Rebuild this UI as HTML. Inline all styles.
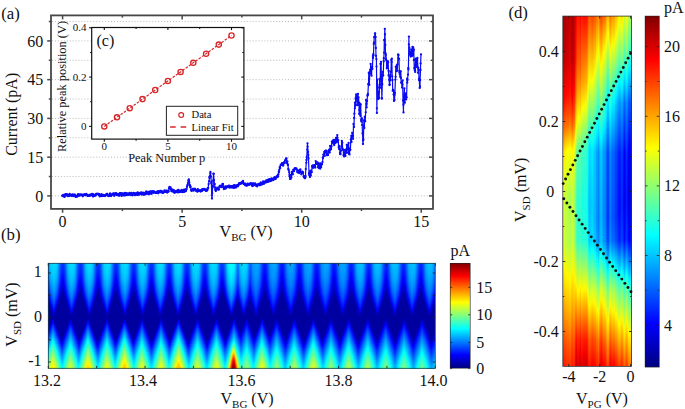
<!DOCTYPE html>
<html><head><meta charset="utf-8"><style>
html,body{margin:0;padding:0;background:#fff;}
body{width:685px;height:409px;overflow:hidden;position:relative;font-family:"Liberation Serif",serif;}
svg{position:absolute;left:0;top:0;}
svg text{font-family:"Liberation Serif",serif;fill:#111;}
</style></head><body>
<div style="position:absolute;left:48.3px;top:263.30px;width:387.0px;height:1.30px;background:linear-gradient(90deg,#006fff 0px,#00bfff 2px,#00d6ff 3px,#00dfff 7px,#00cfff 9px,#0041ff 13px,#0031ff 15px,#003aff 16px,#0079ff 18px,#00c6ff 20px,#00deff 22px,#00d9ff 26px,#00c9ff 27px,#0056ff 30px,#003cff 31px,#0033ff 33px,#003eff 34px,#00cdff 38px,#00e2ff 41px,#00d8ff 44px,#009dff 46px,#004eff 48px,#0030ff 50px,#0044ff 52px,#00d2ff 56px,#00e0ff 60px,#00d4ff 62px,#0092ff 64px,#0047ff 66px,#0030ff 68px,#004bff 70px,#00bfff 73px,#00d6ff 74px,#00dfff 78px,#00cfff 80px,#0041ff 84px,#0031ff 86px,#003aff 87px,#0079ff 89px,#00c6ff 91px,#00deff 93px,#00d9ff 97px,#00c9ff 98px,#0056ff 101px,#003cff 102px,#0033ff 104px,#003eff 105px,#00cdff 109px,#00e2ff 112px,#00d8ff 115px,#009dff 117px,#004eff 119px,#0030ff 121px,#0044ff 123px,#00d2ff 127px,#00e0ff 131px,#00d4ff 133px,#0092ff 135px,#0047ff 137px,#0030ff 139px,#004bff 141px,#00bfff 144px,#00d6ff 145px,#00dfff 149px,#00cfff 151px,#0041ff 155px,#0031ff 157px,#003aff 158px,#0079ff 160px,#00c6ff 162px,#00deff 164px,#00d9ff 168px,#00c9ff 169px,#0056ff 172px,#003cff 173px,#0051ff 176px,#009eff 178px,#00f1ff 180px,#05fffa 182px,#00fcff 186px,#00e4ff 187px,#008cff 189px,#0073ff 190px,#00c2ff 192px,#00d8ff 193px,#00dfff 197px,#00cdff 199px,#005cff 202px,#0066ff 203px,#009dff 205px,#00a7ff 209px,#009dff 211px,#0028ff 215px,#0019ff 217px,#0039ff 219px,#0097ff 222px,#00a8ff 226px,#00a1ff 228px,#0072ff 230px,#0031ff 232px,#0017ff 234px,#002fff 236px,#008fff 239px,#00a5ff 241px,#00a3ff 245px,#007dff 247px,#0022ff 250px,#001aff 252px,#0042ff 254px,#009cff 257px,#00a7ff 261px,#009eff 263px,#0029ff 267px,#0018ff 269px,#0037ff 271px,#0096ff 274px,#00a8ff 278px,#00a1ff 280px,#0073ff 282px,#0032ff 284px,#0017ff 286px,#002eff 288px,#008dff 291px,#00a5ff 293px,#00a3ff 297px,#0099ff 298px,#0023ff 302px,#0027ff 304px,#0052ff 306px,#00b6ff 309px,#00c4ff 313px,#00baff 315px,#007fff 317px,#0039ff 319px,#0025ff 321px,#0046ff 323px,#00afff 326px,#00c5ff 329px,#00bdff 332px,#008cff 334px,#0043ff 336px,#0024ff 338px,#003cff 340px,#00a5ff 343px,#00bbff 344px,#00c3ff 348px,#00b4ff 350px,#0032ff 354px,#0027ff 356px,#0050ff 358px,#00b5ff 361px,#00c4ff 365px,#00baff 367px,#0081ff 369px,#003bff 371px,#0025ff 373px,#0045ff 375px,#00aeff 378px,#00c2ff 380px,#00bdff 384px,#00aeff 385px,#007bff 387px)"></div>
<div style="position:absolute;left:48.3px;top:264.30px;width:387.0px;height:1.30px;background:linear-gradient(90deg,#006dff 0px,#00bdff 2px,#00d5ff 3px,#00deff 7px,#00cdff 9px,#003fff 13px,#002fff 15px,#0038ff 16px,#0077ff 18px,#00c4ff 20px,#00dcff 22px,#00d8ff 26px,#00c7ff 27px,#0054ff 30px,#003aff 31px,#0031ff 33px,#003cff 34px,#00cbff 38px,#00e1ff 41px,#00d6ff 44px,#009bff 46px,#004cff 48px,#002eff 50px,#0042ff 52px,#00d1ff 56px,#00dfff 60px,#00d2ff 62px,#0090ff 64px,#0045ff 66px,#002dff 68px,#0049ff 70px,#00bdff 73px,#00d5ff 74px,#00deff 78px,#00cdff 80px,#003fff 84px,#002fff 86px,#0038ff 87px,#0077ff 89px,#00c4ff 91px,#00dcff 93px,#00d8ff 97px,#00c7ff 98px,#0054ff 101px,#003aff 102px,#0031ff 104px,#003cff 105px,#00cbff 109px,#00e1ff 112px,#00d6ff 115px,#009bff 117px,#004cff 119px,#002eff 121px,#0042ff 123px,#00d1ff 127px,#00dfff 131px,#00d2ff 133px,#0090ff 135px,#0045ff 137px,#002dff 139px,#0049ff 141px,#00bdff 144px,#00d5ff 145px,#00deff 149px,#00cdff 151px,#003fff 155px,#002fff 157px,#0038ff 158px,#0077ff 160px,#00c4ff 162px,#00dcff 164px,#00d8ff 168px,#00c7ff 169px,#0054ff 172px,#003aff 173px,#004fff 176px,#009cff 178px,#00eeff 180px,#04fffb 182px,#00faff 186px,#00e2ff 187px,#0089ff 189px,#0071ff 190px,#00c0ff 192px,#00d6ff 193px,#00ddff 197px,#00cbff 199px,#005aff 202px,#0064ff 203px,#009bff 205px,#00a6ff 209px,#009bff 211px,#0027ff 215px,#0017ff 217px,#0037ff 219px,#0095ff 222px,#00a7ff 226px,#009fff 228px,#0070ff 230px,#002fff 232px,#0015ff 234px,#002eff 236px,#008dff 239px,#00a4ff 241px,#00a1ff 245px,#007bff 247px,#0021ff 250px,#0018ff 252px,#0040ff 254px,#009bff 257px,#00a6ff 261px,#009cff 263px,#0028ff 267px,#0016ff 269px,#0036ff 271px,#0094ff 274px,#00a7ff 278px,#00a0ff 280px,#0072ff 282px,#0030ff 284px,#0015ff 286px,#002cff 288px,#008cff 291px,#00a3ff 293px,#00a1ff 297px,#007dff 299px,#0022ff 302px,#0025ff 304px,#0050ff 306px,#00b5ff 309px,#00c3ff 313px,#00b8ff 315px,#007dff 317px,#0038ff 319px,#0023ff 321px,#0044ff 323px,#00adff 326px,#00c4ff 329px,#00bcff 332px,#008aff 334px,#0041ff 336px,#0022ff 338px,#003aff 340px,#00a3ff 343px,#00b9ff 344px,#00c1ff 348px,#00b3ff 350px,#0031ff 354px,#0025ff 356px,#004eff 358px,#00b4ff 361px,#00c3ff 365px,#00b9ff 367px,#007fff 369px,#0039ff 371px,#0023ff 373px,#0043ff 375px,#00acff 378px,#00c4ff 381px,#00bcff 384px,#0079ff 387px)"></div>
<div style="position:absolute;left:48.3px;top:265.30px;width:387.0px;height:1.30px;background:linear-gradient(90deg,#006bff 0px,#00bbff 2px,#00d3ff 3px,#00dcff 7px,#00ccff 9px,#003dff 13px,#002dff 15px,#0036ff 16px,#0075ff 18px,#00c2ff 20px,#00dbff 22px,#00d6ff 26px,#00c5ff 27px,#0052ff 30px,#0037ff 31px,#002eff 33px,#003aff 34px,#00c9ff 38px,#00e0ff 41px,#00d4ff 44px,#0099ff 46px,#004aff 48px,#002bff 50px,#0040ff 52px,#00cfff 56px,#00ddff 60px,#00d1ff 62px,#008eff 64px,#0043ff 66px,#002bff 68px,#0047ff 70px,#00bbff 73px,#00d3ff 74px,#00dcff 78px,#00ccff 80px,#003dff 84px,#002dff 86px,#0036ff 87px,#0075ff 89px,#00c2ff 91px,#00dbff 93px,#00d6ff 97px,#00c5ff 98px,#0052ff 101px,#0037ff 102px,#002eff 104px,#003aff 105px,#00c9ff 109px,#00e0ff 112px,#00d4ff 115px,#0099ff 117px,#004aff 119px,#002bff 121px,#0040ff 123px,#00cfff 127px,#00ddff 131px,#00d1ff 133px,#008eff 135px,#0043ff 137px,#002bff 139px,#0047ff 141px,#00bbff 144px,#00d3ff 145px,#00dcff 149px,#00ccff 151px,#003dff 155px,#002dff 157px,#0036ff 158px,#0075ff 160px,#00c2ff 162px,#00dbff 164px,#00d6ff 168px,#00c5ff 169px,#0052ff 172px,#0037ff 173px,#004dff 176px,#009aff 178px,#00ecff 180px,#02fffd 182px,#00f8ff 186px,#00e0ff 187px,#0087ff 189px,#006fff 190px,#00beff 192px,#00d4ff 193px,#00dcff 197px,#00c9ff 199px,#0058ff 202px,#0062ff 203px,#009aff 205px,#00a5ff 209px,#009aff 211px,#0025ff 215px,#0015ff 217px,#0036ff 219px,#0094ff 222px,#00a6ff 226px,#009eff 228px,#006eff 230px,#002dff 232px,#0013ff 234px,#002cff 236px,#008bff 239px,#00a2ff 241px,#00a0ff 245px,#007aff 247px,#001fff 250px,#0016ff 252px,#003fff 254px,#0099ff 257px,#00a5ff 261px,#009bff 263px,#0026ff 267px,#0014ff 269px,#0034ff 271px,#0092ff 274px,#00a6ff 278px,#009eff 280px,#0070ff 282px,#002fff 284px,#0013ff 286px,#002bff 288px,#008aff 291px,#00a2ff 293px,#00a0ff 297px,#007bff 299px,#0020ff 302px,#0023ff 304px,#004eff 306px,#00b3ff 309px,#00c1ff 313px,#00b6ff 315px,#007bff 317px,#0036ff 319px,#0021ff 321px,#0043ff 323px,#00abff 326px,#00c3ff 329px,#00baff 332px,#0088ff 334px,#003fff 336px,#0020ff 338px,#0038ff 340px,#00a2ff 343px,#00b8ff 344px,#00c0ff 348px,#00b1ff 350px,#002fff 354px,#0023ff 356px,#004cff 358px,#00b2ff 361px,#00c2ff 365px,#00b7ff 367px,#007dff 369px,#0037ff 371px,#0020ff 373px,#0041ff 375px,#00aaff 378px,#00c3ff 381px,#00baff 384px,#0077ff 387px)"></div>
<div style="position:absolute;left:48.3px;top:266.30px;width:387.0px;height:1.30px;background:linear-gradient(90deg,#0069ff 0px,#00b9ff 2px,#00d1ff 3px,#00dbff 7px,#00caff 9px,#003aff 13px,#002aff 15px,#004dff 17px,#00c0ff 20px,#00d9ff 22px,#00d4ff 26px,#00c3ff 27px,#0050ff 30px,#0035ff 31px,#002cff 33px,#0038ff 34px,#00c7ff 38px,#00dfff 41px,#00d2ff 44px,#0096ff 46px,#0048ff 48px,#0029ff 50px,#003eff 52px,#00cdff 56px,#00dcff 60px,#00cfff 62px,#008cff 64px,#0041ff 66px,#0028ff 68px,#0045ff 70px,#00b9ff 73px,#00d1ff 74px,#00dbff 78px,#00caff 80px,#003aff 84px,#002aff 86px,#004dff 88px,#00c0ff 91px,#00d9ff 93px,#00d4ff 97px,#00c3ff 98px,#0050ff 101px,#0035ff 102px,#002cff 104px,#0038ff 105px,#00c7ff 109px,#00dfff 112px,#00d2ff 115px,#0096ff 117px,#0048ff 119px,#0029ff 121px,#003eff 123px,#00cdff 127px,#00dcff 131px,#00cfff 133px,#008cff 135px,#0041ff 137px,#0028ff 139px,#0045ff 141px,#00b9ff 144px,#00d1ff 145px,#00dbff 149px,#00caff 151px,#003aff 155px,#002aff 157px,#004dff 159px,#00c0ff 162px,#00d9ff 164px,#00d4ff 168px,#00c3ff 169px,#0050ff 172px,#0035ff 173px,#003cff 175px,#004aff 176px,#0097ff 178px,#00eaff 180px,#00ffff 182px,#00f6ff 186px,#00ddff 187px,#0085ff 189px,#006dff 190px,#00bcff 192px,#00d2ff 193px,#00daff 197px,#00c7ff 199px,#0055ff 202px,#0060ff 203px,#0098ff 205px,#00a4ff 209px,#0098ff 211px,#0023ff 215px,#0013ff 217px,#0034ff 219px,#0092ff 222px,#00a5ff 226px,#009cff 228px,#006cff 230px,#002cff 232px,#0011ff 234px,#002aff 236px,#008aff 239px,#00a1ff 241px,#009eff 245px,#0078ff 247px,#001dff 250px,#0015ff 252px,#003dff 254px,#0098ff 257px,#00a4ff 261px,#0099ff 263px,#0024ff 267px,#0012ff 269px,#0032ff 271px,#0091ff 274px,#00a5ff 278px,#009dff 280px,#006eff 282px,#002dff 284px,#0011ff 286px,#0029ff 288px,#0088ff 291px,#00a1ff 293px,#009fff 297px,#007aff 299px,#001eff 302px,#0021ff 304px,#004cff 306px,#00b1ff 309px,#00c0ff 313px,#00b5ff 315px,#0079ff 317px,#0034ff 319px,#001eff 321px,#0041ff 323px,#00a9ff 326px,#00c2ff 329px,#00b8ff 332px,#0086ff 334px,#003eff 336px,#001eff 338px,#0036ff 340px,#00a0ff 343px,#00b6ff 344px,#00bfff 348px,#00afff 350px,#002dff 354px,#0020ff 356px,#004aff 358px,#00b0ff 361px,#00c0ff 365px,#00b5ff 367px,#007bff 369px,#0035ff 371px,#001eff 373px,#003fff 375px,#00a8ff 378px,#00c2ff 381px,#00b9ff 384px,#0075ff 387px)"></div>
<div style="position:absolute;left:48.3px;top:267.30px;width:387.0px;height:1.30px;background:linear-gradient(90deg,#0066ff 0px,#00b6ff 2px,#00cfff 3px,#00d9ff 7px,#00c7ff 9px,#0038ff 13px,#0027ff 15px,#004bff 17px,#00beff 20px,#00d7ff 22px,#00d2ff 26px,#00c1ff 27px,#004eff 30px,#0033ff 31px,#0029ff 33px,#0036ff 34px,#00c5ff 38px,#00ddff 41px,#00d0ff 44px,#0094ff 46px,#0046ff 48px,#0026ff 50px,#003cff 52px,#00cbff 56px,#00daff 60px,#00cdff 62px,#008aff 64px,#003fff 66px,#0025ff 68px,#0043ff 70px,#00b6ff 73px,#00cfff 74px,#00d9ff 78px,#00c7ff 80px,#0038ff 84px,#0027ff 86px,#004bff 88px,#00beff 91px,#00d7ff 93px,#00d2ff 97px,#00c1ff 98px,#004eff 101px,#0033ff 102px,#0029ff 104px,#0036ff 105px,#00c5ff 109px,#00ddff 112px,#00d0ff 115px,#0094ff 117px,#0046ff 119px,#0026ff 121px,#003cff 123px,#00cbff 127px,#00daff 131px,#00cdff 133px,#008aff 135px,#003fff 137px,#0025ff 139px,#0043ff 141px,#00b6ff 144px,#00cfff 145px,#00d9ff 149px,#00c7ff 151px,#0038ff 155px,#0027ff 157px,#004bff 159px,#00beff 162px,#00d7ff 164px,#00d2ff 168px,#00c1ff 169px,#004eff 172px,#0033ff 173px,#003aff 175px,#0048ff 176px,#0095ff 178px,#00e8ff 180px,#04fffb 183px,#00f4ff 186px,#00dbff 187px,#0082ff 189px,#006aff 190px,#00baff 192px,#00d0ff 193px,#00d8ff 197px,#00c5ff 199px,#0053ff 202px,#005fff 203px,#0097ff 205px,#00a2ff 209px,#0097ff 211px,#0021ff 215px,#0011ff 217px,#0032ff 219px,#0090ff 222px,#00a4ff 226px,#009bff 228px,#006bff 230px,#002aff 232px,#000fff 234px,#0028ff 236px,#0088ff 239px,#009fff 241px,#009dff 245px,#0076ff 247px,#001bff 250px,#0013ff 252px,#003bff 254px,#0096ff 257px,#00a3ff 261px,#0097ff 263px,#0022ff 267px,#0010ff 269px,#0031ff 271px,#008fff 274px,#00a5ff 277px,#009bff 280px,#006cff 282px,#002bff 284px,#000fff 286px,#0027ff 288px,#0086ff 291px,#009fff 293px,#009dff 297px,#0078ff 299px,#001cff 302px,#001fff 304px,#004aff 306px,#00afff 309px,#00bfff 313px,#00b3ff 315px,#0077ff 317px,#0032ff 319px,#001cff 321px,#003fff 323px,#00a7ff 326px,#00c0ff 329px,#00b7ff 332px,#0084ff 334px,#003bff 336px,#001bff 338px,#0034ff 340px,#009eff 343px,#00baff 345px,#00bdff 348px,#00adff 350px,#002bff 354px,#001eff 356px,#0048ff 358px,#00aeff 361px,#00bfff 365px,#00b3ff 367px,#0079ff 369px,#0033ff 371px,#001cff 373px,#003dff 375px,#00a6ff 378px,#00c0ff 381px,#00b7ff 384px,#0073ff 387px)"></div>
<div style="position:absolute;left:48.3px;top:268.30px;width:387.0px;height:1.30px;background:linear-gradient(90deg,#0064ff 0px,#00b4ff 2px,#00cdff 3px,#00d7ff 7px,#00c5ff 9px,#0036ff 13px,#0025ff 15px,#0048ff 17px,#00bcff 20px,#00d5ff 22px,#00d6ff 25px,#00bfff 27px,#004cff 30px,#0025ff 32px,#0034ff 34px,#00c3ff 38px,#00dcff 41px,#00ceff 44px,#0092ff 46px,#0043ff 48px,#0023ff 50px,#0039ff 52px,#00c8ff 56px,#00ddff 59px,#00caff 62px,#0087ff 64px,#003cff 66px,#0022ff 68px,#0040ff 70px,#00b4ff 73px,#00cdff 74px,#00d7ff 78px,#00c5ff 80px,#0036ff 84px,#0025ff 86px,#0048ff 88px,#00bcff 91px,#00d5ff 93px,#00d6ff 96px,#00bfff 98px,#004cff 101px,#0025ff 103px,#0034ff 105px,#00c3ff 109px,#00dcff 112px,#00ceff 115px,#0092ff 117px,#0043ff 119px,#0023ff 121px,#0039ff 123px,#00c8ff 127px,#00ddff 130px,#00caff 133px,#0087ff 135px,#003cff 137px,#0022ff 139px,#0040ff 141px,#00b4ff 144px,#00cdff 145px,#00d7ff 149px,#00c5ff 151px,#0036ff 155px,#0025ff 157px,#0048ff 159px,#00bcff 162px,#00d5ff 164px,#00d6ff 167px,#00bfff 169px,#004cff 172px,#0031ff 173px,#0037ff 175px,#0045ff 176px,#0092ff 178px,#00e5ff 180px,#02fffd 183px,#00f2ff 186px,#00d8ff 187px,#0080ff 189px,#0068ff 190px,#00b7ff 192px,#00ceff 193px,#00d7ff 197px,#00c3ff 199px,#0051ff 202px,#005dff 203px,#0095ff 205px,#00a1ff 209px,#0095ff 211px,#001fff 215px,#000eff 217px,#0030ff 219px,#008eff 222px,#00a2ff 226px,#0099ff 228px,#0069ff 230px,#0028ff 232px,#000cff 234px,#0026ff 236px,#0086ff 239px,#009eff 241px,#009bff 245px,#0074ff 247px,#0019ff 250px,#0010ff 252px,#0039ff 254px,#0094ff 257px,#00a1ff 261px,#0096ff 263px,#0020ff 267px,#000eff 269px,#002fff 271px,#008dff 274px,#00a3ff 277px,#0099ff 280px,#006aff 282px,#0029ff 284px,#000dff 286px,#0025ff 288px,#0085ff 291px,#009eff 293px,#009bff 297px,#0076ff 299px,#001aff 302px,#001cff 304px,#0048ff 306px,#00adff 309px,#00bdff 313px,#00b1ff 315px,#0075ff 317px,#0030ff 319px,#001aff 321px,#003cff 323px,#00a5ff 326px,#00bfff 329px,#00b5ff 332px,#0082ff 334px,#0039ff 336px,#0019ff 338px,#0032ff 340px,#009cff 343px,#00b9ff 345px,#00bcff 348px,#00abff 350px,#0028ff 354px,#001cff 356px,#0046ff 358px,#00acff 361px,#00bdff 365px,#00b1ff 367px,#0077ff 369px,#0031ff 371px,#0019ff 373px,#003bff 375px,#00a4ff 378px,#00bfff 381px,#00b5ff 384px,#0071ff 387px)"></div>
<div style="position:absolute;left:48.3px;top:269.30px;width:387.0px;height:1.30px;background:linear-gradient(90deg,#0061ff 0px,#00b2ff 2px,#00cbff 3px,#00d6ff 7px,#00c3ff 9px,#0033ff 13px,#0022ff 15px,#0046ff 17px,#00b9ff 20px,#00d4ff 22px,#00d4ff 25px,#00bcff 27px,#0049ff 30px,#0022ff 32px,#0031ff 34px,#00c0ff 38px,#00daff 41px,#00ccff 44px,#008fff 46px,#0041ff 48px,#0020ff 50px,#0037ff 52px,#00c6ff 56px,#00dbff 59px,#00c8ff 62px,#0085ff 64px,#003aff 66px,#001fff 68px,#003eff 70px,#00b2ff 73px,#00cbff 74px,#00d6ff 78px,#00c3ff 80px,#0033ff 84px,#0022ff 86px,#0046ff 88px,#00b9ff 91px,#00d4ff 93px,#00d4ff 96px,#00bcff 98px,#0049ff 101px,#0022ff 103px,#0031ff 105px,#00c0ff 109px,#00daff 112px,#00ccff 115px,#008fff 117px,#0041ff 119px,#0020ff 121px,#0037ff 123px,#00c6ff 127px,#00dbff 130px,#00c8ff 133px,#0085ff 135px,#003aff 137px,#001fff 139px,#003eff 141px,#00b2ff 144px,#00cbff 145px,#00d6ff 149px,#00c3ff 151px,#0033ff 155px,#0022ff 157px,#0046ff 159px,#00b9ff 162px,#00d4ff 164px,#00d4ff 167px,#00bcff 169px,#0049ff 172px,#002eff 173px,#0033ff 175px,#0042ff 176px,#008fff 178px,#00e2ff 180px,#00ffff 183px,#00efff 186px,#00d6ff 187px,#007dff 189px,#0065ff 190px,#00b5ff 192px,#00ccff 193px,#00d5ff 197px,#00c0ff 199px,#004eff 202px,#005bff 203px,#0093ff 205px,#00a0ff 209px,#0093ff 211px,#001dff 215px,#000cff 217px,#002eff 219px,#008cff 222px,#00a1ff 226px,#0097ff 228px,#0067ff 230px,#0026ff 232px,#000aff 234px,#0024ff 236px,#0084ff 239px,#009cff 241px,#0099ff 245px,#0072ff 247px,#0017ff 250px,#000eff 252px,#0037ff 254px,#0092ff 257px,#00a0ff 261px,#0094ff 263px,#001eff 267px,#000cff 269px,#002dff 271px,#008bff 274px,#00a2ff 277px,#0098ff 280px,#0068ff 282px,#0027ff 284px,#000aff 286px,#0023ff 288px,#0082ff 291px,#009cff 293px,#009aff 297px,#0074ff 299px,#0018ff 302px,#001aff 304px,#0046ff 306px,#00abff 309px,#00bcff 313px,#00afff 315px,#0072ff 317px,#002dff 319px,#0017ff 321px,#003aff 323px,#00a3ff 326px,#00beff 329px,#00b3ff 332px,#0080ff 334px,#0037ff 336px,#0016ff 338px,#0030ff 340px,#0099ff 343px,#00b7ff 345px,#00baff 348px,#00a9ff 350px,#0026ff 354px,#0019ff 356px,#0044ff 358px,#00aaff 361px,#00bcff 365px,#00afff 367px,#0074ff 369px,#002fff 371px,#0016ff 373px,#0039ff 375px,#00a2ff 378px,#00bdff 381px,#00b3ff 384px,#006fff 387px)"></div>
<div style="position:absolute;left:48.3px;top:270.30px;width:387.0px;height:1.30px;background:linear-gradient(90deg,#005fff 0px,#00afff 2px,#00c8ff 3px,#00d9ff 6px,#00c0ff 9px,#0031ff 13px,#001fff 15px,#0043ff 17px,#00b7ff 20px,#00d2ff 22px,#00d2ff 25px,#00baff 27px,#0047ff 30px,#001fff 32px,#002eff 34px,#00beff 38px,#00d8ff 41px,#00c9ff 44px,#008dff 46px,#003eff 48px,#001dff 50px,#0034ff 52px,#00c4ff 56px,#00daff 59px,#00c6ff 62px,#0082ff 64px,#0037ff 66px,#001cff 68px,#003bff 70px,#00afff 73px,#00c8ff 74px,#00d9ff 77px,#00c0ff 80px,#0031ff 84px,#001fff 86px,#0043ff 88px,#00b7ff 91px,#00d2ff 93px,#00d2ff 96px,#00baff 98px,#0047ff 101px,#001fff 103px,#002eff 105px,#00beff 109px,#00d8ff 112px,#00c9ff 115px,#008dff 117px,#003eff 119px,#001dff 121px,#0034ff 123px,#00c4ff 127px,#00daff 130px,#00c6ff 133px,#0082ff 135px,#0037ff 137px,#001cff 139px,#003bff 141px,#00afff 144px,#00c8ff 145px,#00d9ff 148px,#00c0ff 151px,#0031ff 155px,#001fff 157px,#0043ff 159px,#00b7ff 162px,#00d2ff 164px,#00d2ff 167px,#00baff 169px,#0047ff 172px,#002bff 173px,#0025ff 174px,#003fff 176px,#008cff 178px,#00e0ff 180px,#00fdff 183px,#00edff 186px,#00d3ff 187px,#007aff 189px,#0063ff 190px,#00b2ff 192px,#00c9ff 193px,#00d8ff 196px,#00beff 199px,#004cff 202px,#0058ff 203px,#0091ff 205px,#009eff 209px,#0091ff 211px,#001bff 215px,#000aff 217px,#002cff 219px,#008aff 222px,#00a0ff 226px,#0095ff 228px,#0064ff 230px,#0024ff 232px,#0007ff 234px,#0022ff 236px,#0082ff 239px,#009bff 241px,#009dff 244px,#008bff 246px,#0015ff 250px,#000cff 252px,#0035ff 254px,#0090ff 257px,#009eff 261px,#0092ff 263px,#001cff 267px,#0009ff 269px,#002aff 271px,#0089ff 274px,#00a1ff 277px,#0096ff 280px,#0066ff 282px,#0025ff 284px,#0008ff 286px,#0021ff 288px,#0080ff 291px,#009bff 293px,#009dff 296px,#008cff 298px,#0016ff 302px,#000eff 303px,#0026ff 305px,#00a9ff 309px,#00beff 312px,#00acff 315px,#0070ff 317px,#002bff 319px,#0014ff 321px,#0038ff 323px,#00a1ff 326px,#00bcff 329px,#00b1ff 332px,#007dff 334px,#0035ff 336px,#0013ff 338px,#002eff 340px,#0097ff 343px,#00b5ff 345px,#00b8ff 348px,#00a7ff 350px,#0024ff 354px,#0017ff 356px,#0042ff 358px,#00a8ff 361px,#00baff 365px,#00adff 367px,#0072ff 369px,#002cff 371px,#0014ff 373px,#0036ff 375px,#00a0ff 378px,#00bcff 381px,#00b1ff 384px,#006cff 387px)"></div>
<div style="position:absolute;left:48.3px;top:271.30px;width:387.0px;height:1.30px;background:linear-gradient(90deg,#005cff 0px,#00acff 2px,#00c6ff 3px,#00d7ff 6px,#00beff 9px,#002eff 13px,#001bff 15px,#0040ff 17px,#00b4ff 20px,#00d0ff 22px,#00d0ff 25px,#00b7ff 27px,#0044ff 30px,#001cff 32px,#002cff 34px,#00bbff 38px,#00d7ff 41px,#00c7ff 44px,#008aff 46px,#003cff 48px,#001aff 50px,#0032ff 52px,#00c1ff 56px,#00d8ff 59px,#00c3ff 62px,#007fff 64px,#0034ff 66px,#0019ff 68px,#0039ff 70px,#00acff 73px,#00c6ff 74px,#00d7ff 77px,#00beff 80px,#002eff 84px,#001bff 86px,#0040ff 88px,#00b4ff 91px,#00d0ff 93px,#00d0ff 96px,#00b7ff 98px,#0044ff 101px,#001cff 103px,#002cff 105px,#00bbff 109px,#00d7ff 112px,#00c7ff 115px,#008aff 117px,#003cff 119px,#001aff 121px,#0032ff 123px,#00c1ff 127px,#00d8ff 130px,#00c3ff 133px,#007fff 135px,#0034ff 137px,#0019ff 139px,#0039ff 141px,#00acff 144px,#00c6ff 145px,#00d7ff 148px,#00beff 151px,#002eff 155px,#001bff 157px,#0040ff 159px,#00b4ff 162px,#00d0ff 164px,#00d0ff 167px,#00b7ff 169px,#0044ff 172px,#0028ff 173px,#0021ff 174px,#003cff 176px,#0089ff 178px,#00ddff 180px,#00fbff 183px,#00eaff 186px,#00d0ff 187px,#0077ff 189px,#0060ff 190px,#00b0ff 192px,#00cfff 194px,#00d1ff 197px,#00bbff 199px,#0049ff 202px,#0056ff 203px,#008fff 205px,#009dff 209px,#008fff 211px,#0019ff 215px,#0007ff 217px,#002aff 219px,#0088ff 222px,#009eff 226px,#0093ff 228px,#0062ff 230px,#0021ff 232px,#0005ff 234px,#0020ff 236px,#007fff 239px,#0099ff 241px,#009bff 244px,#0089ff 246px,#0013ff 250px,#0009ff 252px,#0033ff 254px,#008eff 257px,#009dff 261px,#0090ff 263px,#001aff 267px,#0007ff 269px,#0028ff 271px,#0087ff 274px,#009fff 277px,#0094ff 280px,#0064ff 282px,#000eff 285px,#0005ff 286px,#001fff 288px,#007eff 291px,#0099ff 293px,#009bff 296px,#008aff 298px,#0014ff 302px,#000bff 303px,#0023ff 305px,#00a7ff 309px,#00bcff 312px,#00aaff 315px,#006dff 317px,#0028ff 319px,#0011ff 321px,#0035ff 323px,#009fff 326px,#00bbff 329px,#00aeff 332px,#007bff 334px,#0032ff 336px,#0010ff 338px,#002bff 340px,#0095ff 343px,#00b3ff 345px,#00b7ff 348px,#00a4ff 350px,#0021ff 354px,#0014ff 356px,#003fff 358px,#00a6ff 361px,#00bcff 364px,#00abff 367px,#006fff 369px,#002aff 371px,#0011ff 373px,#0034ff 375px,#009dff 378px,#00baff 381px,#00afff 384px,#006aff 387px)"></div>
<div style="position:absolute;left:48.3px;top:272.30px;width:387.0px;height:1.30px;background:linear-gradient(90deg,#0059ff 0px,#00a9ff 2px,#00c3ff 3px,#00d6ff 6px,#00bbff 9px,#002bff 13px,#0018ff 15px,#003eff 17px,#00b1ff 20px,#00cdff 22px,#00ceff 25px,#00b4ff 27px,#0041ff 30px,#0019ff 32px,#0029ff 34px,#00b9ff 38px,#00d5ff 41px,#00c4ff 44px,#0087ff 46px,#0039ff 48px,#0016ff 50px,#002fff 52px,#00beff 56px,#00d6ff 59px,#00c0ff 62px,#007cff 64px,#0031ff 66px,#0015ff 68px,#0036ff 70px,#00a9ff 73px,#00c3ff 74px,#00d6ff 77px,#00bbff 80px,#002bff 84px,#0018ff 86px,#003eff 88px,#00b1ff 91px,#00cdff 93px,#00ceff 96px,#00b4ff 98px,#0041ff 101px,#0019ff 103px,#0029ff 105px,#00b9ff 109px,#00d5ff 112px,#00c4ff 115px,#0087ff 117px,#0039ff 119px,#0016ff 121px,#002fff 123px,#00beff 127px,#00d6ff 130px,#00c0ff 133px,#007cff 135px,#0031ff 137px,#0015ff 139px,#0036ff 141px,#00a9ff 144px,#00c3ff 145px,#00d6ff 148px,#00bbff 151px,#002bff 155px,#0018ff 157px,#003eff 159px,#00b1ff 162px,#00cdff 164px,#00ceff 167px,#00b4ff 169px,#0041ff 172px,#0026ff 173px,#001dff 174px,#0039ff 176px,#0086ff 178px,#00daff 180px,#00f9ff 183px,#00e7ff 186px,#00a2ff 188px,#0073ff 189px,#005dff 190px,#00adff 192px,#00ccff 194px,#00cfff 197px,#00b9ff 199px,#0046ff 202px,#0054ff 203px,#008dff 205px,#00a0ff 208px,#008dff 211px,#0016ff 215px,#0004ff 217px,#0027ff 219px,#0086ff 222px,#009dff 226px,#0091ff 228px,#0060ff 230px,#001fff 232px,#0002ff 234px,#001eff 236px,#007dff 239px,#0097ff 241px,#0099ff 244px,#0087ff 246px,#0010ff 250px,#0007ff 252px,#0030ff 254px,#008cff 257px,#009fff 260px,#008dff 263px,#0018ff 267px,#0004ff 269px,#0026ff 271px,#0085ff 274px,#009eff 277px,#0092ff 280px,#0061ff 282px,#000cff 285px,#0002ff 286px,#001cff 288px,#007cff 291px,#0097ff 293px,#009aff 296px,#0088ff 298px,#0011ff 302px,#0008ff 303px,#0021ff 305px,#00a4ff 309px,#00bbff 312px,#00a8ff 315px,#0026ff 319px,#000eff 321px,#0033ff 323px,#009cff 326px,#00b9ff 329px,#00acff 332px,#0078ff 334px,#0030ff 336px,#000dff 338px,#0028ff 340px,#0092ff 343px,#00b1ff 345px,#00b5ff 348px,#00a2ff 350px,#001fff 354px,#0011ff 356px,#003cff 358px,#00a3ff 361px,#00baff 364px,#00a9ff 367px,#006dff 369px,#0027ff 371px,#000eff 373px,#0031ff 375px,#009bff 378px,#00b9ff 381px,#00acff 384px,#0067ff 387px)"></div>
<div style="position:absolute;left:48.3px;top:273.30px;width:387.0px;height:1.30px;background:linear-gradient(90deg,#0056ff 0px,#00a6ff 2px,#00c0ff 3px,#00d4ff 6px,#00b8ff 9px,#0028ff 13px,#0014ff 15px,#003aff 17px,#00afff 20px,#00cbff 22px,#00ccff 25px,#00b2ff 27px,#003eff 30px,#0015ff 32px,#0026ff 34px,#00b6ff 38px,#00d3ff 41px,#00c2ff 44px,#0084ff 46px,#0036ff 48px,#0013ff 50px,#002cff 52px,#00bcff 56px,#00d5ff 59px,#00beff 62px,#0079ff 64px,#002eff 66px,#0011ff 68px,#0033ff 70px,#00a6ff 73px,#00c0ff 74px,#00d4ff 77px,#00b8ff 80px,#0028ff 84px,#0014ff 86px,#003aff 88px,#00afff 91px,#00cbff 93px,#00ccff 96px,#00b2ff 98px,#003eff 101px,#0015ff 103px,#0026ff 105px,#00b6ff 109px,#00d3ff 112px,#00c2ff 115px,#0084ff 117px,#0036ff 119px,#0013ff 121px,#002cff 123px,#00bcff 127px,#00d5ff 130px,#00beff 133px,#0079ff 135px,#002eff 137px,#0011ff 139px,#0033ff 141px,#00a6ff 144px,#00c0ff 145px,#00d4ff 148px,#00b8ff 151px,#0028ff 155px,#0014ff 157px,#003aff 159px,#00afff 162px,#00cbff 164px,#00ccff 167px,#00b2ff 169px,#003eff 172px,#0022ff 173px,#0018ff 174px,#0035ff 176px,#0083ff 178px,#00d6ff 180px,#00f7ff 183px,#00e4ff 186px,#009fff 188px,#0070ff 189px,#005aff 190px,#00aaff 192px,#00caff 194px,#00cdff 197px,#00b6ff 199px,#0043ff 202px,#0051ff 203px,#008aff 205px,#009eff 208px,#008aff 211px,#0014ff 215px,#0001ff 217px,#0025ff 219px,#0083ff 222px,#009cff 225px,#008fff 228px,#005dff 230px,#001cff 232px,#0000fe 234px,#001bff 236px,#007bff 239px,#0095ff 241px,#0098ff 244px,#0084ff 246px,#000eff 250px,#0004ff 252px,#002eff 254px,#0089ff 257px,#009eff 260px,#008bff 263px,#0015ff 267px,#0001ff 269px,#0023ff 271px,#0082ff 274px,#009cff 277px,#008fff 280px,#005fff 282px,#0009ff 285px,#0007ff 287px,#0037ff 289px,#0079ff 291px,#0095ff 293px,#0098ff 296px,#0086ff 298px,#000fff 302px,#0004ff 303px,#001eff 305px,#00a2ff 309px,#00b9ff 312px,#00a5ff 315px,#0023ff 319px,#000bff 321px,#0030ff 323px,#0099ff 326px,#00b7ff 329px,#00aaff 332px,#0075ff 334px,#002dff 336px,#000aff 338px,#0026ff 340px,#008fff 343px,#00afff 345px,#00b3ff 348px,#009fff 350px,#001cff 354px,#000eff 356px,#003aff 358px,#00a0ff 361px,#00b9ff 364px,#00a6ff 367px,#006aff 369px,#0024ff 371px,#000aff 373px,#002eff 375px,#0098ff 378px,#00b7ff 381px,#00aaff 384px,#0064ff 387px)"></div>
<div style="position:absolute;left:48.3px;top:274.30px;width:387.0px;height:1.30px;background:linear-gradient(90deg,#0053ff 0px,#00a3ff 2px,#00bdff 3px,#00d2ff 6px,#00b5ff 9px,#0025ff 13px,#0010ff 15px,#0037ff 17px,#00abff 20px,#00c9ff 22px,#00c9ff 25px,#00aeff 27px,#003bff 30px,#0012ff 32px,#0022ff 34px,#00b3ff 38px,#00d1ff 41px,#00bfff 44px,#0081ff 46px,#0032ff 48px,#000fff 50px,#0028ff 52px,#00b9ff 56px,#00d3ff 59px,#00bbff 62px,#002bff 66px,#000eff 68px,#002fff 70px,#00a3ff 73px,#00bdff 74px,#00d2ff 77px,#00b5ff 80px,#0025ff 84px,#0010ff 86px,#0037ff 88px,#00abff 91px,#00c9ff 93px,#00c9ff 96px,#00aeff 98px,#003bff 101px,#0012ff 103px,#0022ff 105px,#00b3ff 109px,#00d1ff 112px,#00bfff 115px,#0081ff 117px,#0032ff 119px,#000fff 121px,#0028ff 123px,#00b9ff 127px,#00d3ff 130px,#00bbff 133px,#002bff 137px,#000eff 139px,#002fff 141px,#00a3ff 144px,#00bdff 145px,#00d2ff 148px,#00b5ff 151px,#0025ff 155px,#0010ff 157px,#0037ff 159px,#00abff 162px,#00c9ff 164px,#00c9ff 167px,#00aeff 169px,#003bff 172px,#0014ff 174px,#0032ff 176px,#007fff 178px,#00d3ff 180px,#00f5ff 183px,#00e1ff 186px,#009bff 188px,#006cff 189px,#0057ff 190px,#00a7ff 192px,#00c8ff 194px,#00caff 197px,#00b3ff 199px,#0040ff 202px,#004eff 203px,#0088ff 205px,#009dff 208px,#0088ff 211px,#0011ff 215px,#0000fd 217px,#0022ff 219px,#0081ff 222px,#009bff 225px,#008dff 228px,#005aff 230px,#001aff 232px,#0000fb 234px,#0018ff 236px,#0078ff 239px,#0093ff 241px,#0096ff 244px,#0082ff 246px,#000bff 250px,#0001ff 252px,#002bff 254px,#0087ff 257px,#009cff 260px,#0089ff 263px,#0012ff 267px,#0000fd 269px,#0021ff 271px,#0080ff 274px,#009bff 277px,#008dff 280px,#005cff 282px,#0006ff 285px,#0004ff 287px,#0035ff 289px,#0077ff 291px,#0093ff 293px,#0096ff 296px,#0083ff 298px,#000cff 302px,#0000ff 303px,#001bff 305px,#009fff 309px,#00b7ff 312px,#00a3ff 315px,#0020ff 319px,#0008ff 321px,#002dff 323px,#0096ff 326px,#00b5ff 329px,#00a7ff 332px,#0072ff 334px,#002aff 336px,#0006ff 338px,#0023ff 340px,#008cff 343px,#00adff 345px,#00b1ff 348px,#009dff 350px,#0019ff 354px,#000bff 356px,#0037ff 358px,#009eff 361px,#00b7ff 364px,#00a3ff 367px,#0067ff 369px,#0021ff 371px,#0007ff 373px,#002bff 375px,#0095ff 378px,#00b5ff 381px,#00a8ff 384px,#0061ff 387px)"></div>
<div style="position:absolute;left:48.3px;top:275.30px;width:387.0px;height:1.30px;background:linear-gradient(90deg,#004fff 0px,#00a0ff 2px,#00baff 3px,#00d0ff 6px,#00b2ff 9px,#0021ff 13px,#000dff 15px,#0034ff 17px,#00a8ff 20px,#00c6ff 22px,#00c7ff 25px,#00abff 27px,#0037ff 30px,#000eff 32px,#001fff 34px,#00afff 38px,#00cfff 41px,#00bcff 44px,#007dff 46px,#002fff 48px,#000bff 50px,#0025ff 52px,#00b6ff 56px,#00d1ff 59px,#00b8ff 62px,#0028ff 66px,#0009ff 68px,#002cff 70px,#00a0ff 73px,#00baff 74px,#00d0ff 77px,#00b2ff 80px,#0021ff 84px,#000dff 86px,#0034ff 88px,#00a8ff 91px,#00c6ff 93px,#00c7ff 96px,#00abff 98px,#0037ff 101px,#000eff 103px,#001fff 105px,#00afff 109px,#00cfff 112px,#00bcff 115px,#007dff 117px,#002fff 119px,#000bff 121px,#0025ff 123px,#00b6ff 127px,#00d1ff 130px,#00b8ff 133px,#0028ff 137px,#0009ff 139px,#002cff 141px,#00a0ff 144px,#00baff 145px,#00d0ff 148px,#00b2ff 151px,#0021ff 155px,#000dff 157px,#0034ff 159px,#00a8ff 162px,#00c6ff 164px,#00c7ff 167px,#00abff 169px,#0037ff 172px,#000fff 174px,#002eff 176px,#007bff 178px,#00cfff 180px,#00f3ff 183px,#00ddff 186px,#0097ff 188px,#0069ff 189px,#0053ff 190px,#00a3ff 192px,#00c5ff 194px,#00c8ff 197px,#00afff 199px,#003dff 202px,#004cff 203px,#0085ff 205px,#009bff 208px,#0085ff 211px,#000fff 215px,#0000fa 217px,#0007ff 218px,#007eff 222px,#0099ff 225px,#008aff 228px,#0058ff 230px,#0003ff 233px,#0002ff 235px,#0034ff 237px,#0075ff 239px,#0091ff 241px,#0094ff 244px,#007fff 246px,#0008ff 250px,#0000fd 252px,#0028ff 254px,#0084ff 257px,#009bff 260px,#0086ff 263px,#0010ff 267px,#0000fa 269px,#0007ff 270px,#007dff 274px,#0099ff 277px,#008bff 280px,#0059ff 282px,#0003ff 285px,#0001ff 287px,#0032ff 289px,#0074ff 291px,#0091ff 293px,#0094ff 296px,#0080ff 298px,#0009ff 302px,#0000fb 303px,#0018ff 305px,#009cff 309px,#00b5ff 312px,#00a0ff 315px,#001dff 319px,#0004ff 321px,#002aff 323px,#0094ff 326px,#00b3ff 329px,#00a4ff 332px,#006fff 334px,#0027ff 336px,#0003ff 338px,#0020ff 340px,#0089ff 343px,#00aaff 345px,#00afff 348px,#009aff 350px,#0016ff 354px,#0007ff 356px,#0034ff 358px,#009bff 361px,#00b5ff 364px,#00a1ff 367px,#001eff 371px,#0003ff 373px,#0028ff 375px,#0092ff 378px,#00b3ff 381px,#00a5ff 384px,#005eff 387px)"></div>
<div style="position:absolute;left:48.3px;top:276.30px;width:387.0px;height:1.30px;background:linear-gradient(90deg,#004cff 0px,#009cff 2px,#00b7ff 3px,#00cdff 6px,#00afff 9px,#001eff 13px,#0008ff 15px,#0030ff 17px,#00a5ff 20px,#00c4ff 22px,#00c4ff 25px,#00a8ff 27px,#0034ff 30px,#000aff 32px,#001bff 34px,#00acff 38px,#00cdff 41px,#00b9ff 44px,#007aff 46px,#002cff 48px,#0006ff 50px,#0022ff 52px,#00b2ff 56px,#00ceff 59px,#00b4ff 62px,#0024ff 66px,#0005ff 68px,#0029ff 70px,#009cff 73px,#00b7ff 74px,#00cdff 77px,#00afff 80px,#001eff 84px,#0008ff 86px,#0030ff 88px,#00a5ff 91px,#00c4ff 93px,#00c4ff 96px,#00a8ff 98px,#0034ff 101px,#000aff 103px,#001bff 105px,#00acff 109px,#00cdff 112px,#00b9ff 115px,#007aff 117px,#002cff 119px,#0006ff 121px,#0022ff 123px,#00b2ff 127px,#00ceff 130px,#00b4ff 133px,#0024ff 137px,#0005ff 139px,#0029ff 141px,#009cff 144px,#00b7ff 145px,#00cdff 148px,#00afff 151px,#001eff 155px,#0008ff 157px,#0030ff 159px,#00a5ff 162px,#00c4ff 164px,#00c4ff 167px,#00a8ff 169px,#0034ff 172px,#000aff 174px,#002aff 176px,#0077ff 178px,#00ccff 180px,#00f0ff 183px,#00daff 186px,#0093ff 188px,#0065ff 189px,#0050ff 190px,#00a0ff 192px,#00c2ff 194px,#00cdff 196px,#00acff 199px,#0039ff 202px,#0049ff 203px,#0083ff 205px,#0099ff 208px,#0083ff 211px,#000cff 215px,#0000f7 217px,#0004ff 218px,#007bff 222px,#0097ff 225px,#0088ff 228px,#0055ff 230px,#0014ff 232px,#0000ff 233px,#0000f4 234px,#0000fe 235px,#0031ff 237px,#0073ff 239px,#008fff 241px,#0092ff 244px,#007dff 246px,#0005ff 250px,#0000fa 252px,#000aff 253px,#0082ff 257px,#0099ff 260px,#0083ff 263px,#000dff 267px,#0000f6 269px,#0004ff 270px,#007aff 274px,#0097ff 277px,#0088ff 280px,#0056ff 282px,#0000ff 285px,#0000f4 286px,#0000fd 287px,#002fff 289px,#0086ff 292px,#0098ff 295px,#007eff 298px,#0006ff 302px,#0004ff 304px,#0032ff 306px,#0099ff 309px,#00b3ff 312px,#009dff 315px,#001aff 319px,#0000ff 321px,#0027ff 323px,#0090ff 326px,#00b1ff 329px,#00a2ff 332px,#006cff 334px,#0024ff 336px,#0000fe 338px,#001cff 340px,#0086ff 343px,#00a8ff 345px,#00b3ff 347px,#0097ff 350px,#0013ff 354px,#0003ff 355px,#0014ff 357px,#0098ff 361px,#00b3ff 364px,#009eff 367px,#001bff 371px,#0000ff 373px,#0025ff 375px,#008fff 378px,#00b1ff 381px,#00a2ff 384px,#005bff 387px)"></div>
<div style="position:absolute;left:48.3px;top:277.30px;width:387.0px;height:1.30px;background:linear-gradient(90deg,#0048ff 0px,#0099ff 2px,#00b4ff 3px,#00cbff 6px,#00abff 9px,#001aff 13px,#0004ff 15px,#002dff 17px,#00a1ff 20px,#00c1ff 22px,#00c9ff 24px,#00a4ff 27px,#0030ff 30px,#0005ff 32px,#0018ff 34px,#00a9ff 38px,#00caff 41px,#00b5ff 44px,#0076ff 46px,#0028ff 48px,#0002ff 50px,#001eff 52px,#00afff 56px,#00ccff 59px,#00b1ff 62px,#0021ff 66px,#0001ff 68px,#0025ff 70px,#0099ff 73px,#00b4ff 74px,#00cbff 77px,#00abff 80px,#001aff 84px,#0004ff 86px,#002dff 88px,#00a1ff 91px,#00c1ff 93px,#00c9ff 95px,#00a4ff 98px,#0030ff 101px,#0005ff 103px,#0018ff 105px,#00a9ff 109px,#00caff 112px,#00b5ff 115px,#0076ff 117px,#0028ff 119px,#0002ff 121px,#001eff 123px,#00afff 127px,#00ccff 130px,#00b1ff 133px,#0021ff 137px,#0001ff 139px,#0025ff 141px,#0099ff 144px,#00b4ff 145px,#00cbff 148px,#00abff 151px,#001aff 155px,#0004ff 157px,#002dff 159px,#00a1ff 162px,#00c1ff 164px,#00c9ff 166px,#00a4ff 169px,#0030ff 172px,#0005ff 174px,#0026ff 176px,#00c8ff 180px,#00eeff 183px,#00d6ff 186px,#008fff 188px,#0060ff 189px,#004cff 190px,#009cff 192px,#00bfff 194px,#00caff 196px,#00a9ff 199px,#0035ff 202px,#0046ff 203px,#0080ff 205px,#0097ff 208px,#0080ff 211px,#0009ff 215px,#0000f3 217px,#0001ff 218px,#0079ff 222px,#0095ff 225px,#0085ff 228px,#0052ff 230px,#0011ff 232px,#0000fb 233px,#0000f0 234px,#0010ff 236px,#0070ff 239px,#008dff 241px,#008fff 244px,#007aff 246px,#0002ff 250px,#0000f7 252px,#0007ff 253px,#007fff 257px,#0097ff 260px,#0081ff 263px,#000aff 267px,#0000f3 269px,#0000ff 270px,#0077ff 274px,#0095ff 277px,#0085ff 280px,#0053ff 282px,#0012ff 284px,#0000fc 285px,#0000f1 286px,#000eff 288px,#0084ff 292px,#0096ff 295px,#007bff 298px,#0003ff 302px,#0000f4 303px,#0000ff 304px,#002fff 306px,#0096ff 309px,#00b1ff 312px,#009aff 315px,#0016ff 319px,#0003ff 320px,#000aff 322px,#008dff 326px,#00afff 329px,#009fff 332px,#0068ff 334px,#0008ff 337px,#0004ff 339px,#0039ff 341px,#0083ff 343px,#00a5ff 345px,#00b1ff 347px,#0094ff 350px,#000fff 354px,#0000ff 356px,#002dff 358px,#0095ff 361px,#00b1ff 364px,#009bff 367px,#0018ff 371px,#0003ff 372px,#0009ff 374px,#008cff 378px,#00afff 381px,#009fff 384px,#0057ff 387px)"></div>
<div style="position:absolute;left:48.3px;top:278.30px;width:387.0px;height:1.30px;background:linear-gradient(90deg,#0044ff 0px,#0095ff 2px,#00b0ff 3px,#00c9ff 6px,#00a8ff 9px,#0016ff 13px,#0000fe 15px,#0029ff 17px,#009dff 20px,#00beff 22px,#00c7ff 24px,#00a0ff 27px,#002cff 30px,#0001ff 32px,#0014ff 34px,#00a5ff 38px,#00c8ff 41px,#00b2ff 44px,#0072ff 46px,#0024ff 48px,#0000fc 50px,#001aff 52px,#00abff 56px,#00caff 59px,#00adff 62px,#001dff 66px,#0000fb 68px,#0021ff 70px,#0095ff 73px,#00b0ff 74px,#00c9ff 77px,#00a8ff 80px,#0016ff 84px,#0000fe 86px,#0029ff 88px,#009dff 91px,#00beff 93px,#00c7ff 95px,#00a0ff 98px,#002cff 101px,#0001ff 103px,#0014ff 105px,#00a5ff 109px,#00c8ff 112px,#00b2ff 115px,#0072ff 117px,#0024ff 119px,#0000fc 121px,#001aff 123px,#00abff 127px,#00caff 130px,#00adff 133px,#001dff 137px,#0000fb 139px,#0021ff 141px,#0095ff 144px,#00b0ff 145px,#00c9ff 148px,#00a8ff 151px,#0016ff 155px,#0000fe 157px,#0029ff 159px,#009dff 162px,#00beff 164px,#00c7ff 166px,#00a0ff 169px,#002cff 172px,#0001ff 174px,#0021ff 176px,#00c4ff 180px,#00ebff 183px,#00d2ff 186px,#008bff 188px,#005cff 189px,#0048ff 190px,#0098ff 192px,#00bcff 194px,#00c8ff 196px,#00a5ff 199px,#0031ff 202px,#0042ff 203px,#007dff 205px,#0095ff 208px,#007dff 211px,#0005ff 215px,#0000f0 217px,#0000fd 218px,#0075ff 222px,#0093ff 225px,#0082ff 228px,#004eff 230px,#000eff 232px,#0000ec 234px,#000dff 236px,#006cff 239px,#008aff 241px,#008dff 244px,#0077ff 246px,#0000fe 250px,#0000f0 251px,#0004ff 253px,#007cff 257px,#0095ff 260px,#007eff 263px,#0006ff 267px,#0000ef 269px,#0000fc 270px,#0034ff 272px,#0074ff 274px,#0093ff 277px,#0083ff 280px,#0050ff 282px,#000fff 284px,#0000ed 286px,#000bff 288px,#0081ff 292px,#0094ff 295px,#0078ff 298px,#0000ff 302px,#0000f1 303px,#000eff 305px,#0092ff 309px,#00afff 312px,#0096ff 315px,#0013ff 319px,#0000fe 320px,#0006ff 322px,#008aff 326px,#00adff 329px,#009cff 332px,#0065ff 334px,#0004ff 337px,#0000f6 338px,#0000ff 339px,#0036ff 341px,#0098ff 344px,#00afff 347px,#0090ff 350px,#000cff 354px,#0000fb 356px,#000dff 357px,#0091ff 361px,#00afff 364px,#0097ff 367px,#0014ff 371px,#0000ff 372px,#0000f7 373px,#0005ff 374px,#0088ff 378px,#00acff 381px,#009cff 384px,#0054ff 387px)"></div>
<div style="position:absolute;left:48.3px;top:279.30px;width:387.0px;height:1.30px;background:linear-gradient(90deg,#0040ff 0px,#0091ff 2px,#00adff 3px,#00c6ff 6px,#00a4ff 9px,#0012ff 13px,#0000ff 14px,#000aff 16px,#004aff 18px,#0099ff 20px,#00bbff 22px,#00c4ff 24px,#009cff 27px,#0028ff 30px,#0000fb 32px,#000fff 34px,#00a1ff 38px,#00c6ff 41px,#00aeff 44px,#006eff 46px,#0020ff 48px,#0007ff 49px,#0002ff 51px,#0036ff 53px,#00a7ff 56px,#00c7ff 59px,#00aaff 62px,#0018ff 66px,#0003ff 67px,#0000f6 68px,#0005ff 69px,#0040ff 71px,#0091ff 73px,#00adff 74px,#00c6ff 77px,#00a4ff 80px,#0012ff 84px,#0000ff 85px,#000aff 87px,#004aff 89px,#0099ff 91px,#00bbff 93px,#00c4ff 95px,#009cff 98px,#0028ff 101px,#0000fb 103px,#000fff 105px,#00a1ff 109px,#00c6ff 112px,#00aeff 115px,#006eff 117px,#0020ff 119px,#0007ff 120px,#0002ff 122px,#0036ff 124px,#00a7ff 127px,#00c7ff 130px,#00aaff 133px,#0018ff 137px,#0003ff 138px,#0000f6 139px,#0005ff 140px,#0040ff 142px,#0091ff 144px,#00adff 145px,#00c6ff 148px,#00a4ff 151px,#0012ff 155px,#0000ff 156px,#000aff 158px,#004aff 160px,#0099ff 162px,#00bbff 164px,#00c4ff 166px,#009cff 169px,#0028ff 172px,#0000fb 174px,#001dff 176px,#00bfff 180px,#00e8ff 183px,#00ceff 186px,#0086ff 188px,#0057ff 189px,#0044ff 190px,#0094ff 192px,#00b9ff 194px,#00c6ff 196px,#00a1ff 199px,#002dff 202px,#007aff 205px,#0093ff 208px,#007aff 211px,#0002ff 215px,#0000ec 217px,#0000fa 218px,#0033ff 220px,#0072ff 222px,#0091ff 225px,#007fff 228px,#004bff 230px,#000aff 232px,#0000e8 234px,#0009ff 236px,#007eff 240px,#0092ff 243px,#0073ff 246px,#0014ff 249px,#0000fb 250px,#0000ec 251px,#0001ff 253px,#0079ff 257px,#0093ff 260px,#007bff 263px,#0003ff 267px,#0000eb 269px,#0000f9 270px,#0031ff 272px,#0071ff 274px,#0091ff 277px,#0080ff 280px,#004dff 282px,#000cff 284px,#0000e9 286px,#0008ff 288px,#007eff 292px,#0092ff 295px,#0075ff 298px,#0000fc 302px,#0000ed 303px,#000aff 305px,#008fff 309px,#00adff 312px,#0093ff 315px,#000fff 319px,#0000f3 321px,#0002ff 322px,#0086ff 326px,#00aaff 329px,#0098ff 332px,#0061ff 334px,#0001ff 337px,#0000f1 338px,#0000fb 339px,#0032ff 341px,#0095ff 344px,#00acff 347px,#008dff 350px,#0008ff 354px,#0000f7 356px,#0009ff 357px,#008eff 361px,#00adff 364px,#0094ff 367px,#0010ff 371px,#0000fb 372px,#0000f2 373px,#0001ff 374px,#0085ff 378px,#00aaff 381px,#0099ff 384px,#0050ff 387px)"></div>
<div style="position:absolute;left:48.3px;top:280.30px;width:387.0px;height:1.30px;background:linear-gradient(90deg,#003cff 0px,#008dff 2px,#00b5ff 4px,#00c4ff 6px,#00a0ff 9px,#000eff 13px,#0000f4 15px,#0006ff 16px,#0046ff 18px,#0095ff 20px,#00b7ff 22px,#00c2ff 24px,#0098ff 27px,#0024ff 30px,#0008ff 31px,#0000f8 33px,#000bff 34px,#009dff 38px,#00c3ff 41px,#00aaff 44px,#0069ff 46px,#001cff 48px,#0003ff 49px,#0000f2 50px,#0000fc 51px,#0032ff 53px,#00a3ff 56px,#00c5ff 59px,#00a6ff 62px,#0014ff 66px,#0000fd 67px,#0000f0 68px,#0001ff 69px,#003cff 71px,#008dff 73px,#00b5ff 75px,#00c4ff 77px,#00a0ff 80px,#000eff 84px,#0000f4 86px,#0006ff 87px,#0046ff 89px,#0095ff 91px,#00b7ff 93px,#00c2ff 95px,#0098ff 98px,#0024ff 101px,#0008ff 102px,#0000f8 104px,#000bff 105px,#009dff 109px,#00c3ff 112px,#00aaff 115px,#0069ff 117px,#001cff 119px,#0003ff 120px,#0000f2 121px,#0000fc 122px,#0032ff 124px,#00a3ff 127px,#00c5ff 130px,#00a6ff 133px,#0014ff 137px,#0000fd 138px,#0000f0 139px,#0001ff 140px,#003cff 142px,#008dff 144px,#00b5ff 146px,#00c4ff 148px,#00a0ff 151px,#000eff 155px,#0000f4 157px,#0006ff 158px,#0046ff 160px,#0095ff 162px,#00b7ff 164px,#00c2ff 166px,#0098ff 169px,#0024ff 172px,#0008ff 173px,#0000f6 174px,#0004ff 175px,#0039ff 177px,#00bbff 180px,#00e5ff 183px,#00caff 186px,#0081ff 188px,#0053ff 189px,#0040ff 190px,#0090ff 192px,#00b6ff 194px,#00c3ff 196px,#009dff 199px,#0029ff 202px,#0076ff 205px,#0091ff 208px,#0076ff 211px,#0000fd 215px,#0000e8 217px,#000fff 219px,#006fff 222px,#008fff 225px,#007cff 228px,#0047ff 230px,#0007ff 232px,#0000e4 234px,#0006ff 236px,#007bff 240px,#008fff 243px,#0070ff 246px,#0011ff 249px,#0000f7 250px,#0000e8 251px,#0000fc 253px,#0075ff 257px,#0091ff 260px,#0077ff 263px,#0000ff 267px,#0000e7 269px,#000eff 271px,#006eff 274px,#008fff 277px,#007dff 280px,#0049ff 282px,#0008ff 284px,#0000e5 286px,#0004ff 288px,#007bff 292px,#0090ff 295px,#0071ff 298px,#0012ff 301px,#0000f8 302px,#0000e9 303px,#0006ff 305px,#008bff 309px,#00abff 312px,#008fff 315px,#000bff 319px,#0000ee 321px,#0000fd 322px,#003bff 324px,#0082ff 326px,#00a8ff 329px,#0095ff 332px,#005dff 334px,#0015ff 336px,#0000fb 337px,#0000ed 338px,#000eff 340px,#0091ff 344px,#00aaff 347px,#0089ff 350px,#0004ff 354px,#0000f2 356px,#0005ff 357px,#008aff 361px,#00aaff 364px,#0090ff 367px,#000cff 371px,#0000ee 373px,#0000fc 374px,#0039ff 376px,#0081ff 378px,#00a8ff 381px,#0095ff 384px,#004cff 387px)"></div>
<div style="position:absolute;left:48.3px;top:281.30px;width:387.0px;height:1.30px;background:linear-gradient(90deg,#0037ff 0px,#0088ff 2px,#00b1ff 4px,#00c1ff 6px,#009bff 9px,#0009ff 13px,#0000ef 15px,#0001ff 16px,#0041ff 18px,#0091ff 20px,#00b4ff 22px,#00bfff 24px,#0094ff 27px,#001fff 30px,#0003ff 31px,#0000f1 32px,#0006ff 34px,#0098ff 38px,#00c0ff 41px,#00a6ff 44px,#0065ff 46px,#0017ff 48px,#0000fd 49px,#0000ed 50px,#000dff 52px,#009fff 56px,#00c2ff 59px,#00a2ff 62px,#0010ff 66px,#0000eb 68px,#0000fb 69px,#0037ff 71px,#0088ff 73px,#00b1ff 75px,#00c1ff 77px,#009bff 80px,#0009ff 84px,#0000ef 86px,#0001ff 87px,#0041ff 89px,#0091ff 91px,#00b4ff 93px,#00bfff 95px,#0094ff 98px,#001fff 101px,#0003ff 102px,#0000f1 103px,#0006ff 105px,#0098ff 109px,#00c0ff 112px,#00a6ff 115px,#0065ff 117px,#0017ff 119px,#0000fd 120px,#0000ed 121px,#000dff 123px,#009fff 127px,#00c2ff 130px,#00a2ff 133px,#0010ff 137px,#0000eb 139px,#0000fb 140px,#0037ff 142px,#0088ff 144px,#00b1ff 146px,#00c1ff 148px,#009bff 151px,#0009ff 155px,#0000ef 157px,#0001ff 158px,#0041ff 160px,#0091ff 162px,#00b4ff 164px,#00bfff 166px,#0094ff 169px,#001fff 172px,#0003ff 173px,#0000f1 174px,#0000fd 175px,#0034ff 177px,#00b6ff 180px,#00e2ff 183px,#00c5ff 186px,#007cff 188px,#004dff 189px,#003bff 190px,#008cff 192px,#00b2ff 194px,#00c0ff 196px,#0098ff 199px,#0024ff 202px,#0073ff 205px,#008fff 208px,#0073ff 211px,#0000fa 215px,#0000e3 217px,#000bff 219px,#006bff 222px,#008dff 225px,#0079ff 228px,#0021ff 231px,#0003ff 232px,#0000df 234px,#0002ff 236px,#0078ff 240px,#008dff 243px,#006cff 246px,#000dff 249px,#0000e4 251px,#0000f8 253px,#0036ff 255px,#0072ff 257px,#008fff 260px,#0074ff 263px,#0000fb 267px,#0000e3 269px,#000aff 271px,#006aff 274px,#008cff 277px,#0079ff 280px,#0045ff 282px,#0005ff 284px,#0000e0 286px,#0001ff 288px,#0077ff 292px,#008dff 295px,#006eff 298px,#000eff 301px,#0000e5 303px,#0002ff 305px,#0087ff 309px,#00a8ff 312px,#008cff 315px,#0007ff 319px,#0000e9 321px,#0000f9 322px,#0037ff 324px,#007eff 326px,#00a5ff 329px,#0091ff 332px,#0059ff 334px,#0011ff 336px,#0000f7 337px,#0000e8 338px,#000aff 340px,#008eff 344px,#00a7ff 347px,#0085ff 350px,#0000ff 354px,#0000ed 355px,#0000ee 356px,#0001ff 357px,#0086ff 361px,#00a8ff 364px,#008dff 367px,#0008ff 371px,#0000e9 373px,#0000f8 374px,#0035ff 376px,#007dff 378px,#00a5ff 381px,#0092ff 384px,#0048ff 387px)"></div>
<div style="position:absolute;left:48.3px;top:282.30px;width:387.0px;height:1.30px;background:linear-gradient(90deg,#0032ff 0px,#00a0ff 3px,#00beff 6px,#0097ff 9px,#0004ff 13px,#0000e9 15px,#0000fb 16px,#003cff 18px,#008cff 20px,#00b0ff 22px,#00bcff 24px,#008fff 27px,#001aff 30px,#0000fd 31px,#0000eb 32px,#0002ff 34px,#0094ff 38px,#00bdff 41px,#00a2ff 44px,#0060ff 46px,#0012ff 48px,#0000f8 49px,#0000e7 50px,#0008ff 52px,#009bff 56px,#00bfff 59px,#009dff 62px,#000bff 66px,#0000e5 68px,#000fff 70px,#00a0ff 74px,#00beff 77px,#0097ff 80px,#0004ff 84px,#0000e9 86px,#0000fb 87px,#003cff 89px,#008cff 91px,#00b0ff 93px,#00bcff 95px,#008fff 98px,#001aff 101px,#0000fd 102px,#0000eb 103px,#0002ff 105px,#0094ff 109px,#00bdff 112px,#00a2ff 115px,#0060ff 117px,#0012ff 119px,#0000f8 120px,#0000e7 121px,#0008ff 123px,#009bff 127px,#00bfff 130px,#009dff 133px,#000bff 137px,#0000e5 139px,#000fff 141px,#00a0ff 145px,#00beff 148px,#0097ff 151px,#0004ff 155px,#0000e9 157px,#0000fb 158px,#003cff 160px,#008cff 162px,#00b0ff 164px,#00bcff 166px,#008fff 169px,#001aff 172px,#0000fd 173px,#0000eb 174px,#000dff 176px,#00b1ff 180px,#00dfff 183px,#00c1ff 186px,#0077ff 188px,#0048ff 189px,#0036ff 190px,#0087ff 192px,#00afff 194px,#00bdff 196px,#0094ff 199px,#0020ff 202px,#006fff 205px,#008dff 208px,#006fff 211px,#0012ff 214px,#0000f6 215px,#0000df 217px,#0008ff 219px,#0068ff 222px,#008aff 225px,#0075ff 228px,#0000fe 232px,#0000db 234px,#0000fd 236px,#0074ff 240px,#008bff 243px,#0069ff 246px,#0009ff 249px,#0000e0 251px,#0000f5 253px,#0010ff 254px,#006eff 257px,#008cff 260px,#0070ff 263px,#0014ff 266px,#0000f7 267px,#0000de 269px,#0006ff 271px,#0066ff 274px,#008aff 277px,#0076ff 280px,#0041ff 282px,#0001ff 284px,#0000db 286px,#0000fc 288px,#0074ff 292px,#008bff 295px,#006aff 298px,#000aff 301px,#0000e0 303px,#0000fd 305px,#0083ff 309px,#00a5ff 312px,#0088ff 315px,#0003ff 319px,#0000e4 321px,#0010ff 323px,#007aff 326px,#00a3ff 329px,#008dff 332px,#0055ff 334px,#000dff 336px,#0000e3 338px,#0005ff 340px,#008aff 344px,#00a5ff 347px,#0081ff 350px,#0018ff 353px,#0000fa 354px,#0000e8 355px,#0000e9 356px,#0000fb 357px,#0082ff 361px,#00a5ff 364px,#0089ff 367px,#0004ff 371px,#0000e4 373px,#000eff 375px,#0079ff 378px,#00a2ff 381px,#008eff 384px,#0043ff 387px)"></div>
<div style="position:absolute;left:48.3px;top:283.30px;width:387.0px;height:1.30px;background:linear-gradient(90deg,#002dff 0px,#009cff 3px,#00bbff 6px,#0092ff 9px,#0000fe 13px,#0000e4 15px,#0000f6 16px,#0012ff 17px,#0087ff 20px,#00adff 22px,#00b8ff 24px,#008bff 27px,#0015ff 30px,#0000f8 31px,#0000e5 32px,#0000e8 33px,#0000fc 34px,#0042ff 36px,#008fff 38px,#00baff 41px,#009eff 44px,#005bff 46px,#000dff 48px,#0000e1 50px,#0003ff 52px,#0096ff 56px,#00bcff 59px,#0099ff 62px,#0006ff 66px,#0000df 68px,#000aff 70px,#009cff 74px,#00bbff 77px,#0092ff 80px,#0000fe 84px,#0000e4 86px,#0000f6 87px,#0012ff 88px,#0087ff 91px,#00adff 93px,#00b8ff 95px,#008bff 98px,#0015ff 101px,#0000f8 102px,#0000e5 103px,#0000e8 104px,#0000fc 105px,#0042ff 107px,#008fff 109px,#00baff 112px,#009eff 115px,#005bff 117px,#000dff 119px,#0000e1 121px,#0003ff 123px,#0096ff 127px,#00bcff 130px,#0099ff 133px,#0006ff 137px,#0000df 139px,#000aff 141px,#009cff 145px,#00bbff 148px,#0092ff 151px,#0000fe 155px,#0000e4 157px,#0000f6 158px,#0012ff 159px,#0087ff 162px,#00adff 164px,#00b8ff 166px,#008bff 169px,#0015ff 172px,#0000f8 173px,#0000e5 174px,#0008ff 176px,#00abff 180px,#00dbff 183px,#00bcff 186px,#0071ff 188px,#0042ff 189px,#0031ff 190px,#0082ff 192px,#00abff 194px,#00baff 196px,#008fff 199px,#001bff 202px,#006cff 205px,#008aff 208px,#006cff 211px,#000eff 214px,#0000df 216px,#0000da 217px,#0003ff 219px,#0064ff 222px,#0088ff 225px,#0072ff 228px,#0000fa 232px,#0000d6 234px,#0000f9 236px,#0071ff 240px,#0088ff 243px,#0065ff 246px,#0005ff 249px,#0000db 251px,#0000f0 253px,#000cff 254px,#006aff 257px,#008aff 260px,#006dff 263px,#000fff 266px,#0000e0 268px,#0000d9 269px,#0002ff 271px,#0062ff 274px,#0087ff 277px,#0072ff 280px,#0000fc 284px,#0000d7 286px,#0000f8 288px,#0070ff 292px,#0088ff 295px,#0066ff 298px,#0006ff 301px,#0000dc 303px,#0000f8 305px,#003bff 307px,#007fff 309px,#00a3ff 312px,#0084ff 315px,#0000fd 319px,#0000df 321px,#000bff 323px,#0076ff 326px,#00a0ff 329px,#008aff 332px,#0050ff 334px,#0008ff 336px,#0000dd 338px,#0001ff 340px,#0086ff 344px,#00a2ff 347px,#007dff 350px,#0013ff 353px,#0000f6 354px,#0000e3 355px,#0000e4 356px,#0000f7 357px,#0039ff 359px,#007eff 361px,#00a2ff 364px,#0085ff 367px,#0000fe 371px,#0000de 373px,#000aff 375px,#0074ff 378px,#009fff 381px,#008aff 384px,#003fff 387px)"></div>
<div style="position:absolute;left:48.3px;top:284.30px;width:387.0px;height:1.30px;background:linear-gradient(90deg,#0028ff 0px,#0097ff 3px,#00b8ff 6px,#008dff 9px,#0019ff 12px,#0000f9 13px,#0000dd 15px,#000dff 17px,#0082ff 20px,#00a9ff 22px,#00b5ff 24px,#0085ff 27px,#0010ff 30px,#0000f3 31px,#0000df 32px,#0000e2 33px,#0000f6 34px,#0015ff 35px,#008aff 38px,#00b7ff 41px,#0099ff 44px,#0055ff 46px,#0008ff 48px,#0000da 50px,#0000fd 52px,#0091ff 56px,#00b9ff 59px,#0094ff 62px,#0001ff 66px,#0000d8 68px,#0005ff 70px,#0097ff 74px,#00b8ff 77px,#008dff 80px,#0019ff 83px,#0000f9 84px,#0000dd 86px,#000dff 88px,#0082ff 91px,#00a9ff 93px,#00b5ff 95px,#0085ff 98px,#0010ff 101px,#0000f3 102px,#0000df 103px,#0000e2 104px,#0000f6 105px,#0015ff 106px,#008aff 109px,#00b7ff 112px,#0099ff 115px,#0055ff 117px,#0008ff 119px,#0000da 121px,#0000fd 123px,#0091ff 127px,#00b9ff 130px,#0094ff 133px,#0001ff 137px,#0000d8 139px,#0005ff 141px,#0097ff 145px,#00b8ff 148px,#008dff 151px,#0019ff 154px,#0000f9 155px,#0000dd 157px,#000dff 159px,#0082ff 162px,#00a9ff 164px,#00b5ff 166px,#0085ff 169px,#0010ff 172px,#0000f3 173px,#0000df 174px,#0002ff 176px,#00a6ff 180px,#00d8ff 183px,#00b6ff 186px,#006bff 188px,#003dff 189px,#002cff 190px,#007dff 192px,#00a7ff 194px,#00b7ff 196px,#008aff 199px,#0015ff 202px,#0068ff 205px,#0088ff 208px,#0068ff 211px,#000aff 214px,#0000da 216px,#0000d5 217px,#0000fe 219px,#005fff 222px,#0085ff 225px,#006eff 228px,#0000f6 232px,#0000d1 234px,#0000f5 236px,#0035ff 238px,#006dff 240px,#0085ff 243px,#0061ff 246px,#0001ff 249px,#0000d6 251px,#0000ec 253px,#0008ff 254px,#0066ff 257px,#0087ff 260px,#0069ff 263px,#000bff 266px,#0000d4 269px,#0000fd 271px,#005eff 274px,#0084ff 277px,#006eff 280px,#0000f7 284px,#0000d1 286px,#0000f3 288px,#0011ff 289px,#006cff 292px,#0086ff 295px,#0062ff 298px,#0002ff 301px,#0000d7 303px,#0000f3 305px,#0012ff 306px,#007bff 309px,#00a0ff 312px,#007fff 315px,#0000f8 319px,#0000d9 321px,#0006ff 323px,#0071ff 326px,#009dff 329px,#0085ff 332px,#004bff 334px,#0003ff 336px,#0000d8 338px,#0000fb 340px,#0081ff 344px,#009fff 347px,#0078ff 350px,#000eff 353px,#0000de 355px,#0000de 356px,#0010ff 358px,#0079ff 361px,#009fff 364px,#0080ff 367px,#0000fa 371px,#0000d9 373px,#0005ff 375px,#0070ff 378px,#009cff 381px,#0086ff 384px,#003aff 387px)"></div>
<div style="position:absolute;left:48.3px;top:285.30px;width:387.0px;height:1.30px;background:linear-gradient(90deg,#0022ff 0px,#0092ff 3px,#00b4ff 6px,#0088ff 9px,#0013ff 12px,#0000f3 13px,#0000d7 15px,#0007ff 17px,#007dff 20px,#00a5ff 22px,#00b2ff 24px,#0080ff 27px,#000bff 30px,#0000d9 32px,#0000dc 33px,#0010ff 35px,#0085ff 38px,#00b3ff 41px,#0094ff 44px,#0050ff 46px,#0003ff 48px,#0000d4 50px,#0000f7 52px,#0041ff 54px,#008cff 56px,#00b6ff 59px,#008fff 62px,#0000fa 66px,#0000d2 68px,#0000fe 70px,#0092ff 74px,#00b4ff 77px,#0088ff 80px,#0013ff 83px,#0000f3 84px,#0000d7 86px,#0007ff 88px,#007dff 91px,#00a5ff 93px,#00b2ff 95px,#0080ff 98px,#000bff 101px,#0000d9 103px,#0000dc 104px,#0010ff 106px,#0085ff 109px,#00b3ff 112px,#0094ff 115px,#0050ff 117px,#0003ff 119px,#0000d4 121px,#0000f7 123px,#0041ff 125px,#008cff 127px,#00b6ff 130px,#008fff 133px,#0000fa 137px,#0000d2 139px,#0000fe 141px,#0092ff 145px,#00b4ff 148px,#0088ff 151px,#0013ff 154px,#0000f3 155px,#0000d7 157px,#0007ff 159px,#007dff 162px,#00a5ff 164px,#00b2ff 166px,#0080ff 169px,#000bff 172px,#0000d9 174px,#0000fa 176px,#0048ff 178px,#00a0ff 180px,#00d4ff 183px,#00b1ff 186px,#0065ff 188px,#0036ff 189px,#0026ff 190px,#0078ff 192px,#00a3ff 194px,#00b3ff 196px,#0085ff 199px,#0010ff 202px,#0063ff 205px,#0085ff 208px,#0063ff 211px,#0005ff 214px,#0000d6 216px,#0000d0 217px,#0000fa 219px,#005bff 222px,#0082ff 225px,#006aff 228px,#0010ff 231px,#0000f1 232px,#0000cb 234px,#0000f0 236px,#000fff 237px,#0069ff 240px,#0082ff 243px,#005cff 246px,#0000fb 249px,#0000d1 251px,#0000e7 253px,#0003ff 254px,#0062ff 257px,#0085ff 260px,#0064ff 263px,#0007ff 266px,#0000d6 268px,#0000cf 269px,#0000f8 271px,#005aff 274px,#0082ff 277px,#006aff 280px,#0012ff 283px,#0000f3 284px,#0000cc 286px,#0000ef 288px,#000dff 289px,#0068ff 292px,#0083ff 295px,#005eff 298px,#0000fc 301px,#0000d2 303px,#0000ee 305px,#000cff 306px,#0076ff 309px,#009dff 312px,#007bff 315px,#0013ff 318px,#0000f3 319px,#0000d4 321px,#0001ff 323px,#006cff 326px,#0099ff 329px,#0081ff 332px,#0046ff 334px,#0000fd 336px,#0000d2 338px,#0000f6 340px,#003cff 342px,#007dff 344px,#009cff 347px,#0073ff 350px,#0009ff 353px,#0000d8 355px,#0000d9 356px,#000bff 358px,#0075ff 361px,#009cff 364px,#007cff 367px,#0015ff 370px,#0000f5 371px,#0000d3 373px,#0000ff 375px,#006bff 378px,#0099ff 381px,#0082ff 384px,#0035ff 387px)"></div>
<div style="position:absolute;left:48.3px;top:286.30px;width:387.0px;height:1.30px;background:linear-gradient(90deg,#001dff 0px,#008dff 3px,#00b1ff 6px,#0082ff 9px,#000eff 12px,#0000d7 14px,#0000d0 15px,#0002ff 17px,#0077ff 20px,#00a0ff 22px,#00aeff 24px,#007bff 27px,#0005ff 30px,#0000d2 32px,#0000d5 33px,#000aff 35px,#007fff 38px,#00b0ff 41px,#008fff 44px,#0000fc 48px,#0000cd 50px,#0000f1 52px,#0013ff 53px,#0087ff 56px,#00b2ff 59px,#0089ff 62px,#0017ff 65px,#0000f4 66px,#0000cb 68px,#0000f9 70px,#0046ff 72px,#008dff 74px,#00b1ff 77px,#0082ff 80px,#000eff 83px,#0000d7 85px,#0000d0 86px,#0002ff 88px,#0077ff 91px,#00a0ff 93px,#00aeff 95px,#007bff 98px,#0005ff 101px,#0000d2 103px,#0000d5 104px,#000aff 106px,#007fff 109px,#00b0ff 112px,#008fff 115px,#0000fc 119px,#0000cd 121px,#0000f1 123px,#0013ff 124px,#0087ff 127px,#00b2ff 130px,#0089ff 133px,#0017ff 136px,#0000f4 137px,#0000cb 139px,#0000f9 141px,#0046ff 143px,#008dff 145px,#00b1ff 148px,#0082ff 151px,#000eff 154px,#0000d7 156px,#0000d0 157px,#0002ff 159px,#0077ff 162px,#00a0ff 164px,#00aeff 166px,#007bff 169px,#0005ff 172px,#0000d2 174px,#0000f4 176px,#0017ff 177px,#009aff 180px,#00d0ff 183px,#00abff 186px,#005eff 188px,#0030ff 189px,#0021ff 190px,#008fff 193px,#00b0ff 196px,#007fff 199px,#000aff 202px,#005fff 205px,#0082ff 208px,#005fff 211px,#0000ff 214px,#0000d0 216px,#0000cb 217px,#0000f5 219px,#0069ff 223px,#007fff 225px,#0065ff 228px,#000bff 231px,#0000c5 234px,#000aff 237px,#0065ff 240px,#007fff 243px,#0058ff 246px,#0000f6 249px,#0000cb 251px,#0000e3 253px,#0000fe 254px,#005eff 257px,#0082ff 260px,#0060ff 263px,#0002ff 266px,#0000d1 268px,#0000ca 269px,#0000f3 271px,#0036ff 273px,#0069ff 275px,#007fff 277px,#0066ff 280px,#000dff 283px,#0000d7 285px,#0000c6 286px,#0008ff 289px,#0064ff 292px,#0080ff 295px,#0059ff 298px,#0000f8 301px,#0000cc 303px,#0000e9 305px,#0007ff 306px,#0071ff 309px,#009aff 312px,#0076ff 315px,#000eff 318px,#0000d7 320px,#0000cd 321px,#0000fb 323px,#0067ff 326px,#0096ff 329px,#007cff 332px,#0041ff 334px,#0000f8 336px,#0000cb 338px,#0000f1 340px,#0012ff 341px,#0078ff 344px,#0099ff 347px,#006eff 350px,#0004ff 353px,#0000d2 355px,#0000d3 356px,#0005ff 358px,#0070ff 361px,#0099ff 364px,#0077ff 367px,#0010ff 370px,#0000d8 372px,#0000cc 373px,#0000f9 375px,#007dff 379px,#0095ff 381px,#008aff 383px,#0066ff 385px,#0042ff 386px,#002fff 387px)"></div>
<div style="position:absolute;left:48.3px;top:287.30px;width:387.0px;height:1.30px;background:linear-gradient(90deg,#0016ff 0px,#0087ff 3px,#00adff 6px,#007dff 9px,#0007ff 12px,#0000d0 14px,#0000c9 15px,#0000fa 17px,#008cff 21px,#00a9ff 23px,#009dff 25px,#0075ff 27px,#0000fe 30px,#0000cb 32px,#0000ce 33px,#0004ff 35px,#007aff 38px,#00acff 41px,#0089ff 44px,#001aff 47px,#0000f6 48px,#0000c5 50px,#0000eb 52px,#000dff 53px,#0081ff 56px,#00afff 59px,#0084ff 62px,#0011ff 65px,#0000ee 66px,#0000c3 68px,#0000f3 70px,#0016ff 71px,#0087ff 74px,#00adff 77px,#007dff 80px,#0007ff 83px,#0000d0 85px,#0000c9 86px,#0000fa 88px,#008cff 92px,#00a9ff 94px,#009dff 96px,#0075ff 98px,#0000fe 101px,#0000cb 103px,#0000ce 104px,#0004ff 106px,#007aff 109px,#00acff 112px,#0089ff 115px,#001aff 118px,#0000f6 119px,#0000c5 121px,#0000eb 123px,#000dff 124px,#0081ff 127px,#00afff 130px,#0084ff 133px,#0011ff 136px,#0000ee 137px,#0000c3 139px,#0000f3 141px,#0016ff 142px,#0087ff 145px,#00adff 148px,#007dff 151px,#0007ff 154px,#0000d0 156px,#0000c9 157px,#0000fa 159px,#008cff 163px,#00a9ff 165px,#009dff 167px,#0075ff 169px,#0000fe 172px,#0000cb 174px,#0000d4 175px,#0010ff 177px,#0093ff 180px,#00cbff 183px,#00a5ff 186px,#0057ff 188px,#0029ff 189px,#001aff 190px,#0089ff 193px,#00acff 196px,#007aff 199px,#0004ff 202px,#005aff 205px,#007fff 208px,#005aff 211px,#0000fa 214px,#0000cb 216px,#0000c5 217px,#0000f0 219px,#0010ff 220px,#0052ff 222px,#007cff 225px,#0061ff 228px,#0006ff 231px,#0000bf 234px,#0005ff 237px,#0060ff 240px,#007cff 243px,#0053ff 246px,#0012ff 248px,#0000f1 249px,#0000c6 251px,#0000de 253px,#0000f9 254px,#0059ff 257px,#007fff 260px,#005bff 263px,#0000fc 266px,#0000cc 268px,#0000c4 269px,#0000ee 271px,#000fff 272px,#0050ff 274px,#007bff 277px,#0062ff 280px,#0008ff 283px,#0000c0 286px,#0003ff 289px,#005fff 292px,#007dff 295px,#0054ff 298px,#0014ff 300px,#0000f3 301px,#0000c7 303px,#0000e3 305px,#0002ff 306px,#006cff 309px,#0096ff 312px,#0071ff 315px,#0008ff 318px,#0000d1 320px,#0000c7 321px,#0000f5 323px,#0079ff 327px,#0092ff 329px,#0077ff 332px,#003bff 334px,#0015ff 335px,#0000f2 336px,#0000c5 338px,#000cff 341px,#0073ff 344px,#0095ff 347px,#0069ff 350px,#0000fd 353px,#0000cc 355px,#0000cd 356px,#0000ff 358px,#006aff 361px,#0096ff 364px,#0072ff 367px,#000aff 370px,#0000c6 373px,#0000f4 375px,#003dff 377px,#0078ff 379px,#0092ff 381px,#0086ff 383px,#0060ff 385px,#003dff 386px,#002aff 387px)"></div>
<div style="position:absolute;left:48.3px;top:288.30px;width:387.0px;height:1.30px;background:linear-gradient(90deg,#0010ff 0px,#0081ff 3px,#00a9ff 6px,#0077ff 9px,#0001ff 12px,#0000c9 14px,#0000c1 15px,#0000f4 17px,#0043ff 19px,#0087ff 21px,#00a5ff 23px,#0098ff 25px,#006eff 27px,#0000f7 30px,#0000c3 32px,#0000c7 33px,#0000fd 35px,#0073ff 38px,#00a8ff 41px,#0084ff 44px,#0014ff 47px,#0000ef 48px,#0000be 50px,#0006ff 53px,#007bff 56px,#00abff 59px,#007eff 62px,#000aff 65px,#0000bb 68px,#0000ec 70px,#0010ff 71px,#0081ff 74px,#00a9ff 77px,#0077ff 80px,#0001ff 83px,#0000c9 85px,#0000c1 86px,#0000f4 88px,#0043ff 90px,#0087ff 92px,#00a5ff 94px,#0098ff 96px,#006eff 98px,#0000f7 101px,#0000c3 103px,#0000c7 104px,#0000fd 106px,#0073ff 109px,#00a8ff 112px,#0084ff 115px,#0014ff 118px,#0000ef 119px,#0000be 121px,#0006ff 124px,#007bff 127px,#00abff 130px,#007eff 133px,#000aff 136px,#0000bb 139px,#0000ec 141px,#0010ff 142px,#0081ff 145px,#00a9ff 148px,#0077ff 151px,#0001ff 154px,#0000c9 156px,#0000c1 157px,#0000f4 159px,#0043ff 161px,#0087ff 163px,#00a5ff 165px,#0098ff 167px,#006eff 169px,#0000f7 172px,#0000c3 174px,#0000cc 175px,#0009ff 177px,#008cff 180px,#00c7ff 183px,#009fff 186px,#0022ff 189px,#0014ff 190px,#0084ff 193px,#00a8ff 196px,#0073ff 199px,#0000fd 202px,#0055ff 205px,#007cff 208px,#0055ff 211px,#0000f5 214px,#0000c5 216px,#0000bf 217px,#000bff 220px,#004dff 222px,#0079ff 225px,#005cff 228px,#0001ff 231px,#0000b9 234px,#0000fe 237px,#005bff 240px,#0079ff 243px,#004eff 246px,#000dff 248px,#0000d3 250px,#0000c0 251px,#0000d8 253px,#0000f3 254px,#0054ff 257px,#007cff 260px,#0056ff 263px,#0000f6 266px,#0000c6 268px,#0000be 269px,#0009ff 272px,#004bff 274px,#0078ff 277px,#005dff 280px,#0003ff 283px,#0000ba 286px,#0000fd 289px,#005aff 292px,#007aff 295px,#004fff 298px,#000eff 300px,#0000d4 302px,#0000c1 303px,#0000dd 305px,#0000fb 306px,#0066ff 309px,#0093ff 312px,#006bff 315px,#0002ff 318px,#0000cb 320px,#0000c0 321px,#0000ef 323px,#0013ff 324px,#005cff 326px,#008fff 329px,#0081ff 331px,#0059ff 333px,#000fff 335px,#0000d3 337px,#0000be 338px,#0006ff 341px,#006dff 344px,#0091ff 347px,#0064ff 350px,#0000f7 353px,#0000c5 355px,#0000c6 356px,#0000f9 358px,#0065ff 361px,#0092ff 364px,#006cff 367px,#0004ff 370px,#0000cc 372px,#0000bf 373px,#0000ee 375px,#0011ff 376px,#005bff 378px,#008eff 381px,#0082ff 383px,#005bff 385px,#0037ff 386px,#0024ff 387px)"></div>
<div style="position:absolute;left:48.3px;top:289.30px;width:387.0px;height:1.30px;background:linear-gradient(90deg,#0009ff 0px,#007bff 3px,#00a5ff 6px,#0070ff 9px,#0000f9 12px,#0000c1 14px,#0000b9 15px,#0000ed 17px,#0013ff 18px,#0064ff 20px,#0092ff 22px,#00a2ff 24px,#0068ff 27px,#0017ff 29px,#0000f1 30px,#0000bc 32px,#0000bf 33px,#0000f6 35px,#006dff 38px,#00a4ff 41px,#007eff 44px,#000dff 47px,#0000cd 49px,#0000b5 50px,#0000de 52px,#0000ff 53px,#0075ff 56px,#00a7ff 59px,#0077ff 62px,#0003ff 65px,#0000b3 68px,#0009ff 71px,#007bff 74px,#00a5ff 77px,#0070ff 80px,#0000f9 83px,#0000c1 85px,#0000b9 86px,#0000ed 88px,#0013ff 89px,#0064ff 91px,#0092ff 93px,#00a2ff 95px,#0068ff 98px,#0017ff 100px,#0000f1 101px,#0000bc 103px,#0000bf 104px,#0000f6 106px,#006dff 109px,#00a4ff 112px,#007eff 115px,#000dff 118px,#0000cd 120px,#0000b5 121px,#0000de 123px,#0000ff 124px,#0075ff 127px,#00a7ff 130px,#0077ff 133px,#0003ff 136px,#0000b3 139px,#0009ff 142px,#007bff 145px,#00a5ff 148px,#0070ff 151px,#0000f9 154px,#0000c1 156px,#0000b9 157px,#0000ed 159px,#0013ff 160px,#0064ff 162px,#0092ff 164px,#00a2ff 166px,#0068ff 169px,#0017ff 171px,#0000f1 172px,#0000bc 174px,#0000c3 175px,#0001ff 177px,#0085ff 180px,#00c2ff 183px,#00acff 185px,#0075ff 187px,#001aff 189px,#000dff 190px,#007eff 193px,#00a4ff 196px,#006dff 199px,#0000f6 202px,#0011ff 203px,#0050ff 205px,#0079ff 208px,#0050ff 211px,#0011ff 213px,#0000ef 214px,#0000bf 216px,#0000b8 217px,#0005ff 220px,#0047ff 222px,#0075ff 225px,#0057ff 228px,#0000fa 231px,#0000b2 234px,#0000f9 237px,#0056ff 240px,#0076ff 243px,#0049ff 246px,#0007ff 248px,#0000b9 251px,#0000d3 253px,#000fff 255px,#004fff 257px,#0078ff 260px,#0051ff 263px,#0013ff 265px,#0000f1 266px,#0000c0 268px,#0000b7 269px,#0004ff 272px,#005bff 275px,#0074ff 277px,#0058ff 280px,#0000fc 283px,#0000b3 286px,#0000f7 289px,#0055ff 292px,#0076ff 295px,#004aff 298px,#0009ff 300px,#0000ba 303px,#0000c0 304px,#0000f5 306px,#0061ff 309px,#008fff 312px,#0066ff 315px,#0000fb 318px,#0000c5 320px,#0000b9 321px,#0000e9 323px,#000cff 324px,#0056ff 326px,#008bff 329px,#007cff 331px,#0053ff 333px,#0009ff 335px,#0000b7 338px,#0000df 340px,#0000ff 341px,#0068ff 344px,#008eff 347px,#005eff 350px,#0016ff 352px,#0000f1 353px,#0000be 355px,#0000bf 356px,#0000f3 358px,#003eff 360px,#0073ff 362px,#008eff 364px,#0067ff 367px,#0000fd 370px,#0000c6 372px,#0000b8 373px,#000bff 376px,#006eff 379px,#008aff 381px,#007dff 383px,#0055ff 385px,#0031ff 386px,#001dff 387px)"></div>
<div style="position:absolute;left:48.3px;top:290.30px;width:387.0px;height:1.30px;background:linear-gradient(90deg,#0002ff 0px,#0075ff 3px,#00a0ff 6px,#0069ff 9px,#001aff 11px,#0000f2 12px,#0000b9 14px,#0000b1 15px,#000cff 18px,#007bff 21px,#009cff 23px,#009dff 24px,#0061ff 27px,#0010ff 29px,#0000cc 31px,#0000b3 32px,#0000b7 33px,#0000ef 35px,#0016ff 36px,#0066ff 38px,#009fff 41px,#0077ff 44px,#0006ff 47px,#0000ad 50px,#0000d7 52px,#0000f8 53px,#006eff 56px,#00a2ff 59px,#0071ff 62px,#0000fb 65px,#0000aa 68px,#0002ff 71px,#0075ff 74px,#00a0ff 77px,#0069ff 80px,#001aff 82px,#0000f2 83px,#0000b9 85px,#0000b1 86px,#000cff 89px,#007bff 92px,#009cff 94px,#009dff 95px,#0061ff 98px,#0010ff 100px,#0000cc 102px,#0000b3 103px,#0000b7 104px,#0000ef 106px,#0016ff 107px,#0066ff 109px,#009fff 112px,#0077ff 115px,#0006ff 118px,#0000ad 121px,#0000d7 123px,#0000f8 124px,#006eff 127px,#00a2ff 130px,#0071ff 133px,#0000fb 136px,#0000aa 139px,#0002ff 142px,#0075ff 145px,#00a0ff 148px,#0069ff 151px,#001aff 153px,#0000f2 154px,#0000b9 156px,#0000b1 157px,#000cff 160px,#007bff 163px,#009cff 165px,#009dff 166px,#0061ff 169px,#0010ff 171px,#0000cc 173px,#0000b3 174px,#0000ba 175px,#0000f8 177px,#007eff 180px,#00bdff 183px,#00a5ff 185px,#006eff 187px,#0012ff 189px,#0006ff 190px,#0077ff 193px,#009fff 196px,#0066ff 199px,#0016ff 201px,#0000ef 202px,#000bff 203px,#004bff 205px,#0075ff 208px,#004bff 211px,#000bff 213px,#0000b9 216px,#0000b2 217px,#0000fe 220px,#0057ff 223px,#0071ff 225px,#0052ff 228px,#0000f4 231px,#0000ab 234px,#0000f3 237px,#0037ff 239px,#006dff 242px,#0072ff 243px,#0043ff 246px,#0001ff 248px,#0000b3 251px,#0000b8 252px,#000aff 255px,#004aff 257px,#0075ff 260px,#004cff 263px,#000dff 265px,#0000cf 267px,#0000b1 269px,#0000fd 272px,#0056ff 275px,#0071ff 277px,#0053ff 280px,#0000f6 283px,#0000ac 286px,#0000f1 289px,#0036ff 291px,#0060ff 293px,#0072ff 295px,#0044ff 298px,#0003ff 300px,#0000b4 303px,#0000b9 304px,#0000ee 306px,#0013ff 307px,#005aff 309px,#008bff 312px,#0060ff 315px,#0000f5 318px,#0000be 320px,#0000b1 321px,#0006ff 324px,#0050ff 326px,#0087ff 329px,#0077ff 331px,#004dff 333px,#0002ff 335px,#0000af 338px,#0000f8 341px,#0062ff 344px,#008aff 347px,#0058ff 350px,#000fff 352px,#0000ce 354px,#0000b7 355px,#0000b8 356px,#0000ec 358px,#0011ff 359px,#0059ff 361px,#008aff 364px,#0061ff 367px,#0000f7 370px,#0000bf 372px,#0000b0 373px,#0004ff 376px,#0068ff 379px,#0086ff 381px,#0078ff 383px,#004eff 385px,#002aff 386px,#0017ff 387px)"></div>
<div style="position:absolute;left:48.3px;top:291.30px;width:387.0px;height:1.30px;background:linear-gradient(90deg,#0000f9 0px,#006eff 3px,#009cff 6px,#0062ff 9px,#0012ff 11px,#0000eb 12px,#0000b1 14px,#0000a8 15px,#0004ff 18px,#0074ff 21px,#0097ff 23px,#0098ff 24px,#005aff 27px,#0008ff 29px,#0000ab 32px,#0000af 33px,#0000e7 35px,#000eff 36px,#005fff 38px,#009aff 41px,#0084ff 43px,#0051ff 45px,#0000fd 47px,#0000a4 50px,#0000cf 52px,#0000f0 53px,#0019ff 54px,#0067ff 56px,#009eff 59px,#006aff 62px,#0000f4 65px,#0000a1 68px,#0000f9 71px,#006eff 74px,#009cff 77px,#0062ff 80px,#0012ff 82px,#0000eb 83px,#0000b1 85px,#0000a8 86px,#0004ff 89px,#0074ff 92px,#0097ff 94px,#0098ff 95px,#005aff 98px,#0008ff 100px,#0000ab 103px,#0000af 104px,#0000e7 106px,#000eff 107px,#005fff 109px,#009aff 112px,#0084ff 114px,#0051ff 116px,#0000fd 118px,#0000a4 121px,#0000cf 123px,#0000f0 124px,#0019ff 125px,#0067ff 127px,#009eff 130px,#006aff 133px,#0000f4 136px,#0000a1 139px,#0000f9 142px,#006eff 145px,#009cff 148px,#0062ff 151px,#0012ff 153px,#0000eb 154px,#0000b1 156px,#0000a8 157px,#0004ff 160px,#0074ff 163px,#0097ff 165px,#0098ff 166px,#005aff 169px,#0008ff 171px,#0000ab 174px,#0000b0 175px,#0000f0 177px,#001bff 178px,#0076ff 180px,#00b8ff 183px,#009fff 185px,#0065ff 187px,#000aff 189px,#0000fd 190px,#0071ff 193px,#0095ff 195px,#009aff 196px,#005fff 199px,#000eff 201px,#0000e7 202px,#0005ff 203px,#0045ff 205px,#0072ff 208px,#0045ff 211px,#0005ff 213px,#0000b2 216px,#0000ab 217px,#0000f8 220px,#0052ff 223px,#006dff 225px,#004dff 228px,#0011ff 230px,#0000ee 231px,#0000a4 234px,#0000ed 237px,#000fff 238px,#004cff 240px,#006eff 243px,#003dff 246px,#0000fa 248px,#0000ac 251px,#0000b1 252px,#0003ff 255px,#0044ff 257px,#0071ff 260px,#0046ff 263px,#0007ff 265px,#0000b3 268px,#0000a9 269px,#0000f6 272px,#0051ff 275px,#006dff 277px,#004eff 280px,#0013ff 282px,#0000f0 283px,#0000a5 286px,#0000eb 289px,#000eff 290px,#004bff 292px,#006fff 295px,#003fff 298px,#0000fb 300px,#0000ad 303px,#0000b2 304px,#0000e7 306px,#000cff 307px,#0054ff 309px,#0087ff 312px,#0059ff 315px,#0014ff 317px,#0000ee 318px,#0000b6 320px,#0000a9 321px,#0000fe 324px,#0063ff 327px,#0082ff 329px,#0072ff 331px,#0046ff 333px,#0000fa 335px,#0000a7 338px,#0000f1 341px,#003dff 343px,#006eff 345px,#0086ff 347px,#0051ff 350px,#0008ff 352px,#0000af 355px,#0000b1 356px,#000aff 359px,#0053ff 361px,#0086ff 364px,#005bff 367px,#0016ff 369px,#0000f0 370px,#0000b7 372px,#0000a8 373px,#0000fc 376px,#0062ff 379px,#0082ff 381px,#0073ff 383px,#0048ff 385px,#0023ff 386px,#0010ff 387px)"></div>
<div style="position:absolute;left:48.3px;top:292.30px;width:387.0px;height:1.30px;background:linear-gradient(90deg,#0000f2 0px,#0045ff 2px,#007cff 4px,#0097ff 6px,#005bff 9px,#000bff 11px,#0000a8 14px,#00009f 15px,#0000fb 18px,#006dff 21px,#0092ff 23px,#0093ff 24px,#0052ff 27px,#0000ff 29px,#0000a1 32px,#0000a6 33px,#0006ff 36px,#0058ff 38px,#0096ff 41px,#007eff 43px,#0049ff 45px,#0000f5 47px,#00009e 50px,#0000c7 52px,#0000e8 53px,#0011ff 54px,#0060ff 56px,#0099ff 59px,#0063ff 62px,#0015ff 64px,#0000ec 65px,#0000af 67px,#00009e 68px,#0000f2 71px,#0045ff 73px,#007cff 75px,#0097ff 77px,#005bff 80px,#000bff 82px,#0000a8 85px,#00009f 86px,#0000fb 89px,#006dff 92px,#0092ff 94px,#0093ff 95px,#0052ff 98px,#0000ff 100px,#0000a1 103px,#0000a6 104px,#0006ff 107px,#0058ff 109px,#0096ff 112px,#007eff 114px,#0049ff 116px,#0000f5 118px,#00009e 121px,#0000c7 123px,#0000e8 124px,#0011ff 125px,#0060ff 127px,#0099ff 130px,#0063ff 133px,#0015ff 135px,#0000ec 136px,#0000af 138px,#00009e 139px,#0000f2 142px,#0045ff 144px,#007cff 146px,#0097ff 148px,#005bff 151px,#000bff 153px,#0000a8 156px,#00009f 157px,#0000fb 160px,#006dff 163px,#0092ff 165px,#0093ff 166px,#0052ff 169px,#0000ff 171px,#0000a1 174px,#0000a6 175px,#0000e7 177px,#0013ff 178px,#006dff 180px,#00b3ff 183px,#0098ff 185px,#005dff 187px,#0001ff 189px,#0000f5 190px,#006aff 193px,#008fff 195px,#0096ff 196px,#0058ff 199px,#0006ff 201px,#0000df 202px,#0000fd 203px,#003fff 205px,#006eff 208px,#003fff 211px,#0000fd 213px,#0000ab 216px,#0000a3 217px,#0000f1 220px,#0036ff 222px,#0069ff 225px,#0047ff 228px,#000bff 230px,#00009e 234px,#0009ff 238px,#0046ff 240px,#006aff 243px,#0037ff 246px,#0000f3 248px,#0000a4 251px,#0000aa 252px,#0000fc 255px,#0051ff 258px,#006dff 260px,#0040ff 263px,#0000ff 265px,#0000ac 268px,#0000a2 269px,#0000f0 272px,#0034ff 274px,#0069ff 277px,#0058ff 279px,#002eff 281px,#000cff 282px,#0000cc 284px,#00009e 286px,#0007ff 290px,#0045ff 292px,#006bff 295px,#0038ff 298px,#0000f5 300px,#0000a5 303px,#0000aa 304px,#0005ff 307px,#004dff 309px,#0083ff 312px,#0053ff 315px,#000cff 317px,#0000c8 319px,#0000a1 321px,#0000f7 324px,#005dff 327px,#007eff 329px,#006dff 331px,#003fff 333px,#0000f3 335px,#00009f 338px,#0000ea 341px,#0010ff 342px,#0055ff 344px,#0081ff 347px,#004aff 350px,#0001ff 352px,#0000a7 355px,#0000a9 356px,#0003ff 359px,#004cff 361px,#0082ff 364px,#0054ff 367px,#000eff 369px,#0000c9 371px,#0000a0 373px,#0000f5 376px,#005cff 379px,#007dff 381px,#006eff 383px,#0041ff 385px,#001cff 386px,#0009ff 387px)"></div>
<div style="position:absolute;left:48.3px;top:293.30px;width:387.0px;height:1.30px;background:linear-gradient(90deg,#0000e9 0px,#0013ff 1px,#0060ff 3px,#0092ff 6px,#0053ff 9px,#0002ff 11px,#00009f 14px,#00009e 15px,#0000cf 17px,#0000f3 18px,#0047ff 20px,#007bff 22px,#008cff 23px,#008eff 24px,#004aff 27px,#0000f7 29px,#00009e 32px,#00009e 33px,#0000fd 36px,#0050ff 38px,#0090ff 41px,#0078ff 43px,#0041ff 45px,#0017ff 46px,#0000ed 47px,#0000ad 49px,#00009e 50px,#0000a3 51px,#0008ff 54px,#0058ff 56px,#0094ff 59px,#005bff 62px,#000dff 64px,#0000c2 66px,#0000a6 67px,#00009e 68px,#0000aa 69px,#0000e9 71px,#0013ff 72px,#0060ff 74px,#0092ff 77px,#0053ff 80px,#0002ff 82px,#00009f 85px,#00009e 86px,#0000cf 88px,#0000f3 89px,#0047ff 91px,#007bff 93px,#008cff 94px,#008eff 95px,#004aff 98px,#0000f7 100px,#00009e 103px,#00009e 104px,#0000fd 107px,#0050ff 109px,#0090ff 112px,#0078ff 114px,#0041ff 116px,#0017ff 117px,#0000ed 118px,#0000ad 120px,#00009e 121px,#0000a3 122px,#0008ff 125px,#0058ff 127px,#0094ff 130px,#005bff 133px,#000dff 135px,#0000c2 137px,#0000a6 138px,#00009e 139px,#0000aa 140px,#0000e9 142px,#0013ff 143px,#0060ff 145px,#0092ff 148px,#0053ff 151px,#0002ff 153px,#00009f 156px,#00009e 157px,#0000cf 159px,#0000f3 160px,#0047ff 162px,#007bff 164px,#008cff 165px,#008eff 166px,#004aff 169px,#0000f7 171px,#00009e 174px,#00009e 175px,#0009ff 178px,#0065ff 180px,#00adff 183px,#0091ff 185px,#0054ff 187px,#0000f6 189px,#0000ed 190px,#0017ff 191px,#0062ff 193px,#008aff 195px,#0090ff 196px,#0050ff 199px,#0000fd 201px,#0000d7 202px,#0000f7 203px,#004dff 206px,#006aff 208px,#0039ff 211px,#0000f7 213px,#0000a4 216px,#00009e 217px,#0000eb 220px,#000eff 221px,#0047ff 223px,#0065ff 225px,#0052ff 227px,#0026ff 229px,#0004ff 230px,#0000ab 233px,#00009e 234px,#0000c2 236px,#0002ff 238px,#0040ff 240px,#0066ff 243px,#0031ff 246px,#0010ff 247px,#0000cd 249px,#00009e 251px,#0000a2 252px,#0000f5 255px,#004cff 258px,#0069ff 260px,#003aff 263px,#0000f8 265px,#0000a5 268px,#00009e 269px,#0000e9 272px,#000dff 273px,#0046ff 275px,#0065ff 277px,#0053ff 279px,#0027ff 281px,#0005ff 282px,#0000ad 285px,#00009e 286px,#0000c1 288px,#0000ff 290px,#003fff 292px,#0066ff 295px,#0032ff 298px,#0012ff 299px,#0000ee 300px,#00009e 303px,#0000a2 304px,#0000fc 307px,#0046ff 309px,#007eff 312px,#004cff 315px,#0005ff 317px,#0000a7 320px,#00009e 321px,#0000ef 324px,#003bff 326px,#0079ff 329px,#0067ff 331px,#0038ff 333px,#0012ff 334px,#0000eb 335px,#0000af 337px,#00009e 338px,#0000c3 340px,#0009ff 342px,#004fff 344px,#007dff 347px,#0043ff 350px,#0000f8 352px,#00009f 355px,#0000a0 356px,#0000fa 359px,#005cff 362px,#007dff 364px,#004dff 367px,#0007ff 369px,#0000a8 372px,#00009e 373px,#0000ed 376px,#0014ff 377px,#0055ff 379px,#0078ff 381px,#0078ff 382px,#003aff 385px,#0014ff 386px,#0001ff 387px)"></div>
<div style="position:absolute;left:48.3px;top:294.30px;width:387.0px;height:1.30px;background:linear-gradient(90deg,#0000e0 0px,#000aff 1px,#0058ff 3px,#008dff 6px,#004bff 9px,#0000f8 11px,#0000b2 13px,#00009e 14px,#0000a8 16px,#0000ea 18px,#0015ff 19px,#005eff 21px,#0087ff 23px,#0088ff 24px,#0042ff 27px,#0019ff 28px,#0000ee 29px,#0000ab 31px,#00009e 33px,#0000ce 35px,#0000f4 36px,#0064ff 39px,#008bff 41px,#0071ff 43px,#0038ff 45px,#000eff 46px,#0000c1 48px,#0000a4 49px,#00009e 51px,#0000ff 54px,#0050ff 56px,#008fff 59px,#0053ff 62px,#0004ff 64px,#00009e 67px,#0000a1 69px,#000aff 72px,#0058ff 74px,#008dff 77px,#004bff 80px,#0000f8 82px,#0000b2 84px,#00009e 85px,#0000a8 87px,#0000ea 89px,#0015ff 90px,#005eff 92px,#0087ff 94px,#0088ff 95px,#0042ff 98px,#0019ff 99px,#0000ee 100px,#0000ab 102px,#00009e 104px,#0000ce 106px,#0000f4 107px,#0064ff 110px,#008bff 112px,#0071ff 114px,#0038ff 116px,#000eff 117px,#0000c1 119px,#0000a4 120px,#00009e 122px,#0000ff 125px,#0050ff 127px,#008fff 130px,#0053ff 133px,#0004ff 135px,#00009e 138px,#0000a1 140px,#000aff 143px,#0058ff 145px,#008dff 148px,#004bff 151px,#0000f8 153px,#0000b2 155px,#00009e 156px,#0000a8 158px,#0000ea 160px,#0015ff 161px,#005eff 163px,#0087ff 165px,#0088ff 166px,#0042ff 169px,#0019ff 170px,#0000ee 171px,#0000ab 173px,#00009e 175px,#0000d4 177px,#0000fe 178px,#005bff 180px,#00a7ff 183px,#008aff 185px,#004aff 187px,#001bff 188px,#0000ed 189px,#0000e4 190px,#000eff 191px,#005bff 193px,#0084ff 195px,#008bff 196px,#0047ff 199px,#0000f4 201px,#0000cf 202px,#0000ef 203px,#0032ff 205px,#0065ff 208px,#0032ff 211px,#0000ef 213px,#00009e 216px,#0000ab 218px,#0007ff 221px,#0040ff 223px,#0061ff 225px,#004dff 227px,#0000fb 230px,#0000a4 233px,#0000a3 235px,#0000fa 238px,#004cff 241px,#0061ff 243px,#002aff 246px,#0009ff 247px,#0000ac 250px,#00009e 252px,#0000ee 255px,#0011ff 256px,#0046ff 258px,#0065ff 260px,#0033ff 263px,#0000f1 265px,#00009e 268px,#0000aa 270px,#0005ff 273px,#0040ff 275px,#0060ff 277px,#004eff 279px,#0000fd 282px,#0000a5 285px,#0000a2 287px,#0000f8 290px,#004bff 293px,#0062ff 295px,#002bff 298px,#000bff 299px,#0000ad 302px,#00009e 304px,#0000f4 307px,#0057ff 310px,#0079ff 312px,#0045ff 315px,#0000fc 317px,#00009e 320px,#0000aa 322px,#0000e7 324px,#000eff 325px,#0050ff 327px,#0074ff 329px,#0061ff 331px,#0030ff 333px,#000aff 334px,#0000a7 337px,#0000a1 339px,#0001ff 342px,#0048ff 344px,#0078ff 347px,#003cff 350px,#0000f0 352px,#0000b0 354px,#00009e 355px,#00009e 356px,#0000cf 358px,#0000f2 359px,#003dff 361px,#0078ff 364px,#0046ff 367px,#0000fe 369px,#00009f 372px,#0000a8 374px,#0000e5 376px,#000cff 377px,#004fff 379px,#0073ff 381px,#0073ff 382px,#0032ff 385px,#000cff 386px,#0000f8 387px)"></div>
<div style="position:absolute;left:48.3px;top:295.30px;width:387.0px;height:1.30px;background:linear-gradient(90deg,#0000d7 0px,#0001ff 1px,#0050ff 3px,#0087ff 6px,#0042ff 9px,#0000ef 11px,#0000a9 13px,#00009f 16px,#000cff 19px,#0056ff 21px,#0081ff 23px,#0083ff 24px,#0039ff 27px,#0010ff 28px,#0000c0 30px,#0000a1 31px,#0000a6 34px,#0000eb 36px,#0016ff 37px,#005dff 39px,#0085ff 41px,#006aff 43px,#002fff 45px,#0005ff 46px,#00009e 49px,#00009e 51px,#0000ad 52px,#0000f5 54px,#0062ff 57px,#008aff 59px,#004bff 62px,#0000f9 64px,#0000b0 66px,#00009e 67px,#00009e 69px,#0000d7 71px,#0001ff 72px,#0050ff 74px,#0087ff 77px,#0042ff 80px,#0000ef 82px,#0000a9 84px,#00009f 87px,#000cff 90px,#0056ff 92px,#0081ff 94px,#0083ff 95px,#0039ff 98px,#0010ff 99px,#0000c0 101px,#0000a1 102px,#0000a6 105px,#0000eb 107px,#0016ff 108px,#005dff 110px,#0085ff 112px,#006aff 114px,#002fff 116px,#0005ff 117px,#00009e 120px,#00009e 122px,#0000ad 123px,#0000f5 125px,#0062ff 128px,#008aff 130px,#004bff 133px,#0000f9 135px,#0000b0 137px,#00009e 138px,#00009e 140px,#0000d7 142px,#0001ff 143px,#0050ff 145px,#0087ff 148px,#0042ff 151px,#0000ef 153px,#0000a9 155px,#00009f 158px,#000cff 161px,#0056ff 163px,#0081ff 165px,#0083ff 166px,#0039ff 169px,#0010ff 170px,#0000c0 172px,#0000a1 173px,#0000a7 176px,#0000f4 178px,#0073ff 181px,#00a0ff 183px,#0082ff 185px,#0040ff 187px,#0011ff 188px,#0000e2 189px,#0000db 190px,#0005ff 191px,#0052ff 193px,#007eff 195px,#0085ff 196px,#003fff 199px,#0016ff 200px,#0000eb 201px,#0000c7 202px,#000cff 204px,#0041ff 206px,#0061ff 208px,#002bff 211px,#000cff 212px,#0000ac 215px,#00009e 217px,#0000a3 218px,#0000fe 221px,#004cff 224px,#005cff 225px,#0047ff 227px,#0000f4 230px,#00009e 233px,#00009e 235px,#0000f2 238px,#0033ff 240px,#0057ff 242px,#005dff 243px,#0023ff 246px,#0001ff 247px,#0000a4 250px,#00009e 252px,#0000c6 254px,#000aff 256px,#0040ff 258px,#0060ff 260px,#002dff 263px,#000dff 264px,#0000c9 266px,#00009e 268px,#0000a2 270px,#0000fd 273px,#004bff 276px,#005bff 277px,#0048ff 279px,#0000f6 282px,#00009e 285px,#00009e 287px,#0000f0 290px,#0032ff 292px,#005dff 295px,#0024ff 298px,#0003ff 299px,#0000a6 302px,#00009e 304px,#0000ab 305px,#0000ec 307px,#0014ff 308px,#0050ff 310px,#0074ff 312px,#003dff 315px,#0000f3 317px,#0000b0 319px,#00009e 320px,#0000a1 322px,#0006ff 325px,#0049ff 327px,#006fff 329px,#006dff 330px,#0028ff 333px,#0002ff 334px,#00009f 337px,#00009e 339px,#0000d2 341px,#0000f7 342px,#0056ff 345px,#0073ff 347px,#0034ff 350px,#0010ff 351px,#0000c5 353px,#0000a8 354px,#00009e 356px,#0000a9 357px,#0000ea 359px,#0012ff 360px,#004fff 362px,#0073ff 364px,#003fff 367px,#0000f5 369px,#0000b1 371px,#00009e 372px,#0000a0 374px,#0004ff 377px,#0047ff 379px,#006eff 381px,#006eff 382px,#002aff 385px,#0004ff 386px,#0000ef 387px)"></div>
<div style="position:absolute;left:48.3px;top:296.30px;width:387.0px;height:1.30px;background:linear-gradient(90deg,#0000ce 0px,#0000f6 1px,#0060ff 4px,#0081ff 6px,#0039ff 9px,#0011ff 10px,#0000e5 11px,#00009f 13px,#00009e 16px,#0000d7 18px,#0002ff 19px,#004eff 21px,#007bff 23px,#007dff 24px,#0030ff 27px,#0006ff 28px,#00009e 31px,#00009e 34px,#0000e1 36px,#000dff 37px,#0054ff 39px,#007fff 41px,#0063ff 43px,#0026ff 45px,#0000fa 46px,#0000ae 48px,#00009e 49px,#0000a4 52px,#0000ec 54px,#0017ff 55px,#005bff 57px,#0084ff 59px,#0042ff 62px,#0000f0 64px,#0000a7 66px,#00009e 69px,#0000ab 70px,#0000f6 72px,#0060ff 75px,#0081ff 77px,#0039ff 80px,#0011ff 81px,#0000e5 82px,#00009f 84px,#00009e 87px,#0000d7 89px,#0002ff 90px,#004eff 92px,#007bff 94px,#007dff 95px,#0030ff 98px,#0006ff 99px,#00009e 102px,#00009e 105px,#0000e1 107px,#000dff 108px,#0054ff 110px,#007fff 112px,#0063ff 114px,#0026ff 116px,#0000fa 117px,#0000ae 119px,#00009e 120px,#0000a4 123px,#0000ec 125px,#0017ff 126px,#005bff 128px,#0084ff 130px,#0042ff 133px,#0000f0 135px,#0000a7 137px,#00009e 140px,#0000ab 141px,#0000f6 143px,#0060ff 146px,#0081ff 148px,#0039ff 151px,#0011ff 152px,#0000e5 153px,#00009f 155px,#00009e 158px,#0000d7 160px,#0002ff 161px,#004eff 163px,#007bff 165px,#007dff 166px,#0030ff 169px,#0006ff 170px,#00009e 173px,#00009e 176px,#0000e9 178px,#0019ff 179px,#006aff 181px,#009aff 183px,#007aff 185px,#0036ff 187px,#0006ff 188px,#0000d7 189px,#0000d1 190px,#0000fa 191px,#004aff 193px,#0078ff 195px,#007fff 196px,#0036ff 199px,#000dff 200px,#0000bf 202px,#0004ff 204px,#004dff 207px,#005cff 208px,#0024ff 211px,#0004ff 212px,#0000a4 215px,#00009e 218px,#0000f6 221px,#0057ff 225px,#0041ff 227px,#0010ff 229px,#0000ca 231px,#00009e 233px,#00009e 235px,#0000c8 237px,#000eff 239px,#0052ff 242px,#0058ff 243px,#001bff 246px,#0000f8 247px,#00009e 250px,#0000a3 253px,#0002ff 256px,#004cff 259px,#005bff 260px,#0025ff 263px,#0006ff 264px,#0000a5 267px,#00009e 270px,#0000f5 273px,#0056ff 277px,#0042ff 279px,#0011ff 281px,#0000ee 282px,#0000ae 284px,#00009e 285px,#00009e 287px,#0000aa 288px,#0000e8 290px,#000cff 291px,#0051ff 294px,#0059ff 295px,#001dff 298px,#0000fa 299px,#00009e 302px,#0000a2 305px,#000bff 308px,#0049ff 310px,#006fff 312px,#0035ff 315px,#0012ff 316px,#0000ea 317px,#0000a7 319px,#00009e 322px,#0000d6 324px,#0000fc 325px,#0056ff 328px,#0069ff 329px,#0067ff 330px,#0020ff 333px,#0000f8 334px,#0000b1 336px,#00009e 337px,#00009e 339px,#0000aa 340px,#0000ee 342px,#0016ff 343px,#004fff 345px,#006dff 347px,#002cff 350px,#0007ff 351px,#00009f 354px,#0000a0 357px,#0009ff 360px,#0048ff 362px,#006eff 364px,#0037ff 367px,#0014ff 368px,#0000ec 369px,#0000a9 371px,#00009e 374px,#0000d4 376px,#0000fa 377px,#0055ff 380px,#0068ff 381px,#0068ff 382px,#0021ff 385px,#0000fa 386px,#0000e7 387px)"></div>
<div style="position:absolute;left:48.3px;top:297.30px;width:387.0px;height:1.30px;background:linear-gradient(90deg,#0000c3 0px,#0000ec 1px,#0018ff 2px,#0059ff 4px,#007bff 6px,#0030ff 9px,#0007ff 10px,#0000b5 12px,#00009e 13px,#00009e 16px,#0000a9 17px,#0000f7 19px,#005eff 22px,#0074ff 23px,#0076ff 24px,#0026ff 27px,#0000fb 28px,#0000ad 30px,#00009e 32px,#00009e 34px,#0000b2 35px,#0002ff 37px,#004cff 39px,#0079ff 41px,#005bff 43px,#001cff 45px,#0000f0 46px,#0000a4 48px,#00009e 52px,#0000e1 54px,#000dff 55px,#0052ff 57px,#007eff 59px,#0039ff 62px,#0012ff 63px,#0000e5 64px,#00009e 66px,#0000a1 70px,#0000ec 72px,#0018ff 73px,#0059ff 75px,#007bff 77px,#0030ff 80px,#0007ff 81px,#0000b5 83px,#00009e 84px,#00009e 87px,#0000a9 88px,#0000f7 90px,#005eff 93px,#0074ff 94px,#0076ff 95px,#0026ff 98px,#0000fb 99px,#0000ad 101px,#00009e 103px,#00009e 105px,#0000b2 106px,#0002ff 108px,#004cff 110px,#0079ff 112px,#005bff 114px,#001cff 116px,#0000f0 117px,#0000a4 119px,#00009e 123px,#0000e1 125px,#000dff 126px,#0052ff 128px,#007eff 130px,#0039ff 133px,#0012ff 134px,#0000e5 135px,#00009e 137px,#0000a1 141px,#0000ec 143px,#0018ff 144px,#0059ff 146px,#007bff 148px,#0030ff 151px,#0007ff 152px,#0000b5 154px,#00009e 155px,#00009e 158px,#0000a9 159px,#0000f7 161px,#005eff 164px,#0074ff 165px,#0076ff 166px,#0026ff 169px,#0000fb 170px,#0000ad 172px,#00009e 174px,#00009e 176px,#0000b4 177px,#000eff 179px,#0060ff 181px,#0093ff 183px,#0071ff 185px,#002bff 187px,#0000fa 188px,#0000cc 189px,#0000c7 190px,#0000f0 191px,#0041ff 193px,#0071ff 195px,#0079ff 196px,#002cff 199px,#0002ff 200px,#0000b7 202px,#0000fb 204px,#0047ff 207px,#0057ff 208px,#001cff 211px,#0000fb 212px,#00009e 215px,#00009e 218px,#0000cb 220px,#0000ee 221px,#0012ff 222px,#0052ff 225px,#003bff 227px,#0008ff 229px,#0000a5 232px,#0000a3 236px,#0006ff 239px,#004cff 242px,#0053ff 243px,#0013ff 246px,#0000f0 247px,#0000ae 249px,#00009e 250px,#00009e 253px,#0000f9 256px,#0056ff 260px,#001eff 263px,#0000fc 264px,#00009e 267px,#00009e 270px,#0000ab 271px,#0000ec 273px,#0010ff 274px,#0051ff 277px,#003cff 279px,#0009ff 281px,#0000a6 284px,#0000a2 288px,#0004ff 291px,#004bff 294px,#0053ff 295px,#0015ff 298px,#0000f2 299px,#0000b0 301px,#00009e 302px,#00009e 305px,#0000d9 307px,#0002ff 308px,#0041ff 310px,#0069ff 312px,#002dff 315px,#0009ff 316px,#00009e 319px,#00009e 322px,#0000ab 323px,#0000f3 325px,#0039ff 327px,#0063ff 329px,#0061ff 330px,#0017ff 333px,#0000ef 334px,#0000a8 336px,#00009e 339px,#0000a1 340px,#0000e5 342px,#000dff 343px,#0048ff 345px,#0068ff 347px,#0023ff 350px,#0000fd 351px,#0000b3 353px,#00009e 354px,#00009e 357px,#0000d8 359px,#0000ff 360px,#0040ff 362px,#0068ff 364px,#002eff 367px,#000bff 368px,#0000a0 371px,#00009e 374px,#0000aa 375px,#0000f1 377px,#0038ff 379px,#0062ff 381px,#0062ff 382px,#0018ff 385px,#0000f1 386px,#0000dd 387px)"></div>
<div style="position:absolute;left:48.3px;top:298.30px;width:387.0px;height:1.30px;background:linear-gradient(90deg,#0000b9 0px,#000dff 2px,#0050ff 4px,#0074ff 6px,#0026ff 9px,#0000fb 10px,#0000aa 12px,#00009e 14px,#00009f 17px,#0000ec 19px,#0018ff 20px,#006dff 23px,#006fff 24px,#001cff 27px,#0000f0 28px,#0000a2 30px,#0000a7 35px,#0000f7 37px,#005dff 40px,#0072ff 41px,#0053ff 43px,#0012ff 45px,#0000e5 46px,#00009e 48px,#00009e 52px,#0000b0 53px,#0003ff 55px,#004aff 57px,#0077ff 59px,#002fff 62px,#0007ff 63px,#0000b3 65px,#00009e 66px,#00009e 70px,#0000e1 72px,#000dff 73px,#0050ff 75px,#0074ff 77px,#0026ff 80px,#0000fb 81px,#0000aa 83px,#00009e 85px,#00009f 88px,#0000ec 90px,#0018ff 91px,#006dff 94px,#006fff 95px,#001cff 98px,#0000f0 99px,#0000a2 101px,#0000a7 106px,#0000f7 108px,#005dff 111px,#0072ff 112px,#0053ff 114px,#0012ff 116px,#0000e5 117px,#00009e 119px,#00009e 123px,#0000b0 124px,#0003ff 126px,#004aff 128px,#0077ff 130px,#002fff 133px,#0007ff 134px,#0000b3 136px,#00009e 137px,#00009e 141px,#0000e1 143px,#000dff 144px,#0050ff 146px,#0074ff 148px,#0026ff 151px,#0000fb 152px,#0000aa 154px,#00009e 156px,#00009f 159px,#0000ec 161px,#0018ff 162px,#006dff 165px,#006fff 166px,#001cff 169px,#0000f0 170px,#0000a2 172px,#00009e 176px,#0000a8 177px,#0002ff 179px,#0056ff 181px,#008bff 183px,#0082ff 184px,#0049ff 186px,#001fff 187px,#0000ee 188px,#0000c0 189px,#0000bd 190px,#0000e5 191px,#0012ff 192px,#0053ff 194px,#0072ff 196px,#0022ff 199px,#0000f7 200px,#0000ae 202px,#0000f2 204px,#002dff 206px,#0052ff 208px,#0014ff 211px,#0000f2 212px,#0000ae 214px,#00009e 216px,#0000a4 219px,#0009ff 222px,#004cff 225px,#0034ff 227px,#0000fe 229px,#00009e 232px,#00009e 236px,#0000fc 239px,#0046ff 242px,#004dff 243px,#000bff 246px,#0000a5 249px,#00009e 253px,#0000ad 254px,#0000f0 256px,#002cff 258px,#0051ff 260px,#0016ff 263px,#0000f4 264px,#0000b0 266px,#00009e 267px,#0000a3 271px,#0008ff 274px,#004bff 277px,#0035ff 279px,#0001ff 281px,#00009e 284px,#00009e 288px,#0000fb 291px,#0045ff 294px,#004eff 295px,#000cff 298px,#0000c6 300px,#0000a7 301px,#00009e 305px,#0000ad 306px,#0000f7 308px,#0063ff 312px,#0024ff 315px,#0000ff 316px,#0000b3 318px,#00009e 319px,#0000a2 323px,#0000e9 325px,#0011ff 326px,#005dff 329px,#005bff 330px,#000dff 333px,#0000bf 335px,#00009f 336px,#00009e 340px,#0004ff 343px,#0056ff 346px,#0062ff 347px,#001aff 350px,#0000f3 351px,#0000a9 353px,#00009e 356px,#0000ab 358px,#0000f5 360px,#0063ff 364px,#0026ff 367px,#0002ff 368px,#0000b5 370px,#00009e 371px,#0000a0 375px,#0000e7 377px,#000fff 378px,#005cff 381px,#005cff 382px,#000fff 385px,#0000d3 387px)"></div>
<div style="position:absolute;left:48.3px;top:299.30px;width:387.0px;height:1.30px;background:linear-gradient(90deg,#0000ae 0px,#0002ff 2px,#0048ff 4px,#006eff 6px,#001bff 9px,#0000f0 10px,#00009f 12px,#00009e 17px,#0000b7 18px,#000dff 20px,#0066ff 23px,#0068ff 24px,#0011ff 27px,#0000e5 28px,#00009e 30px,#00009e 35px,#0000ec 37px,#0017ff 38px,#006bff 41px,#004aff 43px,#0007ff 45px,#0000b1 47px,#00009e 48px,#0000a4 53px,#0000f7 55px,#005bff 58px,#0071ff 59px,#0025ff 62px,#0000fb 63px,#0000a8 65px,#00009e 70px,#0000ae 71px,#0002ff 73px,#0048ff 75px,#006eff 77px,#001bff 80px,#0000f0 81px,#00009f 83px,#00009e 88px,#0000b7 89px,#000dff 91px,#0066ff 94px,#0068ff 95px,#0011ff 98px,#0000e5 99px,#00009e 101px,#00009e 106px,#0000ec 108px,#0017ff 109px,#006bff 112px,#004aff 114px,#0007ff 116px,#0000b1 118px,#00009e 119px,#0000a4 124px,#0000f7 126px,#005bff 129px,#0071ff 130px,#0025ff 133px,#0000fb 134px,#0000a8 136px,#00009e 141px,#0000ae 142px,#0002ff 144px,#0048ff 146px,#006eff 148px,#001bff 151px,#0000f0 152px,#00009f 154px,#00009e 159px,#0000b7 160px,#000dff 162px,#0066ff 165px,#0068ff 166px,#0011ff 169px,#0000e5 170px,#00009e 172px,#00009e 177px,#0000f5 179px,#006aff 182px,#0084ff 183px,#007aff 184px,#003eff 186px,#0013ff 187px,#0000e1 188px,#0000b4 189px,#0000b1 190px,#0007ff 192px,#004aff 194px,#006bff 196px,#0017ff 199px,#0000ec 200px,#0000a5 202px,#000cff 205px,#004dff 208px,#000cff 211px,#0000a5 214px,#00009e 219px,#0000ff 222px,#0047ff 225px,#002dff 227px,#0000f5 229px,#0000af 231px,#00009e 232px,#00009e 236px,#0000ae 237px,#0000f3 239px,#0040ff 242px,#0047ff 243px,#0002ff 246px,#00009e 249px,#0000a3 254px,#000aff 257px,#004cff 260px,#000dff 263px,#0000c7 265px,#0000a6 266px,#00009e 271px,#0000fe 274px,#0046ff 277px,#0042ff 278px,#0000f7 281px,#0000b1 283px,#00009e 284px,#00009e 288px,#0000ac 289px,#0000f2 291px,#002bff 293px,#0048ff 295px,#0004ff 298px,#00009e 301px,#0000a2 306px,#0000ed 308px,#0014ff 309px,#005dff 312px,#0000f5 316px,#0000a9 318px,#00009e 321px,#00009e 323px,#0007ff 326px,#0056ff 329px,#0054ff 330px,#0003ff 333px,#0000b5 335px,#00009e 336px,#00009e 340px,#0000ac 341px,#0000f9 343px,#004fff 346px,#005bff 347px,#0010ff 350px,#0000e9 351px,#00009f 353px,#0000a1 358px,#0000eb 360px,#0012ff 361px,#005cff 364px,#001cff 367px,#0000f7 368px,#0000ab 370px,#00009e 372px,#00009e 375px,#0005ff 378px,#0055ff 381px,#0055ff 382px,#0005ff 385px,#0000c9 387px)"></div>
<div style="position:absolute;left:48.3px;top:300.30px;width:387.0px;height:1.30px;background:linear-gradient(90deg,#0000a2 0px,#0000f6 2px,#0059ff 5px,#0066ff 6px,#0010ff 9px,#0000e4 10px,#0000b9 11px,#00009e 12px,#00009e 17px,#0000ab 18px,#0002ff 20px,#005eff 23px,#0061ff 24px,#0006ff 27px,#0000af 29px,#00009e 30px,#00009e 35px,#0000b5 36px,#000cff 38px,#0064ff 41px,#005bff 42px,#0000fa 45px,#0000a5 47px,#00009e 53px,#0000eb 55px,#0016ff 56px,#006aff 59px,#001aff 62px,#0000ef 63px,#00009e 65px,#0000a2 71px,#0000f6 73px,#0059ff 76px,#0066ff 77px,#0010ff 80px,#0000e4 81px,#0000b9 82px,#00009e 83px,#00009e 88px,#0000ab 89px,#0002ff 91px,#005eff 94px,#0061ff 95px,#0006ff 98px,#0000af 100px,#00009e 101px,#00009e 106px,#0000b5 107px,#000cff 109px,#0064ff 112px,#005bff 113px,#0000fa 116px,#0000a5 118px,#00009e 124px,#0000eb 126px,#0016ff 127px,#006aff 130px,#001aff 133px,#0000ef 134px,#00009e 136px,#0000a2 142px,#0000f6 144px,#0059ff 147px,#0066ff 148px,#0010ff 151px,#0000e4 152px,#0000b9 153px,#00009e 154px,#00009e 159px,#0000ab 160px,#0002ff 162px,#005eff 165px,#0061ff 166px,#0006ff 169px,#0000af 171px,#00009e 172px,#00009e 177px,#0000b8 178px,#0000e7 179px,#0019ff 180px,#007bff 183px,#0071ff 184px,#0033ff 186px,#0006ff 187px,#0000a6 189px,#0000a5 190px,#0000fa 192px,#005bff 195px,#0064ff 196px,#000cff 199px,#0000b5 201px,#00009e 202px,#0003ff 205px,#0047ff 208px,#0003ff 211px,#00009e 214px,#00009e 219px,#0000af 220px,#0000f6 222px,#0040ff 225px,#0026ff 227px,#000dff 228px,#0000ec 229px,#0000a6 231px,#0000a4 237px,#0000ea 239px,#000cff 240px,#003aff 242px,#0041ff 243px,#0000f8 246px,#0000b1 248px,#00009e 249px,#00009e 254px,#0001ff 257px,#0046ff 260px,#0004ff 263px,#00009e 266px,#00009e 271px,#0000ae 272px,#0000f5 274px,#0040ff 277px,#003cff 278px,#000fff 280px,#0000ee 281px,#0000a7 283px,#00009e 288px,#0000a3 289px,#000aff 292px,#0039ff 294px,#0042ff 295px,#0000fa 298px,#0000b3 300px,#00009e 301px,#00009e 306px,#000aff 309px,#0057ff 312px,#0011ff 315px,#0000ea 316px,#00009e 318px,#00009e 323px,#0000ae 324px,#0000fc 326px,#0050ff 329px,#004eff 330px,#0000f8 333px,#0000aa 335px,#00009e 338px,#0000a1 341px,#0000ee 343px,#0014ff 344px,#0048ff 346px,#0055ff 347px,#0006ff 350px,#00009e 353px,#00009e 358px,#0008ff 361px,#0056ff 364px,#0013ff 367px,#0000ec 368px,#0000a0 370px,#00009e 375px,#0000ac 376px,#0000fa 378px,#004fff 381px,#004fff 382px,#0000fa 385px,#0000d2 386px,#0000be 387px)"></div>
<div style="position:absolute;left:48.3px;top:301.30px;width:387.0px;height:1.30px;background:linear-gradient(90deg,#00009e 0px,#0000ea 2px,#0014ff 3px,#0050ff 5px,#005fff 6px,#0005ff 9px,#0000ad 11px,#00009e 13px,#00009f 18px,#0000f5 20px,#0056ff 23px,#0059ff 24px,#0000f9 27px,#0000a3 29px,#00009e 35px,#0000a9 36px,#0000ff 38px,#005dff 41px,#0053ff 42px,#0018ff 44px,#0000ee 45px,#00009e 47px,#00009e 53px,#0000b3 54px,#000bff 56px,#0062ff 59px,#000fff 62px,#0000e3 63px,#0000b7 64px,#00009e 65px,#00009e 71px,#0000ea 73px,#0014ff 74px,#0050ff 76px,#005fff 77px,#0005ff 80px,#0000ad 82px,#00009e 84px,#00009f 89px,#0000f5 91px,#0056ff 94px,#0059ff 95px,#0000f9 98px,#0000a3 100px,#00009e 106px,#0000a9 107px,#0000ff 109px,#005dff 112px,#0053ff 113px,#0018ff 115px,#0000ee 116px,#00009e 118px,#00009e 124px,#0000b3 125px,#000bff 127px,#0062ff 130px,#000fff 133px,#0000e3 134px,#0000b7 135px,#00009e 136px,#00009e 142px,#0000ea 144px,#0014ff 145px,#0050ff 147px,#005fff 148px,#0005ff 151px,#0000ad 153px,#00009e 155px,#00009f 160px,#0000f5 162px,#0056ff 165px,#0059ff 166px,#0000f9 169px,#0000a3 171px,#00009e 177px,#0000aa 178px,#000cff 180px,#0073ff 183px,#0068ff 184px,#0000f8 187px,#00009e 189px,#00009e 190px,#0000ee 192px,#0018ff 193px,#0053ff 195px,#005dff 196px,#0000ff 199px,#0000a9 201px,#00009e 202px,#0000b1 203px,#0000f8 205px,#0041ff 208px,#0000f8 211px,#0000b1 213px,#00009e 214px,#0000a5 220px,#0000ed 222px,#000cff 223px,#003aff 225px,#0034ff 226px,#0004ff 228px,#00009e 231px,#00009e 237px,#0003ff 240px,#0033ff 242px,#003bff 243px,#000eff 245px,#0000ee 246px,#0000a7 248px,#00009e 254px,#0000af 255px,#0000f7 257px,#0040ff 260px,#0000fa 263px,#0000b3 265px,#00009e 266px,#0000a3 272px,#0000eb 274px,#000bff 275px,#0039ff 277px,#0035ff 278px,#0006ff 280px,#00009e 283px,#00009e 289px,#0001ff 292px,#0032ff 294px,#003cff 295px,#000fff 297px,#0000f0 298px,#0000a8 300px,#00009e 304px,#00009e 306px,#0000af 307px,#0000fe 309px,#0050ff 312px,#0007ff 315px,#00009e 318px,#0000a2 324px,#0000f1 326px,#0031ff 328px,#0049ff 329px,#0046ff 330px,#0012ff 332px,#0000ed 333px,#00009f 335px,#00009e 341px,#000aff 344px,#0041ff 346px,#004eff 347px,#0000fb 350px,#0000ab 352px,#00009e 354px,#00009e 358px,#0000ad 359px,#0000fd 361px,#004fff 364px,#0026ff 366px,#0008ff 367px,#00009e 370px,#0000a0 376px,#0000ef 378px,#002fff 380px,#0047ff 381px,#0047ff 382px,#0014ff 384px,#0000ef 385px,#0000c7 386px,#0000b3 387px)"></div>
<div style="position:absolute;left:48.3px;top:302.30px;width:387.0px;height:1.30px;background:linear-gradient(90deg,#00009e 0px,#0000b0 1px,#0009ff 3px,#0048ff 5px,#0057ff 6px,#0000f7 9px,#00009f 11px,#00009e 18px,#0000bb 19px,#0000e8 20px,#0012ff 21px,#004eff 23px,#0051ff 24px,#0015ff 26px,#0000ed 27px,#00009e 29px,#00009e 36px,#0000f3 38px,#0054ff 41px,#004aff 42px,#000dff 44px,#0000b5 46px,#00009e 47px,#0000a6 54px,#0000fe 56px,#005bff 59px,#0003ff 62px,#0000aa 64px,#00009e 67px,#00009e 71px,#0000b0 72px,#0009ff 74px,#0048ff 76px,#0057ff 77px,#0000f7 80px,#00009f 82px,#00009e 89px,#0000bb 90px,#0000e8 91px,#0012ff 92px,#004eff 94px,#0051ff 95px,#0015ff 97px,#0000ed 98px,#00009e 100px,#00009e 107px,#0000f3 109px,#0054ff 112px,#004aff 113px,#000dff 115px,#0000b5 117px,#00009e 118px,#0000a6 125px,#0000fe 127px,#005bff 130px,#0003ff 133px,#0000aa 135px,#00009e 138px,#00009e 142px,#0000b0 143px,#0009ff 145px,#0048ff 147px,#0057ff 148px,#0000f7 151px,#00009f 153px,#00009e 160px,#0000bb 161px,#0000e8 162px,#0012ff 163px,#004eff 165px,#0051ff 166px,#0015ff 168px,#0000ed 169px,#00009e 171px,#00009e 178px,#0000fd 180px,#006aff 183px,#005eff 184px,#0019ff 186px,#0000e9 187px,#0000b7 188px,#00009e 189px,#00009e 190px,#0000b5 191px,#000dff 193px,#004aff 195px,#0054ff 196px,#0000f3 199px,#00009e 201px,#0000a6 203px,#0000ef 205px,#000dff 206px,#003aff 208px,#000dff 210px,#0000ef 211px,#0000a6 213px,#00009e 220px,#0003ff 223px,#0033ff 225px,#002dff 226px,#0000fa 228px,#0000b2 230px,#00009e 231px,#00009e 237px,#0000b1 238px,#0000f8 240px,#002cff 242px,#0034ff 243px,#0005ff 245px,#00009e 248px,#0000a4 255px,#0000ed 257px,#000cff 258px,#0039ff 260px,#000eff 262px,#0000f0 263px,#0000a8 265px,#00009e 270px,#00009e 272px,#0002ff 275px,#0032ff 277px,#002eff 278px,#0000fb 280px,#0000b4 282px,#00009e 283px,#00009e 289px,#0000af 290px,#0000f7 292px,#0035ff 295px,#0006ff 297px,#00009e 300px,#0000a3 307px,#0000f3 309px,#0049ff 312px,#0000fb 315px,#0000ab 317px,#00009e 319px,#00009e 324px,#000bff 327px,#0041ff 329px,#003fff 330px,#0008ff 332px,#00009e 335px,#00009e 341px,#0000af 342px,#0000fe 344px,#0039ff 346px,#0047ff 347px,#0013ff 349px,#0000f0 350px,#00009f 352px,#0000a1 359px,#0000f1 361px,#0030ff 363px,#0048ff 364px,#0000fd 367px,#0000ad 369px,#00009e 371px,#00009e 376px,#0009ff 379px,#0040ff 381px,#0040ff 382px,#0009ff 384px,#0000bb 386px,#0000a7 387px)"></div>
<div style="position:absolute;left:48.3px;top:303.30px;width:387.0px;height:1.30px;background:linear-gradient(90deg,#00009e 0px,#0000a2 1px,#0000fb 3px,#003eff 5px,#004fff 6px,#0013ff 8px,#0000eb 9px,#00009e 11px,#00009e 18px,#0000ad 19px,#0006ff 21px,#0045ff 23px,#0048ff 24px,#000aff 26px,#0000b2 28px,#00009e 29px,#00009e 36px,#0000b9 37px,#0000e6 38px,#000fff 39px,#004cff 41px,#0041ff 42px,#0000ff 44px,#0000a7 46px,#00009e 54px,#0000f1 56px,#0037ff 58px,#0052ff 59px,#0000f5 62px,#00009e 64px,#0000a2 72px,#0000fb 74px,#003eff 76px,#004fff 77px,#0013ff 79px,#0000eb 80px,#00009e 82px,#00009e 89px,#0000ad 90px,#0006ff 92px,#0045ff 94px,#0048ff 95px,#000aff 97px,#0000b2 99px,#00009e 100px,#00009e 107px,#0000b9 108px,#0000e6 109px,#000fff 110px,#004cff 112px,#0041ff 113px,#0000ff 115px,#0000a7 117px,#00009e 125px,#0000f1 127px,#0037ff 129px,#0052ff 130px,#0000f5 133px,#00009e 135px,#0000a2 143px,#0000fb 145px,#003eff 147px,#004fff 148px,#0013ff 150px,#0000eb 151px,#00009e 153px,#00009e 160px,#0000ad 161px,#0006ff 163px,#0045ff 165px,#0048ff 166px,#000aff 168px,#0000b2 170px,#00009e 171px,#00009e 178px,#0000bc 179px,#0000ef 180px,#001cff 181px,#0060ff 183px,#0054ff 184px,#000cff 186px,#0000a8 188px,#00009e 190px,#0000a7 191px,#0000ff 193px,#0041ff 195px,#004cff 196px,#000fff 198px,#0000e6 199px,#0000b9 200px,#00009e 201px,#00009e 203px,#0004ff 206px,#0034ff 208px,#0004ff 210px,#00009e 213px,#00009e 220px,#0000b2 221px,#0000f9 223px,#002cff 225px,#0026ff 226px,#0000f0 228px,#0000a7 230px,#00009e 237px,#0000a5 238px,#0000ee 240px,#000cff 241px,#002dff 243px,#0000fa 245px,#0000b4 247px,#00009e 248px,#00009e 255px,#0002ff 258px,#0033ff 260px,#0005ff 262px,#00009e 265px,#00009e 272px,#0000b0 273px,#0000f7 275px,#002bff 277px,#0027ff 278px,#0000f1 280px,#0000a9 282px,#00009e 285px,#0000a3 290px,#0000ed 292px,#000bff 293px,#002fff 295px,#0000fc 297px,#00009e 300px,#00009e 307px,#0000e8 309px,#000cff 310px,#0041ff 312px,#0012ff 314px,#0000ef 315px,#00009e 317px,#00009e 324px,#0000b0 325px,#0000ff 327px,#0039ff 329px,#0037ff 330px,#0000fc 332px,#0000ac 334px,#00009e 336px,#0000a2 342px,#0000f3 344px,#003fff 347px,#0008ff 349px,#00009e 352px,#00009e 359px,#000aff 362px,#0040ff 364px,#0013ff 366px,#0000f1 367px,#0000a0 369px,#00009e 376px,#0000ae 377px,#0000fe 379px,#0038ff 381px,#0038ff 382px,#0000fe 384px,#0000ae 386px,#00009e 387px)"></div>
<div style="position:absolute;left:48.3px;top:304.30px;width:387.0px;height:1.30px;background:linear-gradient(90deg,#00009e 0px,#00009e 1px,#0000ef 3px,#0015ff 4px,#0046ff 6px,#0007ff 8px,#0000af 10px,#00009e 11px,#00009f 19px,#0000f9 21px,#003cff 23px,#003fff 24px,#0000fc 26px,#0000a3 28px,#00009e 36px,#0000aa 37px,#0003ff 39px,#0043ff 41px,#0038ff 42px,#0000f3 44px,#00009e 46px,#00009e 54px,#0000b6 55px,#0000e4 56px,#000cff 57px,#004aff 59px,#0010ff 61px,#0000e8 62px,#0000ba 63px,#00009e 64px,#00009e 72px,#0000ef 74px,#0015ff 75px,#0046ff 77px,#0007ff 79px,#0000af 81px,#00009e 82px,#00009f 90px,#0000f9 92px,#003cff 94px,#003fff 95px,#0000fc 97px,#0000a3 99px,#00009e 107px,#0000aa 108px,#0003ff 110px,#0043ff 112px,#0038ff 113px,#0000f3 115px,#00009e 117px,#00009e 125px,#0000b6 126px,#0000e4 127px,#000cff 128px,#004aff 130px,#0010ff 132px,#0000e8 133px,#0000ba 134px,#00009e 135px,#00009e 143px,#0000ef 145px,#0015ff 146px,#0046ff 148px,#0007ff 150px,#0000af 152px,#00009e 153px,#00009f 161px,#0000f9 163px,#003cff 165px,#003fff 166px,#0000fc 168px,#0000a3 170px,#00009e 178px,#0000ac 179px,#0000df 180px,#000fff 181px,#0056ff 183px,#004aff 184px,#0000fd 186px,#00009e 188px,#00009e 191px,#0000f3 193px,#0038ff 195px,#0043ff 196px,#0003ff 198px,#0000aa 200px,#00009e 202px,#00009e 203px,#0000b3 204px,#0000f9 206px,#002dff 208px,#0000f9 210px,#0000b3 212px,#00009e 213px,#0000a6 221px,#0000ef 223px,#000cff 224px,#0025ff 225px,#001eff 226px,#0004ff 227px,#00009e 230px,#00009e 238px,#0003ff 241px,#001dff 242px,#0026ff 243px,#0000f0 245px,#0000a8 247px,#00009e 252px,#00009e 255px,#0000b2 256px,#0000f8 258px,#002cff 260px,#0000fb 262px,#00009e 265px,#0000a4 273px,#0000ed 275px,#000bff 276px,#0024ff 277px,#001fff 278px,#0006ff 279px,#0000c3 281px,#00009e 282px,#00009e 290px,#0002ff 293px,#0027ff 295px,#0000f2 297px,#0000aa 299px,#00009e 302px,#00009e 307px,#0000b2 308px,#0001ff 310px,#0039ff 312px,#0007ff 314px,#00009e 317px,#0000a3 325px,#0000f4 327px,#0031ff 329px,#002eff 330px,#0000f1 332px,#00009f 334px,#00009e 342px,#0000e7 344px,#000bff 345px,#0037ff 347px,#0000fd 349px,#0000ad 351px,#00009e 353px,#00009e 359px,#0000af 360px,#0000fe 362px,#0038ff 364px,#0009ff 366px,#00009e 369px,#0000a1 377px,#0000f2 379px,#002fff 381px,#002fff 382px,#0000f2 384px,#0000a1 386px,#00009e 387px)"></div>
<div style="position:absolute;left:48.3px;top:305.30px;width:387.0px;height:1.30px;background:linear-gradient(90deg,#00009e 0px,#00009e 1px,#0000b3 2px,#0000e1 3px,#0009ff 4px,#003dff 6px,#0000f9 8px,#0000a0 10px,#00009e 19px,#0000eb 21px,#0012ff 22px,#0032ff 23px,#0035ff 24px,#0000ef 26px,#00009e 28px,#00009e 37px,#0000f5 39px,#003aff 41px,#002eff 42px,#000dff 43px,#0000e5 44px,#0000b7 45px,#00009e 46px,#0000a7 55px,#0000ff 57px,#0041ff 59px,#0004ff 61px,#0000ab 63px,#00009e 65px,#00009e 72px,#0000b3 73px,#0000e1 74px,#0009ff 75px,#003dff 77px,#0000f9 79px,#0000a0 81px,#00009e 90px,#0000eb 92px,#0012ff 93px,#0032ff 94px,#0035ff 95px,#0000ef 97px,#00009e 99px,#00009e 108px,#0000f5 110px,#003aff 112px,#002eff 113px,#000dff 114px,#0000e5 115px,#0000b7 116px,#00009e 117px,#0000a7 126px,#0000ff 128px,#0041ff 130px,#0004ff 132px,#0000ab 134px,#00009e 136px,#00009e 143px,#0000b3 144px,#0000e1 145px,#0009ff 146px,#003dff 148px,#0000f9 150px,#0000a0 152px,#00009e 161px,#0000eb 163px,#0012ff 164px,#0032ff 165px,#0035ff 166px,#0000ef 168px,#00009e 170px,#00009e 179px,#0001ff 181px,#004cff 183px,#003fff 184px,#001aff 185px,#0000ee 186px,#0000ba 187px,#00009e 188px,#00009e 191px,#0000b7 192px,#0000e5 193px,#000dff 194px,#002eff 195px,#003aff 196px,#0000f5 198px,#00009e 200px,#0000a7 204px,#0000ef 206px,#0025ff 208px,#0000ef 210px,#0000a7 212px,#00009e 220px,#00009e 221px,#0003ff 224px,#001dff 225px,#0000fa 227px,#00009e 230px,#00009e 238px,#0000b3 239px,#0000f8 241px,#001eff 243px,#0005ff 244px,#00009e 247px,#0000a5 256px,#0000ee 258px,#000cff 259px,#0024ff 260px,#0000f1 262px,#0000a9 264px,#00009e 267px,#00009e 273px,#0002ff 276px,#001cff 277px,#0017ff 278px,#0000fb 279px,#00009e 282px,#00009e 290px,#0000b1 291px,#0000f7 293px,#0020ff 295px,#0006ff 296px,#0000c4 298px,#00009e 299px,#0000a4 308px,#0000f5 310px,#0031ff 312px,#0000fb 314px,#0000ac 316px,#00009e 318px,#00009e 325px,#0000e8 327px,#000bff 328px,#0028ff 329px,#0025ff 330px,#0008ff 331px,#00009e 334px,#00009e 342px,#0000b1 343px,#0000ff 345px,#002fff 347px,#0000f1 349px,#0000a0 351px,#0000a2 360px,#0000f3 362px,#0030ff 364px,#0000fd 366px,#0000af 368px,#00009e 369px,#00009e 377px,#0009ff 380px,#0027ff 381px,#0027ff 382px,#0009ff 383px,#0000e6 384px,#00009e 386px,#00009e 387px)"></div>
<div style="position:absolute;left:48.3px;top:306.30px;width:387.0px;height:1.30px;background:linear-gradient(90deg,#00009e 0px,#0000a3 2px,#0000fc 4px,#0033ff 6px,#0013ff 7px,#0000ec 8px,#00009e 10px,#00009e 19px,#0000af 20px,#0006ff 22px,#0028ff 23px,#002bff 24px,#000aff 25px,#0000e2 26px,#0000b4 27px,#00009e 28px,#00009e 37px,#0000e8 39px,#000fff 40px,#0030ff 41px,#0023ff 42px,#0001ff 43px,#0000a8 45px,#00009e 50px,#00009e 55px,#0000f2 57px,#0037ff 59px,#0000f6 61px,#00009e 63px,#0000a3 73px,#0000fc 75px,#0033ff 77px,#0013ff 78px,#0000ec 79px,#00009e 81px,#00009e 90px,#0000af 91px,#0006ff 93px,#0028ff 94px,#002bff 95px,#000aff 96px,#0000e2 97px,#0000b4 98px,#00009e 99px,#00009e 108px,#0000e8 110px,#000fff 111px,#0030ff 112px,#0023ff 113px,#0001ff 114px,#0000a8 116px,#00009e 121px,#00009e 126px,#0000f2 128px,#0037ff 130px,#0000f6 132px,#00009e 134px,#0000a3 144px,#0000fc 146px,#0033ff 148px,#0013ff 149px,#0000ec 150px,#00009e 152px,#00009e 161px,#0000af 162px,#0006ff 164px,#0028ff 165px,#002bff 166px,#000aff 167px,#0000e2 168px,#0000b4 169px,#00009e 170px,#00009e 179px,#0000bf 180px,#0000f1 181px,#0041ff 183px,#0033ff 184px,#000cff 185px,#0000de 186px,#0000a9 187px,#00009e 190px,#0000a8 192px,#0001ff 194px,#0023ff 195px,#0030ff 196px,#000fff 197px,#0000e8 198px,#00009e 200px,#00009e 204px,#0004ff 207px,#001eff 208px,#0004ff 209px,#00009e 212px,#00009e 221px,#0000d9 223px,#0000f9 224px,#0015ff 225px,#0000f0 227px,#0000a8 229px,#00009e 234px,#0000a6 239px,#0000ee 241px,#000cff 242px,#0016ff 243px,#0000fa 244px,#00009e 247px,#00009e 256px,#0002ff 259px,#001cff 260px,#0005ff 261px,#00009e 264px,#00009e 273px,#0000b2 274px,#0000f7 276px,#0014ff 277px,#0000f1 279px,#0000aa 281px,#00009e 284px,#0000a4 291px,#0000ed 293px,#000bff 294px,#0018ff 295px,#0000fc 296px,#00009e 299px,#00009e 308px,#0000e9 310px,#000cff 311px,#0028ff 312px,#0000f0 314px,#00009e 316px,#00009e 325px,#0000b2 326px,#0000ff 328px,#001fff 329px,#001cff 330px,#0000fc 331px,#0000ae 333px,#00009e 335px,#0000a3 343px,#0000f4 345px,#0026ff 347px,#0008ff 348px,#00009e 351px,#00009e 360px,#0000e7 362px,#000aff 363px,#0027ff 364px,#0000f2 366px,#0000a0 368px,#00009e 377px,#0000b0 378px,#0000fe 380px,#001dff 381px,#001dff 382px,#0000fe 383px,#0000b0 385px,#00009e 386px,#00009e 387px)"></div>
<div style="position:absolute;left:48.3px;top:307.30px;width:387.0px;height:1.30px;background:linear-gradient(90deg,#00009e 0px,#00009e 2px,#0000ef 4px,#0015ff 5px,#0029ff 6px,#0007ff 7px,#0000b0 9px,#00009e 10px,#00009f 20px,#0000f9 22px,#001dff 23px,#0021ff 24px,#0000fc 25px,#0000a4 27px,#00009e 37px,#0000ab 38px,#0003ff 40px,#0025ff 41px,#0000f3 43px,#00009e 45px,#00009e 55px,#0000b8 56px,#0000e5 57px,#000cff 58px,#002dff 59px,#0010ff 60px,#0000e9 61px,#00009e 63px,#00009e 73px,#0000ef 75px,#0015ff 76px,#0029ff 77px,#0007ff 78px,#0000b0 80px,#00009e 81px,#00009f 91px,#0000f9 93px,#001dff 94px,#0021ff 95px,#0000fc 96px,#0000a4 98px,#00009e 108px,#0000ab 109px,#0003ff 111px,#0025ff 112px,#0000f3 114px,#00009e 116px,#00009e 126px,#0000b8 127px,#0000e5 128px,#000cff 129px,#002dff 130px,#0010ff 131px,#0000e9 132px,#00009e 134px,#00009e 144px,#0000ef 146px,#0015ff 147px,#0029ff 148px,#0007ff 149px,#0000b0 151px,#00009e 152px,#00009f 162px,#0000f9 164px,#001dff 165px,#0021ff 166px,#0000fc 167px,#0000a4 169px,#00009e 179px,#0000ad 180px,#0000e1 181px,#000fff 182px,#0035ff 183px,#0027ff 184px,#0000fd 185px,#00009e 187px,#00009e 192px,#0000f3 194px,#0025ff 196px,#0003ff 197px,#0000ab 199px,#00009e 201px,#00009e 204px,#0000f9 207px,#0015ff 208px,#0000f9 209px,#00009e 212px,#0000a7 222px,#0000ef 224px,#000cff 225px,#0004ff 226px,#00009e 229px,#00009e 239px,#0003ff 242px,#000eff 243px,#0000f0 244px,#0000a9 246px,#00009e 249px,#00009e 256px,#0000b3 257px,#0000f8 259px,#0014ff 260px,#0000fb 261px,#00009e 264px,#0000a5 274px,#0000ed 276px,#000bff 277px,#0006ff 278px,#0000c5 280px,#00009e 281px,#00009e 291px,#0002ff 294px,#000fff 295px,#0000f2 296px,#0000ab 298px,#00009e 300px,#00009e 308px,#0000b3 309px,#0001ff 311px,#001fff 312px,#0007ff 313px,#00009e 316px,#0000a3 326px,#0000f4 328px,#0015ff 329px,#0000f1 331px,#00009f 333px,#00009e 343px,#0000e8 345px,#000bff 346px,#001cff 347px,#0000fd 348px,#0000af 350px,#00009e 351px,#00009e 360px,#0000b1 361px,#0000fe 363px,#001eff 364px,#0009ff 365px,#00009e 368px,#0000a1 378px,#0000f2 380px,#0014ff 381px,#0014ff 382px,#0000f2 383px,#0000a1 385px,#00009e 387px)"></div>
<div style="position:absolute;left:48.3px;top:308.30px;width:387.0px;height:1.30px;background:linear-gradient(90deg,#00009e 0px,#00009e 2px,#0000b4 3px,#0009ff 5px,#001eff 6px,#0000f9 7px,#0000a0 9px,#00009e 20px,#0000eb 22px,#0012ff 23px,#0015ff 24px,#0000ef 25px,#00009e 27px,#00009e 38px,#0000f5 40px,#001bff 41px,#000dff 42px,#0000e5 43px,#0000b9 44px,#00009e 45px,#00009e 55px,#0000a7 56px,#0000ff 58px,#0023ff 59px,#0004ff 60px,#0000ac 62px,#00009e 64px,#00009e 73px,#0000b4 74px,#0009ff 76px,#001eff 77px,#0000f9 78px,#0000a0 80px,#00009e 91px,#0000eb 93px,#0012ff 94px,#0015ff 95px,#0000ef 96px,#00009e 98px,#00009e 109px,#0000f5 111px,#001bff 112px,#000dff 113px,#0000e5 114px,#0000b9 115px,#00009e 116px,#00009e 126px,#0000a7 127px,#0000ff 129px,#0023ff 130px,#0004ff 131px,#0000ac 133px,#00009e 135px,#00009e 144px,#0000b4 145px,#0009ff 147px,#001eff 148px,#0000f9 149px,#0000a0 151px,#00009e 162px,#0000eb 164px,#0012ff 165px,#0015ff 166px,#0000ef 167px,#00009e 169px,#00009e 180px,#0001ff 182px,#0029ff 183px,#001aff 184px,#0000ee 185px,#0000bc 186px,#00009e 187px,#00009e 192px,#0000b9 193px,#0000e5 194px,#000dff 195px,#001bff 196px,#0000f5 197px,#00009e 199px,#00009e 204px,#0000a8 205px,#0000ef 207px,#000dff 208px,#0000ef 209px,#0000a8 211px,#00009e 216px,#00009e 222px,#0003ff 225px,#0000fa 226px,#00009e 229px,#00009e 239px,#0000d9 241px,#0000f8 242px,#0005ff 243px,#00009e 246px,#0000a6 257px,#0000ee 259px,#000cff 260px,#0000f1 261px,#0000aa 263px,#00009e 266px,#00009e 274px,#0002ff 277px,#0000fb 278px,#00009e 281px,#00009e 291px,#0000b2 292px,#0000f7 294px,#0006ff 295px,#0000c5 297px,#00009e 298px,#0000a4 309px,#0000f5 311px,#0016ff 312px,#0000fb 313px,#0000ad 315px,#00009e 317px,#00009e 326px,#0000e8 328px,#000bff 329px,#0008ff 330px,#00009e 333px,#00009e 343px,#0000b2 344px,#0000ff 346px,#0013ff 347px,#0000f1 348px,#0000a0 350px,#0000a2 361px,#0000f3 363px,#0014ff 364px,#0000fd 365px,#0000b0 367px,#00009e 368px,#00009e 378px,#0009ff 381px,#0009ff 382px,#00009e 385px,#00009e 387px)"></div>
<div style="position:absolute;left:48.3px;top:309.30px;width:387.0px;height:1.30px;background:linear-gradient(90deg,#00009e 0px,#0000a3 3px,#0000fc 5px,#0013ff 6px,#0000ec 7px,#00009e 9px,#00009e 20px,#0000b0 21px,#0006ff 23px,#000aff 24px,#0000e2 25px,#0000b5 26px,#00009e 27px,#00009e 38px,#0000e8 40px,#000fff 41px,#0001ff 42px,#0000a8 44px,#00009e 48px,#00009e 56px,#0000f2 58px,#0018ff 59px,#0000f6 60px,#00009e 62px,#0000a3 74px,#0000fc 76px,#0013ff 77px,#0000ec 78px,#00009e 80px,#00009e 91px,#0000b0 92px,#0006ff 94px,#000aff 95px,#0000e2 96px,#0000b5 97px,#00009e 98px,#00009e 109px,#0000e8 111px,#000fff 112px,#0001ff 113px,#0000a8 115px,#00009e 119px,#00009e 127px,#0000f2 129px,#0018ff 130px,#0000f6 131px,#00009e 133px,#0000a3 145px,#0000fc 147px,#0013ff 148px,#0000ec 149px,#00009e 151px,#00009e 162px,#0000b0 163px,#0006ff 165px,#000aff 166px,#0000e2 167px,#0000b5 168px,#00009e 169px,#00009e 180px,#0000f1 182px,#001cff 183px,#000cff 184px,#0000de 185px,#0000aa 186px,#00009e 189px,#0000a8 193px,#0001ff 195px,#000fff 196px,#0000e8 197px,#00009e 199px,#00009e 205px,#0004ff 208px,#00009e 211px,#00009e 222px,#0000f9 225px,#0000f0 226px,#0000a9 228px,#00009e 232px,#0000a7 240px,#0000ee 242px,#0000fa 243px,#00009e 246px,#00009e 257px,#0002ff 260px,#00009e 263px,#00009e 274px,#0000b3 275px,#0000f7 277px,#0000f1 278px,#0000ab 280px,#00009e 282px,#0000a4 292px,#0000ed 294px,#0000fc 295px,#00009e 298px,#00009e 309px,#0000e9 311px,#000cff 312px,#0000f0 313px,#00009e 315px,#00009e 326px,#0000b3 327px,#0000ff 329px,#0000fc 330px,#0000ae 332px,#00009e 333px,#0000a3 344px,#0000f4 346px,#0008ff 347px,#00009e 350px,#00009e 361px,#0000e7 363px,#000aff 364px,#0000f2 365px,#0000a0 367px,#00009e 378px,#0000b1 379px,#0000fe 381px,#0000fe 382px,#0000b1 384px,#00009e 385px,#00009e 387px)"></div>
<div style="position:absolute;left:48.3px;top:310.30px;width:387.0px;height:1.30px;background:linear-gradient(90deg,#00009e 0px,#00009e 3px,#0000ef 5px,#0007ff 6px,#0000b1 8px,#00009e 9px,#00009f 21px,#0000f9 23px,#0000fc 24px,#0000a4 26px,#00009e 38px,#0000ac 39px,#0003ff 41px,#0000f3 42px,#00009e 44px,#00009e 56px,#0000b8 57px,#0000e5 58px,#000cff 59px,#0000e9 60px,#00009e 62px,#00009e 74px,#0000ef 76px,#0007ff 77px,#0000b1 79px,#00009e 80px,#00009f 92px,#0000f9 94px,#0000fc 95px,#0000a4 97px,#00009e 109px,#0000ac 110px,#0003ff 112px,#0000f3 113px,#00009e 115px,#00009e 127px,#0000b8 128px,#0000e5 129px,#000cff 130px,#0000e9 131px,#00009e 133px,#00009e 145px,#0000ef 147px,#0007ff 148px,#0000b1 150px,#00009e 151px,#00009f 163px,#0000f9 165px,#0000fc 166px,#0000a4 168px,#00009e 180px,#0000ad 181px,#0000e1 182px,#000fff 183px,#0000fd 184px,#00009e 186px,#00009e 193px,#0000f3 195px,#0003ff 196px,#0000ac 198px,#00009e 200px,#00009e 205px,#0000f9 208px,#00009e 211px,#00009e 222px,#0000a7 223px,#0000ef 225px,#0000e5 226px,#00009e 228px,#00009e 240px,#0000e4 242px,#0000f0 243px,#0000a9 245px,#00009e 248px,#00009e 257px,#0000d8 259px,#0000f8 260px,#00009e 263px,#0000a5 275px,#0000ed 277px,#0000e7 278px,#00009e 280px,#00009e 292px,#0000e2 294px,#0000f2 295px,#0000ab 297px,#00009e 299px,#00009e 309px,#0000b3 310px,#0001ff 312px,#00009e 315px,#0000a4 327px,#0000f4 329px,#0000f1 330px,#00009f 332px,#00009e 344px,#0000e8 346px,#0000fd 347px,#0000af 349px,#00009e 350px,#00009e 361px,#0000b1 362px,#0000fe 364px,#00009e 367px,#0000a1 379px,#0000f2 381px,#0000f2 382px,#0000a1 384px,#00009e 387px)"></div>
<div style="position:absolute;left:48.3px;top:311.30px;width:387.0px;height:1.30px;background:linear-gradient(90deg,#00009e 0px,#00009e 3px,#0000b4 4px,#0000e1 5px,#0000f9 6px,#0000a0 8px,#00009e 21px,#0000eb 23px,#0000ef 24px,#00009e 26px,#00009e 39px,#0000f5 41px,#0000e5 42px,#0000b9 43px,#00009e 44px,#00009e 56px,#0000a8 57px,#0000ff 59px,#0000ad 61px,#00009e 63px,#00009e 74px,#0000b4 75px,#0000e1 76px,#0000f9 77px,#0000a0 79px,#00009e 92px,#0000eb 94px,#0000ef 95px,#00009e 97px,#00009e 110px,#0000f5 112px,#0000e5 113px,#0000b9 114px,#00009e 115px,#00009e 127px,#0000a8 128px,#0000ff 130px,#0000ad 132px,#00009e 134px,#00009e 145px,#0000b4 146px,#0000e1 147px,#0000f9 148px,#0000a0 150px,#00009e 163px,#0000eb 165px,#0000ef 166px,#00009e 168px,#00009e 181px,#0001ff 183px,#0000ee 184px,#0000bc 185px,#00009e 186px,#00009e 193px,#0000b9 194px,#0000e5 195px,#0000f5 196px,#00009e 198px,#00009e 205px,#0000a8 206px,#0000ef 208px,#0000a8 210px,#00009e 215px,#00009e 223px,#0000e4 225px,#0000da 226px,#00009e 228px,#00009e 240px,#0000d9 242px,#0000e6 243px,#00009e 245px,#0000a6 258px,#0000ee 260px,#0000aa 262px,#00009e 265px,#00009e 275px,#0000e3 277px,#0000dc 278px,#00009e 280px,#00009e 292px,#0000b2 293px,#0000d7 294px,#0000e8 295px,#00009e 297px,#0000a4 310px,#0000f5 312px,#0000ae 314px,#00009e 316px,#00009e 327px,#0000e8 329px,#0000e5 330px,#00009e 332px,#00009e 344px,#0000b2 345px,#0000db 346px,#0000f1 347px,#0000a0 349px,#0000a2 362px,#0000f3 364px,#0000b0 366px,#00009e 367px,#00009e 379px,#0000e6 381px,#0000e6 382px,#00009e 384px,#00009e 387px)"></div>
<div style="position:absolute;left:48.3px;top:312.30px;width:387.0px;height:1.30px;background:linear-gradient(90deg,#00009e 0px,#0000a3 4px,#0000d3 5px,#0000ec 6px,#00009e 8px,#00009e 21px,#0000b0 22px,#0000de 23px,#0000e2 24px,#0000b5 25px,#00009e 26px,#00009e 39px,#0000e8 41px,#0000d7 42px,#0000a8 43px,#00009e 47px,#00009e 57px,#0000f2 59px,#00009e 61px,#0000a3 75px,#0000d3 76px,#0000ec 77px,#00009e 79px,#00009e 92px,#0000b0 93px,#0000de 94px,#0000e2 95px,#0000b5 96px,#00009e 97px,#00009e 110px,#0000e8 112px,#0000d7 113px,#0000a8 114px,#00009e 118px,#00009e 128px,#0000f2 130px,#00009e 132px,#0000a3 146px,#0000d3 147px,#0000ec 148px,#00009e 150px,#00009e 163px,#0000b0 164px,#0000de 165px,#0000e2 166px,#0000b5 167px,#00009e 168px,#00009e 181px,#0000f1 183px,#0000de 184px,#0000aa 185px,#00009e 188px,#00009e 193px,#0000a8 194px,#0000d7 195px,#0000e8 196px,#00009e 198px,#00009e 206px,#0000e5 208px,#00009e 210px,#00009e 223px,#0000d9 225px,#0000cf 226px,#0000a9 227px,#00009e 231px,#0000a7 241px,#0000cd 242px,#0000db 243px,#00009e 245px,#00009e 258px,#0000e3 260px,#00009e 262px,#00009e 275px,#0000b3 276px,#0000d8 277px,#0000d1 278px,#0000ab 279px,#00009e 281px,#0000a4 293px,#0000cb 294px,#0000dd 295px,#00009e 297px,#00009e 310px,#0000e9 312px,#00009e 314px,#00009e 327px,#0000b3 328px,#0000dc 329px,#0000d8 330px,#0000ae 331px,#00009e 332px,#0000a3 345px,#0000ce 346px,#0000e5 347px,#00009e 349px,#00009e 362px,#0000e7 364px,#0000cc 365px,#0000a0 366px,#00009e 379px,#0000b1 380px,#0000da 381px,#0000da 382px,#0000b1 383px,#00009e 384px,#00009e 387px)"></div>
<div style="position:absolute;left:48.3px;top:313.30px;width:387.0px;height:1.30px;background:linear-gradient(90deg,#00009e 0px,#00009e 4px,#0000de 6px,#0000b1 7px,#00009e 8px,#00009f 22px,#0000cf 23px,#0000d4 24px,#0000a4 25px,#00009e 39px,#0000ac 40px,#0000da 41px,#0000c8 42px,#00009e 43px,#00009e 57px,#0000b8 58px,#0000e5 59px,#00009e 61px,#00009e 75px,#0000de 77px,#0000b1 78px,#00009e 79px,#00009f 93px,#0000cf 94px,#0000d4 95px,#0000a4 96px,#00009e 110px,#0000ac 111px,#0000da 112px,#0000c8 113px,#00009e 114px,#00009e 128px,#0000b8 129px,#0000e5 130px,#00009e 132px,#00009e 146px,#0000de 148px,#0000b1 149px,#00009e 150px,#00009f 164px,#0000cf 165px,#0000d4 166px,#0000a4 167px,#00009e 181px,#0000ad 182px,#0000e1 183px,#0000cd 184px,#00009e 185px,#00009e 194px,#0000c8 195px,#0000da 196px,#0000ac 197px,#00009e 199px,#00009e 206px,#0000da 208px,#00009e 210px,#00009e 223px,#0000a7 224px,#0000ce 225px,#0000c3 226px,#00009e 227px,#00009e 241px,#0000c1 242px,#0000d0 243px,#0000a9 244px,#00009e 247px,#00009e 258px,#0000d8 260px,#00009e 262px,#0000a5 276px,#0000cc 277px,#0000c5 278px,#00009e 279px,#00009e 293px,#0000d1 295px,#0000ab 296px,#00009e 298px,#00009e 310px,#0000b3 311px,#0000dd 312px,#00009e 314px,#0000a4 328px,#0000cf 329px,#0000cb 330px,#00009f 331px,#00009e 345px,#0000d9 347px,#0000af 348px,#00009e 349px,#00009e 362px,#0000b1 363px,#0000db 364px,#00009e 366px,#0000a1 380px,#0000cd 381px,#0000cd 382px,#0000a1 383px,#00009e 387px)"></div>
<div style="position:absolute;left:48.3px;top:314.30px;width:387.0px;height:1.30px;background:linear-gradient(90deg,#00009e 0px,#00009e 4px,#0000d0 6px,#0000a0 7px,#00009e 22px,#0000c0 23px,#0000c5 24px,#00009e 25px,#00009e 40px,#0000cb 41px,#00009e 43px,#00009e 57px,#0000a8 58px,#0000d7 59px,#0000ad 60px,#00009e 62px,#00009e 75px,#0000d0 77px,#0000a0 78px,#00009e 93px,#0000c0 94px,#0000c5 95px,#00009e 96px,#00009e 111px,#0000cb 112px,#00009e 114px,#00009e 128px,#0000a8 129px,#0000d7 130px,#0000ad 131px,#00009e 133px,#00009e 146px,#0000d0 148px,#0000a0 149px,#00009e 164px,#0000c0 165px,#0000c5 166px,#00009e 167px,#00009e 182px,#0000d1 183px,#00009e 185px,#00009e 194px,#0000cb 196px,#00009e 197px,#00009e 206px,#0000a8 207px,#0000ce 208px,#0000a8 209px,#00009e 214px,#00009e 224px,#0000c2 225px,#00009e 227px,#00009e 241px,#0000c3 243px,#00009e 244px,#0000a6 259px,#0000cd 260px,#0000aa 261px,#00009e 264px,#00009e 276px,#0000c0 277px,#0000b8 278px,#00009e 279px,#00009e 293px,#0000c5 295px,#00009e 296px,#0000a4 311px,#0000d0 312px,#0000ae 313px,#00009e 315px,#00009e 328px,#0000c1 329px,#0000bd 330px,#00009e 331px,#00009e 345px,#0000cc 347px,#0000a0 348px,#0000a2 363px,#0000ce 364px,#00009e 366px,#00009e 380px,#0000bf 381px,#0000bf 382px,#00009e 383px,#00009e 387px)"></div>
<div style="position:absolute;left:48.3px;top:315.30px;width:387.0px;height:1.30px;background:linear-gradient(90deg,#00009e 0px,#0000a3 5px,#0000c1 6px,#00009e 7px,#00009e 22px,#0000b5 24px,#00009e 25px,#00009e 40px,#0000bc 41px,#00009e 43px,#00009e 58px,#0000c8 59px,#00009e 60px,#0000a3 76px,#0000c1 77px,#00009e 78px,#00009e 93px,#0000b5 95px,#00009e 96px,#00009e 111px,#0000bc 112px,#00009e 114px,#00009e 129px,#0000c8 130px,#00009e 131px,#0000a3 147px,#0000c1 148px,#00009e 149px,#00009e 164px,#0000b5 166px,#00009e 167px,#00009e 182px,#0000bf 183px,#00009e 185px,#00009e 194px,#0000bc 196px,#00009e 197px,#00009e 207px,#0000c2 208px,#00009e 209px,#00009e 224px,#0000b5 225px,#00009e 228px,#0000a7 242px,#0000b7 243px,#00009e 244px,#00009e 259px,#0000c0 260px,#00009e 261px,#00009e 276px,#0000b3 277px,#00009e 280px,#0000a4 294px,#0000b9 295px,#00009e 296px,#00009e 311px,#0000c2 312px,#00009e 313px,#00009e 328px,#0000b3 329px,#00009e 332px,#0000a3 346px,#0000be 347px,#00009e 348px,#00009e 363px,#0000c0 364px,#0000a0 365px,#00009e 380px,#0000b1 381px,#0000b1 382px,#00009e 383px,#00009e 387px)"></div>
<div style="position:absolute;left:48.3px;top:316.30px;width:387.0px;height:1.30px;background:linear-gradient(90deg,#00009e 0px,#00009e 5px,#0000b1 6px,#00009e 7px,#00009e 40px,#0000ac 41px,#00009e 43px,#00009e 58px,#0000b8 59px,#00009e 60px,#00009e 76px,#0000b1 77px,#00009e 78px,#00009e 111px,#0000ac 112px,#00009e 114px,#00009e 129px,#0000b8 130px,#00009e 131px,#00009e 147px,#0000b1 148px,#00009e 149px,#00009e 182px,#0000ad 183px,#00009e 185px,#00009e 195px,#0000ac 196px,#00009e 198px,#00009e 207px,#0000b5 208px,#00009e 209px,#00009e 224px,#0000a7 225px,#00009e 233px,#00009e 242px,#0000a9 243px,#00009e 246px,#00009e 259px,#0000b3 260px,#00009e 261px,#00009e 294px,#0000ab 295px,#00009e 297px,#00009e 311px,#0000b3 312px,#00009e 313px,#00009e 346px,#0000af 347px,#00009e 348px,#00009e 363px,#0000b1 364px,#00009e 365px,#00009e 387px)"></div>
<div style="position:absolute;left:48.3px;top:317.30px;width:387.0px;height:1.30px;background:linear-gradient(90deg,#00009e 0px,#00009e 4px,#0000a9 5px,#00009e 8px,#00009e 39px,#0000a9 40px,#00009e 43px,#00009e 58px,#0000a8 59px,#00009e 63px,#00009e 93px,#0000a8 94px,#00009e 98px,#00009e 112px,#0000a8 113px,#00009e 117px,#00009e 185px,#0000a8 186px,#00009e 190px,#00009e 282px,#0000a7 283px,#00009e 297px,#00009e 387px)"></div>
<div style="position:absolute;left:48.3px;top:318.30px;width:387.0px;height:1.30px;background:linear-gradient(90deg,#00009e 0px,#00009e 4px,#0000c1 5px,#00009e 6px,#00009e 39px,#0000c2 40px,#00009e 41px,#00009e 58px,#0000bf 59px,#00009e 60px,#00009e 93px,#0000be 94px,#00009e 95px,#00009e 112px,#0000bf 113px,#00009e 114px,#00009e 185px,#0000c0 186px,#00009e 187px,#00009e 198px,#0000ab 199px,#00009e 201px,#00009e 213px,#0000ba 214px,#00009e 215px,#00009e 228px,#0000ab 229px,#00009e 231px,#00009e 245px,#0000ac 246px,#00009e 248px,#00009e 264px,#0000a7 265px,#00009e 274px,#00009e 282px,#0000ba 283px,#00009e 284px,#00009e 300px,#0000ac 301px,#00009e 303px,#00009e 319px,#0000ac 320px,#00009e 322px,#00009e 337px,#0000ab 338px,#00009e 340px,#00009e 355px,#0000b0 356px,#00009e 357px,#00009e 373px,#0000af 374px,#00009e 375px,#00009e 387px)"></div>
<div style="position:absolute;left:48.3px;top:319.30px;width:387.0px;height:1.30px;background:linear-gradient(90deg,#00009e 0px,#00009e 4px,#0000d5 5px,#00009e 6px,#00009e 21px,#0000b7 22px,#0000b7 23px,#00009e 24px,#00009e 39px,#0000d7 40px,#00009e 41px,#00009e 58px,#0000d2 59px,#00009e 60px,#00009e 75px,#0000bc 76px,#0000bc 77px,#00009e 78px,#00009e 93px,#0000d1 94px,#00009e 95px,#00009e 112px,#0000d2 113px,#00009e 114px,#00009e 129px,#0000bd 130px,#0000bd 131px,#00009e 132px,#00009e 148px,#0000b8 149px,#0000b8 150px,#00009e 151px,#00009e 167px,#0000b9 168px,#0000b9 169px,#00009e 170px,#00009e 185px,#0000d3 186px,#00009e 187px,#00009e 197px,#0000be 199px,#00009e 200px,#00009e 213px,#0000cd 214px,#00009e 215px,#00009e 227px,#0000be 229px,#00009e 230px,#00009e 245px,#0000c0 246px,#00009e 248px,#00009e 264px,#0000be 265px,#00009e 267px,#00009e 282px,#0000ca 283px,#00009e 284px,#00009e 299px,#0000c0 301px,#00009e 302px,#00009e 318px,#0000bf 320px,#00009e 321px,#00009e 336px,#0000bc 338px,#00009e 339px,#00009e 355px,#0000c0 356px,#0000a5 357px,#00009e 373px,#0000bf 374px,#0000a4 375px,#00009e 387px)"></div>
<div style="position:absolute;left:48.3px;top:320.30px;width:387.0px;height:1.30px;background:linear-gradient(90deg,#00009e 0px,#00009e 3px,#0000b3 4px,#0000e7 5px,#0000b3 6px,#00009e 7px,#00009e 21px,#0000ca 22px,#0000ca 23px,#00009e 24px,#00009e 38px,#0000b4 39px,#0000ea 40px,#0000b4 41px,#00009e 42px,#00009e 57px,#0000b2 58px,#0000e4 59px,#0000b2 60px,#00009e 61px,#00009e 75px,#0000d2 76px,#0000d2 77px,#00009e 78px,#00009e 92px,#0000b2 93px,#0000e2 94px,#0000b2 95px,#00009e 96px,#00009e 111px,#0000b2 112px,#0000e4 113px,#0000b2 114px,#00009e 115px,#00009e 129px,#0000d3 130px,#0000d3 131px,#00009e 132px,#00009e 148px,#0000cb 149px,#0000cb 150px,#00009e 151px,#00009e 167px,#0000cd 168px,#0000cd 169px,#00009e 170px,#00009e 184px,#0000b3 185px,#0000e5 186px,#0000b3 187px,#00009e 188px,#00009e 197px,#0000cd 199px,#00009e 200px,#00009e 212px,#0000ac 213px,#0000df 214px,#00009e 216px,#00009e 227px,#0000cd 229px,#00009e 230px,#00009e 245px,#0000d0 246px,#00009e 248px,#00009e 264px,#0000d0 265px,#0000c7 266px,#00009e 267px,#00009e 281px,#0000af 282px,#0000d9 283px,#0000af 284px,#00009e 285px,#00009e 299px,#0000d0 301px,#00009e 302px,#00009e 318px,#0000cf 320px,#00009e 321px,#00009e 336px,#0000cb 338px,#00009e 339px,#0000a4 355px,#0000cf 356px,#00009e 358px,#0000a3 373px,#0000cd 374px,#00009e 376px,#00009e 387px)"></div>
<div style="position:absolute;left:48.3px;top:321.30px;width:387.0px;height:1.30px;background:linear-gradient(90deg,#00009e 0px,#00009e 3px,#0000f8 5px,#00009e 7px,#00009e 20px,#0000aa 21px,#0000db 22px,#0000db 23px,#0000aa 24px,#00009e 26px,#00009e 38px,#0000fb 40px,#00009e 42px,#00009e 57px,#0000f4 59px,#00009e 61px,#00009e 74px,#0000ad 75px,#0000e6 76px,#0000e6 77px,#0000ad 78px,#00009e 80px,#00009e 92px,#0000f2 94px,#00009e 96px,#00009e 111px,#0000f4 113px,#00009e 115px,#00009e 128px,#0000ad 129px,#0000e7 130px,#0000e7 131px,#0000ad 132px,#00009e 134px,#00009e 147px,#0000aa 148px,#0000dc 149px,#0000dc 150px,#0000aa 151px,#00009e 153px,#00009e 166px,#0000ab 167px,#0000de 168px,#0000de 169px,#0000ab 170px,#00009e 172px,#00009e 184px,#0000f5 186px,#00009e 188px,#00009e 197px,#0000cd 198px,#0000dc 199px,#0000b3 200px,#00009e 201px,#00009e 212px,#0000f0 214px,#00009e 216px,#00009e 227px,#0000cd 228px,#0000dc 229px,#0000b3 230px,#00009e 231px,#00009e 244px,#0000b4 245px,#0000e0 246px,#0000d0 247px,#00009e 248px,#00009e 263px,#0000b1 264px,#0000e2 265px,#0000d9 266px,#0000a4 267px,#00009e 281px,#0000e6 283px,#00009e 285px,#00009e 299px,#0000d0 300px,#0000e0 301px,#0000b4 302px,#00009e 303px,#00009e 318px,#0000cf 319px,#0000de 320px,#0000b4 321px,#00009e 322px,#00009e 336px,#0000cb 337px,#0000d9 338px,#0000b2 339px,#00009e 340px,#00009e 354px,#0000dd 356px,#0000c7 357px,#00009e 358px,#00009e 372px,#0000da 374px,#0000c5 375px,#00009e 376px,#00009e 387px)"></div>
<div style="position:absolute;left:48.3px;top:322.30px;width:387.0px;height:1.30px;background:linear-gradient(90deg,#00009e 0px,#0000a3 3px,#0000dc 4px,#000aff 5px,#0000dc 6px,#0000a3 7px,#00009e 20px,#0000eb 22px,#0000eb 23px,#00009e 25px,#0000a3 38px,#0000de 39px,#000dff 40px,#0000de 41px,#0000a3 42px,#0000a2 57px,#0000d9 58px,#0005ff 59px,#0000d9 60px,#0000a2 61px,#00009e 74px,#0000f9 76px,#0000f9 77px,#00009e 79px,#0000a2 92px,#0003ff 94px,#0000a2 96px,#0000a2 111px,#0000d9 112px,#0005ff 113px,#0000d9 114px,#0000a2 115px,#00009e 128px,#0000fa 130px,#0000fa 131px,#00009e 133px,#00009e 147px,#0000ec 149px,#0000ec 150px,#00009e 152px,#00009e 166px,#0000ef 168px,#0000ef 169px,#00009e 171px,#0000a2 184px,#0000da 185px,#0006ff 186px,#0000da 187px,#0000a2 188px,#00009e 196px,#0000b2 197px,#0000db 198px,#0000e9 199px,#00009e 201px,#00009e 212px,#0001ff 214px,#0000de 215px,#0000aa 216px,#00009e 219px,#00009e 226px,#0000b2 227px,#0000db 228px,#0000e9 229px,#00009e 231px,#00009e 244px,#0000ee 246px,#0000df 247px,#0000b4 248px,#00009e 249px,#00009e 263px,#0000f2 265px,#0000ea 266px,#0000bb 267px,#00009e 268px,#0000a2 281px,#0000f4 283px,#0000a2 285px,#00009e 298px,#0000b4 299px,#0000df 300px,#0000ee 301px,#00009e 303px,#00009e 317px,#0000b3 318px,#0000de 319px,#0000ec 320px,#00009e 322px,#00009e 335px,#0000b2 336px,#0000d9 337px,#0000e6 338px,#00009e 340px,#00009e 354px,#0000e9 356px,#0000d5 357px,#0000ad 358px,#00009e 360px,#00009e 372px,#0000e6 374px,#0000d3 375px,#0000ac 376px,#00009e 378px,#00009e 387px)"></div>
<div style="position:absolute;left:48.3px;top:323.30px;width:387.0px;height:1.30px;background:linear-gradient(90deg,#00009e 0px,#00009e 2px,#0000bc 3px,#0000ee 4px,#001aff 5px,#0000ee 6px,#0000bc 7px,#00009e 8px,#00009e 20px,#0000fa 22px,#0000fa 23px,#00009e 25px,#00009e 37px,#0000bd 38px,#0000f1 39px,#001eff 40px,#0000f1 41px,#0000bd 42px,#00009e 43px,#00009e 56px,#0000bb 57px,#0000ea 58px,#0014ff 59px,#0000ea 60px,#0000bb 61px,#00009e 62px,#00009e 74px,#0000db 75px,#000cff 76px,#000cff 77px,#0000db 78px,#00009e 79px,#00009e 91px,#0000ba 92px,#0000e9 93px,#0012ff 94px,#0000e9 95px,#0000ba 96px,#00009e 97px,#00009e 110px,#0000bb 111px,#0000ea 112px,#0014ff 113px,#0000ea 114px,#0000bb 115px,#00009e 116px,#00009e 128px,#0000db 129px,#000eff 130px,#000eff 131px,#0000db 132px,#00009e 133px,#00009e 147px,#0000fc 149px,#0000fc 150px,#00009e 152px,#00009e 166px,#0000ff 168px,#0000ff 169px,#00009e 171px,#00009e 183px,#0000bb 184px,#0000ec 185px,#0016ff 186px,#0000ec 187px,#0000bb 188px,#00009e 189px,#00009e 196px,#0000e9 198px,#0000f6 199px,#0000a7 201px,#00009e 209px,#00009e 211px,#0000b5 212px,#0000e6 213px,#0010ff 214px,#0000ee 215px,#00009e 217px,#00009e 226px,#0000e9 228px,#0000f6 229px,#0000a7 231px,#00009e 239px,#0000a8 244px,#0000fc 246px,#0000ed 247px,#00009e 249px,#0000a1 263px,#0002ff 265px,#0000f9 266px,#00009e 268px,#00009e 280px,#0000de 282px,#0001ff 283px,#0000b6 285px,#00009e 286px,#00009e 298px,#0000ed 300px,#0000fc 301px,#0000a8 303px,#00009e 308px,#00009e 317px,#0000ec 319px,#0000fa 320px,#0000a8 322px,#00009e 328px,#00009e 335px,#0000e6 337px,#0000f3 338px,#0000a7 340px,#00009e 353px,#0000ac 354px,#0000f6 356px,#0000e2 357px,#00009e 359px,#00009e 371px,#0000ab 372px,#0000f2 374px,#0000df 375px,#00009e 377px,#00009e 387px)"></div>
<div style="position:absolute;left:48.3px;top:324.30px;width:387.0px;height:1.30px;background:linear-gradient(90deg,#00009e 0px,#00009e 2px,#0000ff 4px,#0029ff 5px,#0000ff 6px,#00009e 8px,#00009e 19px,#0000b3 20px,#0000e1 21px,#0009ff 22px,#0009ff 23px,#0000e1 24px,#0000b3 25px,#00009e 26px,#00009e 37px,#0003ff 39px,#002eff 40px,#0003ff 41px,#00009e 43px,#00009e 56px,#0000fa 58px,#0022ff 59px,#0000fa 60px,#00009e 62px,#00009e 73px,#0000b7 74px,#0000ee 75px,#001dff 76px,#001dff 77px,#0000ee 78px,#0000b7 79px,#00009e 80px,#00009e 91px,#0000f9 93px,#0020ff 94px,#0000f9 95px,#00009e 97px,#00009e 110px,#0000fa 112px,#0022ff 113px,#0000fa 114px,#00009e 116px,#00009e 127px,#0000b8 128px,#0000ef 129px,#001fff 130px,#001fff 131px,#0000ef 132px,#0000b8 133px,#00009e 134px,#00009e 146px,#0000b4 147px,#0000e3 148px,#000bff 149px,#000bff 150px,#0000e3 151px,#0000b4 152px,#00009e 153px,#00009e 165px,#0000b4 166px,#0000e5 167px,#000fff 168px,#000fff 169px,#0000e5 170px,#0000b4 171px,#00009e 172px,#00009e 183px,#0000fc 185px,#0024ff 186px,#0000fc 187px,#00009e 189px,#0000a6 196px,#0000f6 198px,#0004ff 199px,#00009e 202px,#00009e 211px,#0000f6 213px,#001eff 214px,#0000fe 215px,#00009e 217px,#0000a6 226px,#0000f6 228px,#0004ff 229px,#00009e 232px,#00009e 243px,#000aff 246px,#0000fb 247px,#0000a7 249px,#00009e 262px,#0000ba 263px,#0000e8 264px,#0011ff 265px,#0009ff 266px,#0000e0 267px,#0000ae 268px,#00009e 269px,#00009e 280px,#0000ec 282px,#000dff 283px,#0000ec 284px,#00009e 286px,#0000a7 298px,#0000fb 300px,#000aff 301px,#00009e 304px,#0000a7 317px,#0000f9 319px,#0008ff 320px,#00009e 323px,#0000a6 335px,#0000f2 337px,#0000ff 338px,#00009e 341px,#00009e 353px,#0003ff 356px,#0000ef 357px,#00009f 359px,#00009e 371px,#0000fd 374px,#0000cb 376px,#00009f 377px,#00009e 387px)"></div>
<div style="position:absolute;left:48.3px;top:325.30px;width:387.0px;height:1.30px;background:linear-gradient(90deg,#00009e 0px,#00009e 1px,#0000ae 2px,#0000e4 3px,#0010ff 4px,#0038ff 5px,#0010ff 6px,#0000e4 7px,#0000ae 8px,#00009e 9px,#00009e 19px,#0000f1 21px,#0017ff 22px,#0017ff 23px,#0000f1 24px,#00009e 26px,#00009e 36px,#0000af 37px,#0000e6 38px,#0014ff 39px,#003dff 40px,#0014ff 41px,#0000e6 42px,#0000af 43px,#00009e 44px,#00009e 55px,#0000ad 56px,#0000e0 57px,#000bff 58px,#0030ff 59px,#000bff 60px,#0000e0 61px,#0000ad 62px,#00009e 64px,#00009e 73px,#0001ff 75px,#002dff 76px,#002dff 77px,#0001ff 78px,#00009e 80px,#00009e 90px,#0000ad 91px,#0000df 92px,#0009ff 93px,#002eff 94px,#0009ff 95px,#0000df 96px,#0000ad 97px,#00009e 99px,#00009e 109px,#0000ad 110px,#0000e0 111px,#000bff 112px,#0030ff 113px,#000bff 114px,#0000e0 115px,#0000ad 116px,#00009e 118px,#00009e 127px,#0003ff 129px,#0030ff 130px,#0030ff 131px,#0003ff 132px,#00009e 134px,#00009e 146px,#0000f2 148px,#0019ff 149px,#0019ff 150px,#0000f2 151px,#00009e 153px,#00009e 165px,#0000f6 167px,#001eff 168px,#001eff 169px,#0000f6 170px,#00009e 172px,#00009e 182px,#0000ae 183px,#0000e1 184px,#000dff 185px,#0033ff 186px,#000dff 187px,#0000e1 188px,#0000ae 189px,#00009e 191px,#00009e 195px,#0003ff 198px,#0010ff 199px,#0000ef 200px,#00009e 202px,#0000a7 211px,#0000dc 212px,#0007ff 213px,#002dff 214px,#000fff 215px,#0000e5 216px,#0000b4 217px,#00009e 218px,#00009e 225px,#0003ff 228px,#0010ff 229px,#0000ef 230px,#00009e 232px,#00009e 243px,#0000f4 245px,#0017ff 246px,#000aff 247px,#00009e 250px,#00009e 262px,#0000f8 264px,#001fff 265px,#0018ff 266px,#0000f0 267px,#00009e 269px,#00009e 279px,#0000ab 280px,#0000f9 282px,#0019ff 283px,#0000f9 284px,#0000ab 286px,#00009e 288px,#00009e 297px,#000aff 300px,#0017ff 301px,#0000f4 302px,#00009e 304px,#00009e 316px,#0008ff 319px,#0015ff 320px,#0000f2 321px,#00009e 323px,#00009e 334px,#0000fe 337px,#000bff 338px,#0000c8 340px,#00009e 341px,#00009e 353px,#0000ee 355px,#000eff 356px,#0000fb 357px,#0000b4 359px,#00009e 360px,#00009e 371px,#0000eb 373px,#000aff 374px,#0000f7 375px,#0000b3 377px,#00009e 378px,#00009e 387px)"></div>
<div style="position:absolute;left:48.3px;top:326.30px;width:387.0px;height:1.30px;background:linear-gradient(90deg,#00009e 0px,#00009e 1px,#0000f5 3px,#0047ff 5px,#0000f5 7px,#00009e 9px,#0000a5 19px,#0001ff 21px,#0025ff 22px,#0025ff 23px,#0001ff 24px,#0000a5 26px,#00009e 36px,#0000f8 38px,#004cff 40px,#0000f8 42px,#00009e 44px,#00009e 55px,#0000f1 57px,#003eff 59px,#0000f1 61px,#00009e 63px,#0000a6 73px,#0000e2 74px,#0013ff 75px,#003dff 76px,#003dff 77px,#0013ff 78px,#0000e2 79px,#0000a6 80px,#00009e 90px,#0000ef 92px,#003bff 94px,#0000ef 96px,#00009e 98px,#00009e 109px,#0000f1 111px,#003eff 113px,#0000f1 115px,#00009e 117px,#0000a6 127px,#0000e4 128px,#0015ff 129px,#0040ff 130px,#0040ff 131px,#0015ff 132px,#0000e4 133px,#0000a6 134px,#00009e 145px,#0000a5 146px,#0002ff 148px,#0027ff 149px,#0027ff 150px,#0002ff 151px,#0000a5 153px,#0000a5 165px,#0000db 166px,#0006ff 167px,#002cff 168px,#002cff 169px,#0006ff 170px,#0000db 171px,#0000a5 172px,#00009e 182px,#0000f2 184px,#0041ff 186px,#0000f2 188px,#00009e 190px,#00009e 195px,#0000ee 197px,#0010ff 198px,#001cff 199px,#0000fb 200px,#0000af 202px,#00009e 203px,#00009e 210px,#0000ec 212px,#0016ff 213px,#003bff 214px,#0000f5 216px,#00009e 218px,#00009e 225px,#0000ee 227px,#0010ff 228px,#001cff 229px,#0000fb 230px,#0000af 232px,#00009e 233px,#00009e 242px,#0000b0 243px,#0002ff 245px,#0024ff 246px,#0000f3 248px,#00009e 250px,#00009e 261px,#0000ac 262px,#0000de 263px,#0008ff 264px,#002dff 265px,#0026ff 266px,#0000ff 267px,#00009e 269px,#00009e 279px,#0006ff 282px,#0025ff 283px,#0006ff 284px,#00009e 287px,#00009e 297px,#0000f3 299px,#0024ff 301px,#0002ff 302px,#0000b0 304px,#00009e 305px,#00009e 316px,#0000f1 318px,#0021ff 320px,#0000ff 321px,#0000b0 323px,#00009e 324px,#00009e 334px,#0000eb 336px,#000bff 337px,#0017ff 338px,#0000f8 339px,#0000af 341px,#00009e 342px,#00009e 352px,#0000b3 353px,#0000fb 355px,#001aff 356px,#0008ff 357px,#0000c4 359px,#00009e 360px,#00009e 370px,#0000b2 371px,#0000f7 373px,#0014ff 374px,#0003ff 375px,#00009e 378px,#00009e 387px)"></div>
<div style="position:absolute;left:48.3px;top:327.30px;width:387.0px;height:1.30px;background:linear-gradient(90deg,#00009e 0px,#00009e 1px,#0000d9 2px,#0007ff 3px,#0055ff 5px,#0007ff 7px,#0000d9 8px,#00009e 9px,#00009e 18px,#0000e8 20px,#000fff 21px,#0032ff 22px,#0032ff 23px,#000fff 24px,#0000e8 25px,#00009e 27px,#00009e 36px,#0000db 37px,#000aff 38px,#005bff 40px,#000aff 42px,#0000db 43px,#00009e 44px,#00009e 55px,#0001ff 57px,#004cff 59px,#0001ff 61px,#00009e 63px,#00009e 72px,#0000c1 73px,#0000f5 74px,#004dff 76px,#004dff 77px,#0000f5 79px,#0000c1 80px,#00009e 81px,#00009e 90px,#0000ff 92px,#0049ff 94px,#0000ff 96px,#00009e 98px,#00009e 109px,#0001ff 111px,#004cff 113px,#0001ff 115px,#00009e 117px,#00009e 126px,#0000c1 127px,#0000f7 128px,#0050ff 130px,#0050ff 131px,#0000f7 133px,#0000c1 134px,#00009e 135px,#00009e 145px,#0000e9 147px,#0011ff 148px,#0035ff 149px,#0035ff 150px,#0011ff 151px,#0000e9 152px,#00009e 154px,#00009e 164px,#0000bd 165px,#0000ec 166px,#0015ff 167px,#003aff 168px,#003aff 169px,#0015ff 170px,#0000ec 171px,#0000bd 172px,#00009e 173px,#00009e 182px,#0000d7 183px,#0003ff 184px,#004fff 186px,#0003ff 188px,#0000d7 189px,#00009e 190px,#00009e 194px,#0000af 195px,#0000fb 197px,#0028ff 199px,#0009ff 200px,#00009e 203px,#00009e 210px,#0000fc 212px,#0048ff 214px,#0005ff 216px,#0000da 217px,#0000a4 218px,#00009e 224px,#0000af 225px,#0000fb 227px,#0028ff 229px,#0009ff 230px,#00009e 233px,#00009e 242px,#0000eb 244px,#000fff 245px,#0030ff 246px,#0023ff 247px,#0002ff 248px,#0000b0 250px,#00009e 251px,#00009e 261px,#0000ef 263px,#0017ff 264px,#003bff 265px,#0034ff 266px,#000fff 267px,#0000e6 268px,#0000b7 269px,#00009e 270px,#00009e 279px,#0000f1 281px,#0030ff 283px,#0000f1 285px,#00009e 287px,#00009e 296px,#0000b0 297px,#0002ff 299px,#0023ff 300px,#0030ff 301px,#000fff 302px,#0000eb 303px,#00009e 305px,#00009e 315px,#0000af 316px,#0000ff 318px,#0021ff 319px,#002dff 320px,#000dff 321px,#0000ea 322px,#00009e 324px,#00009e 333px,#0000ae 334px,#0000f7 336px,#0022ff 338px,#0004ff 339px,#00009e 342px,#00009e 352px,#0000e7 354px,#0007ff 355px,#0025ff 356px,#0000f4 358px,#0000a9 360px,#00009e 363px,#00009e 370px,#0003ff 373px,#001fff 374px,#0000f0 376px,#0000a8 378px,#00009e 382px,#00009e 387px)"></div>
<div style="position:absolute;left:48.3px;top:328.30px;width:387.0px;height:1.30px;background:linear-gradient(90deg,#00009e 0px,#0000b8 1px,#0000eb 2px,#0017ff 3px,#0063ff 5px,#0017ff 7px,#0000eb 8px,#0000b8 9px,#00009e 10px,#00009e 18px,#0000f7 20px,#003fff 22px,#003fff 23px,#0000f7 25px,#00009e 27px,#00009e 35px,#0000b9 36px,#0000ed 37px,#001bff 38px,#0069ff 40px,#001bff 42px,#0000ed 43px,#0000b9 44px,#00009e 45px,#00009e 54px,#0000b6 55px,#0000e7 56px,#0011ff 57px,#0059ff 59px,#0011ff 61px,#0000e7 62px,#0000b6 63px,#00009e 64px,#00009e 72px,#0008ff 74px,#005cff 76px,#005cff 77px,#0008ff 79px,#00009e 81px,#00009e 89px,#0000b6 90px,#0000e6 91px,#000fff 92px,#0056ff 94px,#000fff 96px,#0000e6 97px,#0000b6 98px,#00009e 99px,#00009e 108px,#0000b6 109px,#0000e7 110px,#0011ff 111px,#0059ff 113px,#0011ff 115px,#0000e7 116px,#0000b6 117px,#00009e 118px,#00009e 126px,#0000d7 127px,#000aff 128px,#005fff 130px,#005fff 131px,#000aff 133px,#0000d7 134px,#00009e 135px,#00009e 145px,#0000f9 147px,#0042ff 149px,#0042ff 150px,#0000f9 152px,#00009e 154px,#00009e 164px,#0000fc 166px,#0048ff 168px,#0048ff 169px,#0000fc 171px,#00009e 173px,#00009e 181px,#0000b7 182px,#0000e8 183px,#0013ff 184px,#005cff 186px,#0013ff 188px,#0000e8 189px,#0000b7 190px,#00009e 191px,#00009e 194px,#0008ff 197px,#0027ff 198px,#0033ff 199px,#0000f4 201px,#0000a2 203px,#00009e 209px,#0000b1 210px,#0000e3 211px,#000dff 212px,#0056ff 214px,#0014ff 216px,#0000eb 217px,#0000bc 218px,#00009e 219px,#00009e 224px,#0008ff 227px,#0027ff 228px,#0033ff 229px,#0000f4 231px,#0000a2 233px,#0000a2 242px,#0000f9 244px,#003cff 246px,#0030ff 247px,#000fff 248px,#0000eb 249px,#00009e 251px,#00009e 261px,#0000fe 263px,#0048ff 265px,#0041ff 266px,#0000f6 268px,#00009e 270px,#00009e 278px,#0000b3 279px,#0000fe 281px,#003cff 283px,#0000fe 285px,#0000b3 287px,#00009e 288px,#00009e 296px,#0000eb 298px,#000fff 299px,#0030ff 300px,#003cff 301px,#0000f9 303px,#0000a2 305px,#00009e 315px,#0000e9 317px,#000dff 318px,#002dff 319px,#0039ff 320px,#0000f7 322px,#0000a2 324px,#00009e 333px,#0004ff 336px,#0021ff 337px,#002dff 338px,#0000f0 340px,#0000a2 342px,#00009e 351px,#0000a8 352px,#0000f3 354px,#0030ff 356px,#0001ff 358px,#00009e 361px,#00009e 369px,#0000a8 370px,#0000f0 372px,#0029ff 374px,#0000fc 376px,#00009e 379px,#00009e 387px)"></div>
<div style="position:absolute;left:48.3px;top:329.30px;width:387.0px;height:1.30px;background:linear-gradient(90deg,#00009e 0px,#0000fc 2px,#0071ff 5px,#0000fc 8px,#00009e 10px,#00009e 17px,#0000af 18px,#0006ff 20px,#004bff 22px,#004bff 23px,#0006ff 25px,#0000af 27px,#00009e 28px,#00009e 35px,#0000ff 37px,#0077ff 40px,#0000ff 43px,#00009e 45px,#00009e 54px,#0000f7 56px,#0066ff 59px,#0000f7 62px,#00009e 64px,#00009e 71px,#0000b2 72px,#0000ea 73px,#001aff 74px,#006bff 76px,#006bff 77px,#001aff 79px,#0000ea 80px,#0000b2 81px,#00009e 82px,#00009e 89px,#0000f6 91px,#0063ff 94px,#0000f6 97px,#00009e 99px,#00009e 108px,#0000f7 110px,#0066ff 113px,#0000f7 116px,#00009e 118px,#00009e 125px,#0000b2 126px,#0000eb 127px,#001bff 128px,#006fff 130px,#006fff 131px,#001bff 133px,#0000eb 134px,#0000b2 135px,#00009e 136px,#00009e 144px,#0000af 145px,#0000df 146px,#0008ff 147px,#004fff 149px,#004fff 150px,#0008ff 152px,#0000df 153px,#0000af 154px,#00009e 155px,#00009e 163px,#0000b0 164px,#0000e2 165px,#000cff 166px,#0055ff 168px,#0055ff 169px,#000cff 171px,#0000e2 172px,#0000b0 173px,#00009e 174px,#00009e 181px,#0000f9 183px,#006aff 186px,#0000f9 189px,#00009e 191px,#0000a1 194px,#0000f3 196px,#0032ff 198px,#003eff 199px,#0001ff 201px,#00009e 204px,#00009e 209px,#0000f3 211px,#0040ff 213px,#0063ff 214px,#0000fb 217px,#00009e 219px,#0000a1 224px,#0000f3 226px,#0032ff 228px,#003eff 229px,#0001ff 231px,#00009e 234px,#00009e 241px,#0000b8 242px,#0008ff 244px,#0048ff 246px,#003cff 247px,#0000f9 249px,#0000a1 251px,#00009e 260px,#0000b5 261px,#0000e5 262px,#000eff 263px,#0055ff 265px,#004eff 266px,#0006ff 268px,#0000dc 269px,#0000a9 270px,#00009e 273px,#00009e 278px,#0000e9 280px,#000bff 281px,#0047ff 283px,#000bff 285px,#0000c3 287px,#00009e 288px,#0000a1 296px,#0000f9 298px,#003cff 300px,#0048ff 301px,#0008ff 303px,#00009e 306px,#0000a1 315px,#0000f7 317px,#0039ff 319px,#0045ff 320px,#0006ff 322px,#00009e 325px,#0000a1 333px,#0000f0 335px,#002cff 337px,#0037ff 338px,#0000fc 340px,#0000b5 342px,#00009e 343px,#00009e 351px,#0000ff 354px,#003aff 356px,#000dff 358px,#0000ec 359px,#00009e 361px,#00009e 369px,#0000fb 372px,#0033ff 374px,#0008ff 376px,#0000c8 378px,#00009e 379px,#00009e 387px)"></div>
<div style="position:absolute;left:48.3px;top:330.30px;width:387.0px;height:1.30px;background:linear-gradient(90deg,#0000a9 0px,#0000e0 1px,#000dff 2px,#007eff 5px,#000dff 8px,#0000e0 9px,#0000a9 10px,#00009e 14px,#00009e 17px,#0000ee 19px,#0014ff 20px,#0058ff 22px,#0058ff 23px,#0014ff 25px,#0000ee 26px,#00009e 28px,#00009e 34px,#0000a9 35px,#0000e2 36px,#0011ff 37px,#0085ff 40px,#0011ff 43px,#0000e2 44px,#0000a9 45px,#00009e 48px,#00009e 53px,#0000a8 54px,#0000dc 55px,#0008ff 56px,#0073ff 59px,#0008ff 62px,#0000dc 63px,#0000a8 64px,#00009e 69px,#00009e 71px,#0000fc 73px,#007aff 76px,#007aff 77px,#0000fc 80px,#00009e 82px,#00009e 88px,#0000a8 89px,#0006ff 91px,#006fff 94px,#0006ff 97px,#0000a8 99px,#00009e 104px,#0000a8 108px,#0000dc 109px,#0008ff 110px,#0073ff 113px,#0008ff 116px,#0000dc 117px,#0000a8 118px,#00009e 123px,#00009e 125px,#0000fe 127px,#007eff 130px,#007eff 131px,#0000fe 134px,#00009e 136px,#00009e 144px,#0000ef 146px,#003aff 148px,#005bff 149px,#005bff 150px,#0017ff 152px,#0000ef 153px,#00009e 155px,#00009e 163px,#0000f2 165px,#0040ff 167px,#0062ff 168px,#0062ff 169px,#001bff 171px,#0000f2 172px,#00009e 174px,#00009e 180px,#0000a8 181px,#0000dd 182px,#0009ff 183px,#0077ff 186px,#0009ff 189px,#0000dd 190px,#0000a8 191px,#00009e 193px,#0000b6 194px,#0001ff 196px,#003eff 198px,#0049ff 199px,#000eff 201px,#0000ec 202px,#00009e 204px,#0000a0 209px,#0000d8 210px,#0004ff 211px,#0070ff 214px,#000cff 217px,#0000e1 218px,#0000af 219px,#00009e 220px,#00009e 223px,#0000b6 224px,#0001ff 226px,#003eff 228px,#0049ff 229px,#000eff 231px,#0000ec 232px,#00009e 234px,#00009e 241px,#0000f1 243px,#0035ff 245px,#0054ff 246px,#0048ff 247px,#0007ff 249px,#00009e 252px,#00009e 260px,#0000f5 262px,#0062ff 265px,#005bff 266px,#0015ff 268px,#0000ec 269px,#00009e 271px,#0000a6 278px,#0000f6 280px,#0051ff 283px,#0000f6 286px,#0000a6 288px,#00009e 295px,#0000b7 296px,#0007ff 298px,#0048ff 300px,#0054ff 301px,#0015ff 303px,#0000f1 304px,#00009e 306px,#00009e 314px,#0000b7 315px,#0005ff 317px,#0044ff 319px,#0050ff 320px,#0012ff 322px,#0000ef 323px,#00009e 325px,#00009e 332px,#0000db 334px,#0000fc 335px,#0037ff 337px,#0042ff 338px,#0009ff 340px,#0000c5 342px,#00009e 343px,#00009e 351px,#0000ec 353px,#000cff 354px,#0045ff 356px,#0000f9 359px,#0000b0 361px,#00009e 362px,#00009e 369px,#0000e9 371px,#0007ff 372px,#003dff 374px,#0000f5 377px,#0000af 379px,#00009e 380px,#00009e 387px)"></div>
<div style="position:absolute;left:48.3px;top:331.30px;width:387.0px;height:1.30px;background:linear-gradient(90deg,#0000c0 0px,#0000f1 1px,#0044ff 3px,#008bff 5px,#001dff 8px,#0000f1 9px,#00009e 11px,#00009e 17px,#0000fd 19px,#0064ff 22px,#0064ff 23px,#0000fd 26px,#00009e 28px,#00009e 34px,#0000f4 36px,#006fff 39px,#0093ff 40px,#0021ff 43px,#0000f4 44px,#00009e 46px,#00009e 53px,#0000ed 55px,#0017ff 56px,#0080ff 59px,#0017ff 62px,#0000ed 63px,#00009e 65px,#00009e 71px,#0000de 72px,#000fff 73px,#0089ff 76px,#0089ff 77px,#000fff 80px,#0000de 81px,#00009e 82px,#00009e 88px,#0000eb 90px,#0014ff 91px,#007cff 94px,#0014ff 97px,#0000eb 98px,#00009e 100px,#00009e 107px,#0000ed 109px,#0017ff 110px,#0080ff 113px,#0017ff 116px,#0000ed 117px,#00009e 119px,#00009e 125px,#0000df 126px,#0011ff 127px,#008cff 130px,#008cff 131px,#0011ff 134px,#0000df 135px,#00009e 136px,#00009e 144px,#0000fe 146px,#0068ff 149px,#0068ff 150px,#0000fe 153px,#00009e 155px,#00009e 163px,#0000d7 164px,#0003ff 165px,#006fff 168px,#006fff 169px,#0003ff 172px,#0000d7 173px,#00009e 174px,#00009e 180px,#0000ee 182px,#0019ff 183px,#0083ff 186px,#0019ff 189px,#0000ee 190px,#00009e 192px,#00009e 193px,#0000eb 195px,#000dff 196px,#0049ff 198px,#0054ff 199px,#0000f9 202px,#0000ab 204px,#00009e 206px,#00009e 208px,#0000b9 209px,#0000e9 210px,#0013ff 211px,#007cff 214px,#001aff 217px,#0000f1 218px,#00009e 220px,#00009e 223px,#0000eb 225px,#000dff 226px,#0049ff 228px,#0054ff 229px,#0000f9 232px,#0000ab 234px,#00009e 236px,#00009e 240px,#0000ac 241px,#0000ff 243px,#005fff 246px,#0053ff 247px,#0014ff 249px,#0000f0 250px,#00009e 252px,#0000a7 260px,#0005ff 262px,#006fff 265px,#0068ff 266px,#0000fc 269px,#00009e 271px,#00009e 277px,#0004ff 280px,#005cff 283px,#0004ff 286px,#00009e 289px,#00009e 295px,#0000f0 297px,#0034ff 299px,#0053ff 300px,#005fff 301px,#0000ff 304px,#0000ac 306px,#00009e 308px,#00009e 314px,#0000ee 316px,#0012ff 317px,#0050ff 319px,#005bff 320px,#0000fd 323px,#0000ac 325px,#00009e 327px,#00009e 332px,#0000e8 334px,#0009ff 335px,#0042ff 337px,#004cff 338px,#0000f5 341px,#0000aa 343px,#00009e 345px,#00009e 350px,#0000af 351px,#0000f8 353px,#004fff 356px,#0023ff 358px,#0006ff 359px,#00009e 362px,#00009e 368px,#0000ae 369px,#0000f4 371px,#0047ff 374px,#0001ff 377px,#00009e 380px,#00009e 387px)"></div>
<div style="position:absolute;left:48.3px;top:332.30px;width:387.0px;height:1.30px;background:linear-gradient(90deg,#0000d3 0px,#0003ff 1px,#0098ff 5px,#0003ff 9px,#00009e 11px,#00009e 16px,#0000b6 17px,#0000e4 18px,#000cff 19px,#0070ff 22px,#0070ff 23px,#000cff 26px,#0000e4 27px,#0000b6 28px,#00009e 29px,#00009e 34px,#0006ff 36px,#00a1ff 40px,#0006ff 44px,#00009e 46px,#00009e 53px,#0000fd 55px,#008cff 59px,#0000fd 63px,#00009e 65px,#00009e 70px,#0000bb 71px,#0000f0 72px,#004aff 74px,#0097ff 76px,#0097ff 77px,#0020ff 80px,#0000f0 81px,#0000bb 82px,#00009e 83px,#00009e 88px,#0000fb 90px,#0088ff 94px,#0000fb 98px,#00009e 100px,#00009e 107px,#0000fd 109px,#008cff 113px,#0000fd 117px,#00009e 119px,#00009e 124px,#0000bb 125px,#0000f2 126px,#004dff 128px,#009bff 130px,#009bff 131px,#0022ff 134px,#0000f2 135px,#0000bb 136px,#00009e 137px,#00009e 143px,#0000b7 144px,#0000e5 145px,#000eff 146px,#0074ff 149px,#0074ff 150px,#000eff 153px,#0000e5 154px,#0000b7 155px,#00009e 156px,#00009e 162px,#0000b8 163px,#0000e7 164px,#0012ff 165px,#007cff 168px,#007cff 169px,#0012ff 172px,#0000e7 173px,#0000b8 174px,#00009e 175px,#00009e 180px,#0000fe 182px,#0090ff 186px,#0000fe 190px,#00009e 192px,#0000aa 193px,#0000f8 195px,#0053ff 198px,#005eff 199px,#0006ff 202px,#00009e 205px,#00009e 208px,#0000f8 210px,#0089ff 214px,#0002ff 218px,#00009e 220px,#0000aa 223px,#0000f8 225px,#0053ff 228px,#005eff 229px,#0006ff 232px,#00009e 235px,#00009e 240px,#0000e7 242px,#000dff 243px,#006aff 246px,#005fff 247px,#0000fe 250px,#0000ab 252px,#00009e 254px,#00009e 259px,#0000ea 261px,#0014ff 262px,#007bff 265px,#0075ff 266px,#000cff 269px,#0000e2 270px,#0000b2 271px,#00009e 272px,#00009e 277px,#0000ee 279px,#0010ff 280px,#0067ff 283px,#0010ff 286px,#0000ee 287px,#00009e 289px,#00009e 294px,#0000ab 295px,#0000fe 297px,#005fff 300px,#006aff 301px,#000dff 304px,#0000e7 305px,#00009e 307px,#00009e 313px,#0000ab 314px,#0000fc 316px,#005bff 319px,#0066ff 320px,#000bff 323px,#00009e 326px,#00009e 331px,#0000aa 332px,#0000f4 334px,#004cff 337px,#0056ff 338px,#0002ff 341px,#00009e 344px,#00009e 350px,#0005ff 353px,#0059ff 356px,#002eff 358px,#0000f1 360px,#0000a4 362px,#00009e 368px,#0001ff 371px,#0051ff 374px,#000cff 377px,#0000cc 379px,#0000a4 380px,#00009e 386px,#0000a9 387px)"></div>
<div style="position:absolute;left:48.3px;top:333.30px;width:387.0px;height:1.30px;background:linear-gradient(90deg,#0000e5 0px,#0013ff 1px,#00a5ff 5px,#0013ff 9px,#0000e5 10px,#0000b2 11px,#00009e 12px,#00009e 16px,#0000f3 18px,#003cff 20px,#007cff 22px,#007cff 23px,#001aff 26px,#0000f3 27px,#00009e 29px,#00009e 33px,#0000b3 34px,#0000e8 35px,#0016ff 36px,#00aeff 40px,#0016ff 44px,#0000e8 45px,#0000b3 46px,#00009e 47px,#00009e 52px,#0000b1 53px,#0000e2 54px,#000dff 55px,#0098ff 59px,#000dff 63px,#0000e2 64px,#0000b1 65px,#00009e 66px,#00009e 70px,#0003ff 72px,#00a5ff 76px,#00a5ff 77px,#0003ff 81px,#00009e 83px,#00009e 87px,#0000b1 88px,#0000e1 89px,#000bff 90px,#0094ff 94px,#000bff 98px,#0000e1 99px,#0000b1 100px,#00009e 101px,#00009e 106px,#0000b1 107px,#0000e2 108px,#000dff 109px,#0098ff 113px,#000dff 117px,#0000e2 118px,#0000b1 119px,#00009e 120px,#00009e 124px,#0005ff 126px,#00a9ff 130px,#00a9ff 131px,#0005ff 135px,#00009e 137px,#00009e 143px,#0000f4 145px,#0060ff 148px,#0080ff 149px,#0080ff 150px,#001cff 153px,#0000f4 154px,#00009e 156px,#00009e 162px,#0000f7 164px,#0088ff 168px,#0088ff 169px,#0000f7 173px,#00009e 175px,#00009e 179px,#0000b2 180px,#0000e3 181px,#000fff 182px,#009dff 186px,#000fff 190px,#0000e3 191px,#0000b2 192px,#0000bc 193px,#0006ff 195px,#005eff 198px,#0069ff 199px,#0012ff 202px,#0000f0 203px,#00009e 205px,#00009e 207px,#0000ab 208px,#0000dd 209px,#0009ff 210px,#0095ff 214px,#0011ff 218px,#0000e6 219px,#0000b7 220px,#00009e 221px,#00009e 222px,#0006ff 225px,#005eff 228px,#0069ff 229px,#0012ff 232px,#0000f0 233px,#00009e 235px,#00009e 240px,#0000f5 242px,#0075ff 246px,#006aff 247px,#000cff 250px,#0000e6 251px,#00009e 253px,#00009e 259px,#0000fa 261px,#0087ff 265px,#0081ff 266px,#001aff 269px,#0000f2 270px,#00009e 272px,#00009e 276px,#0000ae 277px,#0000fa 279px,#0071ff 283px,#0000fa 287px,#0000ae 289px,#00009e 290px,#00009e 294px,#000cff 297px,#006aff 300px,#0075ff 301px,#0000f5 305px,#00009e 307px,#00009e 313px,#000aff 316px,#0066ff 319px,#0071ff 320px,#0017ff 323px,#0000f4 324px,#00009e 326px,#00009e 331px,#0001ff 334px,#0056ff 337px,#0060ff 338px,#000eff 341px,#0000ed 342px,#00009e 344px,#0000a3 350px,#0000f0 352px,#002dff 354px,#0063ff 356px,#001cff 359px,#0000fd 360px,#00009e 363px,#0000a3 368px,#0000ed 370px,#000cff 371px,#005bff 374px,#0000f9 378px,#00009e 381px,#0000a3 386px,#0000b8 387px)"></div>
<div style="position:absolute;left:48.3px;top:334.30px;width:387.0px;height:1.30px;background:linear-gradient(90deg,#0000f6 0px,#00b2ff 5px,#0000f6 10px,#00009e 12px,#00009e 15px,#0000aa 16px,#0002ff 18px,#0088ff 22px,#0088ff 23px,#0002ff 27px,#0000aa 29px,#00009e 32px,#00009e 33px,#0000f9 35px,#00bbff 40px,#0000f9 45px,#00009e 47px,#00009e 52px,#0000f2 54px,#0041ff 56px,#00a4ff 59px,#001bff 63px,#0000f2 64px,#00009e 66px,#00009e 69px,#0000ac 70px,#0000e4 71px,#0014ff 72px,#00b3ff 76px,#00b3ff 77px,#0014ff 81px,#0000e4 82px,#0000ac 83px,#00009e 85px,#00009e 87px,#0000f0 89px,#003eff 91px,#00a0ff 94px,#0019ff 98px,#0000f0 99px,#00009e 101px,#00009e 106px,#0000f2 108px,#0041ff 110px,#00a4ff 113px,#001bff 117px,#0000f2 118px,#00009e 120px,#00009e 123px,#0000ac 124px,#0000e5 125px,#0016ff 126px,#00b7ff 130px,#00b7ff 131px,#0016ff 135px,#0000e5 136px,#0000ac 137px,#00009e 139px,#00009e 142px,#0000aa 143px,#0004ff 145px,#008cff 149px,#008cff 150px,#0004ff 154px,#0000aa 156px,#00009e 159px,#00009e 161px,#0000aa 162px,#0007ff 164px,#0095ff 168px,#0095ff 169px,#0007ff 173px,#0000aa 175px,#00009e 177px,#00009e 179px,#0000f3 181px,#0067ff 184px,#00a9ff 186px,#001eff 190px,#0000f3 191px,#0000c6 192px,#0000cb 193px,#0000ef 194px,#0030ff 196px,#0068ff 198px,#0073ff 199px,#0000fd 203px,#0000b2 205px,#00009e 206px,#00009e 207px,#0000ed 209px,#0018ff 210px,#00a1ff 214px,#0000f6 219px,#00009e 221px,#00009e 222px,#0000ef 224px,#0030ff 226px,#0068ff 228px,#0073ff 229px,#0000fd 233px,#0000b2 235px,#00009e 236px,#00009e 239px,#0000b3 240px,#0004ff 242px,#0080ff 246px,#0075ff 247px,#0019ff 250px,#0000f4 251px,#00009e 253px,#00009e 258px,#0000b0 259px,#000aff 261px,#0093ff 265px,#008dff 266px,#0002ff 270px,#0000a3 272px,#00009e 276px,#0008ff 279px,#007bff 283px,#0008ff 287px,#00009e 290px,#00009e 294px,#0000f4 296px,#0058ff 299px,#0075ff 300px,#0080ff 301px,#0004ff 305px,#0000b3 307px,#00009e 308px,#00009e 313px,#0000f2 315px,#0036ff 317px,#0071ff 319px,#007cff 320px,#0002ff 324px,#0000b3 326px,#00009e 327px,#00009e 331px,#0000ec 333px,#000dff 334px,#0060ff 337px,#006aff 338px,#0000f9 342px,#0000b1 344px,#00009e 345px,#00009e 349px,#0000db 351px,#0000fc 352px,#006dff 356px,#0027ff 359px,#000aff 360px,#0000c5 362px,#00009e 363px,#00009e 367px,#0000f8 370px,#0064ff 374px,#0021ff 377px,#0005ff 378px,#00009e 381px,#00009e 385px,#0000c5 387px)"></div>
<div style="position:absolute;left:48.3px;top:335.30px;width:387.0px;height:1.30px;background:linear-gradient(90deg,#0007ff 0px,#00bfff 5px,#0007ff 10px,#0000d9 11px,#0000a2 12px,#00009e 15px,#0000e8 17px,#0010ff 18px,#0093ff 22px,#0093ff 23px,#0010ff 27px,#0000e8 28px,#00009e 30px,#0000a2 33px,#0000db 34px,#000bff 35px,#00c8ff 40px,#000bff 45px,#0000db 46px,#0000a2 47px,#0000a2 52px,#0002ff 54px,#00b0ff 59px,#0002ff 64px,#0000a2 66px,#00009e 69px,#0000f6 71px,#00c0ff 76px,#00c0ff 77px,#0000f6 82px,#00009e 84px,#0000a2 87px,#0000ff 89px,#00acff 94px,#0000ff 99px,#0000a2 101px,#0000a2 106px,#0002ff 108px,#00b0ff 113px,#0002ff 118px,#0000a2 120px,#00009e 123px,#0000f7 125px,#00c5ff 130px,#00c5ff 131px,#0000f7 136px,#00009e 138px,#00009e 142px,#0000e9 144px,#0012ff 145px,#0098ff 149px,#0098ff 150px,#0012ff 154px,#0000e9 155px,#00009e 157px,#00009e 161px,#0000ec 163px,#0016ff 164px,#00a1ff 168px,#00a1ff 169px,#0016ff 173px,#0000ec 174px,#00009e 176px,#0000a2 179px,#0004ff 181px,#00b5ff 186px,#0004ff 191px,#0000d7 192px,#0000d9 193px,#0000fc 194px,#0073ff 198px,#007dff 199px,#000aff 203px,#0000c2 205px,#00009e 206px,#00009e 207px,#0000fd 209px,#00adff 214px,#002dff 218px,#0006ff 219px,#0000a9 221px,#0000b1 222px,#0000fc 224px,#0073ff 228px,#007dff 229px,#000aff 233px,#0000c2 235px,#00009e 236px,#00009e 239px,#0000eb 241px,#0011ff 242px,#008bff 246px,#0080ff 247px,#0002ff 251px,#0000b2 253px,#00009e 254px,#00009e 258px,#0000ef 260px,#0018ff 261px,#009fff 265px,#0099ff 266px,#0010ff 270px,#0000e6 271px,#0000b9 272px,#00009e 273px,#0000a1 276px,#0000f1 278px,#0033ff 280px,#0085ff 283px,#0014ff 287px,#0000f1 288px,#0000a1 290px,#00009e 293px,#0000b2 294px,#0002ff 296px,#0080ff 300px,#008bff 301px,#0011ff 305px,#0000eb 306px,#00009e 308px,#00009e 312px,#0000b2 313px,#0000ff 315px,#007cff 319px,#0087ff 320px,#000eff 324px,#0000ea 325px,#00009e 327px,#00009e 330px,#0000b0 331px,#0000f8 333px,#006aff 337px,#0074ff 338px,#0006ff 342px,#00009e 345px,#00009e 349px,#0000e7 351px,#0009ff 352px,#0077ff 356px,#0032ff 359px,#0000f4 361px,#0000ac 363px,#00009e 365px,#00009e 367px,#0004ff 370px,#006dff 374px,#002cff 377px,#0000f1 379px,#0000ab 381px,#00009e 383px,#00009e 385px,#0000c1 386px,#0000d1 387px)"></div>
<div style="position:absolute;left:48.3px;top:336.30px;width:387.0px;height:1.30px;background:linear-gradient(90deg,#0017ff 0px,#00cbff 5px,#0017ff 10px,#0000ea 11px,#0000ba 12px,#00009e 13px,#00009e 15px,#0000f6 17px,#009fff 22px,#009fff 23px,#0000f6 28px,#00009e 30px,#00009e 32px,#0000bb 33px,#0000ed 34px,#001bff 35px,#00d5ff 40px,#001bff 45px,#0000ed 46px,#0000bb 47px,#00009e 48px,#00009e 51px,#0000b9 52px,#0000e6 53px,#0011ff 54px,#00bcff 59px,#0011ff 64px,#0000e6 65px,#0000b9 66px,#00009e 67px,#00009e 69px,#0000d7 70px,#0008ff 71px,#00ceff 76px,#00ceff 77px,#0008ff 82px,#0000d7 83px,#00009e 84px,#00009e 86px,#0000b8 87px,#0000e5 88px,#000fff 89px,#00b7ff 94px,#000fff 99px,#0000e5 100px,#0000b8 101px,#00009e 102px,#00009e 105px,#0000b9 106px,#0000e6 107px,#0011ff 108px,#00bcff 113px,#0011ff 118px,#0000e6 119px,#0000b9 120px,#00009e 121px,#00009e 123px,#0000d8 124px,#0009ff 125px,#00afff 129px,#00d3ff 130px,#00d3ff 131px,#0037ff 135px,#0009ff 136px,#0000d8 137px,#00009e 138px,#00009e 142px,#0000f8 144px,#00a3ff 149px,#00a3ff 150px,#0000f8 155px,#00009e 157px,#00009e 161px,#0000fb 163px,#00adff 168px,#00adff 169px,#0000fb 174px,#00009e 176px,#00009e 178px,#0000b9 179px,#0000e8 180px,#0013ff 181px,#00c1ff 186px,#0013ff 191px,#0000e8 192px,#0000e6 193px,#0009ff 194px,#007dff 198px,#0088ff 199px,#0016ff 203px,#0000f3 204px,#0000a6 206px,#0000b4 207px,#0000e2 208px,#000dff 209px,#00b9ff 214px,#003bff 218px,#0015ff 219px,#0000eb 220px,#0000be 221px,#0000c1 222px,#0009ff 224px,#007dff 228px,#0088ff 229px,#0016ff 233px,#0000f3 234px,#0000a6 236px,#00009e 238px,#0000a7 239px,#0000f9 241px,#0096ff 246px,#008bff 247px,#000fff 251px,#0000ea 252px,#00009e 254px,#0000a1 258px,#0000fe 260px,#00abff 265px,#00a5ff 266px,#0000f6 271px,#00009e 273px,#00009e 275px,#0000db 277px,#0000fe 278px,#008fff 283px,#0000fe 288px,#0000b5 290px,#00009e 291px,#00009e 293px,#0000ea 295px,#000fff 296px,#008bff 300px,#0096ff 301px,#0000f9 306px,#0000a7 308px,#00009e 312px,#0000e9 314px,#000dff 315px,#0086ff 319px,#0091ff 320px,#0000f7 325px,#0000a7 327px,#00009e 330px,#0004ff 333px,#0074ff 337px,#007eff 338px,#0011ff 342px,#0000f0 343px,#0000a6 345px,#00009e 348px,#0000ab 349px,#0000f3 351px,#004dff 354px,#0080ff 356px,#003dff 359px,#0001ff 361px,#00009e 364px,#00009e 366px,#0000aa 367px,#0000ef 369px,#002bff 371px,#0077ff 374px,#0036ff 377px,#0000fc 379px,#00009e 382px,#0000aa 385px,#0000cd 386px,#0000dd 387px)"></div>
<div style="position:absolute;left:48.3px;top:337.30px;width:387.0px;height:1.30px;background:linear-gradient(90deg,#0025ff 0px,#00d8ff 5px,#0000fa 11px,#00009e 13px,#00009e 14px,#0000b1 15px,#0005ff 17px,#00aaff 22px,#00aaff 23px,#0005ff 28px,#0000b1 30px,#00009e 31px,#00009e 32px,#0000fd 34px,#00c1ff 39px,#00e2ff 40px,#002aff 45px,#0000fd 46px,#00009e 48px,#00009e 51px,#0000f6 53px,#00c8ff 59px,#0000f6 65px,#00009e 67px,#00009e 68px,#0000b5 69px,#0000e9 70px,#0018ff 71px,#00dbff 76px,#00dbff 77px,#0018ff 82px,#0000e9 83px,#0000b5 84px,#00009e 85px,#00009e 86px,#0000f4 88px,#0065ff 91px,#00c3ff 94px,#001dff 99px,#0000f4 100px,#00009e 102px,#00009e 105px,#0000f6 107px,#00c8ff 113px,#0000f6 119px,#00009e 121px,#00009e 122px,#0000b5 123px,#0000ea 124px,#001aff 125px,#00e0ff 130px,#00e0ff 131px,#001aff 136px,#0000ea 137px,#0000b5 138px,#00009e 139px,#00009e 141px,#0000b2 142px,#0007ff 144px,#00afff 149px,#00afff 150px,#0007ff 155px,#0000b2 157px,#00009e 158px,#00009e 160px,#0000b3 161px,#000bff 163px,#00b9ff 168px,#00b9ff 169px,#000bff 174px,#0000b3 176px,#00009e 177px,#00009e 178px,#0000f7 180px,#00cdff 186px,#0000f7 192px,#0000f2 193px,#0034ff 195px,#0087ff 198px,#0092ff 199px,#0001ff 204px,#0000b8 206px,#0000c6 207px,#0000f2 208px,#0041ff 210px,#00c5ff 214px,#0049ff 218px,#0000fa 220px,#0000cf 221px,#0000cf 222px,#0000f2 223px,#0034ff 225px,#0087ff 228px,#0092ff 229px,#0001ff 234px,#00009e 237px,#00009e 238px,#0007ff 241px,#00a1ff 246px,#0096ff 247px,#0000f7 252px,#0000a6 254px,#00009e 257px,#0000b7 258px,#0000e4 259px,#000dff 260px,#00b7ff 265px,#00b1ff 266px,#0005ff 271px,#0000ad 273px,#00009e 275px,#0000e8 277px,#000bff 278px,#0099ff 283px,#000bff 288px,#0000c4 290px,#00009e 291px,#0000a6 293px,#0000f7 295px,#0096ff 300px,#00a1ff 301px,#0007ff 306px,#00009e 309px,#0000a6 312px,#0000f6 314px,#0091ff 319px,#009cff 320px,#0005ff 325px,#00009e 328px,#0000a5 330px,#0000ef 332px,#0010ff 333px,#007dff 337px,#0087ff 338px,#0000fc 343px,#00009e 346px,#00009e 348px,#0000ff 351px,#008aff 356px,#0047ff 359px,#000cff 361px,#0000c9 363px,#00009f 364px,#00009e 366px,#0000fb 369px,#0080ff 374px,#0040ff 377px,#0008ff 379px,#0000c8 381px,#00009f 382px,#00009e 384px,#0000d9 386px,#0000e8 387px)"></div>
<div style="position:absolute;left:48.3px;top:338.30px;width:387.0px;height:1.30px;background:linear-gradient(90deg,#0034ff 0px,#00e4ff 5px,#0034ff 10px,#000bff 11px,#0000de 12px,#0000ad 13px,#00009e 14px,#0000ec 16px,#0013ff 17px,#00b5ff 22px,#00b5ff 23px,#0013ff 28px,#0000ec 29px,#00009e 31px,#0000ad 32px,#0000e1 33px,#000eff 34px,#00ceff 39px,#00efff 40px,#0039ff 45px,#000eff 46px,#0000e1 47px,#0000ad 48px,#00009e 50px,#0000ac 51px,#0005ff 53px,#00b5ff 58px,#00d4ff 59px,#002dff 64px,#0005ff 65px,#0000ac 67px,#00009e 68px,#0000fa 70px,#00c6ff 75px,#00e9ff 76px,#00e9ff 77px,#0028ff 82px,#0000fa 83px,#00009e 85px,#0000ac 86px,#0003ff 88px,#00b0ff 93px,#00ceff 94px,#002aff 99px,#0003ff 100px,#0000ac 102px,#00009e 104px,#0000ac 105px,#0005ff 107px,#00b5ff 112px,#00d4ff 113px,#002dff 118px,#0005ff 119px,#0000ac 121px,#00009e 122px,#0000fc 124px,#00cbff 129px,#00eeff 130px,#00eeff 131px,#002aff 136px,#0000fc 137px,#00009e 139px,#00009e 141px,#0000ed 143px,#0015ff 144px,#00baff 149px,#00baff 150px,#0015ff 155px,#0000ed 156px,#00009e 158px,#00009e 160px,#0000f0 162px,#0040ff 164px,#00c5ff 168px,#00c5ff 169px,#0019ff 174px,#0000f0 175px,#00009e 177px,#0000ac 178px,#0007ff 180px,#00bbff 185px,#00daff 186px,#002fff 191px,#0007ff 192px,#0000fe 193px,#0091ff 198px,#009bff 199px,#000cff 204px,#0000c7 206px,#0000d7 207px,#0001ff 208px,#00b2ff 213px,#00d1ff 214px,#0056ff 218px,#0009ff 220px,#0000df 221px,#0000dc 222px,#0000fe 223px,#0091ff 228px,#009bff 229px,#000cff 234px,#0000c7 236px,#00009e 237px,#00009e 238px,#0000ef 240px,#0013ff 241px,#00abff 246px,#00a0ff 247px,#0005ff 252px,#00009e 255px,#00009e 257px,#0000f3 259px,#0041ff 261px,#00c2ff 265px,#00bcff 266px,#0013ff 271px,#0000eb 272px,#00009e 274px,#0000aa 275px,#0000f4 277px,#0054ff 280px,#00a3ff 283px,#0016ff 288px,#0000f4 289px,#0000aa 291px,#00009e 292px,#0005ff 295px,#00a0ff 300px,#00abff 301px,#0013ff 306px,#0000ef 307px,#00009e 309px,#00009e 311px,#0003ff 314px,#009bff 319px,#00a6ff 320px,#0011ff 325px,#0000ed 326px,#00009e 328px,#00009e 329px,#0000fa 332px,#0087ff 337px,#0091ff 338px,#0008ff 343px,#0000c5 345px,#00009e 346px,#00009e 348px,#0000ea 350px,#000bff 351px,#0093ff 356px,#0051ff 359px,#0000f7 362px,#0000b2 364px,#00009e 365px,#00009e 366px,#0000e7 368px,#0006ff 369px,#0089ff 374px,#004aff 377px,#0000f3 380px,#0000b1 382px,#00009e 383px,#00009e 384px,#0000e3 386px,#0000f2 387px)"></div>
<div style="position:absolute;left:48.3px;top:339.30px;width:387.0px;height:1.30px;background:linear-gradient(90deg,#0042ff 0px,#00f0ff 5px,#0042ff 10px,#0019ff 11px,#0000ef 12px,#0000c1 13px,#0000a4 14px,#0000fa 16px,#00c0ff 22px,#00c0ff 23px,#0000fa 29px,#0000a4 31px,#0000c3 32px,#0000f1 33px,#0048ff 35px,#00fbff 40px,#0048ff 45px,#0000f1 47px,#00009e 49px,#00009e 50px,#0000eb 52px,#0013ff 53px,#00c1ff 58px,#00dfff 59px,#003aff 64px,#0013ff 65px,#0000eb 66px,#0000c0 67px,#0000a6 68px,#0000dd 69px,#000cff 70px,#00d3ff 75px,#00f6ff 76px,#00f6ff 77px,#0037ff 82px,#000cff 83px,#0000dd 84px,#0000a6 85px,#0000bf 86px,#0000e9 87px,#0011ff 88px,#00bcff 93px,#00daff 94px,#0037ff 99px,#0011ff 100px,#0000e9 101px,#00009e 103px,#00009e 104px,#0000eb 106px,#0013ff 107px,#00c1ff 112px,#00dfff 113px,#003aff 118px,#0013ff 119px,#0000eb 120px,#0000c0 121px,#0000a6 122px,#0000de 123px,#000dff 124px,#00d8ff 129px,#00fbff 130px,#00fbff 131px,#003aff 136px,#000dff 137px,#0000de 138px,#0000a6 139px,#0000a5 141px,#0000fb 143px,#00c6ff 149px,#00c6ff 150px,#0000fb 156px,#0000a5 158px,#0000a5 160px,#0000ff 162px,#00b2ff 167px,#00d0ff 168px,#00d0ff 169px,#0027ff 174px,#0000ff 175px,#0000a5 177px,#0000c0 178px,#0000ec 179px,#0015ff 180px,#00e7ff 186px,#0015ff 192px,#000bff 193px,#009bff 198px,#00a5ff 199px,#0000f6 205px,#0000d4 206px,#000fff 208px,#00beff 213px,#00dcff 214px,#0063ff 218px,#0017ff 220px,#0000ef 221px,#0000e9 222px,#000bff 223px,#009bff 228px,#00a5ff 229px,#0000f6 235px,#0000ae 237px,#0000af 238px,#0000fc 240px,#00b6ff 246px,#00abff 247px,#0012ff 252px,#0000ed 253px,#00009e 255px,#0000ab 257px,#0002ff 259px,#00b0ff 264px,#00ceff 265px,#00c8ff 266px,#0000f9 272px,#00009e 274px,#0001ff 277px,#00adff 283px,#0001ff 289px,#00009e 292px,#0000ed 294px,#0012ff 295px,#00abff 300px,#00b6ff 301px,#0000fc 307px,#0000af 309px,#00009e 310px,#00009e 311px,#0000ec 313px,#000fff 314px,#00a5ff 319px,#00b0ff 320px,#0000fa 326px,#0000ae 328px,#00009e 329px,#0006ff 332px,#0091ff 337px,#009aff 338px,#0013ff 343px,#0000f2 344px,#0000ad 346px,#00009e 347px,#0000b1 348px,#0000f6 350px,#009dff 356px,#005bff 359px,#0003ff 362px,#00009e 365px,#0000b0 366px,#0000f2 368px,#002eff 370px,#0092ff 374px,#0053ff 377px,#0000fe 380px,#00009e 383px,#0000d0 385px,#0000fc 387px)"></div>
<div style="position:absolute;left:48.3px;top:340.30px;width:387.0px;height:1.30px;background:linear-gradient(90deg,#0050ff 0px,#00fcff 5px,#0050ff 10px,#0000fe 12px,#0000d3 13px,#0000b9 14px,#0008ff 16px,#00aeff 21px,#00cbff 22px,#00cbff 23px,#002cff 28px,#0008ff 29px,#0000b9 31px,#0002ff 33px,#00c6ff 38px,#09fff6 40px,#00a3ff 43px,#0002ff 47px,#00009e 49px,#00009e 50px,#0000f9 52px,#00cdff 58px,#00ebff 59px,#0047ff 64px,#0000f9 66px,#0000d1 67px,#0000bd 68px,#0000ee 69px,#001bff 70px,#00e1ff 75px,#04fffb 76px,#04fffb 77px,#0071ff 81px,#001bff 83px,#0000ee 84px,#0000bd 85px,#0000d0 86px,#0000f8 87px,#00e5ff 94px,#0044ff 99px,#0000f8 101px,#00009e 103px,#00009e 104px,#0000f9 106px,#00cdff 112px,#00ebff 113px,#0047ff 118px,#0000f9 120px,#0000d1 121px,#0000be 122px,#0000ef 123px,#0049ff 125px,#00e6ff 129px,#09fff6 130px,#09fff6 131px,#009dff 134px,#001dff 137px,#0000ef 138px,#0000be 139px,#00009e 140px,#000aff 143px,#00b3ff 148px,#00d1ff 149px,#00d1ff 150px,#002fff 155px,#000aff 156px,#00009e 159px,#0000e5 161px,#000eff 162px,#00beff 167px,#00dcff 168px,#00dcff 169px,#0034ff 174px,#000eff 175px,#0000e5 176px,#0000ba 177px,#0000d1 178px,#0000fb 179px,#00f7ff 186px,#0023ff 192px,#0016ff 193px,#00a5ff 198px,#00afff 199px,#0003ff 205px,#0000e1 206px,#0000f5 207px,#00abff 212px,#00e8ff 214px,#0070ff 218px,#0000fd 221px,#0000f5 222px,#0071ff 226px,#00a5ff 228px,#00afff 229px,#0003ff 235px,#0000bd 237px,#0000bf 238px,#0009ff 240px,#00a5ff 245px,#00c0ff 246px,#00b5ff 247px,#0000fa 253px,#0000ae 255px,#00009e 256px,#0000e8 258px,#0010ff 259px,#00bcff 264px,#00d9ff 265px,#00d3ff 266px,#002eff 271px,#0008ff 272px,#0000b5 274px,#0000eb 276px,#000dff 277px,#00b6ff 283px,#000dff 289px,#0000c9 291px,#0000ae 292px,#0000fa 294px,#00b5ff 300px,#00c0ff 301px,#002bff 306px,#0009ff 307px,#00009e 310px,#0000ae 311px,#0000f8 313px,#00b0ff 319px,#00baff 320px,#0007ff 326px,#0000bf 328px,#0000ac 329px,#0000f1 331px,#0030ff 333px,#009aff 337px,#00a4ff 338px,#0000fe 344px,#00009e 347px,#0002ff 350px,#00a6ff 356px,#0065ff 359px,#000eff 362px,#0000ce 364px,#0000a8 365px,#0000fc 368px,#009bff 374px,#005dff 377px,#0009ff 380px,#0000cc 382px,#0000a7 383px,#0000f8 386px,#0007ff 387px)"></div>
<div style="position:absolute;left:48.3px;top:341.30px;width:387.0px;height:1.30px;background:linear-gradient(90deg,#005eff 0px,#00e9ff 4px,#09fff6 5px,#00a8ff 8px,#000eff 12px,#0000c9 14px,#0000ef 15px,#0039ff 17px,#00d6ff 22px,#00d6ff 23px,#0039ff 28px,#0000ef 30px,#0000c9 31px,#0000e6 32px,#0011ff 33px,#00d3ff 38px,#00f4ff 39px,#15ffea 40px,#00f4ff 41px,#003bff 46px,#0011ff 47px,#0000e6 48px,#0000b6 49px,#0000b4 50px,#0008ff 52px,#00baff 57px,#00f6ff 59px,#0054ff 64px,#0008ff 66px,#0000d1 68px,#0000fe 69px,#00cbff 74px,#00eeff 75px,#11ffee 76px,#11ffee 77px,#00eeff 78px,#002bff 83px,#0000fe 84px,#0000d1 85px,#0000df 86px,#0006ff 87px,#00b5ff 92px,#00f0ff 94px,#0051ff 99px,#0006ff 101px,#0000b4 103px,#0000b4 104px,#0008ff 106px,#00baff 111px,#00f6ff 113px,#0054ff 118px,#0008ff 120px,#0000e0 121px,#0000d2 122px,#0001ff 123px,#00d0ff 128px,#00f3ff 129px,#16ffe9 130px,#16ffe9 131px,#00f3ff 132px,#002dff 137px,#0001ff 138px,#00009e 140px,#0000f1 142px,#003cff 144px,#00dcff 149px,#00dcff 150px,#003cff 155px,#0000f1 157px,#00009e 159px,#0000f4 161px,#0067ff 164px,#00e7ff 168px,#00e7ff 169px,#0041ff 174px,#0000f4 176px,#0000cb 177px,#000aff 179px,#00ecff 185px,#09fff6 186px,#0031ff 192px,#0021ff 193px,#00aeff 198px,#00b8ff 199px,#000eff 205px,#0000ed 206px,#0004ff 207px,#00b7ff 212px,#00f3ff 214px,#007cff 218px,#000cff 221px,#0001ff 222px,#00aeff 228px,#00b8ff 229px,#000eff 235px,#0000cb 237px,#0000ce 238px,#0000f2 239px,#0037ff 241px,#00caff 246px,#00bfff 247px,#0007ff 253px,#00009e 256px,#0000f6 258px,#00e4ff 265px,#00dfff 266px,#003bff 271px,#0015ff 272px,#0000ef 273px,#0000c6 274px,#0000d6 275px,#0000f7 276px,#00c0ff 283px,#0000f7 290px,#0000bf 292px,#0007ff 294px,#00bfff 300px,#00caff 301px,#0015ff 307px,#0000f2 308px,#0000a2 310px,#0005ff 313px,#00baff 319px,#00c4ff 320px,#0013ff 326px,#0000f0 327px,#0000cd 328px,#0000bc 329px,#0000fc 331px,#00a3ff 337px,#00adff 338px,#000aff 344px,#0000a7 347px,#0000ed 349px,#000dff 350px,#00afff 356px,#006fff 359px,#0000f9 363px,#0000b8 365px,#0008ff 368px,#00a3ff 374px,#004dff 378px,#0000f5 381px,#0000b7 383px,#0003ff 386px,#0011ff 387px)"></div>
<div style="position:absolute;left:48.3px;top:342.30px;width:387.0px;height:1.30px;background:linear-gradient(90deg,#006bff 0px,#00f5ff 4px,#15ffea 5px,#00f5ff 6px,#0044ff 11px,#0000f3 13px,#0000d8 14px,#0000fd 15px,#00c5ff 21px,#00e1ff 22px,#00e1ff 23px,#0045ff 28px,#0000fd 30px,#0000d8 31px,#0000f6 32px,#01fffe 39px,#21ffde 40px,#01fffe 41px,#0049ff 46px,#0000f6 48px,#0000ca 49px,#0000c6 50px,#0000ef 51px,#0016ff 52px,#00c6ff 57px,#02fffd 59px,#0061ff 64px,#0016ff 66px,#0000ef 67px,#0000e3 68px,#000fff 69px,#00d9ff 74px,#00fbff 75px,#1dffe2 76px,#1dffe2 77px,#00fbff 78px,#0039ff 83px,#000fff 84px,#0000e3 85px,#0000ed 86px,#0014ff 87px,#00c1ff 92px,#00fbff 94px,#005dff 99px,#0014ff 101px,#0000ed 102px,#0000c6 103px,#0000c6 104px,#0000ef 105px,#0016ff 106px,#00c6ff 111px,#02fffd 113px,#0061ff 118px,#0016ff 120px,#0000ef 121px,#0000e4 122px,#0011ff 123px,#00deff 128px,#01fffe 129px,#23ffdc 130px,#23ffdc 131px,#01fffe 132px,#0067ff 136px,#0011ff 138px,#0000e4 139px,#0000b0 140px,#0000fe 142px,#00caff 148px,#00e7ff 149px,#00e7ff 150px,#0048ff 155px,#0000fe 157px,#0000ae 159px,#0003ff 161px,#00d5ff 167px,#00f3ff 168px,#00f3ff 169px,#004eff 174px,#0003ff 176px,#0000db 177px,#0000f0 178px,#003eff 180px,#00d0ff 184px,#02fffd 185px,#1cffe3 186px,#00edff 187px,#003eff 192px,#002cff 193px,#00b8ff 198px,#00c2ff 199px,#0000f9 206px,#0012ff 207px,#00c3ff 212px,#00feff 214px,#0065ff 219px,#001aff 221px,#000dff 222px,#00b8ff 228px,#00c2ff 229px,#0000f9 236px,#0000d8 237px,#0000dc 238px,#0000fe 239px,#00baff 245px,#00d4ff 246px,#00caff 247px,#0013ff 253px,#0000f1 254px,#0000b3 256px,#0005ff 258px,#00d2ff 264px,#00f0ff 265px,#00eaff 266px,#0047ff 271px,#0000fc 273px,#0000d6 274px,#0000e2 275px,#0003ff 276px,#00b1ff 282px,#00c9ff 283px,#0023ff 289px,#0003ff 290px,#0000cd 292px,#0000f1 293px,#0035ff 295px,#00caff 300px,#00d4ff 301px,#0021ff 307px,#0000fe 308px,#0000b6 310px,#0000ef 312px,#0032ff 314px,#00c4ff 319px,#00ceff 320px,#001eff 326px,#0000fc 327px,#0000c9 329px,#0008ff 331px,#00acff 337px,#00b6ff 338px,#0014ff 344px,#0000f5 345px,#0000b7 347px,#0000f8 349px,#00b8ff 356px,#0079ff 359px,#0005ff 363px,#0000c5 365px,#0000f4 367px,#004bff 370px,#00acff 374px,#0056ff 378px,#0001ff 381px,#0000c4 383px,#0000f0 385px,#001bff 387px)"></div>
<div style="position:absolute;left:48.3px;top:343.30px;width:387.0px;height:1.30px;background:linear-gradient(90deg,#0078ff 0px,#02fffd 4px,#21ffde 5px,#02fffd 6px,#0051ff 11px,#0003ff 13px,#0000e6 14px,#000bff 15px,#00d0ff 21px,#00ecff 22px,#00ecff 23px,#0051ff 28px,#000bff 30px,#0000e6 31px,#0006ff 32px,#00ecff 38px,#0efff1 39px,#2effd1 40px,#0efff1 41px,#00cbff 43px,#0006ff 48px,#0000db 49px,#0000d6 50px,#0000fd 51px,#00d1ff 57px,#0dfff2 59px,#00d1ff 61px,#0000fd 67px,#0000f3 68px,#0072ff 71px,#00e6ff 74px,#09fff6 75px,#2affd5 76px,#2affd5 77px,#09fff6 78px,#00c3ff 80px,#001eff 84px,#0000f3 85px,#0000fb 86px,#00e9ff 93px,#07fff8 94px,#008dff 98px,#0000fb 102px,#0000d5 103px,#0000d6 104px,#0000fd 105px,#00d1ff 111px,#0dfff2 113px,#00d1ff 115px,#0000fd 121px,#0000f5 122px,#009fff 126px,#00ebff 128px,#0ffff0 129px,#30ffcf 130px,#30ffcf 131px,#0ffff0 132px,#00ebff 133px,#0020ff 138px,#0000f5 139px,#0000c6 140px,#000cff 142px,#00d5ff 148px,#00f2ff 149px,#00f2ff 150px,#0054ff 155px,#000cff 157px,#0000c1 159px,#0000ea 160px,#0010ff 161px,#00e0ff 167px,#00feff 168px,#00feff 169px,#005bff 174px,#0010ff 176px,#0000ea 177px,#0000ff 178px,#00e1ff 184px,#18ffe7 185px,#32ffcd 186px,#00fcff 187px,#004bff 192px,#0037ff 193px,#00c2ff 198px,#00cbff 199px,#0024ff 205px,#0005ff 206px,#00ecff 213px,#0bfff4 214px,#00f2ff 215px,#004cff 220px,#0027ff 221px,#0018ff 222px,#00c2ff 228px,#00cbff 229px,#0024ff 235px,#0005ff 236px,#0000e4 237px,#0000e9 238px,#000bff 239px,#00c4ff 245px,#00deff 246px,#00d4ff 247px,#001fff 253px,#0000fd 254px,#0000c5 256px,#0000ec 257px,#0012ff 258px,#00deff 264px,#00fbff 265px,#00f5ff 266px,#0054ff 271px,#000bff 273px,#0000e5 274px,#000eff 276px,#00baff 282px,#00d3ff 283px,#002dff 289px,#000eff 290px,#0000db 292px,#0000fd 293px,#00b9ff 299px,#00d4ff 300px,#00deff 301px,#004eff 306px,#000bff 308px,#0000c5 310px,#0000fb 312px,#00ceff 319px,#00d8ff 320px,#002aff 326px,#0009ff 327px,#0000d5 329px,#0000f4 330px,#004eff 333px,#00b6ff 337px,#00bfff 338px,#001fff 344px,#0001ff 345px,#0000c5 347px,#0004ff 349px,#00aaff 355px,#00c1ff 356px,#0083ff 359px,#0010ff 363px,#0000f1 364px,#0000d2 365px,#0000fe 367px,#00b5ff 374px,#0060ff 378px,#000bff 381px,#0000d0 383px,#0000fa 385px,#0024ff 387px)"></div>
<div style="position:absolute;left:48.3px;top:344.30px;width:387.0px;height:1.30px;background:linear-gradient(90deg,#0085ff 0px,#00eeff 3px,#0efff1 4px,#2cffd3 5px,#0efff1 6px,#00ceff 8px,#0011ff 13px,#0000f3 14px,#005dff 17px,#00f6ff 22px,#00f6ff 23px,#005dff 28px,#0000f3 31px,#0015ff 32px,#00f9ff 38px,#3affc5 40px,#00f9ff 42px,#0015ff 48px,#0000ec 49px,#0000e6 50px,#000bff 51px,#00ddff 57px,#00fbff 58px,#19ffe6 59px,#00fbff 60px,#0055ff 65px,#000bff 67px,#0004ff 68px,#00f3ff 74px,#37ffc8 76px,#37ffc8 77px,#00f3ff 79px,#0004ff 85px,#000aff 86px,#00d7ff 92px,#00f5ff 93px,#12ffed 94px,#00f5ff 95px,#0051ff 100px,#000aff 102px,#0000e4 103px,#0000e6 104px,#000bff 105px,#00ddff 111px,#00fbff 112px,#19ffe6 113px,#00fbff 114px,#0055ff 119px,#000bff 121px,#0006ff 122px,#00f8ff 128px,#3dffc2 130px,#3dffc2 131px,#00f8ff 133px,#0006ff 139px,#0000d9 140px,#0000f5 141px,#00a5ff 146px,#00fcff 149px,#00fcff 150px,#0060ff 155px,#0000f5 158px,#0000d2 159px,#0000f8 160px,#00ecff 167px,#0afff5 168px,#0afff5 169px,#00afff 172px,#0000f8 177px,#000dff 178px,#00f3ff 184px,#30ffcf 185px,#49ffb6 186px,#0efff1 187px,#00c4ff 189px,#0058ff 192px,#0041ff 193px,#00cbff 198px,#00d5ff 199px,#002fff 205px,#0010ff 206px,#00f8ff 213px,#16ffe9 214px,#00feff 215px,#0058ff 220px,#0034ff 221px,#0022ff 222px,#00cbff 228px,#00d5ff 229px,#002fff 235px,#0000f0 237px,#0000f5 238px,#0098ff 243px,#00e8ff 246px,#00c4ff 248px,#000aff 254px,#0000d5 256px,#0000fa 257px,#00e9ff 264px,#07fff8 265px,#01fffe 266px,#0060ff 271px,#0018ff 273px,#0000f3 274px,#0000f9 275px,#00dcff 283px,#0038ff 289px,#0000f9 291px,#0000e8 292px,#000aff 293px,#00c4ff 299px,#00e8ff 301px,#0059ff 306px,#0000f5 309px,#0000d4 310px,#0008ff 312px,#00beff 318px,#00e2ff 320px,#0035ff 326px,#0000f4 328px,#0000e1 329px,#0000fe 330px,#00bfff 337px,#00c8ff 338px,#0029ff 344px,#000bff 345px,#0000d2 347px,#000eff 349px,#00b3ff 355px,#00caff 356px,#008cff 359px,#0000fb 364px,#0000de 365px,#0009ff 367px,#00a7ff 373px,#00bdff 374px,#0069ff 378px,#0000f7 382px,#0000db 383px,#0004ff 385px,#002dff 387px)"></div>
<div style="position:absolute;left:48.3px;top:345.30px;width:387.0px;height:1.30px;background:linear-gradient(90deg,#0092ff 0px,#00faff 3px,#38ffc7 5px,#00faff 7px,#0001ff 14px,#00e5ff 21px,#02fffd 22px,#02fffd 23px,#0068ff 28px,#0001ff 31px,#00e5ff 37px,#06fff9 38px,#46ffb9 40px,#06fff9 42px,#009aff 45px,#0000fb 49px,#0000f4 50px,#0061ff 53px,#00e8ff 57px,#07fff8 58px,#24ffdb 59px,#07fff8 60px,#00aaff 63px,#0019ff 67px,#0014ff 68px,#01fffe 74px,#43ffbc 76px,#43ffbc 77px,#01fffe 79px,#0014ff 85px,#0016ff 86px,#00e3ff 92px,#01fffe 93px,#1dffe2 94px,#01fffe 95px,#005eff 100px,#0016ff 102px,#0000f2 103px,#0000f4 104px,#0061ff 107px,#00e8ff 111px,#07fff8 112px,#24ffdb 113px,#07fff8 114px,#00aaff 117px,#0019ff 121px,#0015ff 122px,#00e2ff 127px,#07fff8 128px,#4affb5 130px,#4affb5 131px,#07fff8 133px,#0091ff 136px,#0015ff 139px,#0000eb 140px,#0003ff 141px,#00ebff 148px,#08fff7 149px,#08fff7 150px,#00b1ff 153px,#0003ff 158px,#0000e1 159px,#0007ff 160px,#00daff 166px,#00f7ff 167px,#15ffea 168px,#15ffea 169px,#00f7ff 170px,#002aff 176px,#0007ff 177px,#001bff 178px,#08fff7 184px,#49ffb6 185px,#61ff9e 186px,#20ffdf 187px,#00f1ff 188px,#0064ff 192px,#004cff 193px,#00d4ff 198px,#00deff 199px,#0039ff 205px,#001aff 206px,#00e6ff 212px,#04fffb 213px,#21ffde 214px,#0afff5 215px,#00adff 218px,#0040ff 221px,#002dff 222px,#00d4ff 228px,#00deff 229px,#0039ff 235px,#0000fb 237px,#0002ff 238px,#00d8ff 245px,#00f2ff 246px,#00ceff 248px,#0015ff 254px,#0000f5 255px,#0000e4 256px,#0009ff 257px,#00d7ff 263px,#00f4ff 264px,#12ffed 265px,#0cfff3 266px,#00d1ff 268px,#0002ff 274px,#0005ff 275px,#00b4ff 281px,#00e5ff 283px,#0042ff 289px,#0005ff 291px,#0000f5 292px,#0056ff 295px,#00e8ff 300px,#00f2ff 301px,#0064ff 306px,#0002ff 309px,#0000e1 310px,#0000f3 311px,#0033ff 313px,#00e1ff 319px,#00ebff 320px,#0060ff 325px,#0000ff 328px,#0000ec 329px,#000aff 330px,#00b0ff 336px,#00d1ff 338px,#0033ff 344px,#0000f8 346px,#0000dd 347px,#0000fa 348px,#00d3ff 356px,#007cff 360px,#0007ff 364px,#0000e9 365px,#0000f6 366px,#00c6ff 374px,#0072ff 378px,#0002ff 382px,#0000e6 383px,#000eff 385px,#0036ff 387px)"></div>
<div style="position:absolute;left:48.3px;top:346.30px;width:387.0px;height:1.30px;background:linear-gradient(90deg,#009fff 0px,#07fff8 3px,#43ffbc 5px,#07fff8 7px,#009fff 10px,#000eff 14px,#00f0ff 21px,#0cfff3 23px,#00d4ff 25px,#000eff 31px,#00f1ff 37px,#32ffcd 39px,#51ffae 40px,#13ffec 42px,#00f1ff 43px,#000bff 49px,#0003ff 50px,#00f4ff 57px,#2effd1 59px,#00f4ff 61px,#0025ff 67px,#0022ff 68px,#00ebff 73px,#0efff1 74px,#4fffb0 76px,#4fffb0 77px,#0efff1 79px,#00ebff 80px,#0022ff 85px,#0023ff 86px,#00eeff 92px,#0bfff4 93px,#27ffd8 94px,#0bfff4 95px,#00d1ff 97px,#0001ff 103px,#0003ff 104px,#00f4ff 111px,#2effd1 113px,#00f4ff 115px,#0025ff 121px,#0024ff 122px,#00f0ff 127px,#35ffca 129px,#56ffa9 130px,#56ffa9 131px,#14ffeb 133px,#00f0ff 134px,#0000fb 140px,#0010ff 141px,#00f6ff 148px,#13ffec 149px,#13ffec 150px,#00f6ff 151px,#0010ff 158px,#0000f0 159px,#0037ff 161px,#00e5ff 166px,#03fffc 167px,#20ffdf 168px,#20ffdf 169px,#03fffc 170px,#007fff 174px,#0014ff 177px,#0028ff 178px,#00e3ff 183px,#1effe1 184px,#64ff9b 185px,#7bff84 186px,#34ffcb 187px,#00ffff 188px,#0056ff 193px,#00deff 198px,#00e7ff 199px,#0043ff 205px,#0025ff 206px,#00f1ff 212px,#2cffd3 214px,#00f7ff 216px,#004cff 221px,#0037ff 222px,#00deff 228px,#00e7ff 229px,#0043ff 235px,#0007ff 237px,#000eff 238px,#00e2ff 245px,#00fcff 246px,#00d8ff 248px,#0001ff 255px,#0000f2 256px,#0038ff 258px,#00ffff 264px,#1cffe3 265px,#17ffe8 266px,#00f9ff 267px,#000fff 274px,#0010ff 275px,#00beff 281px,#00efff 283px,#004dff 289px,#0010ff 291px,#0001ff 292px,#00d8ff 299px,#00fcff 301px,#006eff 306px,#000eff 309px,#0000ee 310px,#0000ff 311px,#00d2ff 318px,#00f5ff 320px,#006aff 325px,#000cff 328px,#0000f7 329px,#00d1ff 337px,#00daff 338px,#003cff 344px,#0003ff 346px,#0000e9 347px,#0006ff 348px,#00c5ff 355px,#00dcff 356px,#0085ff 360px,#0011ff 364px,#0000f4 365px,#0001ff 366px,#00b8ff 373px,#00ceff 374px,#007bff 378px,#000cff 382px,#0000f0 383px,#0000fc 384px,#003fff 387px)"></div>
<div style="position:absolute;left:48.3px;top:347.30px;width:387.0px;height:1.30px;background:linear-gradient(90deg,#00abff 0px,#00f3ff 2px,#31ffce 4px,#4fffb0 5px,#13ffec 7px,#00f3ff 8px,#001aff 14px,#00faff 21px,#16ffe9 22px,#16ffe9 23px,#00faff 24px,#001aff 31px,#00feff 37px,#5dffa2 40px,#00feff 43px,#001aff 49px,#0010ff 50px,#00ffff 57px,#39ffc6 59px,#00ffff 61px,#0032ff 67px,#0031ff 68px,#00f8ff 73px,#5cffa3 76px,#5cffa3 77px,#00f8ff 80px,#0031ff 85px,#002fff 86px,#00f9ff 92px,#32ffcd 94px,#00f9ff 96px,#000eff 103px,#0010ff 104px,#00ffff 111px,#39ffc6 113px,#00ffff 115px,#0032ff 121px,#0033ff 122px,#00fdff 127px,#63ff9c 130px,#63ff9c 131px,#00fdff 134px,#000cff 140px,#001cff 141px,#00e5ff 147px,#02fffd 148px,#1dffe2 149px,#1dffe2 150px,#02fffd 151px,#0060ff 156px,#0000fe 159px,#00f0ff 166px,#2bffd4 168px,#2bffd4 169px,#00f0ff 171px,#0021ff 177px,#0058ff 179px,#00f3ff 183px,#36ffc9 184px,#7fff80 185px,#96ff69 186px,#4affb5 187px,#0ffff0 188px,#00c6ff 190px,#0060ff 193px,#00e7ff 198px,#00f1ff 199px,#004dff 205px,#002fff 206px,#00fcff 212px,#37ffc8 214px,#03fffc 216px,#007dff 220px,#0041ff 222px,#00e7ff 228px,#00f1ff 229px,#004dff 235px,#0012ff 237px,#0019ff 238px,#00ecff 245px,#07fff8 246px,#00fcff 247px,#006cff 252px,#000dff 255px,#0000ff 256px,#00edff 263px,#0bfff4 264px,#27ffd8 265px,#21ffde 266px,#05fffa 267px,#00a7ff 270px,#001bff 274px,#001bff 275px,#00c8ff 281px,#00f8ff 283px,#0057ff 289px,#001bff 291px,#000dff 292px,#00e2ff 299px,#00fcff 300px,#07fff8 301px,#0099ff 305px,#0000fa 310px,#000bff 311px,#00dcff 318px,#00ffff 320px,#0075ff 325px,#0017ff 328px,#0002ff 329px,#00c2ff 336px,#00e3ff 338px,#0046ff 344px,#000dff 346px,#0000f4 347px,#002cff 349px,#00ceff 355px,#00e5ff 356px,#008fff 360px,#0000ff 365px,#0026ff 367px,#00c1ff 373px,#00d7ff 374px,#0084ff 378px,#0000fa 383px,#0006ff 384px,#003aff 386px,#0048ff 387px)"></div>
<div style="position:absolute;left:48.3px;top:348.30px;width:387.0px;height:1.30px;background:linear-gradient(90deg,#00b7ff 0px,#00ffff 2px,#5affa5 5px,#00ffff 8px,#0026ff 14px,#00e9ff 20px,#06fff9 21px,#21ffde 22px,#21ffde 23px,#06fff9 24px,#00acff 27px,#0028ff 31px,#00e7ff 36px,#0bfff4 37px,#69ff96 40px,#0bfff4 43px,#00c1ff 45px,#0028ff 49px,#001dff 50px,#00edff 56px,#0bfff4 57px,#44ffbb 59px,#0bfff4 61px,#00cdff 63px,#003eff 67px,#003fff 68px,#06fff9 73px,#68ff97 76px,#68ff97 77px,#06fff9 80px,#003fff 85px,#003bff 86px,#00e7ff 91px,#05fffa 92px,#3dffc2 94px,#05fffa 96px,#0081ff 100px,#001bff 103px,#001dff 104px,#00edff 110px,#0bfff4 111px,#44ffbb 113px,#0bfff4 115px,#00cdff 117px,#003eff 121px,#0041ff 122px,#00e3ff 126px,#0bfff4 127px,#6fff90 130px,#6fff90 131px,#0bfff4 134px,#00baff 136px,#001bff 140px,#0028ff 141px,#00efff 147px,#28ffd7 149px,#28ffd7 150px,#00efff 152px,#000cff 159px,#00fcff 166px,#36ffc9 168px,#36ffc9 169px,#00fcff 171px,#002dff 177px,#0064ff 179px,#06fff9 183px,#9cff63 185px,#b2ff4d 186px,#1fffe0 188px,#00f5ff 189px,#006aff 193px,#00f0ff 198px,#00faff 199px,#0076ff 204px,#003bff 206px,#00eaff 211px,#08fff7 212px,#41ffbe 214px,#0efff1 216px,#00f0ff 217px,#004bff 222px,#00d8ff 227px,#00faff 229px,#0076ff 234px,#001dff 237px,#0024ff 238px,#00f6ff 245px,#10ffef 246px,#06fff9 247px,#0097ff 251px,#0018ff 255px,#000dff 256px,#00f8ff 263px,#32ffcd 265px,#2cffd3 266px,#00f3ff 268px,#0028ff 274px,#0025ff 275px,#00d1ff 281px,#02fffd 283px,#007fff 288px,#0025ff 291px,#0018ff 292px,#00ecff 299px,#06fff9 300px,#10ffef 301px,#00f6ff 302px,#0007ff 310px,#0034ff 312px,#00e5ff 318px,#00feff 319px,#09fff6 320px,#00bcff 323px,#0022ff 328px,#000dff 329px,#00cbff 336px,#00ebff 338px,#0050ff 344px,#0000fe 347px,#00d7ff 355px,#00eeff 356px,#0098ff 360px,#000aff 365px,#002fff 367px,#00c9ff 373px,#00dfff 374px,#008dff 378px,#0005ff 383px,#0029ff 385px,#0050ff 387px)"></div>
<div style="position:absolute;left:48.3px;top:349.30px;width:387.0px;height:1.30px;background:linear-gradient(90deg,#00c4ff 0px,#0cfff3 2px,#65ff9a 5px,#0cfff3 8px,#00c4ff 10px,#0031ff 14px,#00f4ff 20px,#2bffd4 22px,#2bffd4 23px,#00f4ff 25px,#0035ff 31px,#00f4ff 36px,#56ffa9 39px,#75ff8a 40px,#18ffe7 43px,#00f4ff 44px,#0035ff 49px,#0029ff 50px,#00f8ff 56px,#4fffb0 59px,#00f8ff 62px,#004aff 67px,#004dff 68px,#00ebff 72px,#12ffed 73px,#74ff8b 76px,#74ff8b 77px,#12ffed 80px,#00ebff 81px,#004dff 85px,#0047ff 86px,#00f2ff 91px,#2cffd3 93px,#47ffb8 94px,#10ffef 96px,#00f2ff 97px,#0027ff 103px,#0029ff 104px,#00f8ff 110px,#4fffb0 113px,#00f8ff 116px,#004aff 121px,#004fff 122px,#00f0ff 126px,#3affc5 128px,#7bff84 130px,#7bff84 131px,#18ffe7 134px,#00f0ff 135px,#002aff 140px,#0034ff 141px,#00faff 147px,#32ffcd 149px,#32ffcd 150px,#00faff 152px,#0019ff 159px,#00e9ff 165px,#08fff7 166px,#41ffbe 168px,#41ffbe 169px,#08fff7 171px,#00c7ff 173px,#003aff 177px,#0070ff 179px,#00e3ff 182px,#19ffe6 183px,#b9ff46 185px,#ceff31 186px,#30ffcf 188px,#03fffc 189px,#0074ff 193px,#00f9ff 198px,#04fffb 199px,#0080ff 204px,#0047ff 206px,#00f5ff 211px,#4cffb3 214px,#00fbff 217px,#0055ff 222px,#00e2ff 227px,#00f9ff 228px,#04fffb 229px,#0080ff 234px,#0027ff 237px,#002fff 238px,#00e6ff 244px,#01fffe 245px,#1affe5 246px,#00f6ff 248px,#0023ff 255px,#001aff 256px,#00e6ff 262px,#04fffb 263px,#3cffc3 265px,#37ffc8 266px,#00feff 268px,#0034ff 274px,#002fff 275px,#00daff 281px,#0bfff4 283px,#00c2ff 286px,#002fff 291px,#0023ff 292px,#00f6ff 299px,#1affe5 301px,#01fffe 302px,#006dff 307px,#0012ff 310px,#003eff 312px,#00efff 318px,#09fff6 319px,#13ffec 320px,#00f9ff 321px,#0016ff 329px,#00d4ff 336px,#00f4ff 338px,#0059ff 344px,#0009ff 347px,#00e0ff 355px,#00f6ff 356px,#00a1ff 360px,#0014ff 365px,#001eff 366px,#00d2ff 373px,#00e7ff 374px,#0096ff 378px,#000fff 383px,#0031ff 385px,#0059ff 387px)"></div>
<div style="position:absolute;left:48.3px;top:350.30px;width:387.0px;height:1.30px;background:linear-gradient(90deg,#00d0ff 0px,#00f5ff 1px,#71ff8e 5px,#00f5ff 9px,#003eff 14px,#00ffff 20px,#35ffca 22px,#35ffca 23px,#00ffff 25px,#0043ff 31px,#01fffe 36px,#80ff7f 40px,#01fffe 44px,#0043ff 49px,#0036ff 50px,#05fffa 56px,#59ffa6 59px,#05fffa 62px,#0056ff 67px,#005aff 68px,#00f8ff 72px,#80ff7f 76px,#80ff7f 77px,#00f8ff 81px,#005aff 85px,#0053ff 86px,#00fdff 91px,#52ffad 94px,#00fdff 97px,#0033ff 103px,#0036ff 104px,#05fffa 110px,#59ffa6 113px,#05fffa 116px,#0056ff 121px,#005dff 122px,#00fdff 126px,#88ff77 130px,#88ff77 131px,#00fdff 135px,#0038ff 140px,#0040ff 141px,#00e8ff 146px,#06fff9 147px,#3dffc2 149px,#3dffc2 150px,#06fff9 152px,#00a5ff 155px,#0026ff 159px,#00f4ff 165px,#4cffb3 168px,#4cffb3 169px,#00f4ff 172px,#0046ff 177px,#007cff 179px,#00f2ff 182px,#2effd1 183px,#d6ff29 185px,#ebff14 186px,#44ffbb 188px,#11ffee 189px,#00eaff 190px,#007dff 193px,#03fffc 198px,#0dfff2 199px,#00dcff 201px,#0053ff 206px,#02fffd 211px,#57ffa8 214px,#07fff8 217px,#00a0ff 220px,#005fff 222px,#00ebff 227px,#03fffc 228px,#0dfff2 229px,#00dcff 231px,#0031ff 237px,#003aff 238px,#00f0ff 244px,#24ffdb 246px,#00ffff 248px,#002eff 255px,#0026ff 256px,#00f1ff 262px,#2bffd4 264px,#47ffb8 265px,#41ffbe 266px,#0afff5 268px,#00c9ff 270px,#003fff 274px,#0039ff 275px,#00e4ff 281px,#00fbff 282px,#14ffeb 283px,#00fbff 284px,#0056ff 290px,#0039ff 291px,#002eff 292px,#00ffff 299px,#24ffdb 301px,#00f0ff 303px,#001dff 310px,#0048ff 312px,#00f9ff 318px,#1cffe3 320px,#03fffc 321px,#0093ff 325px,#0020ff 329px,#00ddff 336px,#00fdff 338px,#0080ff 343px,#0013ff 347px,#00e8ff 355px,#00ffff 356px,#00abff 360px,#001eff 365px,#0027ff 366px,#00daff 373px,#00f0ff 374px,#009fff 378px,#0018ff 383px,#0021ff 384px,#0054ff 386px,#0061ff 387px)"></div>
<div style="position:absolute;left:48.3px;top:351.30px;width:387.0px;height:1.30px;background:linear-gradient(90deg,#00dcff 0px,#02fffd 1px,#7cff83 5px,#02fffd 9px,#004aff 14px,#00edff 19px,#0afff5 20px,#3fffc0 22px,#3fffc0 23px,#0afff5 25px,#00cdff 27px,#0050ff 31px,#00e6ff 35px,#0efff1 36px,#8cff73 40px,#0efff1 44px,#00bfff 46px,#0050ff 49px,#0042ff 50px,#00efff 55px,#2cffd3 57px,#64ff9b 59px,#10ffef 62px,#00efff 63px,#0062ff 67px,#0067ff 68px,#06fff9 72px,#8cff73 76px,#8cff73 77px,#06fff9 81px,#0067ff 85px,#005eff 86px,#00e9ff 90px,#09fff6 91px,#5cffa3 94px,#09fff6 97px,#00c6ff 99px,#003fff 103px,#0042ff 104px,#00efff 109px,#2cffd3 111px,#64ff9b 113px,#10ffef 116px,#00efff 117px,#0062ff 121px,#006aff 122px,#00e1ff 125px,#0bfff4 126px,#94ff6b 130px,#94ff6b 131px,#0bfff4 135px,#0090ff 138px,#0047ff 140px,#004bff 141px,#00f3ff 146px,#47ffb8 149px,#47ffb8 150px,#00f3ff 153px,#0032ff 159px,#01fffe 165px,#56ffa9 168px,#56ffa9 169px,#01fffe 172px,#0051ff 177px,#0088ff 179px,#02fffd 182px,#44ffbb 183px,#f4ff0b 185px,#fff500 186px,#58ffa7 188px,#1fffe0 189px,#00f6ff 190px,#0088ff 193px,#00f4ff 197px,#16ffe9 199px,#00fdff 200px,#005eff 206px,#00ecff 210px,#0dfff2 211px,#61ff9e 214px,#13ffec 217px,#00f2ff 218px,#0068ff 222px,#00f4ff 227px,#16ffe9 229px,#00fdff 230px,#003bff 237px,#0044ff 238px,#00faff 244px,#2dffd2 246px,#0afff5 248px,#00d5ff 250px,#0039ff 255px,#0032ff 256px,#00fcff 262px,#51ffae 265px,#4cffb3 266px,#00f6ff 269px,#004bff 274px,#0043ff 275px,#00edff 281px,#05fffa 282px,#1dffe2 283px,#05fffa 284px,#009cff 288px,#0043ff 291px,#0039ff 292px,#00f0ff 298px,#23ffdc 300px,#2dffd2 301px,#00faff 303px,#0028ff 310px,#0052ff 312px,#00e9ff 317px,#03fffc 318px,#25ffda 320px,#00f3ff 322px,#002aff 329px,#00e6ff 336px,#00fcff 337px,#06fff9 338px,#00a6ff 342px,#001dff 347px,#00f1ff 355px,#08fff7 356px,#00faff 357px,#007aff 362px,#0027ff 365px,#0030ff 366px,#00e2ff 373px,#00f8ff 374px,#00a8ff 378px,#0021ff 383px,#002aff 384px,#005cff 386px,#006aff 387px)"></div>
<div style="position:absolute;left:48.3px;top:352.30px;width:387.0px;height:1.30px;background:linear-gradient(90deg,#00e7ff 0px,#0efff1 1px,#87ff78 5px,#0efff1 9px,#00c1ff 11px,#0057ff 14px,#00f8ff 19px,#49ffb6 22px,#49ffb6 23px,#00f8ff 26px,#0072ff 30px,#005dff 31px,#00f2ff 35px,#3cffc3 37px,#97ff68 40px,#1affe5 44px,#00f2ff 45px,#005dff 49px,#004dff 50px,#00faff 55px,#6eff91 59px,#00faff 63px,#006dff 67px,#0074ff 68px,#00e9ff 71px,#12ffed 72px,#98ff67 76px,#98ff67 77px,#12ffed 81px,#00e9ff 82px,#0074ff 85px,#0069ff 86px,#00f4ff 90px,#4bffb4 93px,#66ff99 94px,#14ffeb 97px,#00f4ff 98px,#004aff 103px,#004dff 104px,#00faff 109px,#6eff91 113px,#00faff 117px,#006dff 121px,#0078ff 122px,#00eeff 125px,#18ffe7 126px,#a0ff5f 130px,#a0ff5f 131px,#18ffe7 135px,#00eeff 136px,#0054ff 140px,#0056ff 141px,#00feff 146px,#51ffae 149px,#51ffae 150px,#00feff 153px,#0056ff 158px,#003eff 159px,#00e9ff 164px,#0cfff3 165px,#61ff9e 168px,#61ff9e 169px,#0cfff3 172px,#00c5ff 174px,#005dff 177px,#0093ff 179px,#00e0ff 181px,#13ffec 182px,#5cffa3 183px,#bdff42 184px,#ffec00 185px,#ffd700 186px,#cbff34 187px,#6eff91 188px,#2fffd0 189px,#04fffb 190px,#0093ff 193px,#00fdff 197px,#1fffe0 199px,#07fff8 200px,#00bbff 203px,#006aff 206px,#00f7ff 210px,#6cff93 214px,#00feff 218px,#0072ff 222px,#00fdff 227px,#1fffe0 229px,#07fff8 230px,#00bbff 233px,#0044ff 237px,#004fff 238px,#00eaff 243px,#05fffa 244px,#36ffc9 246px,#14ffeb 248px,#00faff 249px,#0043ff 255px,#003eff 256px,#08fff7 262px,#5cffa3 265px,#56ffa9 266px,#02fffd 269px,#0057ff 274px,#004dff 275px,#00f6ff 281px,#25ffda 283px,#00f6ff 285px,#004dff 291px,#0043ff 292px,#00faff 298px,#2dffd2 300px,#36ffc9 301px,#05fffa 303px,#008cff 307px,#0033ff 310px,#005cff 312px,#00f3ff 317px,#25ffda 319px,#2fffd0 320px,#00fdff 322px,#0033ff 329px,#00eeff 336px,#06fff9 337px,#0ffff0 338px,#00e1ff 340px,#0027ff 347px,#00faff 355px,#11ffee 356px,#04fffb 357px,#0083ff 362px,#0031ff 365px,#0039ff 366px,#00ebff 373px,#01fffe 374px,#00b0ff 378px,#002aff 383px,#0032ff 384px,#0072ff 387px)"></div>
<div style="position:absolute;left:48.3px;top:353.30px;width:387.0px;height:1.30px;background:linear-gradient(90deg,#00f3ff 0px,#58ffa7 3px,#92ff6d 5px,#19ffe6 9px,#00f3ff 10px,#0063ff 14px,#03fffc 19px,#53ffac 22px,#53ffac 23px,#03fffc 26px,#007dff 30px,#0069ff 31px,#00feff 35px,#a2ff5d 40px,#00feff 45px,#0069ff 49px,#0059ff 50px,#06fff9 55px,#79ff86 59px,#06fff9 63px,#0078ff 67px,#0081ff 68px,#00f5ff 71px,#a4ff5b 76px,#a4ff5b 77px,#00f5ff 82px,#0081ff 85px,#0074ff 86px,#00ffff 90px,#71ff8e 94px,#00ffff 98px,#0056ff 103px,#0059ff 104px,#06fff9 109px,#79ff86 113px,#06fff9 117px,#0078ff 121px,#0085ff 122px,#00fbff 125px,#acff53 130px,#acff53 131px,#00fbff 136px,#0062ff 140px,#0061ff 141px,#00e8ff 145px,#0afff5 146px,#5bffa4 149px,#5bffa4 150px,#0afff5 153px,#00c5ff 155px,#004aff 159px,#00f4ff 164px,#50ffaf 167px,#6bff94 168px,#6bff94 169px,#17ffe8 172px,#00f4ff 173px,#0068ff 177px,#009fff 179px,#00eeff 181px,#25ffda 182px,#74ff8b 183px,#dbff24 184px,#ffcd00 185px,#ffb900 186px,#e7ff18 187px,#85ff7a 188px,#3fffc0 189px,#11ffee 190px,#00e8ff 191px,#009eff 193px,#07fff8 197px,#27ffd8 199px,#00f8ff 201px,#0075ff 206px,#03fffc 210px,#76ff89 214px,#0afff5 218px,#007cff 222px,#00eeff 226px,#07fff8 227px,#27ffd8 229px,#00f8ff 231px,#004eff 237px,#0059ff 238px,#00f4ff 243px,#40ffbf 246px,#1dffe2 248px,#04fffb 249px,#004eff 255px,#004aff 256px,#00f2ff 261px,#30ffcf 263px,#66ff99 265px,#61ff9e 266px,#0dfff2 269px,#00c7ff 271px,#0062ff 274px,#0056ff 275px,#00ffff 281px,#2effd1 283px,#00ffff 285px,#0056ff 291px,#004eff 292px,#04fffb 298px,#36ffc9 300px,#40ffbf 301px,#00f4ff 304px,#003dff 310px,#0066ff 312px,#00fcff 317px,#2effd1 319px,#38ffc7 320px,#07fff8 322px,#00d0ff 324px,#003dff 329px,#00f7ff 336px,#17ffe8 338px,#01fffe 339px,#007eff 344px,#0030ff 347px,#00ecff 354px,#03fffc 355px,#19ffe6 356px,#00f5ff 358px,#003aff 365px,#0042ff 366px,#00f3ff 373px,#09fff6 374px,#00fbff 375px,#0082ff 380px,#0033ff 383px,#003aff 384px,#007aff 387px)"></div>
<div style="position:absolute;left:48.3px;top:354.30px;width:387.0px;height:1.30px;background:linear-gradient(90deg,#00ffff 0px,#9dff62 5px,#00ffff 10px,#006fff 14px,#00edff 18px,#0dfff2 19px,#5dffa2 22px,#5dffa2 23px,#0dfff2 26px,#00caff 28px,#0087ff 30px,#0076ff 31px,#00e3ff 34px,#0cfff3 35px,#aeff51 40px,#0cfff3 45px,#0097ff 48px,#0076ff 49px,#0065ff 50px,#00edff 54px,#11ffee 55px,#83ff7c 59px,#11ffee 63px,#00edff 64px,#0083ff 67px,#008eff 68px,#03fffc 71px,#91ff6e 75px,#b0ff4f 76px,#b0ff4f 77px,#2bffd4 81px,#03fffc 82px,#008eff 85px,#007fff 86px,#00e7ff 89px,#0bfff4 90px,#7bff84 94px,#0bfff4 98px,#00a0ff 101px,#0061ff 103px,#0065ff 104px,#00edff 108px,#11ffee 109px,#83ff7c 113px,#11ffee 117px,#00edff 118px,#0083ff 121px,#0091ff 122px,#08fff7 125px,#99ff66 129px,#b8ff47 130px,#b8ff47 131px,#32ffcd 135px,#08fff7 136px,#006fff 140px,#006cff 141px,#00f3ff 145px,#30ffcf 147px,#65ff9a 149px,#65ff9a 150px,#14ffeb 153px,#00f3ff 154px,#006cff 158px,#0056ff 159px,#00ffff 164px,#76ff89 168px,#76ff89 169px,#00ffff 173px,#0074ff 177px,#00aaff 179px,#00fcff 181px,#38ffc7 182px,#8eff71 183px,#f8ff07 184px,#ffaf00 185px,#ff9b00 186px,#fffa00 187px,#9dff62 188px,#51ffae 189px,#1effe1 190px,#00f4ff 191px,#00aaff 193px,#00f8ff 196px,#30ffcf 199px,#02fffd 201px,#0091ff 205px,#0080ff 206px,#00eaff 209px,#0efff1 210px,#81ff7e 214px,#15ffea 218px,#00f1ff 219px,#0087ff 222px,#00f8ff 226px,#30ffcf 229px,#02fffd 231px,#0057ff 237px,#0063ff 238px,#00feff 243px,#49ffb6 246px,#27ffd8 248px,#00f2ff 250px,#0058ff 255px,#0055ff 256px,#00fcff 261px,#70ff8f 265px,#6bff94 266px,#00f5ff 270px,#006dff 274px,#005fff 275px,#00f0ff 280px,#20ffdf 282px,#37ffc8 283px,#09fff6 285px,#00d6ff 287px,#005fff 291px,#0058ff 292px,#00f2ff 297px,#27ffd8 299px,#49ffb6 301px,#00feff 304px,#0048ff 310px,#0070ff 312px,#00ecff 316px,#07fff8 317px,#37ffc8 319px,#41ffbe 320px,#00f7ff 323px,#0046ff 329px,#01fffe 336px,#20ffdf 338px,#00f2ff 340px,#003aff 347px,#00f4ff 354px,#22ffdd 356px,#00fdff 358px,#0043ff 365px,#004aff 366px,#00fbff 373px,#11ffee 374px,#04fffb 375px,#00a7ff 379px,#003cff 383px,#0043ff 384px,#0082ff 387px)"></div>
<div style="position:absolute;left:48.3px;top:355.30px;width:387.0px;height:1.30px;background:linear-gradient(90deg,#0bfff4 0px,#a8ff57 5px,#0bfff4 10px,#009bff 13px,#007bff 14px,#00d5ff 17px,#00f7ff 18px,#67ff98 22px,#67ff98 23px,#00f7ff 27px,#0091ff 30px,#0082ff 31px,#00efff 34px,#17ffe8 35px,#b9ff46 40px,#17ffe8 45px,#00efff 46px,#0082ff 49px,#0070ff 50px,#00f8ff 54px,#8eff71 59px,#00f8ff 64px,#008eff 67px,#009aff 68px,#00e5ff 70px,#0ffff0 71px,#9dff62 75px,#bbff44 76px,#bbff44 77px,#38ffc7 81px,#0ffff0 82px,#00beff 84px,#009aff 85px,#008aff 86px,#00f2ff 89px,#34ffcb 91px,#85ff7a 94px,#16ffe9 98px,#00f2ff 99px,#006cff 103px,#0070ff 104px,#00f8ff 108px,#8eff71 113px,#00f8ff 118px,#008eff 121px,#009eff 122px,#00eaff 124px,#15ffea 125px,#a5ff5a 129px,#c4ff3b 130px,#c4ff3b 131px,#3effc1 135px,#15ffea 136px,#00eaff 137px,#007cff 140px,#0077ff 141px,#00fdff 145px,#6fff90 149px,#6fff90 150px,#00fdff 154px,#0077ff 158px,#0061ff 159px,#00e6ff 163px,#0bfff4 164px,#80ff7f 168px,#80ff7f 169px,#0bfff4 173px,#009fff 176px,#007fff 177px,#00b5ff 179px,#0bfff4 181px,#4cffb3 182px,#a8ff57 183px,#ffe800 184px,#ff9200 185px,#ff7e00 186px,#ffdd00 187px,#b6ff49 188px,#64ff9b 189px,#01fffe 191px,#00b5ff 193px,#02fffd 196px,#30ffcf 198px,#39ffc6 199px,#0bfff4 201px,#00d7ff 203px,#009aff 205px,#008bff 206px,#00f5ff 209px,#70ff8f 213px,#8bff74 214px,#00fcff 219px,#0092ff 222px,#02fffd 226px,#30ffcf 228px,#39ffc6 229px,#0bfff4 231px,#00d7ff 233px,#0061ff 237px,#006dff 238px,#00eaff 242px,#08fff7 243px,#53ffac 246px,#30ffcf 248px,#00fcff 250px,#0062ff 255px,#0061ff 256px,#08fff7 261px,#7aff85 265px,#75ff8a 266px,#01fffe 270px,#0078ff 274px,#0069ff 275px,#00faff 280px,#40ffbf 283px,#00faff 286px,#0069ff 291px,#0062ff 292px,#00fcff 297px,#49ffb6 300px,#53ffac 301px,#08fff7 304px,#00a9ff 307px,#0052ff 310px,#007aff 312px,#00f5ff 316px,#41ffbe 319px,#4affb5 320px,#01fffe 323px,#004fff 329px,#00f2ff 335px,#1fffe0 337px,#28ffd7 338px,#00fbff 340px,#0043ff 347px,#00fdff 354px,#2affd5 356px,#07fff8 358px,#00bbff 361px,#004cff 365px,#0053ff 366px,#00eeff 372px,#04fffb 373px,#19ffe6 374px,#00f6ff 376px,#0045ff 383px,#004bff 384px,#008bff 387px)"></div>
<div style="position:absolute;left:48.3px;top:356.30px;width:387.0px;height:1.30px;background:linear-gradient(90deg,#17ffe8 0px,#b2ff4d 5px,#17ffe8 10px,#00efff 11px,#0087ff 14px,#00bdff 16px,#02fffd 18px,#71ff8e 22px,#71ff8e 23px,#02fffd 27px,#009cff 30px,#008eff 31px,#00fbff 34px,#a7ff58 39px,#c4ff3b 40px,#23ffdc 45px,#00fbff 46px,#008eff 49px,#007bff 50px,#04fffb 54px,#98ff67 59px,#04fffb 64px,#0099ff 67px,#00a7ff 68px,#00f1ff 70px,#44ffbb 72px,#c7ff38 76px,#c7ff38 77px,#44ffbb 81px,#00f1ff 83px,#00a7ff 85px,#0095ff 86px,#00fdff 89px,#8fff70 94px,#00fdff 99px,#0077ff 103px,#007bff 104px,#04fffb 108px,#98ff67 113px,#04fffb 118px,#0099ff 121px,#00abff 122px,#00f7ff 124px,#b1ff4e 129px,#cfff30 130px,#cfff30 131px,#4affb5 135px,#00f7ff 137px,#0089ff 140px,#0082ff 141px,#09fff6 145px,#79ff86 149px,#79ff86 150px,#09fff6 154px,#0082ff 158px,#006cff 159px,#00f1ff 163px,#37ffc8 165px,#8bff74 168px,#8bff74 169px,#16ffe9 173px,#00f1ff 174px,#008aff 177px,#00c1ff 179px,#00e8ff 180px,#1bffe4 181px,#61ff9e 182px,#c3ff3c 183px,#ffcb00 184px,#ff7500 185px,#ff6100 186px,#ffc000 187px,#cfff30 188px,#78ff87 189px,#0dfff2 191px,#00c0ff 193px,#0bfff4 196px,#39ffc6 198px,#42ffbd 199px,#00fbff 202px,#00a3ff 205px,#0096ff 206px,#00ffff 209px,#95ff6a 214px,#2bffd4 218px,#08fff7 219px,#009dff 222px,#00f1ff 225px,#22ffdd 227px,#42ffbd 229px,#00fbff 232px,#006aff 237px,#0077ff 238px,#00f4ff 242px,#44ffbb 245px,#5cffa3 246px,#3affc5 248px,#07fff8 250px,#006cff 255px,#006cff 256px,#00eeff 260px,#13ffec 261px,#85ff7a 265px,#7fff80 266px,#0cfff3 270px,#00a2ff 273px,#0072ff 275px,#04fffb 280px,#48ffb7 283px,#04fffb 286px,#0072ff 291px,#006cff 292px,#07fff8 297px,#52ffad 300px,#5cffa3 301px,#12ffed 304px,#00f4ff 305px,#005cff 310px,#0083ff 312px,#00ffff 316px,#4affb5 319px,#53ffac 320px,#0bfff4 323px,#00ceff 325px,#0058ff 329px,#00faff 335px,#30ffcf 338px,#04fffb 340px,#0098ff 344px,#004cff 347px,#00efff 353px,#1dffe2 355px,#32ffcd 356px,#00f8ff 359px,#0055ff 365px,#005bff 366px,#00f6ff 372px,#21ffde 374px,#00ffff 376px,#004dff 383px,#0053ff 384px,#0093ff 387px)"></div>
<div style="position:absolute;left:48.3px;top:357.30px;width:387.0px;height:1.30px;background:linear-gradient(90deg,#22ffdd 0px,#bdff42 5px,#22ffdd 10px,#00fbff 11px,#0092ff 14px,#00c7ff 16px,#0cfff3 18px,#7bff84 22px,#7bff84 23px,#0cfff3 27px,#00c7ff 29px,#00a6ff 30px,#009aff 31px,#07fff8 34px,#95ff6a 38px,#cfff30 40px,#2fffd0 45px,#07fff8 46px,#009aff 49px,#0086ff 50px,#00e9ff 53px,#0ffff0 54px,#a2ff5d 59px,#0ffff0 64px,#00c5ff 66px,#00a4ff 67px,#00b3ff 68px,#00fdff 70px,#96ff69 74px,#d2ff2d 76px,#d2ff2d 77px,#50ffaf 81px,#00fdff 83px,#00b3ff 85px,#00a0ff 86px,#08fff7 89px,#99ff66 94px,#08fff7 99px,#0082ff 103px,#0086ff 104px,#00e9ff 107px,#0ffff0 108px,#a2ff5d 113px,#0ffff0 118px,#00c5ff 120px,#00a4ff 121px,#00b7ff 122px,#04fffb 124px,#9dff62 128px,#dbff24 130px,#dbff24 131px,#57ffa8 135px,#04fffb 137px,#0096ff 140px,#008cff 141px,#00efff 144px,#34ffcb 146px,#83ff7c 149px,#83ff7c 150px,#13ffec 154px,#00efff 155px,#008cff 158px,#0078ff 159px,#00fcff 163px,#95ff6a 168px,#95ff6a 169px,#00fcff 174px,#0095ff 177px,#00ccff 179px,#00f5ff 180px,#2bffd4 181px,#77ff88 182px,#deff21 183px,#ffae00 184px,#ff5800 185px,#ff4400 186px,#ffa300 187px,#e9ff16 188px,#8cff73 189px,#4bffb4 190px,#1affe5 191px,#00f0ff 192px,#00cbff 193px,#00faff 195px,#41ffbe 198px,#4affb5 199px,#05fffa 202px,#00acff 205px,#00a1ff 206px,#0bfff4 209px,#a0ff5f 214px,#35ffca 218px,#12ffed 219px,#00edff 220px,#00a7ff 222px,#00faff 225px,#41ffbe 228px,#4affb5 229px,#05fffa 232px,#0073ff 237px,#009dff 239px,#00feff 242px,#65ff9a 246px,#43ffbc 248px,#11ffee 250px,#00f1ff 251px,#0075ff 255px,#0077ff 256px,#00f9ff 260px,#8fff70 265px,#89ff76 266px,#17ffe8 270px,#00f2ff 271px,#008dff 274px,#007bff 275px,#00f2ff 279px,#24ffdb 281px,#51ffae 283px,#0dfff2 286px,#00f2ff 287px,#007bff 291px,#0075ff 292px,#00f1ff 296px,#2bffd4 298px,#5bffa4 300px,#65ff9a 301px,#00feff 305px,#0066ff 310px,#0071ff 311px,#09fff6 316px,#53ffac 319px,#5cffa3 320px,#00f7ff 324px,#0062ff 329px,#04fffb 335px,#30ffcf 337px,#39ffc6 338px,#00f5ff 341px,#0055ff 347px,#00f8ff 353px,#3bffc4 356px,#02fffd 359px,#005eff 365px,#0064ff 366px,#00feff 372px,#29ffd6 374px,#08fff7 376px,#00c0ff 379px,#0056ff 383px,#005bff 384px,#009aff 387px)"></div>
<div style="position:absolute;left:48.3px;top:358.30px;width:387.0px;height:1.30px;background:linear-gradient(90deg,#2dffd2 0px,#c8ff37 5px,#2dffd2 10px,#07fff8 11px,#009eff 14px,#00d1ff 16px,#00f3ff 17px,#51ffae 20px,#84ff7b 22px,#84ff7b 23px,#17ffe8 27px,#00f3ff 28px,#00b0ff 30px,#00a6ff 31px,#00ebff 33px,#13ffec 34px,#a0ff5f 38px,#daff25 40px,#3bffc4 45px,#13ffec 46px,#00ebff 47px,#00a6ff 49px,#0091ff 50px,#00f4ff 53px,#5cffa3 56px,#acff53 59px,#1affe5 64px,#00f4ff 65px,#00afff 67px,#00bfff 68px,#0afff5 70px,#a1ff5e 74px,#deff21 76px,#deff21 77px,#5cffa3 81px,#0afff5 83px,#00aaff 86px,#00eeff 88px,#13ffec 89px,#a3ff5c 94px,#13ffec 99px,#00eeff 100px,#008dff 103px,#0091ff 104px,#00f4ff 107px,#5cffa3 110px,#acff53 113px,#1affe5 118px,#00f4ff 119px,#00afff 121px,#00e7ff 123px,#10ffef 124px,#a9ff56 128px,#e7ff18 130px,#e7ff18 131px,#63ff9c 135px,#10ffef 137px,#00e7ff 138px,#00a3ff 140px,#0096ff 141px,#00faff 144px,#8dff72 149px,#8dff72 150px,#00faff 155px,#0096ff 158px,#0083ff 159px,#07fff8 163px,#84ff7b 167px,#9fff60 168px,#9fff60 169px,#2bffd4 173px,#07fff8 174px,#009fff 177px,#00d7ff 179px,#04fffb 180px,#3dffc2 181px,#8eff71 182px,#f9ff06 183px,#ff9200 184px,#ff3d00 185px,#ff2900 186px,#ff8700 187px,#fffb00 188px,#a2ff5d 189px,#5bffa4 190px,#00fbff 192px,#00d6ff 193px,#04fffb 195px,#4affb5 198px,#53ffac 199px,#0efff1 202px,#00f2ff 203px,#00b5ff 205px,#00acff 206px,#00f0ff 208px,#39ffc6 210px,#aaff55 214px,#40ffbf 218px,#00f8ff 220px,#00b2ff 222px,#04fffb 225px,#4affb5 228px,#53ffac 229px,#0efff1 232px,#00f2ff 233px,#007cff 237px,#00a7ff 239px,#08fff7 242px,#6eff91 246px,#4dffb2 248px,#00faff 251px,#007fff 255px,#0081ff 256px,#05fffa 260px,#7fff80 264px,#99ff66 265px,#94ff6b 266px,#00fcff 271px,#0098ff 274px,#0084ff 275px,#00fbff 279px,#5affa5 283px,#00fbff 287px,#0084ff 291px,#007fff 292px,#00faff 296px,#65ff9a 300px,#6eff91 301px,#08fff7 305px,#0070ff 310px,#007bff 311px,#00f4ff 315px,#44ffbb 318px,#65ff9a 320px,#01fffe 324px,#006cff 329px,#00f4ff 334px,#38ffc7 337px,#41ffbe 338px,#00feff 341px,#005eff 347px,#01fffe 353px,#43ffbc 356px,#0afff5 359px,#00d6ff 361px,#0067ff 365px,#006cff 366px,#00f1ff 371px,#1cffe3 373px,#31ffce 374px,#00faff 377px,#005eff 383px,#0063ff 384px,#00a2ff 387px)"></div>
<div style="position:absolute;left:48.3px;top:359.30px;width:387.0px;height:1.30px;background:linear-gradient(90deg,#39ffc6 0px,#d3ff2c 5px,#39ffc6 10px,#12ffed 11px,#00ebff 12px,#00a9ff 14px,#00dbff 16px,#00fdff 17px,#8eff71 22px,#8eff71 23px,#00fdff 28px,#00baff 30px,#00b2ff 31px,#00f6ff 33px,#abff54 38px,#e5ff1a 40px,#6cff93 44px,#00f6ff 47px,#00b2ff 49px,#009cff 50px,#00feff 53px,#81ff7e 57px,#b7ff48 59px,#24ffdb 64px,#00feff 65px,#00b9ff 67px,#00cbff 68px,#00eeff 69px,#16ffe9 70px,#adff52 74px,#e9ff16 76px,#e9ff16 77px,#68ff97 81px,#16ffe9 83px,#00eeff 84px,#00b4ff 86px,#00f8ff 88px,#adff52 94px,#00f8ff 100px,#0097ff 103px,#009cff 104px,#00feff 107px,#81ff7e 111px,#b7ff48 113px,#24ffdb 118px,#00feff 119px,#00b9ff 121px,#00f3ff 123px,#46ffb9 125px,#b5ff4a 128px,#f2ff0d 130px,#f2ff0d 131px,#6fff90 135px,#1cffe3 137px,#00f3ff 138px,#00afff 140px,#00a1ff 141px,#05fffa 144px,#7dff82 148px,#97ff68 149px,#97ff68 150px,#28ffd7 154px,#05fffa 155px,#00a1ff 158px,#008eff 159px,#00ecff 162px,#12ffed 163px,#8fff70 167px,#a9ff56 168px,#a9ff56 169px,#36ffc9 173px,#12ffed 174px,#00ecff 175px,#00aaff 177px,#00e3ff 179px,#11ffee 180px,#4fffb0 181px,#a5ff5a 182px,#ffeb00 183px,#ff7700 184px,#ff2200 185px,#ff0e00 186px,#ff6c00 187px,#ffe100 188px,#b7ff48 189px,#6cff93 190px,#08fff7 192px,#00e1ff 193px,#0dfff2 195px,#53ffac 198px,#5bffa4 199px,#00fbff 203px,#00beff 205px,#00b6ff 206px,#00fbff 208px,#99ff66 213px,#b4ff4b 214px,#4bffb4 218px,#03fffc 220px,#00bcff 222px,#00efff 224px,#25ffda 226px,#53ffac 228px,#5bffa4 229px,#00fbff 233px,#0085ff 237px,#00b0ff 239px,#00f0ff 241px,#2fffd0 243px,#77ff88 246px,#56ffa9 248px,#05fffa 251px,#0089ff 255px,#008cff 256px,#00eaff 259px,#0ffff0 260px,#89ff76 264px,#a3ff5c 265px,#9eff61 266px,#2cffd3 270px,#08fff7 271px,#008dff 275px,#05fffa 279px,#62ff9d 283px,#05fffa 287px,#008dff 291px,#0089ff 292px,#05fffa 296px,#6eff91 300px,#77ff88 301px,#12ffed 305px,#00f0ff 306px,#007aff 310px,#0084ff 311px,#00fdff 315px,#65ff9a 319px,#6eff91 320px,#0afff5 324px,#008eff 328px,#0075ff 329px,#00fdff 334px,#40ffbf 337px,#49ffb6 338px,#08fff7 341px,#0066ff 347px,#00efff 352px,#20ffdf 354px,#4bffb4 356px,#00faff 360px,#006fff 365px,#0074ff 366px,#00f9ff 371px,#39ffc6 374px,#03fffc 377px,#0066ff 383px,#006aff 384px,#00aaff 387px)"></div>
<div style="position:absolute;left:48.3px;top:360.30px;width:387.0px;height:1.30px;background:linear-gradient(90deg,#44ffbb 0px,#ddff22 5px,#44ffbb 10px,#00f6ff 12px,#00b4ff 14px,#00c4ff 15px,#08fff7 17px,#7eff81 21px,#98ff67 22px,#98ff67 23px,#2bffd4 27px,#08fff7 28px,#00c4ff 30px,#00bdff 31px,#03fffc 33px,#99ff66 37px,#f0ff0f 40px,#78ff87 44px,#03fffc 47px,#00a6ff 50px,#0afff5 53px,#8cff73 57px,#c1ff3e 59px,#2fffd0 64px,#0afff5 65px,#00c4ff 67px,#00d7ff 68px,#00faff 69px,#b9ff46 74px,#f5ff0a 76px,#f5ff0a 77px,#74ff8b 81px,#00faff 84px,#00bfff 86px,#04fffb 88px,#83ff7c 92px,#b7ff48 94px,#28ffd7 99px,#04fffb 100px,#00a2ff 103px,#00a6ff 104px,#0afff5 107px,#8cff73 111px,#c1ff3e 113px,#2fffd0 118px,#0afff5 119px,#00c4ff 121px,#00ffff 123px,#c1ff3e 128px,#feff01 130px,#feff01 131px,#7bff84 135px,#00ffff 138px,#00bbff 140px,#00abff 141px,#00ebff 143px,#0ffff0 144px,#87ff78 148px,#a1ff5e 149px,#a1ff5e 150px,#32ffcd 154px,#0ffff0 155px,#00c9ff 157px,#0098ff 159px,#00f7ff 162px,#99ff66 167px,#b3ff4c 168px,#b3ff4c 169px,#41ffbe 173px,#00f7ff 175px,#00b5ff 177px,#00caff 178px,#00efff 179px,#20ffdf 180px,#61ff9e 181px,#bcff43 182px,#ffd000 183px,#ff5c00 184px,#ff0900 185px,#f40000 186px,#ff5100 187px,#ffc700 188px,#ceff31 189px,#7eff81 190px,#14ffeb 192px,#00ecff 193px,#00f8ff 194px,#5bffa4 198px,#64ff9b 199px,#05fffa 203px,#00c7ff 205px,#00c1ff 206px,#06fff9 208px,#89ff76 212px,#beff41 214px,#55ffaa 218px,#0efff1 220px,#00c7ff 222px,#00f8ff 224px,#5bffa4 228px,#64ff9b 229px,#05fffa 233px,#008eff 237px,#00b9ff 239px,#00faff 241px,#80ff7f 246px,#5fffa0 248px,#0efff1 251px,#00ccff 253px,#0092ff 255px,#0097ff 256px,#00f4ff 259px,#5dffa2 262px,#adff52 265px,#a8ff57 266px,#36ffc9 270px,#12ffed 271px,#00edff 272px,#0096ff 275px,#00efff 278px,#0dfff2 279px,#6bff94 283px,#0dfff2 287px,#00d0ff 289px,#0096ff 291px,#0092ff 292px,#00edff 295px,#0efff1 296px,#77ff88 300px,#80ff7f 301px,#00faff 306px,#0083ff 310px,#008dff 311px,#07fff8 315px,#6eff91 319px,#77ff88 320px,#14ffeb 324px,#00f3ff 325px,#007fff 329px,#06fff9 334px,#49ffb6 337px,#51ffae 338px,#00f5ff 342px,#006fff 347px,#00f8ff 352px,#53ffac 356px,#04fffb 360px,#0078ff 365px,#007cff 366px,#02fffd 371px,#40ffbf 374px,#0bfff4 377px,#00d8ff 379px,#006fff 383px,#0072ff 384px,#00b2ff 387px)"></div>
<div style="position:absolute;left:48.3px;top:361.30px;width:387.0px;height:1.30px;background:linear-gradient(90deg,#4fffb0 0px,#ccff33 4px,#e8ff17 5px,#74ff8b 9px,#02fffd 12px,#00bfff 14px,#00ceff 15px,#00eeff 16px,#12ffed 17px,#88ff77 21px,#a1ff5e 22px,#a1ff5e 23px,#35ffca 27px,#12ffed 28px,#00eeff 29px,#00ceff 30px,#00c9ff 31px,#0efff1 33px,#a5ff5a 37px,#fbff04 40px,#83ff7c 44px,#0efff1 47px,#00c9ff 49px,#00b1ff 50px,#00efff 52px,#14ffeb 53px,#96ff69 57px,#cbff34 59px,#39ffc6 64px,#14ffeb 65px,#00efff 66px,#00ceff 67px,#07fff8 69px,#c4ff3b 74px,#fffe00 76px,#fffe00 77px,#80ff7f 81px,#07fff8 84px,#00c9ff 86px,#0efff1 88px,#8dff72 92px,#c1ff3e 94px,#32ffcd 99px,#0efff1 100px,#00c9ff 102px,#00acff 103px,#00b1ff 104px,#00efff 106px,#14ffeb 107px,#96ff69 111px,#cbff34 113px,#39ffc6 118px,#14ffeb 119px,#00efff 120px,#00ceff 121px,#0cfff3 123px,#cdff32 128px,#fff400 130px,#fff400 131px,#adff52 134px,#0cfff3 138px,#00c8ff 140px,#00b5ff 141px,#00f5ff 143px,#77ff88 147px,#abff54 149px,#abff54 150px,#3cffc3 154px,#00f5ff 156px,#00b5ff 158px,#00a3ff 159px,#02fffd 162px,#89ff76 166px,#beff41 168px,#beff41 169px,#4bffb4 173px,#02fffd 175px,#00bfff 177px,#00d5ff 178px,#00fcff 179px,#2fffd0 180px,#74ff8b 181px,#d4ff2b 182px,#ffb600 183px,#ff4300 184px,#f00000 185px,#dc0000 186px,#ff3800 187px,#ffad00 188px,#e4ff1b 189px,#90ff6f 190px,#20ffdf 192px,#00f6ff 193px,#02fffd 194px,#64ff9b 198px,#6cff93 199px,#0efff1 203px,#00cfff 205px,#00cbff 206px,#00ecff 207px,#11ffee 208px,#93ff6c 212px,#c8ff37 214px,#60ff9f 218px,#18ffe7 220px,#00f3ff 221px,#00d1ff 222px,#02fffd 224px,#64ff9b 228px,#6cff93 229px,#0efff1 233px,#00cfff 235px,#0096ff 237px,#00c3ff 239px,#04fffb 241px,#89ff76 246px,#68ff97 248px,#00f6ff 252px,#009bff 255px,#00a1ff 256px,#00feff 259px,#83ff7c 263px,#b7ff48 265px,#b1ff4e 266px,#40ffbf 270px,#00f7ff 272px,#009eff 275px,#00f8ff 278px,#73ff8c 283px,#00f8ff 288px,#009eff 291px,#009bff 292px,#00f6ff 295px,#80ff7f 300px,#89ff76 301px,#04fffb 306px,#008dff 310px,#0096ff 311px,#00efff 314px,#2effd1 316px,#76ff89 319px,#80ff7f 320px,#00fcff 325px,#0088ff 329px,#00f2ff 333px,#26ffd9 335px,#51ffae 337px,#59ffa6 338px,#00fdff 342px,#0078ff 347px,#01fffe 352px,#5bffa4 356px,#0cfff3 360px,#00d1ff 362px,#0080ff 365px,#0084ff 366px,#00f1ff 370px,#1fffe0 372px,#48ffb7 374px,#00fbff 378px,#0077ff 383px,#007aff 384px,#00baff 387px)"></div>
<div style="position:absolute;left:48.3px;top:362.30px;width:387.0px;height:1.30px;background:linear-gradient(90deg,#5affa5 0px,#d7ff28 4px,#f2ff0d 5px,#7fff80 9px,#0dfff2 12px,#00caff 14px,#00d7ff 15px,#00f8ff 16px,#92ff6d 21px,#abff54 22px,#abff54 23px,#3fffc0 27px,#00f8ff 29px,#00d7ff 30px,#00d4ff 31px,#00f4ff 32px,#40ffbf 34px,#b0ff4f 37px,#fff800 40px,#8fff70 44px,#19ffe6 47px,#00f4ff 48px,#00bbff 50px,#00faff 52px,#a0ff5f 57px,#d5ff2a 59px,#44ffbb 64px,#00faff 66px,#00d8ff 67px,#00eeff 68px,#12ffed 69px,#d0ff2f 74px,#fff300 76px,#fff300 77px,#d0ff2f 79px,#12ffed 84px,#00eeff 85px,#00d3ff 86px,#00f4ff 87px,#5fffa0 90px,#cbff34 94px,#3cffc3 99px,#00f4ff 101px,#00b6ff 103px,#00bbff 104px,#00faff 106px,#a0ff5f 111px,#d5ff2a 113px,#44ffbb 118px,#00faff 120px,#00d8ff 121px,#00f3ff 122px,#40ffbf 124px,#d9ff26 128px,#f7ff08 129px,#ffe900 130px,#ffe900 131px,#f7ff08 132px,#93ff6c 135px,#18ffe7 138px,#00f3ff 139px,#00bfff 141px,#00ffff 143px,#81ff7e 147px,#b4ff4b 149px,#b4ff4b 150px,#46ffb9 154px,#00ffff 156px,#00bfff 158px,#00aeff 159px,#00e9ff 161px,#0cfff3 162px,#93ff6c 166px,#c8ff37 168px,#c8ff37 169px,#56ffa9 173px,#0cfff3 175px,#00caff 177px,#09fff6 179px,#3effc1 180px,#88ff77 181px,#ebff14 182px,#ff9d00 183px,#ff2b00 184px,#d90000 185px,#c50000 186px,#ff2000 187px,#fbff04 189px,#a2ff5d 190px,#2cffd3 192px,#03fffc 193px,#0bfff4 194px,#6cff93 198px,#75ff8a 199px,#00f7ff 204px,#00d8ff 205px,#00d5ff 206px,#00f6ff 207px,#9dff62 212px,#d2ff2d 214px,#6aff95 218px,#00fdff 221px,#00dcff 222px,#0bfff4 224px,#6cff93 228px,#75ff8a 229px,#00f7ff 234px,#009fff 237px,#00ccff 239px,#0efff1 241px,#7bff84 245px,#92ff6d 246px,#71ff8e 248px,#00ffff 252px,#00a5ff 255px,#00acff 256px,#0afff5 259px,#8dff72 263px,#c1ff3e 265px,#bbff44 266px,#4affb5 270px,#02fffd 272px,#00a7ff 275px,#01fffe 278px,#7bff84 283px,#01fffe 288px,#00a7ff 291px,#00a5ff 292px,#00ffff 295px,#71ff8e 299px,#92ff6d 301px,#2effd1 305px,#0efff1 306px,#00ccff 308px,#0096ff 310px,#00a0ff 311px,#00f8ff 314px,#7fff80 319px,#88ff77 320px,#06fff9 325px,#0091ff 329px,#00faff 333px,#59ffa6 337px,#61ff9e 338px,#07fff8 342px,#0080ff 347px,#0afff5 352px,#63ff9c 356px,#00f8ff 361px,#0089ff 365px,#008cff 366px,#00f9ff 370px,#50ffaf 374px,#04fffb 378px,#007fff 383px,#0081ff 384px,#00c1ff 387px)"></div>
<div style="position:absolute;left:48.3px;top:363.30px;width:387.0px;height:1.30px;background:linear-gradient(90deg,#65ff9a 0px,#e1ff1e 4px,#fdff02 5px,#8aff75 9px,#18ffe7 12px,#00f4ff 13px,#00d5ff 14px,#00e1ff 15px,#03fffc 16px,#82ff7d 20px,#b4ff4b 22px,#b4ff4b 23px,#48ffb7 27px,#03fffc 29px,#00e1ff 30px,#00dfff 31px,#00ffff 32px,#bbff44 37px,#f5ff0a 39px,#ffed00 40px,#f5ff0a 41px,#74ff8b 45px,#00ffff 48px,#00c5ff 50px,#05fffa 52px,#90ff6f 56px,#dfff20 59px,#4effb1 64px,#05fffa 66px,#00e3ff 67px,#00f9ff 68px,#6eff91 71px,#dcff23 74px,#f9ff06 75px,#ffe700 76px,#ffe700 77px,#f9ff06 78px,#97ff68 81px,#1dffe2 84px,#00f9ff 85px,#00ddff 86px,#00feff 87px,#87ff78 91px,#d4ff2b 94px,#46ffb9 99px,#00feff 101px,#00c0ff 103px,#00c5ff 104px,#05fffa 106px,#90ff6f 110px,#dfff20 113px,#4effb1 118px,#05fffa 120px,#00e3ff 121px,#00ffff 122px,#e5ff1a 128px,#fffb00 129px,#ffde00 130px,#ffde00 131px,#fffb00 132px,#9fff60 135px,#00ffff 139px,#00c9ff 141px,#09fff6 143px,#8bff74 147px,#beff41 149px,#beff41 150px,#50ffaf 154px,#09fff6 156px,#00b8ff 159px,#00f3ff 161px,#3cffc3 163px,#b8ff47 167px,#d2ff2d 168px,#d2ff2d 169px,#60ff9f 173px,#17ffe8 175px,#00f3ff 176px,#00d4ff 177px,#00ecff 178px,#16ffe9 179px,#4effb1 180px,#9bff64 181px,#fffc00 182px,#ff1400 184px,#c50000 185px,#b10000 186px,#ff0900 187px,#ffed00 189px,#b5ff4a 190px,#6fff90 191px,#0efff1 193px,#14ffeb 194px,#75ff8a 198px,#7dff82 199px,#01fffe 204px,#00e1ff 205px,#00dfff 206px,#01fffe 207px,#8dff72 211px,#dcff23 214px,#75ff8a 218px,#08fff7 221px,#00e6ff 222px,#00f3ff 223px,#48ffb7 226px,#75ff8a 228px,#7dff82 229px,#01fffe 234px,#00a8ff 237px,#00d5ff 239px,#00f5ff 240px,#6cff93 244px,#9bff64 246px,#7aff85 248px,#0afff5 252px,#00aeff 255px,#00b6ff 256px,#00f0ff 258px,#14ffeb 259px,#97ff68 263px,#caff35 265px,#c5ff3a 266px,#55ffaa 270px,#0dfff2 272px,#00cbff 274px,#00b0ff 275px,#0afff5 278px,#84ff7b 283px,#0afff5 288px,#00afff 291px,#00aeff 292px,#0afff5 295px,#7aff85 299px,#9bff64 301px,#37ffc8 305px,#00f5ff 307px,#009fff 310px,#00a9ff 311px,#02fffd 314px,#71ff8e 318px,#91ff6e 320px,#2fffd0 324px,#0ffff0 325px,#00cfff 327px,#009aff 329px,#04fffb 333px,#61ff9e 337px,#69ff96 338px,#0ffff0 342px,#00d3ff 344px,#0088ff 347px,#00f4ff 351px,#41ffbe 354px,#6cff93 356px,#1dffe2 360px,#01fffe 361px,#0091ff 365px,#0094ff 366px,#02fffd 370px,#58ffa7 374px,#0cfff3 378px,#00d4ff 380px,#0087ff 383px,#0089ff 384px,#00c9ff 387px)"></div>
<div style="position:absolute;left:48.3px;top:364.30px;width:387.0px;height:1.30px;background:linear-gradient(90deg,#6fff90 0px,#ecff13 4px,#fffa00 5px,#95ff6a 9px,#00feff 13px,#00e0ff 14px,#0dfff2 16px,#8cff73 20px,#beff41 22px,#beff41 23px,#52ffad 27px,#0dfff2 29px,#00eaff 30px,#00eaff 31px,#0bfff4 32px,#c6ff39 37px,#fffe00 39px,#ffe500 40px,#fffe00 41px,#7fff80 45px,#0bfff4 48px,#00d0ff 50px,#0ffff0 52px,#9aff65 56px,#e5ff1a 59px,#7cff83 63px,#0ffff0 66px,#00edff 67px,#06fff9 68px,#e7ff18 74px,#fff900 75px,#ffdc00 76px,#ffdc00 77px,#fff900 78px,#a3ff5c 81px,#06fff9 85px,#00e7ff 86px,#09fff6 87px,#91ff6e 91px,#dbff24 94px,#73ff8c 98px,#09fff6 101px,#00caff 103px,#00d0ff 104px,#0ffff0 106px,#9aff65 110px,#e5ff1a 113px,#7cff83 117px,#0ffff0 120px,#00edff 121px,#0bfff4 122px,#f0ff0f 128px,#ffd200 130px,#ffd200 131px,#f0ff0f 133px,#0bfff4 139px,#00d2ff 141px,#00f1ff 142px,#13ffec 143px,#95ff6a 147px,#c8ff37 149px,#c8ff37 150px,#5affa5 154px,#13ffec 156px,#00f1ff 157px,#00c2ff 159px,#00fdff 161px,#a7ff58 166px,#dcff23 168px,#dcff23 169px,#6aff95 173px,#00fdff 176px,#00dfff 177px,#00f7ff 178px,#23ffdc 179px,#5effa1 180px,#afff50 181px,#ffe600 182px,#ff0000 184px,#b20000 185px,#a10000 186px,#f30000 187px,#ffd700 189px,#c9ff36 190px,#7eff81 191px,#19ffe6 193px,#1dffe2 194px,#7dff82 198px,#86ff79 199px,#09fff6 204px,#00e9ff 205px,#00eaff 206px,#0bfff4 207px,#97ff68 211px,#e5ff1a 214px,#7fff80 218px,#12ffed 221px,#00f0ff 222px,#00fcff 223px,#7dff82 228px,#86ff79 229px,#09fff6 234px,#00b0ff 237px,#00deff 239px,#00feff 240px,#75ff8a 244px,#a4ff5b 246px,#83ff7c 248px,#13ffec 252px,#00f1ff 253px,#00b7ff 255px,#00c0ff 256px,#00faff 258px,#a1ff5e 263px,#d4ff2b 265px,#cfff30 266px,#5fffa0 270px,#16ffe9 272px,#00f3ff 273px,#00bbff 275px,#00f3ff 277px,#31ffce 279px,#8aff75 283px,#13ffec 288px,#00f3ff 289px,#00b8ff 291px,#00b7ff 292px,#00f1ff 294px,#34ffcb 296px,#9bff64 300px,#a4ff5b 301px,#40ffbf 305px,#00feff 307px,#00a9ff 310px,#00b1ff 311px,#0bfff4 314px,#7aff85 318px,#9aff65 320px,#38ffc7 324px,#00f7ff 326px,#00a3ff 329px,#00edff 332px,#0cfff3 333px,#69ff96 337px,#71ff8e 338px,#00f9ff 343px,#0091ff 347px,#00fcff 351px,#74ff8b 356px,#25ffda 360px,#09fff6 361px,#0099ff 365px,#009cff 366px,#0afff5 370px,#5fffa0 374px,#00f9ff 379px,#008eff 383px,#0090ff 384px,#00d0ff 387px)"></div>
<div style="position:absolute;left:48.3px;top:365.30px;width:387.0px;height:1.30px;background:linear-gradient(90deg,#7aff85 0px,#f7ff08 4px,#fffa00 5px,#f7ff08 6px,#7aff85 10px,#0afff5 13px,#00eaff 14px,#00f4ff 15px,#39ffc6 17px,#aeff51 21px,#c7ff38 22px,#c7ff38 23px,#5cffa3 27px,#16ffe9 29px,#00f4ff 30px,#00f5ff 31px,#3affc5 33px,#d2ff2d 37px,#fff400 39px,#ffe500 40px,#fff400 41px,#d2ff2d 43px,#16ffe9 48px,#00f5ff 49px,#00daff 50px,#00f7ff 51px,#63ff9c 54px,#d9ff26 58px,#e5ff1a 59px,#bfff40 61px,#3dffc2 65px,#00f7ff 67px,#11ffee 68px,#f2ff0d 74px,#ffd100 76px,#ffd100 77px,#f2ff0d 79px,#11ffee 85px,#00f2ff 86px,#12ffed 87px,#9bff64 91px,#cfff30 93px,#dbff24 94px,#b5ff4a 96px,#36ffc9 100px,#12ffed 101px,#00f1ff 102px,#00d4ff 103px,#00daff 104px,#00f7ff 105px,#63ff9c 108px,#d9ff26 112px,#e5ff1a 113px,#bfff40 115px,#3dffc2 119px,#00f7ff 121px,#3affc5 123px,#dcff23 127px,#fcff03 128px,#ffc700 130px,#ffc700 131px,#fcff03 133px,#62ff9d 137px,#17ffe8 139px,#00f7ff 140px,#00dcff 141px,#00faff 142px,#9fff60 147px,#d1ff2e 149px,#d1ff2e 150px,#64ff9b 154px,#00faff 157px,#00cdff 159px,#08fff7 161px,#b1ff4e 166px,#e6ff19 168px,#e6ff19 169px,#75ff8a 173px,#08fff7 176px,#00eaff 177px,#04fffb 178px,#31ffce 179px,#6fff90 180px,#c3ff3c 181px,#ffd000 182px,#ff5a00 183px,#ec0000 184px,#a10000 185px,#9a0000 186px,#e00000 187px,#ff5100 188px,#ffc100 189px,#dcff23 190px,#8eff71 191px,#24ffdb 193px,#26ffd9 194px,#85ff7a 198px,#8aff75 199px,#31ffce 203px,#00f2ff 205px,#00f4ff 206px,#3affc5 208px,#bcff43 212px,#e5ff1a 214px,#c1ff3e 216px,#66ff99 219px,#00faff 222px,#05fffa 223px,#70ff8f 227px,#85ff7a 228px,#8aff75 229px,#31ffce 233px,#00f2ff 235px,#00b9ff 237px,#08fff7 240px,#7eff81 244px,#a8ff57 246px,#a4ff5b 247px,#3dffc2 251px,#00faff 253px,#00c0ff 255px,#00caff 256px,#05fffa 258px,#abff54 263px,#dbff24 265px,#d9ff26 266px,#69ff96 270px,#00fdff 273px,#00c5ff 275px,#00fbff 277px,#7fff80 282px,#8aff75 283px,#53ffac 286px,#00fbff 289px,#00c0ff 291px,#00c0ff 292px,#00faff 294px,#8cff73 299px,#a4ff5b 300px,#a8ff57 301px,#4affb5 305px,#08fff7 307px,#00b2ff 310px,#00baff 311px,#00f3ff 313px,#53ffac 316px,#9aff65 319px,#9eff61 320px,#41ffbe 324px,#01fffe 326px,#00acff 329px,#00d8ff 331px,#00f6ff 332px,#71ff8e 337px,#75ff8a 338px,#20ffdf 342px,#03fffc 343px,#0099ff 347px,#06fff9 351px,#67ff98 355px,#75ff8a 356px,#5affa5 358px,#11ffee 361px,#00f3ff 362px,#00a1ff 365px,#00a4ff 366px,#00f5ff 369px,#61ff9e 374px,#47ffb8 376px,#01fffe 379px,#0096ff 383px,#0098ff 384px,#00d8ff 387px)"></div>
<div style="position:absolute;left:48.3px;top:366.30px;width:387.0px;height:1.30px;background:linear-gradient(90deg,#85ff7a 0px,#e6ff19 3px,#fffd00 4px,#fffd00 6px,#aaff55 9px,#14ffeb 13px,#00f5ff 14px,#00fdff 15px,#9fff60 20px,#c7ff38 22px,#b8ff47 24px,#43ffbc 28px,#00fdff 30px,#01fffe 31px,#ddff22 37px,#f9ff06 38px,#ffe900 39px,#ffe900 41px,#f9ff06 42px,#95ff6a 45px,#01fffe 49px,#00e4ff 50px,#02fffd 51px,#aeff51 56px,#e3ff1c 58px,#e3ff1c 60px,#6dff92 64px,#02fffd 67px,#67ff98 70px,#feff01 74px,#ffd100 76px,#ffd100 77px,#feff01 79px,#67ff98 83px,#00fdff 86px,#a5ff5a 91px,#d8ff27 93px,#d8ff27 95px,#65ff9a 99px,#00faff 102px,#00deff 103px,#00e4ff 104px,#02fffd 105px,#aeff51 110px,#e3ff1c 112px,#e3ff1c 114px,#6dff92 118px,#04fffb 121px,#6eff91 124px,#e8ff17 127px,#fff700 128px,#ffc700 130px,#ffc700 131px,#fff700 133px,#c2ff3d 135px,#22ffdd 139px,#04fffb 140px,#00e6ff 141px,#05fffa 142px,#a9ff56 147px,#d1ff2e 149px,#c2ff3d 151px,#6eff91 154px,#05fffa 157px,#00d7ff 159px,#00f2ff 160px,#12ffed 161px,#bcff43 166px,#e6ff19 168px,#d6ff29 170px,#7fff80 173px,#13ffec 176px,#00f4ff 177px,#10ffef 178px,#3fffc0 179px,#7fff80 180px,#d6ff29 181px,#ffbc00 182px,#ff4600 183px,#db0000 184px,#930000 185px,#950000 186px,#cf0000 187px,#ff3d00 188px,#ffad00 189px,#eeff11 190px,#9eff61 191px,#30ffcf 193px,#2fffd0 194px,#8aff75 198px,#81ff7e 200px,#00faff 205px,#00feff 206px,#acff53 211px,#e0ff1f 213px,#e5ff1a 215px,#70ff8f 219px,#05fffa 222px,#0efff1 223px,#78ff87 227px,#8aff75 228px,#81ff7e 230px,#00faff 235px,#00c1ff 237px,#00f0ff 239px,#11ffee 240px,#87ff78 244px,#a8ff57 246px,#a8ff57 247px,#46ffb9 251px,#04fffb 253px,#00c9ff 255px,#00efff 257px,#0ffff0 258px,#b5ff4a 263px,#dbff24 265px,#dbff24 266px,#94ff6b 269px,#08fff7 273px,#00cfff 275px,#05fffa 277px,#71ff8e 281px,#87ff78 282px,#87ff78 284px,#24ffdb 288px,#05fffa 289px,#00c9ff 291px,#00c9ff 292px,#04fffb 294px,#7eff81 298px,#a8ff57 300px,#9fff60 302px,#32ffcd 306px,#11ffee 307px,#00f0ff 308px,#00bbff 310px,#00c3ff 311px,#00fcff 313px,#75ff8a 317px,#9eff61 319px,#95ff6a 321px,#2affd5 325px,#0afff5 326px,#00b5ff 329px,#00e0ff 331px,#00feff 332px,#64ff9b 336px,#75ff8a 337px,#6dff92 339px,#0bfff4 343px,#00b5ff 346px,#00a1ff 347px,#00efff 350px,#0efff1 351px,#6fff90 355px,#75ff8a 357px,#00fbff 362px,#00aaff 365px,#00abff 366px,#00fdff 369px,#5bffa4 373px,#61ff9e 375px,#09fff6 379px,#009eff 383px,#009fff 384px,#00dfff 387px)"></div>
<div style="position:absolute;left:48.3px;top:367.30px;width:387.0px;height:1.30px;background:linear-gradient(90deg,#90ff6f 0px,#f0ff0f 3px,#fffa00 5px,#f0ff0f 7px,#90ff6f 10px,#01fffe 14px,#08fff7 15px,#a9ff56 20px,#c1ff3e 21px,#c1ff3e 24px,#6fff90 27px,#08fff7 30px,#0cfff3 31px,#e8ff17 37px,#fffa00 38px,#ffe500 39px,#ffe500 41px,#fffa00 42px,#c7ff38 44px,#0cfff3 49px,#00efff 50px,#0cfff3 51px,#b9ff46 56px,#e5ff1a 58px,#e5ff1a 60px,#9aff65 63px,#0cfff3 67px,#72ff8d 70px,#eaff15 73px,#fff500 74px,#ffd800 75px,#ffd800 78px,#fff500 79px,#eaff15 80px,#27ffd8 85px,#09fff6 86px,#afff50 91px,#dbff24 93px,#dbff24 95px,#91ff6e 98px,#05fffa 102px,#00e8ff 103px,#0cfff3 105px,#b9ff46 110px,#e5ff1a 112px,#e5ff1a 114px,#9aff65 117px,#0ffff0 121px,#79ff86 124px,#f4ff0b 127px,#ffce00 129px,#ffce00 132px,#f4ff0b 134px,#2dffd2 139px,#00f0ff 141px,#0efff1 142px,#b2ff4d 147px,#cbff34 148px,#cbff34 151px,#78ff87 154px,#0efff1 157px,#00e1ff 159px,#00fcff 160px,#c6ff39 166px,#e0ff1f 167px,#e0ff1f 170px,#89ff76 173px,#00ffff 177px,#1cffe3 178px,#4dffb2 179px,#90ff6f 180px,#e9ff16 181px,#ffa900 182px,#ff3500 183px,#cd0000 184px,#8e0000 185px,#930000 186px,#c70000 187px,#ff2b00 188px,#fffd00 190px,#aeff51 191px,#3cffc3 193px,#38ffc7 194px,#80ff7f 197px,#89ff76 200px,#23ffdc 204px,#04fffb 205px,#08fff7 206px,#b6ff49 211px,#e5ff1a 213px,#e5ff1a 215px,#9eff61 218px,#0ffff0 222px,#16ffe9 223px,#80ff7f 227px,#89ff76 230px,#23ffdc 234px,#04fffb 235px,#00c9ff 237px,#00f9ff 239px,#90ff6f 244px,#a8ff57 245px,#9eff61 248px,#2effd1 252px,#0dfff2 253px,#00d2ff 255px,#00f8ff 257px,#60ff9f 260px,#bfff40 263px,#d8ff27 264px,#d3ff2c 267px,#7dff82 270px,#12ffed 273px,#00f3ff 274px,#00d9ff 275px,#0dfff2 277px,#7aff85 281px,#8aff75 283px,#7aff85 285px,#0dfff2 289px,#00d1ff 291px,#00d2ff 292px,#0dfff2 294px,#87ff78 298px,#a8ff57 300px,#a8ff57 302px,#3bffc4 306px,#00f9ff 308px,#00c4ff 310px,#00ccff 311px,#06fff9 313px,#7eff81 317px,#9eff61 319px,#9dff62 321px,#33ffcc 325px,#00f2ff 327px,#00beff 329px,#07fff8 332px,#6cff93 336px,#75ff8a 339px,#13ffec 343px,#00f4ff 344px,#00a9ff 347px,#00f7ff 350px,#75ff8a 355px,#6aff95 358px,#04fffb 362px,#00b2ff 365px,#00b3ff 366px,#06fff9 369px,#61ff9e 373px,#56ffa9 376px,#11ffee 379px,#00f3ff 380px,#00a6ff 383px,#00a6ff 384px,#00e7ff 387px)"></div>
<div style="position:absolute;left:562.80px;top:16.1px;width:1.30px;height:350.4px;background:linear-gradient(180deg,#9f0000 0px,#b60000 43px,#ff0700 87px,#ff6400 112px,#ffe100 136px,#f5ff0a 159px,#d7ff28 183px,#d6ff29 227px,#fff700 250px,#ffb900 280px,#ff3400 332px,#ff1100 350px)"></div>
<div style="position:absolute;left:563.80px;top:16.1px;width:1.30px;height:350.4px;background:linear-gradient(180deg,#a70000 0px,#bd0000 43px,#ff0700 85px,#ff6c00 112px,#ffea00 136px,#f3ff0c 155px,#ceff31 182px,#ceff31 227px,#fff700 253px,#ffbf00 281px,#ff3b00 332px,#ff1800 350px)"></div>
<div style="position:absolute;left:564.80px;top:16.1px;width:1.30px;height:350.4px;background:linear-gradient(180deg,#b30000 0px,#c90000 43px,#ff0800 80px,#ff7300 111px,#fff800 136px,#c1ff3e 182px,#c1ff3e 227px,#fff700 258px,#ffa100 298px,#ff4b00 330px,#ff2400 350px)"></div>
<div style="position:absolute;left:565.80px;top:16.1px;width:1.30px;height:350.4px;background:linear-gradient(180deg,#b50000 0px,#cb0000 43px,#ff0800 79px,#ff7500 111px,#fffc00 136px,#bdff42 181px,#beff41 227px,#fff700 259px,#ffa300 298px,#ff4d00 330px,#ff2600 350px)"></div>
<div style="position:absolute;left:566.80px;top:16.1px;width:1.30px;height:350.4px;background:linear-gradient(180deg,#b90000 0px,#d00000 43px,#ff0800 77px,#ff6e00 109px,#feff01 135px,#b7ff48 181px,#baff45 228px,#fff700 261px,#ffaa00 297px,#ff5200 330px,#ff2b00 350px)"></div>
<div style="position:absolute;left:567.80px;top:16.1px;width:1.30px;height:350.4px;background:linear-gradient(180deg,#bb0000 0px,#d20000 43px,#ff0800 76px,#ff6600 107px,#fcff03 134px,#b4ff4b 180px,#b8ff47 228px,#fff600 262px,#ffac00 297px,#ff5300 330px,#ff2c00 350px)"></div>
<div style="position:absolute;left:568.80px;top:16.1px;width:1.30px;height:350.4px;background:linear-gradient(180deg,#c50000 0px,#dc0000 43px,#ff0800 71px,#ff4400 94px,#ff8c00 112px,#fbff04 132px,#a8ff57 179px,#acff53 228px,#fff900 265px,#ffb900 296px,#ff5e00 330px,#ff3600 350px)"></div>
<div style="position:absolute;left:569.80px;top:16.1px;width:1.30px;height:350.4px;background:linear-gradient(180deg,#c10000 0px,#d70000 43px,#ff0900 74px,#ff4d00 98px,#ff8800 112px,#f8ff07 133px,#abff54 180px,#b0ff4f 228px,#fff700 264px,#ffb400 296px,#ff5900 330px,#ff3200 350px)"></div>
<div style="position:absolute;left:570.80px;top:16.1px;width:1.30px;height:350.4px;background:linear-gradient(180deg,#b00000 0px,#c70000 43px,#ff0700 81px,#ff7200 111px,#ffff00 135px,#b9ff46 180px,#c0ff3f 228px,#fff700 258px,#ffc900 281px,#ff4500 332px,#ff2200 350px)"></div>
<div style="position:absolute;left:571.80px;top:16.1px;width:1.30px;height:350.4px;background:linear-gradient(180deg,#a60000 0px,#bc0000 43px,#ff0600 85px,#ff6700 111px,#fff600 135px,#c2ff3d 181px,#c9ff36 228px,#fff800 254px,#ffc400 277px,#ff7500 308px,#ff2800 341px,#ff1700 350px)"></div>
<div style="position:absolute;left:572.80px;top:16.1px;width:1.30px;height:350.4px;background:linear-gradient(180deg,#b70000 0px,#cd0000 43px,#ff0800 78px,#ff7200 110px,#fcff03 133px,#afff50 179px,#b7ff48 228px,#fff600 261px,#ffa200 299px,#ff4f00 330px,#ff2800 350px)"></div>
<div style="position:absolute;left:573.80px;top:16.1px;width:1.30px;height:350.4px;background:linear-gradient(180deg,#c10000 0px,#dc0000 43px,#ff0800 70px,#ff4d00 95px,#ff8d00 111px,#fcff03 130px,#dfff20 137px,#9fff60 180px,#a7ff58 227px,#fff900 262px,#ff9b00 299px,#ff4700 328px,#ff1a00 350px)"></div>
<div style="position:absolute;left:574.80px;top:16.1px;width:1.30px;height:350.4px;background:linear-gradient(180deg,#de0000 0px,#ff0900 44px,#ff5800 80px,#ffd300 112px,#f7ff08 121px,#aaff55 136px,#71ff8e 183px,#76ff89 225px,#fff700 266px,#ff6c00 304px,#ff1f00 326px,#f50000 343px,#e40000 350px)"></div>
<div style="position:absolute;left:575.80px;top:16.1px;width:1.30px;height:350.4px;background:linear-gradient(180deg,#fc0000 0px,#ff2e00 42px,#ff7d00 75px,#f9ff06 111px,#79ff86 136px,#45ffba 186px,#49ffb6 223px,#fff700 270px,#ff1100 323px,#f00000 335px,#c90000 350px)"></div>
<div style="position:absolute;left:576.80px;top:16.1px;width:1.30px;height:350.4px;background:linear-gradient(180deg,#ff1500 0px,#ff5000 44px,#ff9d00 75px,#f7ff08 104px,#5affa5 136px,#29ffd6 187px,#2effd1 224px,#fff700 276px,#ff2900 323px,#f60000 342px,#e10000 350px)"></div>
<div style="position:absolute;left:577.80px;top:16.1px;width:1.30px;height:350.4px;background:linear-gradient(180deg,#ff1400 0px,#ff5c00 47px,#ffa400 75px,#f7ff08 102px,#54ffab 136px,#26ffd9 187px,#2cffd3 224px,#fffa00 275px,#ff2800 323px,#f50000 342px,#e00000 350px)"></div>
<div style="position:absolute;left:578.80px;top:16.1px;width:1.30px;height:350.4px;background:linear-gradient(180deg,#ff0d00 0px,#ff6100 50px,#ffa500 75px,#f9ff06 101px,#55ffaa 136px,#29ffd6 187px,#30ffcf 224px,#fffb00 273px,#ff2000 323px,#f50000 339px,#d80000 350px)"></div>
<div style="position:absolute;left:579.80px;top:16.1px;width:1.30px;height:350.4px;background:linear-gradient(180deg,#fe0000 0px,#ff6400 55px,#ffb800 82px,#f6ff09 103px,#5cffa3 136px,#33ffcc 188px,#3affc5 224px,#fff900 270px,#ff1300 323px,#f20000 335px,#cb0000 350px)"></div>
<div style="position:absolute;left:580.80px;top:16.1px;width:1.30px;height:350.4px;background:linear-gradient(180deg,#ff1800 0px,#ff9800 64px,#f6ff09 94px,#84ff7b 120px,#3cffc3 136px,#15ffea 188px,#22ffdd 225px,#fffa00 276px,#ff2c00 323px,#f60000 343px,#e40000 350px)"></div>
<div style="position:absolute;left:581.80px;top:16.1px;width:1.30px;height:350.4px;background:linear-gradient(180deg,#ff1200 0px,#ffa400 67px,#f8ff07 93px,#7eff81 121px,#3cffc3 136px,#18ffe7 188px,#25ffda 225px,#fffc00 274px,#ff2500 323px,#f50000 341px,#de0000 350px)"></div>
<div style="position:absolute;left:582.80px;top:16.1px;width:1.30px;height:350.4px;background:linear-gradient(180deg,#ff0b00 0px,#ffac00 69px,#f9ff06 92px,#73ff8c 123px,#3cffc3 136px,#1bffe4 189px,#29ffd6 225px,#fff900 273px,#ff1f00 323px,#f40000 339px,#d70000 350px)"></div>
<div style="position:absolute;left:583.80px;top:16.1px;width:1.30px;height:350.4px;background:linear-gradient(180deg,#ff0800 0px,#ffb000 69px,#f7ff08 91px,#65ff9a 125px,#39ffc6 136px,#1affe5 189px,#29ffd6 225px,#fffa00 272px,#ff1b00 323px,#f50000 337px,#d30000 350px)"></div>
<div style="position:absolute;left:584.80px;top:16.1px;width:1.30px;height:350.4px;background:linear-gradient(180deg,#ff0900 0px,#ffb800 69px,#f9ff06 88px,#5dffa2 125px,#32ffcd 136px,#15ffea 190px,#24ffdb 225px,#fffb00 272px,#ff1c00 323px,#f40000 338px,#d40000 350px)"></div>
<div style="position:absolute;left:585.80px;top:16.1px;width:1.30px;height:350.4px;background:linear-gradient(180deg,#ff0800 0px,#ffbc00 69px,#f7ff08 88px,#56ffa9 126px,#30ffcf 136px,#14ffeb 190px,#23ffdc 225px,#fff900 272px,#ff1900 323px,#f50000 336px,#d00000 350px)"></div>
<div style="position:absolute;left:586.80px;top:16.1px;width:1.30px;height:350.4px;background:linear-gradient(180deg,#ff2000 0px,#ffdd00 70px,#f6ff09 81px,#44ffbb 124px,#15ffea 136px,#00f9ff 185px,#0afff5 225px,#ffff00 276px,#ff2e00 323px,#f70000 343px,#e50000 350px)"></div>
<div style="position:absolute;left:587.80px;top:16.1px;width:1.30px;height:350.4px;background:linear-gradient(180deg,#ff4400 0px,#f8ff07 70px,#21ffde 123px,#00f7ff 132px,#00d3ff 187px,#00e2ff 225px,#09fff6 233px,#e8ff17 279px,#fff400 287px,#ff5100 323px,#ff0700 350px)"></div>
<div style="position:absolute;left:588.80px;top:16.1px;width:1.30px;height:350.4px;background:linear-gradient(180deg,#ff5e00 0px,#f7ff08 62px,#09fff6 122px,#00d0ff 137px,#00b8ff 193px,#00c7ff 225px,#07fff8 238px,#cbff34 278px,#fff900 291px,#ff6800 323px,#ff1d00 350px)"></div>
<div style="position:absolute;left:589.80px;top:16.1px;width:1.30px;height:350.4px;background:linear-gradient(180deg,#ff4f00 0px,#f7ff08 65px,#0bfff4 124px,#00deff 134px,#00c4ff 194px,#00d4ff 225px,#0afff5 236px,#d7ff28 277px,#fff700 288px,#ff5700 323px,#ff0b00 350px)"></div>
<div style="position:absolute;left:590.80px;top:16.1px;width:1.30px;height:350.4px;background:linear-gradient(180deg,#ff4800 0px,#f9ff06 65px,#0efff1 124px,#00eaff 132px,#00c9ff 188px,#00d9ff 225px,#0bfff4 235px,#dfff20 277px,#fff400 287px,#ff4e00 323px,#ff0100 350px)"></div>
<div style="position:absolute;left:591.80px;top:16.1px;width:1.30px;height:350.4px;background:linear-gradient(180deg,#ff4200 0px,#faff05 65px,#0dfff2 125px,#00edff 132px,#00cdff 189px,#00ddff 225px,#0bfff4 234px,#e2ff1d 276px,#fff700 285px,#ff4500 323px,#f70000 350px)"></div>
<div style="position:absolute;left:592.80px;top:16.1px;width:1.30px;height:350.4px;background:linear-gradient(180deg,#ff4800 0px,#f9ff06 62px,#08fff7 124px,#00daff 137px,#00c5ff 199px,#00d5ff 225px,#08fff7 235px,#ddff22 276px,#fff700 286px,#ff4900 323px,#fa0000 350px)"></div>
<div style="position:absolute;left:593.80px;top:16.1px;width:1.30px;height:350.4px;background:linear-gradient(180deg,#ff5400 0px,#f7ff08 57px,#13ffec 118px,#00f3ff 125px,#00cbff 136px,#00b7ff 200px,#00c7ff 225px,#05fffa 237px,#ceff31 275px,#fff800 288px,#ff5300 323px,#ff0400 350px)"></div>
<div style="position:absolute;left:594.80px;top:16.1px;width:1.30px;height:350.4px;background:linear-gradient(180deg,#ff5400 0px,#f8ff07 55px,#12ffed 117px,#00f3ff 124px,#00c8ff 136px,#00b4ff 202px,#00c4ff 225px,#08fff7 238px,#ceff31 275px,#fff800 288px,#ff5200 323px,#ff0200 350px)"></div>
<div style="position:absolute;left:595.80px;top:16.1px;width:1.30px;height:350.4px;background:linear-gradient(180deg,#ff7200 0px,#faff05 43px,#30ffcf 101px,#00f7ff 115px,#00a7ff 136px,#0093ff 202px,#00a3ff 225px,#06fff9 244px,#b1ff4e 275px,#fff800 294px,#ff7000 323px,#ff1e00 350px)"></div>
<div style="position:absolute;left:596.80px;top:16.1px;width:1.30px;height:350.4px;background:linear-gradient(180deg,#ff7500 0px,#f9ff06 41px,#2cffd3 100px,#00f8ff 113px,#00a1ff 136px,#008dff 202px,#009dff 225px,#07fff8 245px,#aeff51 275px,#fffa00 294px,#ff6f00 324px,#ff1e00 350px)"></div>
<div style="position:absolute;left:597.80px;top:16.1px;width:1.30px;height:350.4px;background:linear-gradient(180deg,#ff8700 0px,#faff05 34px,#32ffcd 92px,#00f6ff 108px,#008cff 136px,#0079ff 202px,#0089ff 225px,#06fff9 248px,#9dff62 275px,#fff800 298px,#ff8000 324px,#ff2e00 350px)"></div>
<div style="position:absolute;left:598.80px;top:16.1px;width:1.30px;height:350.4px;background:linear-gradient(180deg,#ff6700 0px,#fcff03 42px,#00f9ff 114px,#00a9ff 136px,#0095ff 202px,#00a5ff 225px,#06fff9 243px,#b9ff46 274px,#fff800 291px,#ff5d00 325px,#ff0c00 350px)"></div>
<div style="position:absolute;left:599.80px;top:16.1px;width:1.30px;height:350.4px;background:linear-gradient(180deg,#ff4800 0px,#fffe00 49px,#00f8ff 121px,#00c5ff 136px,#00b2ff 202px,#00c2ff 225px,#09fff6 238px,#ddff22 275px,#fff400 285px,#ff3d00 325px,#f70000 346px,#ea0000 350px)"></div>
<div style="position:absolute;left:600.80px;top:16.1px;width:1.30px;height:350.4px;background:linear-gradient(180deg,#ff4100 0px,#fff900 48px,#92ff6d 80px,#00f7ff 122px,#00c8ff 137px,#00b5ff 202px,#00c5ff 225px,#07fff8 237px,#e4ff1b 275px,#fff600 283px,#ff3600 325px,#f90000 343px,#e10000 350px)"></div>
<div style="position:absolute;left:601.80px;top:16.1px;width:1.30px;height:350.4px;background:linear-gradient(180deg,#ff5300 0px,#ffff00 43px,#00f7ff 116px,#00b3ff 136px,#00a0ff 202px,#00b0ff 225px,#09fff6 241px,#cdff32 274px,#fff900 286px,#ff4500 326px,#f80000 348px,#f20000 350px)"></div>
<div style="position:absolute;left:602.80px;top:16.1px;width:1.30px;height:350.4px;background:linear-gradient(180deg,#ff6800 0px,#faff05 37px,#00f8ff 109px,#009bff 136px,#0088ff 202px,#0098ff 225px,#09fff6 245px,#b9ff46 274px,#fffa00 290px,#ff5600 327px,#ff0500 350px)"></div>
<div style="position:absolute;left:603.80px;top:16.1px;width:1.30px;height:350.4px;background:linear-gradient(180deg,#ff6600 0px,#fbff04 36px,#00fcff 107px,#009aff 136px,#0087ff 202px,#0097ff 225px,#09fff6 245px,#bbff44 274px,#fff700 290px,#ff5000 328px,#ff0100 350px)"></div>
<div style="position:absolute;left:604.80px;top:16.1px;width:1.30px;height:350.4px;background:linear-gradient(180deg,#ff7a00 0px,#faff05 31px,#00fcff 100px,#0085ff 136px,#0071ff 202px,#0082ff 225px,#08fff7 248px,#a9ff56 274px,#fffa00 293px,#ff5a00 330px,#ff1100 350px)"></div>
<div style="position:absolute;left:605.80px;top:16.1px;width:1.30px;height:350.4px;background:linear-gradient(180deg,#ff9600 0px,#faff05 25px,#00fbff 91px,#0068ff 136px,#0055ff 202px,#0067ff 225px,#08fff7 252px,#90ff6f 274px,#fff700 299px,#ff6600 333px,#ff2800 350px)"></div>
<div style="position:absolute;left:606.80px;top:16.1px;width:1.30px;height:350.4px;background:linear-gradient(180deg,#ffba00 0px,#f7ff08 18px,#00f8ff 81px,#0044ff 136px,#0031ff 202px,#0044ff 225px,#08fff7 257px,#74ff8b 275px,#fff700 306px,#ff5c00 344px,#ff4500 350px)"></div>
<div style="position:absolute;left:607.80px;top:16.1px;width:1.30px;height:350.4px;background:linear-gradient(180deg,#ffb500 0px,#f9ff06 19px,#00faff 81px,#0049ff 136px,#0036ff 202px,#004aff 225px,#09fff6 256px,#7cff83 275px,#fff800 304px,#ff6400 339px,#ff3b00 350px)"></div>
<div style="position:absolute;left:608.80px;top:16.1px;width:1.30px;height:350.4px;background:linear-gradient(180deg,#ff8a00 0px,#f8ff07 30px,#00ffff 91px,#0074ff 137px,#0061ff 202px,#0076ff 225px,#07fff8 249px,#a5ff5a 274px,#fffa00 294px,#ff4f00 332px,#ff0900 350px)"></div>
<div style="position:absolute;left:609.80px;top:16.1px;width:1.30px;height:350.4px;background:linear-gradient(180deg,#ff7400 0px,#f9ff06 36px,#0ffff0 92px,#00efff 102px,#0089ff 137px,#0077ff 202px,#008dff 225px,#04fffb 245px,#b9ff46 273px,#fff900 289px,#ff3500 332px,#f80000 347px,#ed0000 350px)"></div>
<div style="position:absolute;left:610.80px;top:16.1px;width:1.30px;height:350.4px;background:linear-gradient(180deg,#ff8c00 0px,#f8ff07 31px,#00fdff 89px,#0071ff 137px,#005fff 202px,#0076ff 225px,#03fffc 248px,#a4ff5b 273px,#fffb00 293px,#ff4000 334px,#fe0000 350px)"></div>
<div style="position:absolute;left:611.80px;top:16.1px;width:1.30px;height:350.4px;background:linear-gradient(180deg,#ff9a00 0px,#f8ff07 28px,#00f9ff 85px,#0064ff 137px,#0051ff 202px,#0069ff 225px,#05fffa 250px,#9aff65 273px,#fff700 296px,#ff4400 335px,#ff0700 350px)"></div>
<div style="position:absolute;left:612.80px;top:16.1px;width:1.30px;height:350.4px;background:linear-gradient(180deg,#ff9900 0px,#f8ff07 29px,#00faff 84px,#0065ff 137px,#0052ff 202px,#006cff 225px,#08fff7 250px,#9eff61 273px,#fff800 295px,#ff3900 336px,#ff0000 350px)"></div>
<div style="position:absolute;left:613.80px;top:16.1px;width:1.30px;height:350.4px;background:linear-gradient(180deg,#ff9f00 0px,#f8ff07 28px,#00fbff 82px,#005fff 136px,#004cff 202px,#0066ff 225px,#04fffb 250px,#9aff65 273px,#fffb00 295px,#ff3b00 336px,#ff0000 350px)"></div>
<div style="position:absolute;left:614.80px;top:16.1px;width:1.30px;height:350.4px;background:linear-gradient(180deg,#ffb900 0px,#f6ff09 22px,#7fff80 50px,#00f9ff 77px,#00beff 92px,#0046ff 137px,#0034ff 202px,#004fff 225px,#02fffd 253px,#84ff7b 273px,#fff900 300px,#ff4300 339px,#ff1400 350px)"></div>
<div style="position:absolute;left:615.80px;top:16.1px;width:1.30px;height:350.4px;background:linear-gradient(180deg,#ffc400 0px,#f6ff09 19px,#87ff78 46px,#00f8ff 75px,#00baff 90px,#003fff 137px,#002dff 199px,#0048ff 225px,#02fffd 254px,#7dff82 273px,#fffb00 301px,#ff4600 340px,#ff1c00 350px)"></div>
<div style="position:absolute;left:616.80px;top:16.1px;width:1.30px;height:350.4px;background:linear-gradient(180deg,#ffd200 0px,#f7ff08 15px,#89ff76 43px,#00fbff 72px,#00b3ff 88px,#0035ff 137px,#0024ff 196px,#003fff 225px,#06fff9 256px,#77ff88 274px,#fffb00 303px,#ff3f00 344px,#ff2500 350px)"></div>
<div style="position:absolute;left:617.80px;top:16.1px;width:1.30px;height:350.4px;background:linear-gradient(180deg,#ffed00 0px,#f1ff0e 9px,#74ff8b 42px,#00fbff 67px,#0099ff 88px,#001eff 138px,#000eff 195px,#002aff 225px,#04fffb 259px,#61ff9e 274px,#fff800 308px,#ff3c00 350px)"></div>
<div style="position:absolute;left:618.80px;top:16.1px;width:1.30px;height:350.4px;background:linear-gradient(180deg,#fff300 0px,#e5ff1a 11px,#6fff90 42px,#00fbff 66px,#0098ff 87px,#001cff 138px,#000dff 193px,#0023ff 224px,#00edff 256px,#10ffef 261px,#64ff9b 275px,#fffa00 308px,#ff3d00 350px)"></div>
<div style="position:absolute;left:619.80px;top:16.1px;width:1.30px;height:350.4px;background:linear-gradient(180deg,#fff200 0px,#eeff11 9px,#71ff8e 42px,#00f8ff 67px,#009aff 87px,#0021ff 138px,#0012ff 192px,#0029ff 224px,#00ebff 255px,#08fff7 259px,#65ff9a 274px,#fffa00 307px,#ff3800 350px)"></div>
<div style="position:absolute;left:620.80px;top:16.1px;width:1.30px;height:350.4px;background:linear-gradient(180deg,#ffe000 0px,#f5ff0a 12px,#84ff7b 42px,#00f7ff 71px,#00adff 87px,#0037ff 138px,#0028ff 190px,#0040ff 224px,#02fffd 255px,#7aff85 274px,#fff800 303px,#ff3c00 344px,#ff2200 350px)"></div>
<div style="position:absolute;left:621.80px;top:16.1px;width:1.30px;height:350.4px;background:linear-gradient(180deg,#ffed00 0px,#f0ff0f 10px,#7dff82 41px,#00faff 68px,#00a2ff 87px,#002fff 138px,#0020ff 189px,#0039ff 224px,#00f1ff 254px,#0efff1 258px,#72ff8d 274px,#fff700 305px,#ff2f00 349px,#ff2b00 350px)"></div>
<div style="position:absolute;left:622.80px;top:16.1px;width:1.30px;height:350.4px;background:linear-gradient(180deg,#f0ff0f 0px,#62ff9d 40px,#00f8ff 62px,#0082ff 87px,#0011ff 138px,#0003ff 189px,#001dff 224px,#00cdff 253px,#06fff9 261px,#59ffa6 275px,#fffa00 310px,#ff4800 350px)"></div>
<div style="position:absolute;left:623.80px;top:16.1px;width:1.30px;height:350.4px;background:linear-gradient(180deg,#d5ff2a 0px,#47ffb8 40px,#00faff 56px,#0068ff 87px,#0000fa 136px,#0000eb 187px,#0006ff 224px,#00b6ff 253px,#03fffc 264px,#6dff92 284px,#fff800 315px,#ff6000 350px)"></div>
<div style="position:absolute;left:624.80px;top:16.1px;width:1.30px;height:350.4px;background:linear-gradient(180deg,#eaff15 0px,#5dffa2 40px,#00f8ff 61px,#007fff 87px,#0013ff 139px,#0005ff 187px,#0020ff 224px,#00c8ff 252px,#07fff8 261px,#5bffa4 275px,#fff900 310px,#ff4700 350px)"></div>
<div style="position:absolute;left:625.80px;top:16.1px;width:1.30px;height:350.4px;background:linear-gradient(180deg,#faff05 0px,#6fff90 40px,#00f7ff 65px,#0092ff 87px,#0028ff 139px,#001aff 187px,#0035ff 224px,#00ddff 252px,#08fff7 258px,#6cff93 274px,#fff800 306px,#ff3500 350px)"></div>
<div style="position:absolute;left:626.80px;top:16.1px;width:1.30px;height:350.4px;background:linear-gradient(180deg,#e4ff1b 0px,#5bffa4 40px,#00fbff 60px,#007fff 87px,#0017ff 139px,#0009ff 187px,#0024ff 224px,#00ccff 252px,#04fffb 260px,#5fffa0 275px,#fff700 310px,#ff4a00 350px)"></div>
<div style="position:absolute;left:627.80px;top:16.1px;width:1.30px;height:350.4px;background:linear-gradient(180deg,#bdff42 0px,#3affc5 39px,#00f6ff 53px,#005bff 87px,#0000f8 133px,#0000e5 186px,#0007ff 225px,#00a9ff 252px,#04fffb 265px,#fffd00 316px,#ff6f00 350px)"></div>
<div style="position:absolute;left:628.80px;top:16.1px;width:1.30px;height:350.4px;background:linear-gradient(180deg,#afff50 0px,#2dffd2 39px,#00f8ff 50px,#0050ff 87px,#0000f6 129px,#0000db 184px,#0000f7 224px,#007dff 247px,#09fff6 267px,#fffa00 319px,#ff7c00 350px)"></div>
<div style="position:absolute;left:629.80px;top:16.1px;width:1.30px;height:350.4px;background:linear-gradient(180deg,#afff50 0px,#2fffd0 39px,#00f5ff 51px,#0053ff 87px,#0000f7 131px,#0000e0 185px,#0008ff 226px,#00acff 253px,#07fff8 266px,#fffb00 318px,#ff7a00 350px)"></div>
<div style="position:absolute;left:630.80px;top:16.1px;width:1.10px;height:350.4px;background:linear-gradient(180deg,#acff53 0px,#2effd1 39px,#00f9ff 50px,#0053ff 87px,#0000f8 131px,#0000e2 185px,#0004ff 225px,#00a6ff 252px,#08fff7 266px,#fffb00 318px,#ff7c00 350px)"></div>
<div style="position:absolute;left:450.2px;top:263.4px;width:20px;height:104.8px;background:linear-gradient(180deg,#800000 0.0%,#ff0000 12.5%,#ff8000 25.0%,#ffff00 37.5%,#80ff80 50.0%,#00ffff 62.5%,#0080ff 75.0%,#0000ff 87.5%,#000080 100.0%)"></div>
<div style="position:absolute;left:645.1px;top:16.1px;width:14.4px;height:351px;background:linear-gradient(180deg,#800000 0.0%,#ff0000 12.5%,#ff8000 25.0%,#ffff00 37.5%,#80ff80 50.0%,#00ffff 62.5%,#0080ff 75.0%,#0000ff 87.5%,#000080 100.0%)"></div>
<svg width="685" height="409" viewBox="0 0 685 409">
<line x1="52.00" y1="195.90" x2="432.00" y2="195.90" stroke="#b2b2b2" stroke-width="0.90" stroke-dasharray="1 1.95"/>
<line x1="52.00" y1="176.53" x2="432.00" y2="176.53" stroke="#b2b2b2" stroke-width="0.90" stroke-dasharray="1 1.95"/>
<line x1="52.00" y1="157.16" x2="432.00" y2="157.16" stroke="#b2b2b2" stroke-width="0.90" stroke-dasharray="1 1.95"/>
<line x1="52.00" y1="137.78" x2="432.00" y2="137.78" stroke="#b2b2b2" stroke-width="0.90" stroke-dasharray="1 1.95"/>
<line x1="52.00" y1="118.41" x2="432.00" y2="118.41" stroke="#b2b2b2" stroke-width="0.90" stroke-dasharray="1 1.95"/>
<line x1="52.00" y1="99.04" x2="432.00" y2="99.04" stroke="#b2b2b2" stroke-width="0.90" stroke-dasharray="1 1.95"/>
<line x1="52.00" y1="79.66" x2="432.00" y2="79.66" stroke="#b2b2b2" stroke-width="0.90" stroke-dasharray="1 1.95"/>
<line x1="52.00" y1="60.29" x2="432.00" y2="60.29" stroke="#b2b2b2" stroke-width="0.90" stroke-dasharray="1 1.95"/>
<line x1="52.00" y1="40.92" x2="432.00" y2="40.92" stroke="#b2b2b2" stroke-width="0.90" stroke-dasharray="1 1.95"/>
<line x1="52.00" y1="21.55" x2="432.00" y2="21.55" stroke="#b2b2b2" stroke-width="0.90" stroke-dasharray="1 1.95"/>
<polyline points="62.4,195.8 62.4,195.6 62.9,196.2 63.3,195.0 63.8,195.6 64.2,196.7 64.7,196.8 65.1,194.4 65.6,194.7 66.0,194.2 66.5,195.4 66.9,194.1 67.4,195.4 67.8,196.0 68.3,194.8 68.7,196.0 69.2,195.8 69.6,194.0 70.1,195.6 70.5,194.7 71.0,195.2 71.4,194.8 71.9,196.0 72.3,195.3 72.8,194.4 73.2,195.5 73.7,196.2 74.1,194.8 74.6,194.6 75.0,195.0 75.5,196.7 75.9,196.8 76.4,195.9 76.8,196.6 77.3,196.4 77.7,195.0 78.2,194.1 78.6,195.8 79.1,195.5 79.5,194.9 80.0,194.5 80.0,195.3 80.4,195.0 80.9,195.2 81.3,194.6 81.8,194.6 82.2,195.1 82.7,196.3 83.1,195.5 83.6,194.6 84.0,194.6 84.5,195.1 84.9,194.3 85.4,194.3 85.8,195.3 86.3,194.0 86.7,195.2 87.2,194.8 87.6,195.8 88.1,195.9 88.5,195.7 89.0,195.7 89.4,194.8 89.9,195.7 90.3,194.7 90.8,195.4 91.2,194.6 91.7,195.0 92.1,193.8 92.6,194.3 93.0,196.5 93.5,194.3 93.9,195.7 94.4,195.5 94.8,195.7 95.3,195.0 95.7,195.4 96.2,193.8 96.6,193.8 97.1,194.1 97.5,194.0 98.0,193.8 98.4,193.9 98.9,195.2 99.3,194.1 99.8,196.4 100.0,195.0 100.2,195.5 100.7,195.1 101.1,195.6 101.6,194.2 102.0,196.2 102.5,195.9 102.9,195.6 103.4,194.8 103.8,195.9 104.3,195.6 104.7,195.3 105.2,196.1 105.6,195.2 106.1,194.4 106.5,195.0 107.0,193.9 107.4,193.9 107.9,195.5 108.3,195.6 108.8,196.2 109.2,195.8 109.7,194.9 110.1,193.5 110.6,194.7 111.0,196.0 111.5,195.5 111.9,194.6 112.4,194.5 112.8,193.8 113.3,193.7 113.7,193.3 114.2,195.8 114.6,195.0 115.1,193.5 115.5,194.3 116.0,193.2 116.4,193.7 116.9,195.2 117.3,195.0 117.8,194.4 118.2,193.8 118.7,194.9 119.1,195.8 119.6,194.2 120.0,193.1 120.5,193.1 120.9,193.2 121.0,194.4 121.4,195.8 121.8,194.5 122.3,195.4 122.7,193.3 123.2,193.6 123.6,194.9 124.1,195.5 124.5,193.8 125.0,192.9 125.4,195.3 125.9,193.6 126.3,194.9 126.8,193.1 127.2,194.7 127.7,195.1 128.1,194.8 128.6,193.7 129.0,194.7 129.5,193.0 129.9,193.5 130.4,193.8 130.8,195.1 131.3,192.9 131.7,195.1 132.2,194.8 132.6,195.3 133.1,193.5 133.5,193.0 134.0,193.1 134.4,194.8 134.9,195.2 135.3,194.4 135.8,193.7 136.2,193.1 136.7,194.7 137.1,194.8 137.6,192.5 138.0,192.8 138.5,194.7 138.9,194.7 139.4,193.1 139.8,192.9 140.0,193.6 140.3,193.4 140.7,193.7 141.2,192.3 141.6,194.5 142.1,193.5 142.5,194.2 143.0,192.6 143.4,194.7 143.8,194.0 144.3,192.8 144.7,194.6 145.2,193.8 145.6,194.2 146.1,191.7 146.5,191.7 147.0,193.8 147.4,192.4 147.9,193.0 148.3,191.9 148.8,194.3 149.2,192.9 149.7,193.8 150.0,192.8 150.1,191.5 150.6,192.7 151.0,191.4 151.5,193.9 151.9,192.5 152.4,191.4 152.8,191.4 153.3,192.8 153.7,191.3 154.2,191.6 154.6,192.4 155.1,192.5 155.5,192.8 156.0,192.9 156.4,192.1 156.9,192.8 157.3,191.4 157.8,191.7 158.2,193.3 158.7,191.3 159.1,191.5 159.6,191.5 160.0,192.3 160.0,192.2 160.5,190.8 160.9,190.8 161.4,192.1 161.8,191.1 162.3,192.6 162.7,192.9 163.2,192.3 163.6,192.6 164.1,191.6 164.5,190.5 165.0,191.7 165.4,191.4 165.9,192.1 166.3,190.6 166.8,190.9 167.2,192.6 167.7,190.9 168.0,191.6 168.1,191.0 168.6,191.5 169.0,188.4 169.5,186.9 169.5,188.0 169.9,188.4 170.4,187.7 170.4,187.5 170.8,189.3 171.3,189.2 171.5,191.2 171.7,191.0 172.2,189.7 172.6,190.4 173.1,191.8 173.5,189.9 174.0,190.6 174.4,192.7 174.9,192.6 175.3,191.1 175.8,191.9 176.2,191.6 176.7,191.1 177.1,192.3 177.6,190.2 178.0,192.2 178.5,189.8 178.9,192.3 179.4,191.7 179.8,191.0 180.0,191.2 180.3,191.7 180.7,191.0 181.2,191.9 181.6,189.8 182.1,191.0 182.5,192.0 183.0,192.1 183.4,190.0 183.9,190.0 184.3,191.9 184.8,190.2 185.2,189.3 185.7,191.2 186.0,190.5 186.1,189.7 186.6,189.1 187.0,186.8 187.5,185.3 187.6,185.0 187.9,183.1 188.4,180.6 188.8,179.4 188.8,180.9 189.3,182.4 189.7,185.1 190.0,185.5 190.2,187.3 190.6,186.6 191.1,189.9 191.5,189.8 191.5,190.9 192.0,189.9 192.4,190.1 192.9,188.8 193.3,190.7 193.8,189.0 194.2,190.1 194.7,188.9 195.1,188.8 195.6,190.5 196.0,190.1 196.5,190.7 196.9,191.1 197.4,191.7 197.8,189.1 198.3,190.8 198.7,190.6 199.2,190.9 199.6,190.6 200.0,190.5 200.1,190.7 200.5,191.6 201.0,190.3 201.4,190.6 201.9,191.0 202.3,189.2 202.8,190.2 203.2,189.2 203.7,189.3 204.1,188.9 204.6,189.5 205.0,189.5 205.5,190.4 205.9,190.5 206.0,190.3 206.4,190.9 206.8,189.5 207.3,190.3 207.7,188.4 208.0,188.5 208.2,187.8 208.6,184.1 209.1,181.2 209.5,178.0 209.5,177.0 210.0,176.0 210.4,172.0 210.4,173.4 210.9,176.5 211.3,182.0 211.3,183.3 211.8,195.3 212.0,198.5 212.2,193.2 212.7,187.0 212.8,186.0 213.1,180.7 213.5,174.0 213.6,173.6 214.0,180.2 214.5,184.2 214.5,184.0 214.9,187.4 215.4,189.6 215.5,190.0 215.8,191.1 216.3,189.1 216.7,189.5 217.2,187.7 217.6,189.0 218.0,188.6 218.1,188.3 218.5,189.7 219.0,189.3 219.4,186.6 219.9,186.0 220.3,185.9 220.8,185.9 221.2,187.2 221.7,186.3 222.0,186.0 222.1,185.7 222.6,184.2 222.7,184.0 223.0,184.1 223.5,187.2 223.5,187.5 223.9,189.0 224.4,188.4 224.8,187.6 225.3,186.4 225.7,188.6 226.2,187.0 226.6,187.6 227.1,186.3 227.5,186.6 228.0,186.6 228.4,186.8 228.9,185.6 229.3,187.5 229.8,186.0 230.2,187.2 230.7,187.2 231.1,187.4 231.6,186.2 232.0,186.1 232.5,187.5 232.9,186.3 233.4,185.6 233.8,187.8 234.3,185.1 234.7,187.7 235.0,186.5 235.2,185.8 235.6,185.8 236.1,187.4 236.5,185.5 237.0,186.1 237.4,185.0 237.9,186.3 238.3,185.5 238.8,184.5 239.2,183.1 239.7,183.7 240.1,183.9 240.6,183.1 241.0,183.6 241.5,182.4 241.9,183.0 242.0,183.0 242.4,182.2 242.8,181.7 243.0,180.8 243.3,182.5 243.7,183.9 244.0,184.0 244.2,183.8 244.6,183.9 245.1,185.2 245.5,183.7 246.0,184.9 246.4,185.7 246.9,185.5 247.3,184.4 247.8,183.7 248.2,184.7 248.7,184.9 249.1,184.5 249.6,184.0 250.0,184.3 250.5,183.2 250.9,183.9 251.4,183.5 251.8,185.1 252.3,186.0 252.7,183.6 253.2,183.3 253.6,185.5 254.1,184.3 254.5,184.8 255.0,183.5 255.4,183.9 255.9,185.5 256.3,185.3 256.8,186.0 257.0,185.0 257.2,186.3 257.7,184.3 258.1,184.9 258.6,184.2 259.0,184.2 259.5,183.7 259.9,185.3 260.4,184.1 260.8,182.5 261.3,184.0 261.7,184.6 262.2,184.2 262.6,183.1 263.1,181.3 263.5,183.5 264.0,183.7 264.4,182.9 264.9,181.8 265.0,182.0 265.3,181.5 265.8,182.4 266.2,180.4 266.7,182.2 267.1,181.2 267.6,179.8 268.0,181.9 268.5,180.4 268.9,179.4 269.4,179.4 269.8,181.3 270.3,179.1 270.7,180.8 271.2,180.7 271.6,178.3 272.0,179.5 272.1,179.2 272.5,180.1 273.0,179.0 273.4,180.0 273.9,178.1 274.3,178.7 274.8,177.1 275.2,179.0 275.7,178.8 276.1,177.6 276.6,176.5 277.0,176.4 277.5,177.0 277.9,176.5 277.9,174.9 278.4,174.5 278.8,171.9 279.0,172.0 279.3,169.9 279.7,167.6 280.0,167.0 280.2,168.1 280.6,165.1 281.1,164.9 281.5,164.1 282.0,163.1 282.4,164.3 282.9,165.5 283.3,165.3 283.8,163.1 284.0,163.0 284.2,162.1 284.7,163.0 285.1,160.6 285.6,159.7 286.0,158.6 286.0,159.4 286.5,158.4 286.9,163.1 287.4,161.3 287.8,164.7 288.0,165.0 288.3,168.9 288.7,170.2 289.2,172.3 289.5,175.0 289.6,176.6 290.1,178.9 290.5,178.5 290.5,178.9 291.0,174.9 291.4,177.4 291.9,172.0 292.0,174.0 292.3,174.1 292.8,174.3 293.2,169.8 293.7,170.7 294.0,169.9 294.1,171.0 294.6,168.5 295.0,168.9 295.5,168.1 295.9,168.7 296.4,168.6 296.8,169.6 297.3,172.1 297.7,171.9 298.0,171.0 298.2,172.5 298.6,172.1 299.1,173.0 299.5,169.8 300.0,172.2 300.4,169.5 300.9,172.2 301.3,174.3 301.8,172.5 302.2,171.7 302.4,172.9 302.7,171.9 303.1,173.0 303.6,176.5 304.0,177.3 304.5,176.4 304.9,178.3 305.4,177.4 305.5,176.0 305.8,169.1 306.3,162.8 306.5,160.0 306.7,157.2 307.2,149.6 307.5,143.3 307.6,146.6 308.1,152.0 308.3,155.0 308.5,158.4 309.0,173.4 309.2,175.0 309.4,172.9 309.9,177.0 310.3,171.0 310.6,173.0 310.8,175.5 311.2,170.6 311.7,172.2 312.1,166.0 312.6,167.6 313.0,167.0 313.0,165.3 313.5,167.7 313.9,167.0 314.4,165.1 314.8,166.2 315.3,167.5 315.7,161.1 316.2,163.7 316.6,163.9 316.7,162.7 317.1,164.2 317.5,162.3 318.0,167.1 318.4,163.5 318.9,168.2 319.0,166.0 319.3,165.9 319.8,163.7 320.2,168.6 320.7,163.5 320.8,166.5 321.1,167.2 321.6,164.1 322.0,164.4 322.5,162.1 322.9,157.5 323.0,158.0 323.4,154.6 323.8,154.7 324.3,152.0 324.7,155.9 325.2,150.9 325.6,150.8 326.0,152.5 326.1,150.7 326.5,152.5 327.0,155.2 327.4,153.9 327.9,154.9 328.0,155.0 328.3,151.0 328.8,151.8 329.2,149.6 329.7,152.6 330.0,150.0 330.1,145.9 330.6,149.5 331.0,149.0 331.5,146.4 331.9,141.6 332.4,142.2 332.8,143.2 332.8,141.0 333.3,140.6 333.7,139.9 334.2,145.0 334.6,142.9 335.0,140.0 335.1,143.1 335.5,141.2 336.0,137.8 336.4,142.3 336.9,138.0 337.3,135.1 337.4,137.7 337.8,141.7 338.2,140.1 338.7,147.2 339.0,146.0 339.1,149.1 339.6,148.3 340.0,152.8 340.2,154.2 340.5,154.1 340.9,150.7 341.4,146.5 341.8,140.8 342.0,142.3 342.3,142.8 342.7,149.1 343.2,150.0 343.6,155.4 343.9,155.1 344.1,156.4 344.5,152.8 345.0,149.9 345.4,155.9 345.9,149.7 346.0,152.0 346.3,152.8 346.8,144.8 347.2,144.8 347.7,149.1 348.1,152.8 348.6,143.0 349.0,153.7 349.4,148.7 349.5,154.4 349.9,149.9 350.4,149.8 350.8,139.6 351.3,135.8 351.5,142.0 351.7,138.1 352.2,132.8 352.6,135.9 353.0,135.9 353.1,138.8 353.5,124.0 354.0,127.0 354.2,118.0 354.4,113.7 354.9,102.6 354.9,108.3 355.3,105.5 355.7,99.0 355.8,97.7 356.2,94.5 356.7,96.3 356.7,96.0 357.1,105.2 357.5,97.5 357.6,101.8 358.0,93.9 358.5,104.6 358.5,97.3 358.9,102.6 359.2,113.9 359.4,109.9 359.8,103.7 360.0,104.0 360.3,115.8 360.7,104.5 361.2,120.8 361.3,119.4 361.6,121.7 362.1,118.5 362.2,125.0 362.5,133.4 363.0,144.0 363.1,140.5 363.4,139.4 363.9,120.4 364.0,126.0 364.3,128.0 364.8,116.6 365.0,117.5 365.2,121.2 365.7,112.3 366.1,100.0 366.5,104.0 366.6,107.4 367.0,101.0 367.5,95.7 367.7,95.0 367.9,93.9 368.4,84.4 368.5,84.0 368.8,73.0 369.1,78.7 369.3,84.8 369.7,72.0 370.2,69.7 370.5,72.0 370.6,63.9 371.1,73.8 371.5,75.7 372.0,66.7 372.1,67.0 372.4,68.8 372.9,56.1 373.0,58.0 373.3,54.1 373.5,55.2 373.8,44.0 374.0,42.5 374.2,36.8 374.7,37.4 375.0,33.7 375.1,33.4 375.6,37.0 375.8,48.0 376.0,55.9 376.4,59.1 376.5,66.6 376.9,112.9 376.9,108.3 377.4,79.7 377.4,85.0 377.8,87.3 378.0,98.3 378.3,99.0 378.7,92.3 379.0,92.0 379.2,97.9 379.6,79.0 380.0,84.6 380.1,87.8 380.5,63.8 380.9,64.0 381.0,61.9 381.4,75.0 381.5,85.0 381.9,98.5 381.9,98.3 382.3,84.2 382.8,71.9 382.8,75.0 383.2,75.5 383.7,61.2 383.8,58.2 384.1,52.7 384.3,40.0 384.6,39.9 384.8,28.8 385.0,34.2 385.3,45.0 385.5,53.3 385.8,59.1 385.9,54.8 386.4,60.3 386.8,68.3 387.0,66.0 387.3,68.0 387.7,61.1 388.2,62.3 388.6,75.4 388.7,70.9 389.1,79.8 389.5,85.1 389.7,84.6 390.0,76.3 390.4,80.4 390.5,75.0 390.9,72.0 391.3,59.9 391.7,62.1 391.8,58.7 392.2,76.5 392.5,80.0 392.7,90.7 393.1,90.0 393.6,90.9 393.6,94.4 394.0,100.9 394.5,95.0 394.5,100.0 394.9,92.9 395.4,79.6 395.6,76.8 395.8,66.7 396.3,71.2 396.7,67.2 397.0,65.0 397.2,70.7 397.6,64.3 398.1,54.5 398.5,55.2 398.5,58.5 399.0,58.8 399.4,72.7 399.5,70.9 399.9,74.5 400.3,76.9 400.8,71.3 401.0,78.0 401.2,82.8 401.7,81.9 402.1,87.5 402.4,84.6 402.6,80.5 403.0,100.4 403.5,112.4 403.5,104.7 403.9,101.0 404.4,88.3 404.4,94.4 404.8,102.7 405.3,97.5 405.5,97.0 405.7,93.3 406.2,99.4 406.2,97.3 406.6,97.4 407.1,78.6 407.3,82.6 407.5,80.0 408.0,74.6 408.3,68.0 408.4,69.4 408.9,36.6 408.9,44.5 409.3,47.7 409.8,54.6 410.0,52.0 410.2,54.2 410.7,56.6 411.1,52.2 411.2,49.4 411.6,53.9 412.0,56.0 412.2,55.0 412.5,47.0 412.9,55.3 413.2,47.4 413.4,50.8 413.8,49.5 414.0,60.0 414.3,68.1 414.7,70.0 415.1,69.9 415.2,71.9 415.6,58.7 416.0,64.0 416.1,67.0 416.5,58.8 417.0,64.9 417.1,59.1 417.4,58.0 417.9,67.3 418.1,72.8 418.3,68.1 418.8,70.2 419.0,80.0 419.2,78.6 419.7,87.9 420.0,86.5 420.1,80.2 420.5,70.0 420.6,63.4 421.0,54.3" fill="none" stroke="#0c0cf2" stroke-width="1.2" stroke-linejoin="round"/>
<g fill="#0c0cf2"><circle cx="62.4" cy="195.8" r="1.15"/><circle cx="62.4" cy="195.6" r="1.15"/><circle cx="62.9" cy="196.2" r="1.15"/><circle cx="63.3" cy="195.0" r="1.15"/><circle cx="63.8" cy="195.6" r="1.15"/><circle cx="64.2" cy="196.7" r="1.15"/><circle cx="64.7" cy="196.8" r="1.15"/><circle cx="65.1" cy="194.4" r="1.15"/><circle cx="65.6" cy="194.7" r="1.15"/><circle cx="66.0" cy="194.2" r="1.15"/><circle cx="66.5" cy="195.4" r="1.15"/><circle cx="66.9" cy="194.1" r="1.15"/><circle cx="67.4" cy="195.4" r="1.15"/><circle cx="67.8" cy="196.0" r="1.15"/><circle cx="68.3" cy="194.8" r="1.15"/><circle cx="68.7" cy="196.0" r="1.15"/><circle cx="69.2" cy="195.8" r="1.15"/><circle cx="69.6" cy="194.0" r="1.15"/><circle cx="70.1" cy="195.6" r="1.15"/><circle cx="70.5" cy="194.7" r="1.15"/><circle cx="71.0" cy="195.2" r="1.15"/><circle cx="71.4" cy="194.8" r="1.15"/><circle cx="71.9" cy="196.0" r="1.15"/><circle cx="72.3" cy="195.3" r="1.15"/><circle cx="72.8" cy="194.4" r="1.15"/><circle cx="73.2" cy="195.5" r="1.15"/><circle cx="73.7" cy="196.2" r="1.15"/><circle cx="74.1" cy="194.8" r="1.15"/><circle cx="74.6" cy="194.6" r="1.15"/><circle cx="75.0" cy="195.0" r="1.15"/><circle cx="75.5" cy="196.7" r="1.15"/><circle cx="75.9" cy="196.8" r="1.15"/><circle cx="76.4" cy="195.9" r="1.15"/><circle cx="76.8" cy="196.6" r="1.15"/><circle cx="77.3" cy="196.4" r="1.15"/><circle cx="77.7" cy="195.0" r="1.15"/><circle cx="78.2" cy="194.1" r="1.15"/><circle cx="78.6" cy="195.8" r="1.15"/><circle cx="79.1" cy="195.5" r="1.15"/><circle cx="79.5" cy="194.9" r="1.15"/><circle cx="80.0" cy="194.5" r="1.15"/><circle cx="80.0" cy="195.3" r="1.15"/><circle cx="80.4" cy="195.0" r="1.15"/><circle cx="80.9" cy="195.2" r="1.15"/><circle cx="81.3" cy="194.6" r="1.15"/><circle cx="81.8" cy="194.6" r="1.15"/><circle cx="82.2" cy="195.1" r="1.15"/><circle cx="82.7" cy="196.3" r="1.15"/><circle cx="83.1" cy="195.5" r="1.15"/><circle cx="83.6" cy="194.6" r="1.15"/><circle cx="84.0" cy="194.6" r="1.15"/><circle cx="84.5" cy="195.1" r="1.15"/><circle cx="84.9" cy="194.3" r="1.15"/><circle cx="85.4" cy="194.3" r="1.15"/><circle cx="85.8" cy="195.3" r="1.15"/><circle cx="86.3" cy="194.0" r="1.15"/><circle cx="86.7" cy="195.2" r="1.15"/><circle cx="87.2" cy="194.8" r="1.15"/><circle cx="87.6" cy="195.8" r="1.15"/><circle cx="88.1" cy="195.9" r="1.15"/><circle cx="88.5" cy="195.7" r="1.15"/><circle cx="89.0" cy="195.7" r="1.15"/><circle cx="89.4" cy="194.8" r="1.15"/><circle cx="89.9" cy="195.7" r="1.15"/><circle cx="90.3" cy="194.7" r="1.15"/><circle cx="90.8" cy="195.4" r="1.15"/><circle cx="91.2" cy="194.6" r="1.15"/><circle cx="91.7" cy="195.0" r="1.15"/><circle cx="92.1" cy="193.8" r="1.15"/><circle cx="92.6" cy="194.3" r="1.15"/><circle cx="93.0" cy="196.5" r="1.15"/><circle cx="93.5" cy="194.3" r="1.15"/><circle cx="93.9" cy="195.7" r="1.15"/><circle cx="94.4" cy="195.5" r="1.15"/><circle cx="94.8" cy="195.7" r="1.15"/><circle cx="95.3" cy="195.0" r="1.15"/><circle cx="95.7" cy="195.4" r="1.15"/><circle cx="96.2" cy="193.8" r="1.15"/><circle cx="96.6" cy="193.8" r="1.15"/><circle cx="97.1" cy="194.1" r="1.15"/><circle cx="97.5" cy="194.0" r="1.15"/><circle cx="98.0" cy="193.8" r="1.15"/><circle cx="98.4" cy="193.9" r="1.15"/><circle cx="98.9" cy="195.2" r="1.15"/><circle cx="99.3" cy="194.1" r="1.15"/><circle cx="99.8" cy="196.4" r="1.15"/><circle cx="100.0" cy="195.0" r="1.15"/><circle cx="100.2" cy="195.5" r="1.15"/><circle cx="100.7" cy="195.1" r="1.15"/><circle cx="101.1" cy="195.6" r="1.15"/><circle cx="101.6" cy="194.2" r="1.15"/><circle cx="102.0" cy="196.2" r="1.15"/><circle cx="102.5" cy="195.9" r="1.15"/><circle cx="102.9" cy="195.6" r="1.15"/><circle cx="103.4" cy="194.8" r="1.15"/><circle cx="103.8" cy="195.9" r="1.15"/><circle cx="104.3" cy="195.6" r="1.15"/><circle cx="104.7" cy="195.3" r="1.15"/><circle cx="105.2" cy="196.1" r="1.15"/><circle cx="105.6" cy="195.2" r="1.15"/><circle cx="106.1" cy="194.4" r="1.15"/><circle cx="106.5" cy="195.0" r="1.15"/><circle cx="107.0" cy="193.9" r="1.15"/><circle cx="107.4" cy="193.9" r="1.15"/><circle cx="107.9" cy="195.5" r="1.15"/><circle cx="108.3" cy="195.6" r="1.15"/><circle cx="108.8" cy="196.2" r="1.15"/><circle cx="109.2" cy="195.8" r="1.15"/><circle cx="109.7" cy="194.9" r="1.15"/><circle cx="110.1" cy="193.5" r="1.15"/><circle cx="110.6" cy="194.7" r="1.15"/><circle cx="111.0" cy="196.0" r="1.15"/><circle cx="111.5" cy="195.5" r="1.15"/><circle cx="111.9" cy="194.6" r="1.15"/><circle cx="112.4" cy="194.5" r="1.15"/><circle cx="112.8" cy="193.8" r="1.15"/><circle cx="113.3" cy="193.7" r="1.15"/><circle cx="113.7" cy="193.3" r="1.15"/><circle cx="114.2" cy="195.8" r="1.15"/><circle cx="114.6" cy="195.0" r="1.15"/><circle cx="115.1" cy="193.5" r="1.15"/><circle cx="115.5" cy="194.3" r="1.15"/><circle cx="116.0" cy="193.2" r="1.15"/><circle cx="116.4" cy="193.7" r="1.15"/><circle cx="116.9" cy="195.2" r="1.15"/><circle cx="117.3" cy="195.0" r="1.15"/><circle cx="117.8" cy="194.4" r="1.15"/><circle cx="118.2" cy="193.8" r="1.15"/><circle cx="118.7" cy="194.9" r="1.15"/><circle cx="119.1" cy="195.8" r="1.15"/><circle cx="119.6" cy="194.2" r="1.15"/><circle cx="120.0" cy="193.1" r="1.15"/><circle cx="120.5" cy="193.1" r="1.15"/><circle cx="120.9" cy="193.2" r="1.15"/><circle cx="121.0" cy="194.4" r="1.15"/><circle cx="121.4" cy="195.8" r="1.15"/><circle cx="121.8" cy="194.5" r="1.15"/><circle cx="122.3" cy="195.4" r="1.15"/><circle cx="122.7" cy="193.3" r="1.15"/><circle cx="123.2" cy="193.6" r="1.15"/><circle cx="123.6" cy="194.9" r="1.15"/><circle cx="124.1" cy="195.5" r="1.15"/><circle cx="124.5" cy="193.8" r="1.15"/><circle cx="125.0" cy="192.9" r="1.15"/><circle cx="125.4" cy="195.3" r="1.15"/><circle cx="125.9" cy="193.6" r="1.15"/><circle cx="126.3" cy="194.9" r="1.15"/><circle cx="126.8" cy="193.1" r="1.15"/><circle cx="127.2" cy="194.7" r="1.15"/><circle cx="127.7" cy="195.1" r="1.15"/><circle cx="128.1" cy="194.8" r="1.15"/><circle cx="128.6" cy="193.7" r="1.15"/><circle cx="129.0" cy="194.7" r="1.15"/><circle cx="129.5" cy="193.0" r="1.15"/><circle cx="129.9" cy="193.5" r="1.15"/><circle cx="130.4" cy="193.8" r="1.15"/><circle cx="130.8" cy="195.1" r="1.15"/><circle cx="131.3" cy="192.9" r="1.15"/><circle cx="131.7" cy="195.1" r="1.15"/><circle cx="132.2" cy="194.8" r="1.15"/><circle cx="132.6" cy="195.3" r="1.15"/><circle cx="133.1" cy="193.5" r="1.15"/><circle cx="133.5" cy="193.0" r="1.15"/><circle cx="134.0" cy="193.1" r="1.15"/><circle cx="134.4" cy="194.8" r="1.15"/><circle cx="134.9" cy="195.2" r="1.15"/><circle cx="135.3" cy="194.4" r="1.15"/><circle cx="135.8" cy="193.7" r="1.15"/><circle cx="136.2" cy="193.1" r="1.15"/><circle cx="136.7" cy="194.7" r="1.15"/><circle cx="137.1" cy="194.8" r="1.15"/><circle cx="137.6" cy="192.5" r="1.15"/><circle cx="138.0" cy="192.8" r="1.15"/><circle cx="138.5" cy="194.7" r="1.15"/><circle cx="138.9" cy="194.7" r="1.15"/><circle cx="139.4" cy="193.1" r="1.15"/><circle cx="139.8" cy="192.9" r="1.15"/><circle cx="140.0" cy="193.6" r="1.15"/><circle cx="140.3" cy="193.4" r="1.15"/><circle cx="140.7" cy="193.7" r="1.15"/><circle cx="141.2" cy="192.3" r="1.15"/><circle cx="141.6" cy="194.5" r="1.15"/><circle cx="142.1" cy="193.5" r="1.15"/><circle cx="142.5" cy="194.2" r="1.15"/><circle cx="143.0" cy="192.6" r="1.15"/><circle cx="143.4" cy="194.7" r="1.15"/><circle cx="143.8" cy="194.0" r="1.15"/><circle cx="144.3" cy="192.8" r="1.15"/><circle cx="144.7" cy="194.6" r="1.15"/><circle cx="145.2" cy="193.8" r="1.15"/><circle cx="145.6" cy="194.2" r="1.15"/><circle cx="146.1" cy="191.7" r="1.15"/><circle cx="146.5" cy="191.7" r="1.15"/><circle cx="147.0" cy="193.8" r="1.15"/><circle cx="147.4" cy="192.4" r="1.15"/><circle cx="147.9" cy="193.0" r="1.15"/><circle cx="148.3" cy="191.9" r="1.15"/><circle cx="148.8" cy="194.3" r="1.15"/><circle cx="149.2" cy="192.9" r="1.15"/><circle cx="149.7" cy="193.8" r="1.15"/><circle cx="150.0" cy="192.8" r="1.15"/><circle cx="150.1" cy="191.5" r="1.15"/><circle cx="150.6" cy="192.7" r="1.15"/><circle cx="151.0" cy="191.4" r="1.15"/><circle cx="151.5" cy="193.9" r="1.15"/><circle cx="151.9" cy="192.5" r="1.15"/><circle cx="152.4" cy="191.4" r="1.15"/><circle cx="152.8" cy="191.4" r="1.15"/><circle cx="153.3" cy="192.8" r="1.15"/><circle cx="153.7" cy="191.3" r="1.15"/><circle cx="154.2" cy="191.6" r="1.15"/><circle cx="154.6" cy="192.4" r="1.15"/><circle cx="155.1" cy="192.5" r="1.15"/><circle cx="155.5" cy="192.8" r="1.15"/><circle cx="156.0" cy="192.9" r="1.15"/><circle cx="156.4" cy="192.1" r="1.15"/><circle cx="156.9" cy="192.8" r="1.15"/><circle cx="157.3" cy="191.4" r="1.15"/><circle cx="157.8" cy="191.7" r="1.15"/><circle cx="158.2" cy="193.3" r="1.15"/><circle cx="158.7" cy="191.3" r="1.15"/><circle cx="159.1" cy="191.5" r="1.15"/><circle cx="159.6" cy="191.5" r="1.15"/><circle cx="160.0" cy="192.3" r="1.15"/><circle cx="160.0" cy="192.2" r="1.15"/><circle cx="160.5" cy="190.8" r="1.15"/><circle cx="160.9" cy="190.8" r="1.15"/><circle cx="161.4" cy="192.1" r="1.15"/><circle cx="161.8" cy="191.1" r="1.15"/><circle cx="162.3" cy="192.6" r="1.15"/><circle cx="162.7" cy="192.9" r="1.15"/><circle cx="163.2" cy="192.3" r="1.15"/><circle cx="163.6" cy="192.6" r="1.15"/><circle cx="164.1" cy="191.6" r="1.15"/><circle cx="164.5" cy="190.5" r="1.15"/><circle cx="165.0" cy="191.7" r="1.15"/><circle cx="165.4" cy="191.4" r="1.15"/><circle cx="165.9" cy="192.1" r="1.15"/><circle cx="166.3" cy="190.6" r="1.15"/><circle cx="166.8" cy="190.9" r="1.15"/><circle cx="167.2" cy="192.6" r="1.15"/><circle cx="167.7" cy="190.9" r="1.15"/><circle cx="168.0" cy="191.6" r="1.15"/><circle cx="168.1" cy="191.0" r="1.15"/><circle cx="168.6" cy="191.5" r="1.15"/><circle cx="169.0" cy="188.4" r="1.15"/><circle cx="169.5" cy="186.9" r="1.15"/><circle cx="169.5" cy="188.0" r="1.15"/><circle cx="169.9" cy="188.4" r="1.15"/><circle cx="170.4" cy="187.7" r="1.15"/><circle cx="170.4" cy="187.5" r="1.15"/><circle cx="170.8" cy="189.3" r="1.15"/><circle cx="171.3" cy="189.2" r="1.15"/><circle cx="171.5" cy="191.2" r="1.15"/><circle cx="171.7" cy="191.0" r="1.15"/><circle cx="172.2" cy="189.7" r="1.15"/><circle cx="172.6" cy="190.4" r="1.15"/><circle cx="173.1" cy="191.8" r="1.15"/><circle cx="173.5" cy="189.9" r="1.15"/><circle cx="174.0" cy="190.6" r="1.15"/><circle cx="174.4" cy="192.7" r="1.15"/><circle cx="174.9" cy="192.6" r="1.15"/><circle cx="175.3" cy="191.1" r="1.15"/><circle cx="175.8" cy="191.9" r="1.15"/><circle cx="176.2" cy="191.6" r="1.15"/><circle cx="176.7" cy="191.1" r="1.15"/><circle cx="177.1" cy="192.3" r="1.15"/><circle cx="177.6" cy="190.2" r="1.15"/><circle cx="178.0" cy="192.2" r="1.15"/><circle cx="178.5" cy="189.8" r="1.15"/><circle cx="178.9" cy="192.3" r="1.15"/><circle cx="179.4" cy="191.7" r="1.15"/><circle cx="179.8" cy="191.0" r="1.15"/><circle cx="180.0" cy="191.2" r="1.15"/><circle cx="180.3" cy="191.7" r="1.15"/><circle cx="180.7" cy="191.0" r="1.15"/><circle cx="181.2" cy="191.9" r="1.15"/><circle cx="181.6" cy="189.8" r="1.15"/><circle cx="182.1" cy="191.0" r="1.15"/><circle cx="182.5" cy="192.0" r="1.15"/><circle cx="183.0" cy="192.1" r="1.15"/><circle cx="183.4" cy="190.0" r="1.15"/><circle cx="183.9" cy="190.0" r="1.15"/><circle cx="184.3" cy="191.9" r="1.15"/><circle cx="184.8" cy="190.2" r="1.15"/><circle cx="185.2" cy="189.3" r="1.15"/><circle cx="185.7" cy="191.2" r="1.15"/><circle cx="186.0" cy="190.5" r="1.15"/><circle cx="186.1" cy="189.7" r="1.15"/><circle cx="186.6" cy="189.1" r="1.15"/><circle cx="187.0" cy="186.8" r="1.15"/><circle cx="187.5" cy="185.3" r="1.15"/><circle cx="187.6" cy="185.0" r="1.15"/><circle cx="187.9" cy="183.1" r="1.15"/><circle cx="188.4" cy="180.6" r="1.15"/><circle cx="188.8" cy="179.4" r="1.15"/><circle cx="188.8" cy="180.9" r="1.15"/><circle cx="189.3" cy="182.4" r="1.15"/><circle cx="189.7" cy="185.1" r="1.15"/><circle cx="190.0" cy="185.5" r="1.15"/><circle cx="190.2" cy="187.3" r="1.15"/><circle cx="190.6" cy="186.6" r="1.15"/><circle cx="191.1" cy="189.9" r="1.15"/><circle cx="191.5" cy="189.8" r="1.15"/><circle cx="191.5" cy="190.9" r="1.15"/><circle cx="192.0" cy="189.9" r="1.15"/><circle cx="192.4" cy="190.1" r="1.15"/><circle cx="192.9" cy="188.8" r="1.15"/><circle cx="193.3" cy="190.7" r="1.15"/><circle cx="193.8" cy="189.0" r="1.15"/><circle cx="194.2" cy="190.1" r="1.15"/><circle cx="194.7" cy="188.9" r="1.15"/><circle cx="195.1" cy="188.8" r="1.15"/><circle cx="195.6" cy="190.5" r="1.15"/><circle cx="196.0" cy="190.1" r="1.15"/><circle cx="196.5" cy="190.7" r="1.15"/><circle cx="196.9" cy="191.1" r="1.15"/><circle cx="197.4" cy="191.7" r="1.15"/><circle cx="197.8" cy="189.1" r="1.15"/><circle cx="198.3" cy="190.8" r="1.15"/><circle cx="198.7" cy="190.6" r="1.15"/><circle cx="199.2" cy="190.9" r="1.15"/><circle cx="199.6" cy="190.6" r="1.15"/><circle cx="200.0" cy="190.5" r="1.15"/><circle cx="200.1" cy="190.7" r="1.15"/><circle cx="200.5" cy="191.6" r="1.15"/><circle cx="201.0" cy="190.3" r="1.15"/><circle cx="201.4" cy="190.6" r="1.15"/><circle cx="201.9" cy="191.0" r="1.15"/><circle cx="202.3" cy="189.2" r="1.15"/><circle cx="202.8" cy="190.2" r="1.15"/><circle cx="203.2" cy="189.2" r="1.15"/><circle cx="203.7" cy="189.3" r="1.15"/><circle cx="204.1" cy="188.9" r="1.15"/><circle cx="204.6" cy="189.5" r="1.15"/><circle cx="205.0" cy="189.5" r="1.15"/><circle cx="205.5" cy="190.4" r="1.15"/><circle cx="205.9" cy="190.5" r="1.15"/><circle cx="206.0" cy="190.3" r="1.15"/><circle cx="206.4" cy="190.9" r="1.15"/><circle cx="206.8" cy="189.5" r="1.15"/><circle cx="207.3" cy="190.3" r="1.15"/><circle cx="207.7" cy="188.4" r="1.15"/><circle cx="208.0" cy="188.5" r="1.15"/><circle cx="208.2" cy="187.8" r="1.15"/><circle cx="208.6" cy="184.1" r="1.15"/><circle cx="209.1" cy="181.2" r="1.15"/><circle cx="209.5" cy="178.0" r="1.15"/><circle cx="209.5" cy="177.0" r="1.15"/><circle cx="210.0" cy="176.0" r="1.15"/><circle cx="210.4" cy="172.0" r="1.15"/><circle cx="210.4" cy="173.4" r="1.15"/><circle cx="210.9" cy="176.5" r="1.15"/><circle cx="211.3" cy="182.0" r="1.15"/><circle cx="211.3" cy="183.3" r="1.15"/><circle cx="211.8" cy="195.3" r="1.15"/><circle cx="212.0" cy="198.5" r="1.15"/><circle cx="212.2" cy="193.2" r="1.15"/><circle cx="212.7" cy="187.0" r="1.15"/><circle cx="212.8" cy="186.0" r="1.15"/><circle cx="213.1" cy="180.7" r="1.15"/><circle cx="213.5" cy="174.0" r="1.15"/><circle cx="213.6" cy="173.6" r="1.15"/><circle cx="214.0" cy="180.2" r="1.15"/><circle cx="214.5" cy="184.2" r="1.15"/><circle cx="214.5" cy="184.0" r="1.15"/><circle cx="214.9" cy="187.4" r="1.15"/><circle cx="215.4" cy="189.6" r="1.15"/><circle cx="215.5" cy="190.0" r="1.15"/><circle cx="215.8" cy="191.1" r="1.15"/><circle cx="216.3" cy="189.1" r="1.15"/><circle cx="216.7" cy="189.5" r="1.15"/><circle cx="217.2" cy="187.7" r="1.15"/><circle cx="217.6" cy="189.0" r="1.15"/><circle cx="218.0" cy="188.6" r="1.15"/><circle cx="218.1" cy="188.3" r="1.15"/><circle cx="218.5" cy="189.7" r="1.15"/><circle cx="219.0" cy="189.3" r="1.15"/><circle cx="219.4" cy="186.6" r="1.15"/><circle cx="219.9" cy="186.0" r="1.15"/><circle cx="220.3" cy="185.9" r="1.15"/><circle cx="220.8" cy="185.9" r="1.15"/><circle cx="221.2" cy="187.2" r="1.15"/><circle cx="221.7" cy="186.3" r="1.15"/><circle cx="222.0" cy="186.0" r="1.15"/><circle cx="222.1" cy="185.7" r="1.15"/><circle cx="222.6" cy="184.2" r="1.15"/><circle cx="222.7" cy="184.0" r="1.15"/><circle cx="223.0" cy="184.1" r="1.15"/><circle cx="223.5" cy="187.2" r="1.15"/><circle cx="223.5" cy="187.5" r="1.15"/><circle cx="223.9" cy="189.0" r="1.15"/><circle cx="224.4" cy="188.4" r="1.15"/><circle cx="224.8" cy="187.6" r="1.15"/><circle cx="225.3" cy="186.4" r="1.15"/><circle cx="225.7" cy="188.6" r="1.15"/><circle cx="226.2" cy="187.0" r="1.15"/><circle cx="226.6" cy="187.6" r="1.15"/><circle cx="227.1" cy="186.3" r="1.15"/><circle cx="227.5" cy="186.6" r="1.15"/><circle cx="228.0" cy="186.6" r="1.15"/><circle cx="228.4" cy="186.8" r="1.15"/><circle cx="228.9" cy="185.6" r="1.15"/><circle cx="229.3" cy="187.5" r="1.15"/><circle cx="229.8" cy="186.0" r="1.15"/><circle cx="230.2" cy="187.2" r="1.15"/><circle cx="230.7" cy="187.2" r="1.15"/><circle cx="231.1" cy="187.4" r="1.15"/><circle cx="231.6" cy="186.2" r="1.15"/><circle cx="232.0" cy="186.1" r="1.15"/><circle cx="232.5" cy="187.5" r="1.15"/><circle cx="232.9" cy="186.3" r="1.15"/><circle cx="233.4" cy="185.6" r="1.15"/><circle cx="233.8" cy="187.8" r="1.15"/><circle cx="234.3" cy="185.1" r="1.15"/><circle cx="234.7" cy="187.7" r="1.15"/><circle cx="235.0" cy="186.5" r="1.15"/><circle cx="235.2" cy="185.8" r="1.15"/><circle cx="235.6" cy="185.8" r="1.15"/><circle cx="236.1" cy="187.4" r="1.15"/><circle cx="236.5" cy="185.5" r="1.15"/><circle cx="237.0" cy="186.1" r="1.15"/><circle cx="237.4" cy="185.0" r="1.15"/><circle cx="237.9" cy="186.3" r="1.15"/><circle cx="238.3" cy="185.5" r="1.15"/><circle cx="238.8" cy="184.5" r="1.15"/><circle cx="239.2" cy="183.1" r="1.15"/><circle cx="239.7" cy="183.7" r="1.15"/><circle cx="240.1" cy="183.9" r="1.15"/><circle cx="240.6" cy="183.1" r="1.15"/><circle cx="241.0" cy="183.6" r="1.15"/><circle cx="241.5" cy="182.4" r="1.15"/><circle cx="241.9" cy="183.0" r="1.15"/><circle cx="242.0" cy="183.0" r="1.15"/><circle cx="242.4" cy="182.2" r="1.15"/><circle cx="242.8" cy="181.7" r="1.15"/><circle cx="243.0" cy="180.8" r="1.15"/><circle cx="243.3" cy="182.5" r="1.15"/><circle cx="243.7" cy="183.9" r="1.15"/><circle cx="244.0" cy="184.0" r="1.15"/><circle cx="244.2" cy="183.8" r="1.15"/><circle cx="244.6" cy="183.9" r="1.15"/><circle cx="245.1" cy="185.2" r="1.15"/><circle cx="245.5" cy="183.7" r="1.15"/><circle cx="246.0" cy="184.9" r="1.15"/><circle cx="246.4" cy="185.7" r="1.15"/><circle cx="246.9" cy="185.5" r="1.15"/><circle cx="247.3" cy="184.4" r="1.15"/><circle cx="247.8" cy="183.7" r="1.15"/><circle cx="248.2" cy="184.7" r="1.15"/><circle cx="248.7" cy="184.9" r="1.15"/><circle cx="249.1" cy="184.5" r="1.15"/><circle cx="249.6" cy="184.0" r="1.15"/><circle cx="250.0" cy="184.3" r="1.15"/><circle cx="250.5" cy="183.2" r="1.15"/><circle cx="250.9" cy="183.9" r="1.15"/><circle cx="251.4" cy="183.5" r="1.15"/><circle cx="251.8" cy="185.1" r="1.15"/><circle cx="252.3" cy="186.0" r="1.15"/><circle cx="252.7" cy="183.6" r="1.15"/><circle cx="253.2" cy="183.3" r="1.15"/><circle cx="253.6" cy="185.5" r="1.15"/><circle cx="254.1" cy="184.3" r="1.15"/><circle cx="254.5" cy="184.8" r="1.15"/><circle cx="255.0" cy="183.5" r="1.15"/><circle cx="255.4" cy="183.9" r="1.15"/><circle cx="255.9" cy="185.5" r="1.15"/><circle cx="256.3" cy="185.3" r="1.15"/><circle cx="256.8" cy="186.0" r="1.15"/><circle cx="257.0" cy="185.0" r="1.15"/><circle cx="257.2" cy="186.3" r="1.15"/><circle cx="257.7" cy="184.3" r="1.15"/><circle cx="258.1" cy="184.9" r="1.15"/><circle cx="258.6" cy="184.2" r="1.15"/><circle cx="259.0" cy="184.2" r="1.15"/><circle cx="259.5" cy="183.7" r="1.15"/><circle cx="259.9" cy="185.3" r="1.15"/><circle cx="260.4" cy="184.1" r="1.15"/><circle cx="260.8" cy="182.5" r="1.15"/><circle cx="261.3" cy="184.0" r="1.15"/><circle cx="261.7" cy="184.6" r="1.15"/><circle cx="262.2" cy="184.2" r="1.15"/><circle cx="262.6" cy="183.1" r="1.15"/><circle cx="263.1" cy="181.3" r="1.15"/><circle cx="263.5" cy="183.5" r="1.15"/><circle cx="264.0" cy="183.7" r="1.15"/><circle cx="264.4" cy="182.9" r="1.15"/><circle cx="264.9" cy="181.8" r="1.15"/><circle cx="265.0" cy="182.0" r="1.15"/><circle cx="265.3" cy="181.5" r="1.15"/><circle cx="265.8" cy="182.4" r="1.15"/><circle cx="266.2" cy="180.4" r="1.15"/><circle cx="266.7" cy="182.2" r="1.15"/><circle cx="267.1" cy="181.2" r="1.15"/><circle cx="267.6" cy="179.8" r="1.15"/><circle cx="268.0" cy="181.9" r="1.15"/><circle cx="268.5" cy="180.4" r="1.15"/><circle cx="268.9" cy="179.4" r="1.15"/><circle cx="269.4" cy="179.4" r="1.15"/><circle cx="269.8" cy="181.3" r="1.15"/><circle cx="270.3" cy="179.1" r="1.15"/><circle cx="270.7" cy="180.8" r="1.15"/><circle cx="271.2" cy="180.7" r="1.15"/><circle cx="271.6" cy="178.3" r="1.15"/><circle cx="272.0" cy="179.5" r="1.15"/><circle cx="272.1" cy="179.2" r="1.15"/><circle cx="272.5" cy="180.1" r="1.15"/><circle cx="273.0" cy="179.0" r="1.15"/><circle cx="273.4" cy="180.0" r="1.15"/><circle cx="273.9" cy="178.1" r="1.15"/><circle cx="274.3" cy="178.7" r="1.15"/><circle cx="274.8" cy="177.1" r="1.15"/><circle cx="275.2" cy="179.0" r="1.15"/><circle cx="275.7" cy="178.8" r="1.15"/><circle cx="276.1" cy="177.6" r="1.15"/><circle cx="276.6" cy="176.5" r="1.15"/><circle cx="277.0" cy="176.4" r="1.15"/><circle cx="277.5" cy="177.0" r="1.15"/><circle cx="277.9" cy="176.5" r="1.15"/><circle cx="277.9" cy="174.9" r="1.15"/><circle cx="278.4" cy="174.5" r="1.15"/><circle cx="278.8" cy="171.9" r="1.15"/><circle cx="279.0" cy="172.0" r="1.15"/><circle cx="279.3" cy="169.9" r="1.15"/><circle cx="279.7" cy="167.6" r="1.15"/><circle cx="280.0" cy="167.0" r="1.15"/><circle cx="280.2" cy="168.1" r="1.15"/><circle cx="280.6" cy="165.1" r="1.15"/><circle cx="281.1" cy="164.9" r="1.15"/><circle cx="281.5" cy="164.1" r="1.15"/><circle cx="282.0" cy="163.1" r="1.15"/><circle cx="282.4" cy="164.3" r="1.15"/><circle cx="282.9" cy="165.5" r="1.15"/><circle cx="283.3" cy="165.3" r="1.15"/><circle cx="283.8" cy="163.1" r="1.15"/><circle cx="284.0" cy="163.0" r="1.15"/><circle cx="284.2" cy="162.1" r="1.15"/><circle cx="284.7" cy="163.0" r="1.15"/><circle cx="285.1" cy="160.6" r="1.15"/><circle cx="285.6" cy="159.7" r="1.15"/><circle cx="286.0" cy="158.6" r="1.15"/><circle cx="286.0" cy="159.4" r="1.15"/><circle cx="286.5" cy="158.4" r="1.15"/><circle cx="286.9" cy="163.1" r="1.15"/><circle cx="287.4" cy="161.3" r="1.15"/><circle cx="287.8" cy="164.7" r="1.15"/><circle cx="288.0" cy="165.0" r="1.15"/><circle cx="288.3" cy="168.9" r="1.15"/><circle cx="288.7" cy="170.2" r="1.15"/><circle cx="289.2" cy="172.3" r="1.15"/><circle cx="289.5" cy="175.0" r="1.15"/><circle cx="289.6" cy="176.6" r="1.15"/><circle cx="290.1" cy="178.9" r="1.15"/><circle cx="290.5" cy="178.5" r="1.15"/><circle cx="290.5" cy="178.9" r="1.15"/><circle cx="291.0" cy="174.9" r="1.15"/><circle cx="291.4" cy="177.4" r="1.15"/><circle cx="291.9" cy="172.0" r="1.15"/><circle cx="292.0" cy="174.0" r="1.15"/><circle cx="292.3" cy="174.1" r="1.15"/><circle cx="292.8" cy="174.3" r="1.15"/><circle cx="293.2" cy="169.8" r="1.15"/><circle cx="293.7" cy="170.7" r="1.15"/><circle cx="294.0" cy="169.9" r="1.15"/><circle cx="294.1" cy="171.0" r="1.15"/><circle cx="294.6" cy="168.5" r="1.15"/><circle cx="295.0" cy="168.9" r="1.15"/><circle cx="295.5" cy="168.1" r="1.15"/><circle cx="295.9" cy="168.7" r="1.15"/><circle cx="296.4" cy="168.6" r="1.15"/><circle cx="296.8" cy="169.6" r="1.15"/><circle cx="297.3" cy="172.1" r="1.15"/><circle cx="297.7" cy="171.9" r="1.15"/><circle cx="298.0" cy="171.0" r="1.15"/><circle cx="298.2" cy="172.5" r="1.15"/><circle cx="298.6" cy="172.1" r="1.15"/><circle cx="299.1" cy="173.0" r="1.15"/><circle cx="299.5" cy="169.8" r="1.15"/><circle cx="300.0" cy="172.2" r="1.15"/><circle cx="300.4" cy="169.5" r="1.15"/><circle cx="300.9" cy="172.2" r="1.15"/><circle cx="301.3" cy="174.3" r="1.15"/><circle cx="301.8" cy="172.5" r="1.15"/><circle cx="302.2" cy="171.7" r="1.15"/><circle cx="302.4" cy="172.9" r="1.15"/><circle cx="302.7" cy="171.9" r="1.15"/><circle cx="303.1" cy="173.0" r="1.15"/><circle cx="303.6" cy="176.5" r="1.15"/><circle cx="304.0" cy="177.3" r="1.15"/><circle cx="304.5" cy="176.4" r="1.15"/><circle cx="304.9" cy="178.3" r="1.15"/><circle cx="305.4" cy="177.4" r="1.15"/><circle cx="305.5" cy="176.0" r="1.15"/><circle cx="305.8" cy="169.1" r="1.15"/><circle cx="306.3" cy="162.8" r="1.15"/><circle cx="306.5" cy="160.0" r="1.15"/><circle cx="306.7" cy="157.2" r="1.15"/><circle cx="307.2" cy="149.6" r="1.15"/><circle cx="307.5" cy="143.3" r="1.15"/><circle cx="307.6" cy="146.6" r="1.15"/><circle cx="308.1" cy="152.0" r="1.15"/><circle cx="308.3" cy="155.0" r="1.15"/><circle cx="308.5" cy="158.4" r="1.15"/><circle cx="309.0" cy="173.4" r="1.15"/><circle cx="309.2" cy="175.0" r="1.15"/><circle cx="309.4" cy="172.9" r="1.15"/><circle cx="309.9" cy="177.0" r="1.15"/><circle cx="310.3" cy="171.0" r="1.15"/><circle cx="310.6" cy="173.0" r="1.15"/><circle cx="310.8" cy="175.5" r="1.15"/><circle cx="311.2" cy="170.6" r="1.15"/><circle cx="311.7" cy="172.2" r="1.15"/><circle cx="312.1" cy="166.0" r="1.15"/><circle cx="312.6" cy="167.6" r="1.15"/><circle cx="313.0" cy="167.0" r="1.15"/><circle cx="313.0" cy="165.3" r="1.15"/><circle cx="313.5" cy="167.7" r="1.15"/><circle cx="313.9" cy="167.0" r="1.15"/><circle cx="314.4" cy="165.1" r="1.15"/><circle cx="314.8" cy="166.2" r="1.15"/><circle cx="315.3" cy="167.5" r="1.15"/><circle cx="315.7" cy="161.1" r="1.15"/><circle cx="316.2" cy="163.7" r="1.15"/><circle cx="316.6" cy="163.9" r="1.15"/><circle cx="316.7" cy="162.7" r="1.15"/><circle cx="317.1" cy="164.2" r="1.15"/><circle cx="317.5" cy="162.3" r="1.15"/><circle cx="318.0" cy="167.1" r="1.15"/><circle cx="318.4" cy="163.5" r="1.15"/><circle cx="318.9" cy="168.2" r="1.15"/><circle cx="319.0" cy="166.0" r="1.15"/><circle cx="319.3" cy="165.9" r="1.15"/><circle cx="319.8" cy="163.7" r="1.15"/><circle cx="320.2" cy="168.6" r="1.15"/><circle cx="320.7" cy="163.5" r="1.15"/><circle cx="320.8" cy="166.5" r="1.15"/><circle cx="321.1" cy="167.2" r="1.15"/><circle cx="321.6" cy="164.1" r="1.15"/><circle cx="322.0" cy="164.4" r="1.15"/><circle cx="322.5" cy="162.1" r="1.15"/><circle cx="322.9" cy="157.5" r="1.15"/><circle cx="323.0" cy="158.0" r="1.15"/><circle cx="323.4" cy="154.6" r="1.15"/><circle cx="323.8" cy="154.7" r="1.15"/><circle cx="324.3" cy="152.0" r="1.15"/><circle cx="324.7" cy="155.9" r="1.15"/><circle cx="325.2" cy="150.9" r="1.15"/><circle cx="325.6" cy="150.8" r="1.15"/><circle cx="326.0" cy="152.5" r="1.15"/><circle cx="326.1" cy="150.7" r="1.15"/><circle cx="326.5" cy="152.5" r="1.15"/><circle cx="327.0" cy="155.2" r="1.15"/><circle cx="327.4" cy="153.9" r="1.15"/><circle cx="327.9" cy="154.9" r="1.15"/><circle cx="328.0" cy="155.0" r="1.15"/><circle cx="328.3" cy="151.0" r="1.15"/><circle cx="328.8" cy="151.8" r="1.15"/><circle cx="329.2" cy="149.6" r="1.15"/><circle cx="329.7" cy="152.6" r="1.15"/><circle cx="330.0" cy="150.0" r="1.15"/><circle cx="330.1" cy="145.9" r="1.15"/><circle cx="330.6" cy="149.5" r="1.15"/><circle cx="331.0" cy="149.0" r="1.15"/><circle cx="331.5" cy="146.4" r="1.15"/><circle cx="331.9" cy="141.6" r="1.15"/><circle cx="332.4" cy="142.2" r="1.15"/><circle cx="332.8" cy="143.2" r="1.15"/><circle cx="332.8" cy="141.0" r="1.15"/><circle cx="333.3" cy="140.6" r="1.15"/><circle cx="333.7" cy="139.9" r="1.15"/><circle cx="334.2" cy="145.0" r="1.15"/><circle cx="334.6" cy="142.9" r="1.15"/><circle cx="335.0" cy="140.0" r="1.15"/><circle cx="335.1" cy="143.1" r="1.15"/><circle cx="335.5" cy="141.2" r="1.15"/><circle cx="336.0" cy="137.8" r="1.15"/><circle cx="336.4" cy="142.3" r="1.15"/><circle cx="336.9" cy="138.0" r="1.15"/><circle cx="337.3" cy="135.1" r="1.15"/><circle cx="337.4" cy="137.7" r="1.15"/><circle cx="337.8" cy="141.7" r="1.15"/><circle cx="338.2" cy="140.1" r="1.15"/><circle cx="338.7" cy="147.2" r="1.15"/><circle cx="339.0" cy="146.0" r="1.15"/><circle cx="339.1" cy="149.1" r="1.15"/><circle cx="339.6" cy="148.3" r="1.15"/><circle cx="340.0" cy="152.8" r="1.15"/><circle cx="340.2" cy="154.2" r="1.15"/><circle cx="340.5" cy="154.1" r="1.15"/><circle cx="340.9" cy="150.7" r="1.15"/><circle cx="341.4" cy="146.5" r="1.15"/><circle cx="341.8" cy="140.8" r="1.15"/><circle cx="342.0" cy="142.3" r="1.15"/><circle cx="342.3" cy="142.8" r="1.15"/><circle cx="342.7" cy="149.1" r="1.15"/><circle cx="343.2" cy="150.0" r="1.15"/><circle cx="343.6" cy="155.4" r="1.15"/><circle cx="343.9" cy="155.1" r="1.15"/><circle cx="344.1" cy="156.4" r="1.15"/><circle cx="344.5" cy="152.8" r="1.15"/><circle cx="345.0" cy="149.9" r="1.15"/><circle cx="345.4" cy="155.9" r="1.15"/><circle cx="345.9" cy="149.7" r="1.15"/><circle cx="346.0" cy="152.0" r="1.15"/><circle cx="346.3" cy="152.8" r="1.15"/><circle cx="346.8" cy="144.8" r="1.15"/><circle cx="347.2" cy="144.8" r="1.15"/><circle cx="347.7" cy="149.1" r="1.15"/><circle cx="348.1" cy="152.8" r="1.15"/><circle cx="348.6" cy="143.0" r="1.15"/><circle cx="349.0" cy="153.7" r="1.15"/><circle cx="349.4" cy="148.7" r="1.15"/><circle cx="349.5" cy="154.4" r="1.15"/><circle cx="349.9" cy="149.9" r="1.15"/><circle cx="350.4" cy="149.8" r="1.15"/><circle cx="350.8" cy="139.6" r="1.15"/><circle cx="351.3" cy="135.8" r="1.15"/><circle cx="351.5" cy="142.0" r="1.15"/><circle cx="351.7" cy="138.1" r="1.15"/><circle cx="352.2" cy="132.8" r="1.15"/><circle cx="352.6" cy="135.9" r="1.15"/><circle cx="353.0" cy="135.9" r="1.15"/><circle cx="353.1" cy="138.8" r="1.15"/><circle cx="353.5" cy="124.0" r="1.15"/><circle cx="354.0" cy="127.0" r="1.15"/><circle cx="354.2" cy="118.0" r="1.15"/><circle cx="354.4" cy="113.7" r="1.15"/><circle cx="354.9" cy="102.6" r="1.15"/><circle cx="354.9" cy="108.3" r="1.15"/><circle cx="355.3" cy="105.5" r="1.15"/><circle cx="355.7" cy="99.0" r="1.15"/><circle cx="355.8" cy="97.7" r="1.15"/><circle cx="356.2" cy="94.5" r="1.15"/><circle cx="356.7" cy="96.3" r="1.15"/><circle cx="356.7" cy="96.0" r="1.15"/><circle cx="357.1" cy="105.2" r="1.15"/><circle cx="357.5" cy="97.5" r="1.15"/><circle cx="357.6" cy="101.8" r="1.15"/><circle cx="358.0" cy="93.9" r="1.15"/><circle cx="358.5" cy="104.6" r="1.15"/><circle cx="358.5" cy="97.3" r="1.15"/><circle cx="358.9" cy="102.6" r="1.15"/><circle cx="359.2" cy="113.9" r="1.15"/><circle cx="359.4" cy="109.9" r="1.15"/><circle cx="359.8" cy="103.7" r="1.15"/><circle cx="360.0" cy="104.0" r="1.15"/><circle cx="360.3" cy="115.8" r="1.15"/><circle cx="360.7" cy="104.5" r="1.15"/><circle cx="361.2" cy="120.8" r="1.15"/><circle cx="361.3" cy="119.4" r="1.15"/><circle cx="361.6" cy="121.7" r="1.15"/><circle cx="362.1" cy="118.5" r="1.15"/><circle cx="362.2" cy="125.0" r="1.15"/><circle cx="362.5" cy="133.4" r="1.15"/><circle cx="363.0" cy="144.0" r="1.15"/><circle cx="363.1" cy="140.5" r="1.15"/><circle cx="363.4" cy="139.4" r="1.15"/><circle cx="363.9" cy="120.4" r="1.15"/><circle cx="364.0" cy="126.0" r="1.15"/><circle cx="364.3" cy="128.0" r="1.15"/><circle cx="364.8" cy="116.6" r="1.15"/><circle cx="365.0" cy="117.5" r="1.15"/><circle cx="365.2" cy="121.2" r="1.15"/><circle cx="365.7" cy="112.3" r="1.15"/><circle cx="366.1" cy="100.0" r="1.15"/><circle cx="366.5" cy="104.0" r="1.15"/><circle cx="366.6" cy="107.4" r="1.15"/><circle cx="367.0" cy="101.0" r="1.15"/><circle cx="367.5" cy="95.7" r="1.15"/><circle cx="367.7" cy="95.0" r="1.15"/><circle cx="367.9" cy="93.9" r="1.15"/><circle cx="368.4" cy="84.4" r="1.15"/><circle cx="368.5" cy="84.0" r="1.15"/><circle cx="368.8" cy="73.0" r="1.15"/><circle cx="369.1" cy="78.7" r="1.15"/><circle cx="369.3" cy="84.8" r="1.15"/><circle cx="369.7" cy="72.0" r="1.15"/><circle cx="370.2" cy="69.7" r="1.15"/><circle cx="370.5" cy="72.0" r="1.15"/><circle cx="370.6" cy="63.9" r="1.15"/><circle cx="371.1" cy="73.8" r="1.15"/><circle cx="371.5" cy="75.7" r="1.15"/><circle cx="372.0" cy="66.7" r="1.15"/><circle cx="372.1" cy="67.0" r="1.15"/><circle cx="372.4" cy="68.8" r="1.15"/><circle cx="372.9" cy="56.1" r="1.15"/><circle cx="373.0" cy="58.0" r="1.15"/><circle cx="373.3" cy="54.1" r="1.15"/><circle cx="373.5" cy="55.2" r="1.15"/><circle cx="373.8" cy="44.0" r="1.15"/><circle cx="374.0" cy="42.5" r="1.15"/><circle cx="374.2" cy="36.8" r="1.15"/><circle cx="374.7" cy="37.4" r="1.15"/><circle cx="375.0" cy="33.7" r="1.15"/><circle cx="375.1" cy="33.4" r="1.15"/><circle cx="375.6" cy="37.0" r="1.15"/><circle cx="375.8" cy="48.0" r="1.15"/><circle cx="376.0" cy="55.9" r="1.15"/><circle cx="376.4" cy="59.1" r="1.15"/><circle cx="376.5" cy="66.6" r="1.15"/><circle cx="376.9" cy="112.9" r="1.15"/><circle cx="376.9" cy="108.3" r="1.15"/><circle cx="377.4" cy="79.7" r="1.15"/><circle cx="377.4" cy="85.0" r="1.15"/><circle cx="377.8" cy="87.3" r="1.15"/><circle cx="378.0" cy="98.3" r="1.15"/><circle cx="378.3" cy="99.0" r="1.15"/><circle cx="378.7" cy="92.3" r="1.15"/><circle cx="379.0" cy="92.0" r="1.15"/><circle cx="379.2" cy="97.9" r="1.15"/><circle cx="379.6" cy="79.0" r="1.15"/><circle cx="380.0" cy="84.6" r="1.15"/><circle cx="380.1" cy="87.8" r="1.15"/><circle cx="380.5" cy="63.8" r="1.15"/><circle cx="380.9" cy="64.0" r="1.15"/><circle cx="381.0" cy="61.9" r="1.15"/><circle cx="381.4" cy="75.0" r="1.15"/><circle cx="381.5" cy="85.0" r="1.15"/><circle cx="381.9" cy="98.5" r="1.15"/><circle cx="381.9" cy="98.3" r="1.15"/><circle cx="382.3" cy="84.2" r="1.15"/><circle cx="382.8" cy="71.9" r="1.15"/><circle cx="382.8" cy="75.0" r="1.15"/><circle cx="383.2" cy="75.5" r="1.15"/><circle cx="383.7" cy="61.2" r="1.15"/><circle cx="383.8" cy="58.2" r="1.15"/><circle cx="384.1" cy="52.7" r="1.15"/><circle cx="384.3" cy="40.0" r="1.15"/><circle cx="384.6" cy="39.9" r="1.15"/><circle cx="384.8" cy="28.8" r="1.15"/><circle cx="385.0" cy="34.2" r="1.15"/><circle cx="385.3" cy="45.0" r="1.15"/><circle cx="385.5" cy="53.3" r="1.15"/><circle cx="385.8" cy="59.1" r="1.15"/><circle cx="385.9" cy="54.8" r="1.15"/><circle cx="386.4" cy="60.3" r="1.15"/><circle cx="386.8" cy="68.3" r="1.15"/><circle cx="387.0" cy="66.0" r="1.15"/><circle cx="387.3" cy="68.0" r="1.15"/><circle cx="387.7" cy="61.1" r="1.15"/><circle cx="388.2" cy="62.3" r="1.15"/><circle cx="388.6" cy="75.4" r="1.15"/><circle cx="388.7" cy="70.9" r="1.15"/><circle cx="389.1" cy="79.8" r="1.15"/><circle cx="389.5" cy="85.1" r="1.15"/><circle cx="389.7" cy="84.6" r="1.15"/><circle cx="390.0" cy="76.3" r="1.15"/><circle cx="390.4" cy="80.4" r="1.15"/><circle cx="390.5" cy="75.0" r="1.15"/><circle cx="390.9" cy="72.0" r="1.15"/><circle cx="391.3" cy="59.9" r="1.15"/><circle cx="391.7" cy="62.1" r="1.15"/><circle cx="391.8" cy="58.7" r="1.15"/><circle cx="392.2" cy="76.5" r="1.15"/><circle cx="392.5" cy="80.0" r="1.15"/><circle cx="392.7" cy="90.7" r="1.15"/><circle cx="393.1" cy="90.0" r="1.15"/><circle cx="393.6" cy="90.9" r="1.15"/><circle cx="393.6" cy="94.4" r="1.15"/><circle cx="394.0" cy="100.9" r="1.15"/><circle cx="394.5" cy="95.0" r="1.15"/><circle cx="394.5" cy="100.0" r="1.15"/><circle cx="394.9" cy="92.9" r="1.15"/><circle cx="395.4" cy="79.6" r="1.15"/><circle cx="395.6" cy="76.8" r="1.15"/><circle cx="395.8" cy="66.7" r="1.15"/><circle cx="396.3" cy="71.2" r="1.15"/><circle cx="396.7" cy="67.2" r="1.15"/><circle cx="397.0" cy="65.0" r="1.15"/><circle cx="397.2" cy="70.7" r="1.15"/><circle cx="397.6" cy="64.3" r="1.15"/><circle cx="398.1" cy="54.5" r="1.15"/><circle cx="398.5" cy="55.2" r="1.15"/><circle cx="398.5" cy="58.5" r="1.15"/><circle cx="399.0" cy="58.8" r="1.15"/><circle cx="399.4" cy="72.7" r="1.15"/><circle cx="399.5" cy="70.9" r="1.15"/><circle cx="399.9" cy="74.5" r="1.15"/><circle cx="400.3" cy="76.9" r="1.15"/><circle cx="400.8" cy="71.3" r="1.15"/><circle cx="401.0" cy="78.0" r="1.15"/><circle cx="401.2" cy="82.8" r="1.15"/><circle cx="401.7" cy="81.9" r="1.15"/><circle cx="402.1" cy="87.5" r="1.15"/><circle cx="402.4" cy="84.6" r="1.15"/><circle cx="402.6" cy="80.5" r="1.15"/><circle cx="403.0" cy="100.4" r="1.15"/><circle cx="403.5" cy="112.4" r="1.15"/><circle cx="403.5" cy="104.7" r="1.15"/><circle cx="403.9" cy="101.0" r="1.15"/><circle cx="404.4" cy="88.3" r="1.15"/><circle cx="404.4" cy="94.4" r="1.15"/><circle cx="404.8" cy="102.7" r="1.15"/><circle cx="405.3" cy="97.5" r="1.15"/><circle cx="405.5" cy="97.0" r="1.15"/><circle cx="405.7" cy="93.3" r="1.15"/><circle cx="406.2" cy="99.4" r="1.15"/><circle cx="406.2" cy="97.3" r="1.15"/><circle cx="406.6" cy="97.4" r="1.15"/><circle cx="407.1" cy="78.6" r="1.15"/><circle cx="407.3" cy="82.6" r="1.15"/><circle cx="407.5" cy="80.0" r="1.15"/><circle cx="408.0" cy="74.6" r="1.15"/><circle cx="408.3" cy="68.0" r="1.15"/><circle cx="408.4" cy="69.4" r="1.15"/><circle cx="408.9" cy="36.6" r="1.15"/><circle cx="408.9" cy="44.5" r="1.15"/><circle cx="409.3" cy="47.7" r="1.15"/><circle cx="409.8" cy="54.6" r="1.15"/><circle cx="410.0" cy="52.0" r="1.15"/><circle cx="410.2" cy="54.2" r="1.15"/><circle cx="410.7" cy="56.6" r="1.15"/><circle cx="411.1" cy="52.2" r="1.15"/><circle cx="411.2" cy="49.4" r="1.15"/><circle cx="411.6" cy="53.9" r="1.15"/><circle cx="412.0" cy="56.0" r="1.15"/><circle cx="412.2" cy="55.0" r="1.15"/><circle cx="412.5" cy="47.0" r="1.15"/><circle cx="412.9" cy="55.3" r="1.15"/><circle cx="413.2" cy="47.4" r="1.15"/><circle cx="413.4" cy="50.8" r="1.15"/><circle cx="413.8" cy="49.5" r="1.15"/><circle cx="414.0" cy="60.0" r="1.15"/><circle cx="414.3" cy="68.1" r="1.15"/><circle cx="414.7" cy="70.0" r="1.15"/><circle cx="415.1" cy="69.9" r="1.15"/><circle cx="415.2" cy="71.9" r="1.15"/><circle cx="415.6" cy="58.7" r="1.15"/><circle cx="416.0" cy="64.0" r="1.15"/><circle cx="416.1" cy="67.0" r="1.15"/><circle cx="416.5" cy="58.8" r="1.15"/><circle cx="417.0" cy="64.9" r="1.15"/><circle cx="417.1" cy="59.1" r="1.15"/><circle cx="417.4" cy="58.0" r="1.15"/><circle cx="417.9" cy="67.3" r="1.15"/><circle cx="418.1" cy="72.8" r="1.15"/><circle cx="418.3" cy="68.1" r="1.15"/><circle cx="418.8" cy="70.2" r="1.15"/><circle cx="419.0" cy="80.0" r="1.15"/><circle cx="419.2" cy="78.6" r="1.15"/><circle cx="419.7" cy="87.9" r="1.15"/><circle cx="420.0" cy="86.5" r="1.15"/><circle cx="420.1" cy="80.2" r="1.15"/><circle cx="420.5" cy="70.0" r="1.15"/><circle cx="420.6" cy="63.4" r="1.15"/><circle cx="421.0" cy="54.3" r="1.15"/></g>
<rect x="51.0" y="15.4" width="382.0" height="193.5" fill="none" stroke="#474747" stroke-width="1.8"/>
<line x1="62.60" y1="208.90" x2="62.60" y2="212.70" stroke="#474747" stroke-width="1.50" />
<line x1="62.60" y1="15.40" x2="62.60" y2="19.40" stroke="#474747" stroke-width="1.50" />
<line x1="182.15" y1="208.90" x2="182.15" y2="212.70" stroke="#474747" stroke-width="1.50" />
<line x1="182.15" y1="15.40" x2="182.15" y2="19.40" stroke="#474747" stroke-width="1.50" />
<line x1="301.70" y1="208.90" x2="301.70" y2="212.70" stroke="#474747" stroke-width="1.50" />
<line x1="301.70" y1="15.40" x2="301.70" y2="19.40" stroke="#474747" stroke-width="1.50" />
<line x1="421.25" y1="208.90" x2="421.25" y2="212.70" stroke="#474747" stroke-width="1.50" />
<line x1="421.25" y1="15.40" x2="421.25" y2="19.40" stroke="#474747" stroke-width="1.50" />
<line x1="122.38" y1="208.90" x2="122.38" y2="211.10" stroke="#474747" stroke-width="1.50" />
<line x1="122.38" y1="15.40" x2="122.38" y2="17.60" stroke="#474747" stroke-width="1.50" />
<line x1="241.92" y1="208.90" x2="241.92" y2="211.10" stroke="#474747" stroke-width="1.50" />
<line x1="241.92" y1="15.40" x2="241.92" y2="17.60" stroke="#474747" stroke-width="1.50" />
<line x1="361.48" y1="208.90" x2="361.48" y2="211.10" stroke="#474747" stroke-width="1.50" />
<line x1="361.48" y1="15.40" x2="361.48" y2="17.60" stroke="#474747" stroke-width="1.50" />
<line x1="51.00" y1="195.90" x2="47.20" y2="195.90" stroke="#474747" stroke-width="1.50" />
<line x1="433.00" y1="195.90" x2="429.00" y2="195.90" stroke="#474747" stroke-width="1.50" />
<line x1="51.00" y1="157.16" x2="47.20" y2="157.16" stroke="#474747" stroke-width="1.50" />
<line x1="433.00" y1="157.16" x2="429.00" y2="157.16" stroke="#474747" stroke-width="1.50" />
<line x1="51.00" y1="118.41" x2="47.20" y2="118.41" stroke="#474747" stroke-width="1.50" />
<line x1="433.00" y1="118.41" x2="429.00" y2="118.41" stroke="#474747" stroke-width="1.50" />
<line x1="51.00" y1="79.66" x2="47.20" y2="79.66" stroke="#474747" stroke-width="1.50" />
<line x1="433.00" y1="79.66" x2="429.00" y2="79.66" stroke="#474747" stroke-width="1.50" />
<line x1="51.00" y1="40.92" x2="47.20" y2="40.92" stroke="#474747" stroke-width="1.50" />
<line x1="433.00" y1="40.92" x2="429.00" y2="40.92" stroke="#474747" stroke-width="1.50" />
<line x1="51.00" y1="176.53" x2="48.80" y2="176.53" stroke="#474747" stroke-width="1.50" />
<line x1="433.00" y1="176.53" x2="430.80" y2="176.53" stroke="#474747" stroke-width="1.50" />
<line x1="51.00" y1="137.78" x2="48.80" y2="137.78" stroke="#474747" stroke-width="1.50" />
<line x1="433.00" y1="137.78" x2="430.80" y2="137.78" stroke="#474747" stroke-width="1.50" />
<line x1="51.00" y1="99.04" x2="48.80" y2="99.04" stroke="#474747" stroke-width="1.50" />
<line x1="433.00" y1="99.04" x2="430.80" y2="99.04" stroke="#474747" stroke-width="1.50" />
<line x1="51.00" y1="60.29" x2="48.80" y2="60.29" stroke="#474747" stroke-width="1.50" />
<line x1="433.00" y1="60.29" x2="430.80" y2="60.29" stroke="#474747" stroke-width="1.50" />
<line x1="51.00" y1="21.55" x2="48.80" y2="21.55" stroke="#474747" stroke-width="1.50" />
<line x1="433.00" y1="21.55" x2="430.80" y2="21.55" stroke="#474747" stroke-width="1.50" />
<text x="43.3" y="201.5" font-size="16.0" text-anchor="end" >0</text>
<text x="43.3" y="162.8" font-size="16.0" text-anchor="end" >15</text>
<text x="43.3" y="124.0" font-size="16.0" text-anchor="end" >30</text>
<text x="43.3" y="85.3" font-size="16.0" text-anchor="end" >45</text>
<text x="43.3" y="46.5" font-size="16.0" text-anchor="end" >60</text>
<text x="62.6" y="226.6" font-size="16.0" text-anchor="middle" >0</text>
<text x="182.2" y="226.6" font-size="16.0" text-anchor="middle" >5</text>
<text x="301.7" y="226.6" font-size="16.0" text-anchor="middle" >10</text>
<text x="421.2" y="226.6" font-size="16.0" text-anchor="middle" >15</text>
<text x="0.0" y="0.0" font-size="16.0" text-anchor="middle" transform="translate(17.4,114.3) rotate(-90)">Current (pA)</text>
<text x="219.6" y="236.5" font-size="16">V<tspan font-size="11" dy="4.2">BG</tspan><tspan dy="-4.2"> (V)</tspan></text>
<text x="1.2" y="19.0" font-size="16.8" text-anchor="start" >(a)</text>
<rect x="91.7" y="27.5" width="152.2" height="111.6" fill="#fff" stroke="#111" stroke-width="1.2"/>
<line x1="104.30" y1="139.10" x2="104.30" y2="141.70" stroke="#111" stroke-width="1.10" />
<line x1="104.30" y1="27.50" x2="104.30" y2="30.10" stroke="#111" stroke-width="1.10" />
<line x1="167.90" y1="139.10" x2="167.90" y2="141.70" stroke="#111" stroke-width="1.10" />
<line x1="167.90" y1="27.50" x2="167.90" y2="30.10" stroke="#111" stroke-width="1.10" />
<line x1="231.50" y1="139.10" x2="231.50" y2="141.70" stroke="#111" stroke-width="1.10" />
<line x1="231.50" y1="27.50" x2="231.50" y2="30.10" stroke="#111" stroke-width="1.10" />
<line x1="136.10" y1="139.10" x2="136.10" y2="140.70" stroke="#111" stroke-width="1.10" />
<line x1="136.10" y1="27.50" x2="136.10" y2="29.10" stroke="#111" stroke-width="1.10" />
<line x1="199.70" y1="139.10" x2="199.70" y2="140.70" stroke="#111" stroke-width="1.10" />
<line x1="199.70" y1="27.50" x2="199.70" y2="29.10" stroke="#111" stroke-width="1.10" />
<line x1="91.70" y1="126.40" x2="89.10" y2="126.40" stroke="#111" stroke-width="1.10" />
<line x1="243.90" y1="126.40" x2="241.30" y2="126.40" stroke="#111" stroke-width="1.10" />
<line x1="91.70" y1="77.10" x2="89.10" y2="77.10" stroke="#111" stroke-width="1.10" />
<line x1="243.90" y1="77.10" x2="241.30" y2="77.10" stroke="#111" stroke-width="1.10" />
<line x1="91.70" y1="27.80" x2="89.10" y2="27.80" stroke="#111" stroke-width="1.10" />
<line x1="243.90" y1="27.80" x2="241.30" y2="27.80" stroke="#111" stroke-width="1.10" />
<line x1="91.70" y1="101.75" x2="90.10" y2="101.75" stroke="#111" stroke-width="1.10" />
<line x1="243.90" y1="101.75" x2="242.30" y2="101.75" stroke="#111" stroke-width="1.10" />
<line x1="91.70" y1="52.45" x2="90.10" y2="52.45" stroke="#111" stroke-width="1.10" />
<line x1="243.90" y1="52.45" x2="242.30" y2="52.45" stroke="#111" stroke-width="1.10" />
<text x="86.6" y="130.0" font-size="11.0" text-anchor="end" >0</text>
<text x="86.6" y="80.7" font-size="11.0" text-anchor="end" >0.2</text>
<text x="86.6" y="31.4" font-size="11.0" text-anchor="end" >0.4</text>
<text x="104.3" y="149.9" font-size="11.0" text-anchor="middle" >0</text>
<text x="167.9" y="149.9" font-size="11.0" text-anchor="middle" >5</text>
<text x="231.5" y="149.9" font-size="11.0" text-anchor="middle" >10</text>
<text x="166.7" y="161.7" font-size="12.4" text-anchor="middle" >Peak Number p</text>
<text x="0.0" y="0.0" font-size="12.4" text-anchor="middle" transform="translate(66.2,86.5) rotate(-90)">Relative peak position (V)</text>
<text x="96.5" y="46.0" font-size="16.0" text-anchor="start" >(c)</text>
<line x1="104.30" y1="126.40" x2="231.50" y2="35.50" stroke="#d8262b" stroke-width="1.20" stroke-dasharray="2.6 1.4"/>
<g fill="none" stroke="#d8262b" stroke-width="1.35"><circle cx="104.3" cy="126.4" r="2.6"/><circle cx="117.0" cy="117.3" r="2.6"/><circle cx="129.7" cy="108.2" r="2.6"/><circle cx="142.5" cy="99.1" r="2.6"/><circle cx="155.2" cy="90.0" r="2.6"/><circle cx="167.9" cy="81.0" r="2.6"/><circle cx="180.6" cy="71.9" r="2.6"/><circle cx="193.3" cy="62.8" r="2.6"/><circle cx="206.1" cy="53.7" r="2.6"/><circle cx="218.8" cy="44.6" r="2.6"/><circle cx="231.5" cy="35.5" r="2.6"/></g>
<rect x="166.4" y="106.3" width="71.3" height="29" fill="#fff" stroke="#222" stroke-width="1"/>
<circle cx="181.2" cy="115.1" r="2.4" fill="none" stroke="#d8262b" stroke-width="1.2"/>
<line x1="170.10" y1="127.00" x2="186.20" y2="127.00" stroke="#d8262b" stroke-width="1.60" stroke-dasharray="5.6 4.9"/>
<text x="191.5" y="118.0" font-size="10.6" text-anchor="start" >Data</text>
<text x="191.5" y="130.5" font-size="10.6" text-anchor="start" >Linear Fit</text>
<rect x="48.3" y="263.3" width="387.0" height="105.0" fill="none" stroke="#1a3a4a" stroke-width="0.8"/>
<line x1="48.30" y1="368.30" x2="48.30" y2="365.80" stroke="#222" stroke-width="0.90" />
<line x1="48.30" y1="263.30" x2="48.30" y2="265.80" stroke="#222" stroke-width="0.90" />
<line x1="96.67" y1="368.30" x2="96.67" y2="365.80" stroke="#222" stroke-width="0.90" />
<line x1="96.67" y1="263.30" x2="96.67" y2="265.80" stroke="#222" stroke-width="0.90" />
<line x1="145.05" y1="368.30" x2="145.05" y2="365.80" stroke="#222" stroke-width="0.90" />
<line x1="145.05" y1="263.30" x2="145.05" y2="265.80" stroke="#222" stroke-width="0.90" />
<line x1="193.43" y1="368.30" x2="193.43" y2="365.80" stroke="#222" stroke-width="0.90" />
<line x1="193.43" y1="263.30" x2="193.43" y2="265.80" stroke="#222" stroke-width="0.90" />
<line x1="241.80" y1="368.30" x2="241.80" y2="365.80" stroke="#222" stroke-width="0.90" />
<line x1="241.80" y1="263.30" x2="241.80" y2="265.80" stroke="#222" stroke-width="0.90" />
<line x1="290.18" y1="368.30" x2="290.18" y2="365.80" stroke="#222" stroke-width="0.90" />
<line x1="290.18" y1="263.30" x2="290.18" y2="265.80" stroke="#222" stroke-width="0.90" />
<line x1="338.55" y1="368.30" x2="338.55" y2="365.80" stroke="#222" stroke-width="0.90" />
<line x1="338.55" y1="263.30" x2="338.55" y2="265.80" stroke="#222" stroke-width="0.90" />
<line x1="386.92" y1="368.30" x2="386.92" y2="365.80" stroke="#222" stroke-width="0.90" />
<line x1="386.92" y1="263.30" x2="386.92" y2="265.80" stroke="#222" stroke-width="0.90" />
<line x1="435.30" y1="368.30" x2="435.30" y2="365.80" stroke="#222" stroke-width="0.90" />
<line x1="435.30" y1="263.30" x2="435.30" y2="265.80" stroke="#222" stroke-width="0.90" />
<line x1="48.30" y1="362.00" x2="50.80" y2="362.00" stroke="#222" stroke-width="0.90" />
<line x1="435.30" y1="362.00" x2="432.80" y2="362.00" stroke="#222" stroke-width="0.90" />
<line x1="48.30" y1="339.75" x2="50.80" y2="339.75" stroke="#222" stroke-width="0.90" />
<line x1="435.30" y1="339.75" x2="432.80" y2="339.75" stroke="#222" stroke-width="0.90" />
<line x1="48.30" y1="317.50" x2="50.80" y2="317.50" stroke="#222" stroke-width="0.90" />
<line x1="435.30" y1="317.50" x2="432.80" y2="317.50" stroke="#222" stroke-width="0.90" />
<line x1="48.30" y1="295.25" x2="50.80" y2="295.25" stroke="#222" stroke-width="0.90" />
<line x1="435.30" y1="295.25" x2="432.80" y2="295.25" stroke="#222" stroke-width="0.90" />
<line x1="48.30" y1="273.00" x2="50.80" y2="273.00" stroke="#222" stroke-width="0.90" />
<line x1="435.30" y1="273.00" x2="432.80" y2="273.00" stroke="#222" stroke-width="0.90" />
<text x="41.8" y="276.9" font-size="16.0" text-anchor="end" >1</text>
<text x="42.1" y="322.2" font-size="16.0" text-anchor="end" >0</text>
<text x="41.5" y="366.2" font-size="16.0" text-anchor="end" >-1</text>
<text x="47.1" y="386.3" font-size="16.0" text-anchor="middle" >13.2</text>
<text x="142.9" y="386.3" font-size="16.0" text-anchor="middle" >13.4</text>
<text x="241.4" y="386.3" font-size="16.0" text-anchor="middle" >13.6</text>
<text x="338.6" y="386.3" font-size="16.0" text-anchor="middle" >13.8</text>
<text x="433.6" y="386.3" font-size="16.0" text-anchor="middle" >14.0</text>
<text x="0" y="0" font-size="16" text-anchor="middle" transform="translate(17.2,314.5) rotate(-90)">V<tspan font-size="11" dy="4.2">SD</tspan><tspan dy="-4.2"> (mV)</tspan></text>
<text x="220.5" y="404" font-size="16">V<tspan font-size="11" dy="4.2">BG</tspan><tspan dy="-4.2"> (V)</tspan></text>
<text x="1.0" y="240.4" font-size="16.8" text-anchor="start" >(b)</text>
<rect x="450.2" y="263.4" width="20" height="104.8" fill="none" stroke="#222" stroke-width="0.6"/>
<line x1="450.20" y1="368.60" x2="452.20" y2="368.60" stroke="#222" stroke-width="0.80" />
<line x1="470.20" y1="368.60" x2="468.20" y2="368.60" stroke="#222" stroke-width="0.80" />
<text x="476.2" y="374.0" font-size="16.0" text-anchor="start" >0</text>
<line x1="450.20" y1="342.40" x2="452.20" y2="342.40" stroke="#222" stroke-width="0.80" />
<line x1="470.20" y1="342.40" x2="468.20" y2="342.40" stroke="#222" stroke-width="0.80" />
<text x="476.2" y="347.8" font-size="16.0" text-anchor="start" >5</text>
<line x1="450.20" y1="314.80" x2="452.20" y2="314.80" stroke="#222" stroke-width="0.80" />
<line x1="470.20" y1="314.80" x2="468.20" y2="314.80" stroke="#222" stroke-width="0.80" />
<text x="476.2" y="320.2" font-size="16.0" text-anchor="start" >10</text>
<line x1="450.20" y1="287.30" x2="452.20" y2="287.30" stroke="#222" stroke-width="0.80" />
<line x1="470.20" y1="287.30" x2="468.20" y2="287.30" stroke="#222" stroke-width="0.80" />
<text x="476.2" y="292.7" font-size="16.0" text-anchor="start" >15</text>
<text x="450.5" y="255.5" font-size="16.0" text-anchor="start" >pA</text>
<rect x="562.8" y="16.1" width="68.8" height="350.4" fill="none" stroke="#333" stroke-width="0.8"/>
<line x1="562.80" y1="331.50" x2="565.30" y2="331.50" stroke="#222" stroke-width="0.90" />
<line x1="631.60" y1="331.50" x2="629.10" y2="331.50" stroke="#222" stroke-width="0.90" />
<line x1="562.80" y1="261.50" x2="565.30" y2="261.50" stroke="#222" stroke-width="0.90" />
<line x1="631.60" y1="261.50" x2="629.10" y2="261.50" stroke="#222" stroke-width="0.90" />
<line x1="562.80" y1="191.50" x2="565.30" y2="191.50" stroke="#222" stroke-width="0.90" />
<line x1="631.60" y1="191.50" x2="629.10" y2="191.50" stroke="#222" stroke-width="0.90" />
<line x1="562.80" y1="121.50" x2="565.30" y2="121.50" stroke="#222" stroke-width="0.90" />
<line x1="631.60" y1="121.50" x2="629.10" y2="121.50" stroke="#222" stroke-width="0.90" />
<line x1="562.80" y1="51.50" x2="565.30" y2="51.50" stroke="#222" stroke-width="0.90" />
<line x1="631.60" y1="51.50" x2="629.10" y2="51.50" stroke="#222" stroke-width="0.90" />
<line x1="562.80" y1="296.50" x2="564.30" y2="296.50" stroke="#222" stroke-width="0.90" />
<line x1="631.60" y1="296.50" x2="630.10" y2="296.50" stroke="#222" stroke-width="0.90" />
<line x1="562.80" y1="226.50" x2="564.30" y2="226.50" stroke="#222" stroke-width="0.90" />
<line x1="631.60" y1="226.50" x2="630.10" y2="226.50" stroke="#222" stroke-width="0.90" />
<line x1="562.80" y1="156.50" x2="564.30" y2="156.50" stroke="#222" stroke-width="0.90" />
<line x1="631.60" y1="156.50" x2="630.10" y2="156.50" stroke="#222" stroke-width="0.90" />
<line x1="562.80" y1="86.50" x2="564.30" y2="86.50" stroke="#222" stroke-width="0.90" />
<line x1="631.60" y1="86.50" x2="630.10" y2="86.50" stroke="#222" stroke-width="0.90" />
<line x1="568.80" y1="366.50" x2="568.80" y2="364.00" stroke="#222" stroke-width="0.90" />
<line x1="568.80" y1="16.10" x2="568.80" y2="18.60" stroke="#222" stroke-width="0.90" />
<line x1="599.70" y1="366.50" x2="599.70" y2="364.00" stroke="#222" stroke-width="0.90" />
<line x1="599.70" y1="16.10" x2="599.70" y2="18.60" stroke="#222" stroke-width="0.90" />
<line x1="630.60" y1="366.50" x2="630.60" y2="364.00" stroke="#222" stroke-width="0.90" />
<line x1="630.60" y1="16.10" x2="630.60" y2="18.60" stroke="#222" stroke-width="0.90" />
<text x="558.8" y="57.0" font-size="16.0" text-anchor="end" >0.4</text>
<text x="558.8" y="127.0" font-size="16.0" text-anchor="end" >0.2</text>
<text x="554.2" y="197.0" font-size="16.0" text-anchor="end" >0</text>
<text x="558.8" y="267.0" font-size="16.0" text-anchor="end" >-0.2</text>
<text x="558.8" y="337.0" font-size="16.0" text-anchor="end" >-0.4</text>
<text x="568.8" y="382.1" font-size="16.0" text-anchor="middle" >-4</text>
<text x="599.7" y="382.1" font-size="16.0" text-anchor="middle" >-2</text>
<text x="630.6" y="382.1" font-size="16.0" text-anchor="middle" >0</text>
<text x="0" y="0" font-size="16" text-anchor="middle" transform="translate(526.2,189.8) rotate(-90)">V<tspan font-size="11" dy="4.2">SD</tspan><tspan dy="-4.2"> (mV)</tspan></text>
<text x="576" y="404" font-size="16">V<tspan font-size="11" dy="4.2">PG</tspan><tspan dy="-4.2"> (V)</tspan></text>
<text x="508.4" y="18.3" font-size="16.8" text-anchor="start" >(d)</text>
<g fill="#111"><circle cx="563.20" cy="183.60" r="1.45"/><circle cx="565.60" cy="178.95" r="1.45"/><circle cx="568.01" cy="174.31" r="1.45"/><circle cx="570.41" cy="169.66" r="1.45"/><circle cx="572.81" cy="165.01" r="1.45"/><circle cx="575.22" cy="160.37" r="1.45"/><circle cx="577.62" cy="155.72" r="1.45"/><circle cx="580.03" cy="151.07" r="1.45"/><circle cx="582.43" cy="146.43" r="1.45"/><circle cx="584.83" cy="141.78" r="1.45"/><circle cx="587.24" cy="137.14" r="1.45"/><circle cx="589.64" cy="132.49" r="1.45"/><circle cx="592.04" cy="127.84" r="1.45"/><circle cx="594.45" cy="123.20" r="1.45"/><circle cx="596.85" cy="118.55" r="1.45"/><circle cx="599.25" cy="113.90" r="1.45"/><circle cx="601.66" cy="109.26" r="1.45"/><circle cx="604.06" cy="104.61" r="1.45"/><circle cx="606.46" cy="99.96" r="1.45"/><circle cx="608.87" cy="95.32" r="1.45"/><circle cx="611.27" cy="90.67" r="1.45"/><circle cx="613.67" cy="86.02" r="1.45"/><circle cx="616.08" cy="81.38" r="1.45"/><circle cx="618.48" cy="76.73" r="1.45"/><circle cx="620.89" cy="72.09" r="1.45"/><circle cx="623.29" cy="67.44" r="1.45"/><circle cx="625.69" cy="62.79" r="1.45"/><circle cx="628.10" cy="58.15" r="1.45"/><circle cx="630.50" cy="53.50" r="1.45"/><circle cx="563.80" cy="198.80" r="1.45"/><circle cx="566.85" cy="203.03" r="1.45"/><circle cx="569.91" cy="207.25" r="1.45"/><circle cx="572.96" cy="211.48" r="1.45"/><circle cx="576.02" cy="215.71" r="1.45"/><circle cx="579.07" cy="219.94" r="1.45"/><circle cx="582.13" cy="224.16" r="1.45"/><circle cx="585.18" cy="228.39" r="1.45"/><circle cx="588.24" cy="232.62" r="1.45"/><circle cx="591.29" cy="236.85" r="1.45"/><circle cx="594.35" cy="241.07" r="1.45"/><circle cx="597.40" cy="245.30" r="1.45"/><circle cx="600.45" cy="249.53" r="1.45"/><circle cx="603.51" cy="253.75" r="1.45"/><circle cx="606.56" cy="257.98" r="1.45"/><circle cx="609.62" cy="262.21" r="1.45"/><circle cx="612.67" cy="266.44" r="1.45"/><circle cx="615.73" cy="270.66" r="1.45"/><circle cx="618.78" cy="274.89" r="1.45"/><circle cx="621.84" cy="279.12" r="1.45"/><circle cx="624.89" cy="283.35" r="1.45"/><circle cx="627.95" cy="287.57" r="1.45"/><circle cx="631.00" cy="291.80" r="1.45"/></g>
<rect x="645.1" y="16.1" width="14.4" height="351" fill="none" stroke="#222" stroke-width="0.6"/>
<line x1="645.10" y1="359.90" x2="646.60" y2="359.90" stroke="#222" stroke-width="0.80" />
<line x1="659.20" y1="359.90" x2="657.70" y2="359.90" stroke="#222" stroke-width="0.80" />
<line x1="645.10" y1="325.10" x2="647.60" y2="325.10" stroke="#222" stroke-width="0.80" />
<line x1="659.20" y1="325.10" x2="656.70" y2="325.10" stroke="#222" stroke-width="0.80" />
<line x1="645.10" y1="290.30" x2="646.60" y2="290.30" stroke="#222" stroke-width="0.80" />
<line x1="659.20" y1="290.30" x2="657.70" y2="290.30" stroke="#222" stroke-width="0.80" />
<line x1="645.10" y1="255.50" x2="647.60" y2="255.50" stroke="#222" stroke-width="0.80" />
<line x1="659.20" y1="255.50" x2="656.70" y2="255.50" stroke="#222" stroke-width="0.80" />
<line x1="645.10" y1="220.70" x2="646.60" y2="220.70" stroke="#222" stroke-width="0.80" />
<line x1="659.20" y1="220.70" x2="657.70" y2="220.70" stroke="#222" stroke-width="0.80" />
<line x1="645.10" y1="185.90" x2="647.60" y2="185.90" stroke="#222" stroke-width="0.80" />
<line x1="659.20" y1="185.90" x2="656.70" y2="185.90" stroke="#222" stroke-width="0.80" />
<line x1="645.10" y1="151.10" x2="646.60" y2="151.10" stroke="#222" stroke-width="0.80" />
<line x1="659.20" y1="151.10" x2="657.70" y2="151.10" stroke="#222" stroke-width="0.80" />
<line x1="645.10" y1="116.30" x2="647.60" y2="116.30" stroke="#222" stroke-width="0.80" />
<line x1="659.20" y1="116.30" x2="656.70" y2="116.30" stroke="#222" stroke-width="0.80" />
<line x1="645.10" y1="81.50" x2="646.60" y2="81.50" stroke="#222" stroke-width="0.80" />
<line x1="659.20" y1="81.50" x2="657.70" y2="81.50" stroke="#222" stroke-width="0.80" />
<line x1="645.10" y1="46.70" x2="647.60" y2="46.70" stroke="#222" stroke-width="0.80" />
<line x1="659.20" y1="46.70" x2="656.70" y2="46.70" stroke="#222" stroke-width="0.80" />
<text x="664.0" y="52.2" font-size="16.0" text-anchor="start" >20</text>
<text x="664.0" y="121.8" font-size="16.0" text-anchor="start" >16</text>
<text x="664.0" y="191.4" font-size="16.0" text-anchor="start" >12</text>
<text x="664.0" y="261.0" font-size="16.0" text-anchor="start" >8</text>
<text x="664.0" y="330.6" font-size="16.0" text-anchor="start" >4</text>
<text x="664.0" y="12.6" font-size="16.0" text-anchor="start" >pA</text>
</svg>
</body></html>
